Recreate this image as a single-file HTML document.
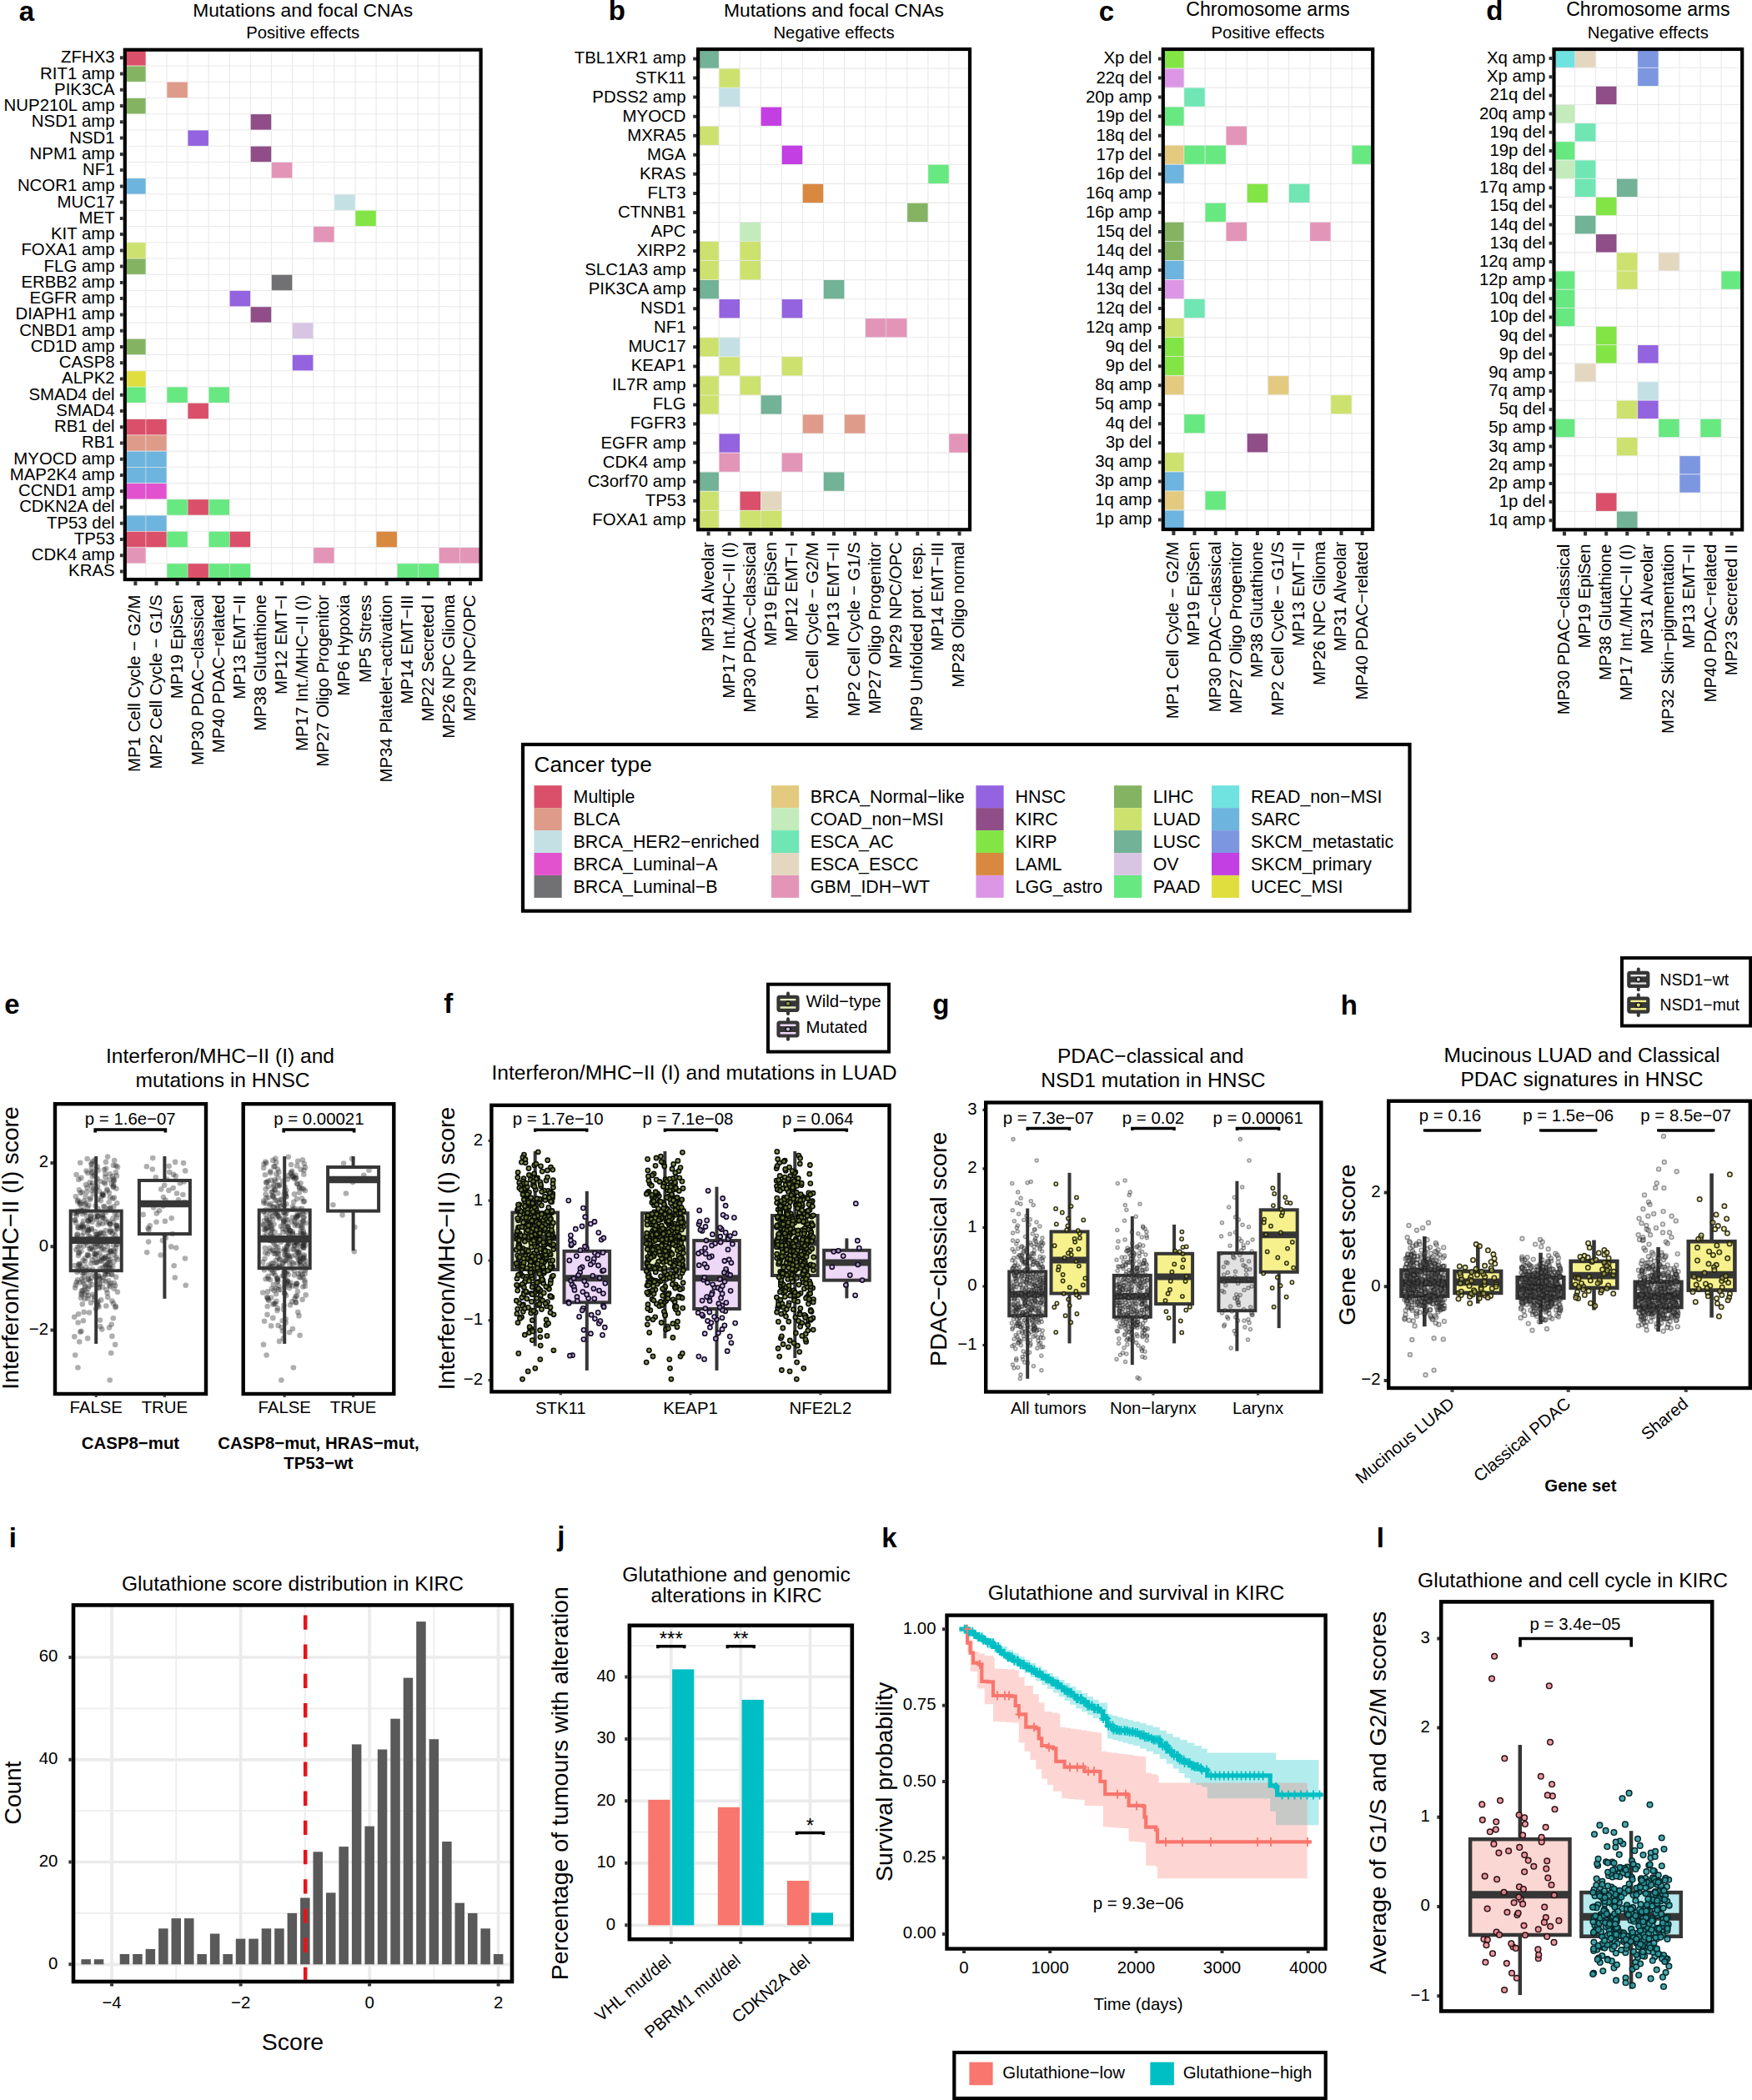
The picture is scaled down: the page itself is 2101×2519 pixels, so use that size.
<!DOCTYPE html>
<html lang="en"><head><meta charset="utf-8"><title>Figure</title>
<style>html,body{margin:0;padding:0;background:#fff}svg{display:block}text{font-family:"Liberation Sans",Arial,Helvetica,sans-serif}</style></head><body>
<svg width="2101" height="2519" viewBox="0 0 2101 2519">
<rect width="2101" height="2519" fill="#fff"/>
<g>
<path d="M174.9 59.7V695.1M200 59.7V695.1M225.1 59.7V695.1M250.2 59.7V695.1M275.3 59.7V695.1M300.4 59.7V695.1M325.5 59.7V695.1M350.6 59.7V695.1M375.8 59.7V695.1M400.9 59.7V695.1M426 59.7V695.1M451.1 59.7V695.1M476.2 59.7V695.1M501.3 59.7V695.1M526.4 59.7V695.1M551.5 59.7V695.1M149.8 79H576.6M149.8 98.2H576.6M149.8 117.5H576.6M149.8 136.7H576.6M149.8 156H576.6M149.8 175.2H576.6M149.8 194.5H576.6M149.8 213.7H576.6M149.8 233H576.6M149.8 252.2H576.6M149.8 271.5H576.6M149.8 290.8H576.6M149.8 310H576.6M149.8 329.3H576.6M149.8 348.5H576.6M149.8 367.8H576.6M149.8 387H576.6M149.8 406.3H576.6M149.8 425.5H576.6M149.8 444.8H576.6M149.8 464H576.6M149.8 483.3H576.6M149.8 502.6H576.6M149.8 521.8H576.6M149.8 541.1H576.6M149.8 560.3H576.6M149.8 579.6H576.6M149.8 598.8H576.6M149.8 618.1H576.6M149.8 637.3H576.6M149.8 656.6H576.6M149.8 675.8H576.6" stroke="#e9e9e9" stroke-width="1.1" fill="none"/>
<rect x="150.1" y="60.1" width="24.5" height="18.5" fill="#DA506A"/>
<rect x="150.1" y="79.4" width="24.5" height="18.5" fill="#84B462"/>
<rect x="200.3" y="98.6" width="24.5" height="18.5" fill="#DE9B89"/>
<rect x="150.1" y="117.9" width="24.5" height="18.5" fill="#84B462"/>
<rect x="300.7" y="137.1" width="24.5" height="18.5" fill="#8F4E88"/>
<rect x="225.4" y="156.4" width="24.5" height="18.5" fill="#9363E0"/>
<rect x="300.7" y="175.6" width="24.5" height="18.5" fill="#8F4E88"/>
<rect x="325.8" y="194.9" width="24.5" height="18.5" fill="#E395B8"/>
<rect x="150.1" y="214.1" width="24.5" height="18.5" fill="#6DB4DE"/>
<rect x="401.2" y="233.4" width="24.5" height="18.5" fill="#C4E0E4"/>
<rect x="426.3" y="252.6" width="24.5" height="18.5" fill="#83E545"/>
<rect x="376.1" y="271.9" width="24.5" height="18.5" fill="#E395B8"/>
<rect x="150.1" y="291.2" width="24.5" height="18.5" fill="#CDE16E"/>
<rect x="150.1" y="310.4" width="24.5" height="18.5" fill="#84B462"/>
<rect x="325.8" y="329.7" width="24.5" height="18.5" fill="#717073"/>
<rect x="275.6" y="348.9" width="24.5" height="18.5" fill="#9363E0"/>
<rect x="300.7" y="368.2" width="24.5" height="18.5" fill="#8F4E88"/>
<rect x="350.9" y="387.4" width="24.5" height="18.5" fill="#D8C5E3"/>
<rect x="150.1" y="406.7" width="24.5" height="18.5" fill="#84B462"/>
<rect x="350.9" y="425.9" width="24.5" height="18.5" fill="#9363E0"/>
<rect x="150.1" y="445.2" width="24.5" height="18.5" fill="#DFDE3E"/>
<rect x="150.1" y="464.4" width="24.5" height="18.5" fill="#67E881"/>
<rect x="200.3" y="464.4" width="24.5" height="18.5" fill="#67E881"/>
<rect x="250.5" y="464.4" width="24.5" height="18.5" fill="#67E881"/>
<rect x="225.4" y="483.7" width="24.5" height="18.5" fill="#DA506A"/>
<rect x="150.1" y="503" width="24.5" height="18.5" fill="#DA506A"/>
<rect x="175.2" y="503" width="24.5" height="18.5" fill="#DA506A"/>
<rect x="150.1" y="522.2" width="24.5" height="18.5" fill="#DE9B89"/>
<rect x="175.2" y="522.2" width="24.5" height="18.5" fill="#DE9B89"/>
<rect x="150.1" y="541.5" width="24.5" height="18.5" fill="#6DB4DE"/>
<rect x="175.2" y="541.5" width="24.5" height="18.5" fill="#6DB4DE"/>
<rect x="150.1" y="560.7" width="24.5" height="18.5" fill="#6DB4DE"/>
<rect x="175.2" y="560.7" width="24.5" height="18.5" fill="#6DB4DE"/>
<rect x="150.1" y="580" width="24.5" height="18.5" fill="#E252CE"/>
<rect x="175.2" y="580" width="24.5" height="18.5" fill="#E252CE"/>
<rect x="200.3" y="599.2" width="24.5" height="18.5" fill="#67E881"/>
<rect x="225.4" y="599.2" width="24.5" height="18.5" fill="#DA506A"/>
<rect x="250.5" y="599.2" width="24.5" height="18.5" fill="#67E881"/>
<rect x="150.1" y="618.5" width="24.5" height="18.5" fill="#6DB4DE"/>
<rect x="175.2" y="618.5" width="24.5" height="18.5" fill="#6DB4DE"/>
<rect x="150.1" y="637.7" width="24.5" height="18.5" fill="#DA506A"/>
<rect x="175.2" y="637.7" width="24.5" height="18.5" fill="#DA506A"/>
<rect x="200.3" y="637.7" width="24.5" height="18.5" fill="#67E881"/>
<rect x="250.5" y="637.7" width="24.5" height="18.5" fill="#67E881"/>
<rect x="275.6" y="637.7" width="24.5" height="18.5" fill="#DA506A"/>
<rect x="451.4" y="637.7" width="24.5" height="18.5" fill="#D98840"/>
<rect x="150.1" y="657" width="24.5" height="18.5" fill="#E395B8"/>
<rect x="376.1" y="657" width="24.5" height="18.5" fill="#E395B8"/>
<rect x="526.7" y="657" width="24.5" height="18.5" fill="#E395B8"/>
<rect x="551.8" y="657" width="24.5" height="18.5" fill="#E395B8"/>
<rect x="200.3" y="676.2" width="24.5" height="18.5" fill="#67E881"/>
<rect x="225.4" y="676.2" width="24.5" height="18.5" fill="#DA506A"/>
<rect x="250.5" y="676.2" width="24.5" height="18.5" fill="#67E881"/>
<rect x="275.6" y="676.2" width="24.5" height="18.5" fill="#67E881"/>
<rect x="476.5" y="676.2" width="24.5" height="18.5" fill="#67E881"/>
<rect x="501.6" y="676.2" width="24.5" height="18.5" fill="#67E881"/>
<rect x="149.8" y="59.7" width="426.8" height="635.4" fill="none" stroke="#000" stroke-width="4.2"/>
<path d="M147.7 69.3h-3.8M147.7 88.6h-3.8M147.7 107.8h-3.8M147.7 127.1h-3.8M147.7 146.3h-3.8M147.7 165.6h-3.8M147.7 184.9h-3.8M147.7 204.1h-3.8M147.7 223.4h-3.8M147.7 242.6h-3.8M147.7 261.9h-3.8M147.7 281.1h-3.8M147.7 300.4h-3.8M147.7 319.6h-3.8M147.7 338.9h-3.8M147.7 358.1h-3.8M147.7 377.4h-3.8M147.7 396.7h-3.8M147.7 415.9h-3.8M147.7 435.2h-3.8M147.7 454.4h-3.8M147.7 473.7h-3.8M147.7 492.9h-3.8M147.7 512.2h-3.8M147.7 531.4h-3.8M147.7 550.7h-3.8M147.7 569.9h-3.8M147.7 589.2h-3.8M147.7 608.5h-3.8M147.7 627.7h-3.8M147.7 647h-3.8M147.7 666.2h-3.8M147.7 685.5h-3.8M162.4 697.2v5M187.5 697.2v5M212.6 697.2v5M237.7 697.2v5M262.8 697.2v5M287.9 697.2v5M313 697.2v5M338.1 697.2v5M363.2 697.2v5M388.3 697.2v5M413.4 697.2v5M438.5 697.2v5M463.6 697.2v5M488.7 697.2v5M513.8 697.2v5M538.9 697.2v5M564 697.2v5" stroke="#333" stroke-width="4" fill="none"/>
<text x="137.6" y="75.2" font-size="20.4" text-anchor="end">ZFHX3</text>
<text x="137.6" y="94.5" font-size="20.4" text-anchor="end">RIT1 amp</text>
<text x="137.6" y="113.7" font-size="20.4" text-anchor="end">PIK3CA</text>
<text x="137.6" y="133" font-size="20.4" text-anchor="end">NUP210L amp</text>
<text x="137.6" y="152.2" font-size="20.4" text-anchor="end">NSD1 amp</text>
<text x="137.6" y="171.5" font-size="20.4" text-anchor="end">NSD1</text>
<text x="137.6" y="190.8" font-size="20.4" text-anchor="end">NPM1 amp</text>
<text x="137.6" y="210" font-size="20.4" text-anchor="end">NF1</text>
<text x="137.6" y="229.3" font-size="20.4" text-anchor="end">NCOR1 amp</text>
<text x="137.6" y="248.5" font-size="20.4" text-anchor="end">MUC17</text>
<text x="137.6" y="267.8" font-size="20.4" text-anchor="end">MET</text>
<text x="137.6" y="287" font-size="20.4" text-anchor="end">KIT amp</text>
<text x="137.6" y="306.3" font-size="20.4" text-anchor="end">FOXA1 amp</text>
<text x="137.6" y="325.5" font-size="20.4" text-anchor="end">FLG amp</text>
<text x="137.6" y="344.8" font-size="20.4" text-anchor="end">ERBB2 amp</text>
<text x="137.6" y="364" font-size="20.4" text-anchor="end">EGFR amp</text>
<text x="137.6" y="383.3" font-size="20.4" text-anchor="end">DIAPH1 amp</text>
<text x="137.6" y="402.6" font-size="20.4" text-anchor="end">CNBD1 amp</text>
<text x="137.6" y="421.8" font-size="20.4" text-anchor="end">CD1D amp</text>
<text x="137.6" y="441.1" font-size="20.4" text-anchor="end">CASP8</text>
<text x="137.6" y="460.3" font-size="20.4" text-anchor="end">ALPK2</text>
<text x="137.6" y="479.6" font-size="20.4" text-anchor="end">SMAD4 del</text>
<text x="137.6" y="498.8" font-size="20.4" text-anchor="end">SMAD4</text>
<text x="137.6" y="518.1" font-size="20.4" text-anchor="end">RB1 del</text>
<text x="137.6" y="537.3" font-size="20.4" text-anchor="end">RB1</text>
<text x="137.6" y="556.6" font-size="20.4" text-anchor="end">MYOCD amp</text>
<text x="137.6" y="575.8" font-size="20.4" text-anchor="end">MAP2K4 amp</text>
<text x="137.6" y="595.1" font-size="20.4" text-anchor="end">CCND1 amp</text>
<text x="137.6" y="614.4" font-size="20.4" text-anchor="end">CDKN2A del</text>
<text x="137.6" y="633.6" font-size="20.4" text-anchor="end">TP53 del</text>
<text x="137.6" y="652.9" font-size="20.4" text-anchor="end">TP53</text>
<text x="137.6" y="672.1" font-size="20.4" text-anchor="end">CDK4 amp</text>
<text x="137.6" y="691.4" font-size="20.4" text-anchor="end">KRAS</text>
<text x="168.4" y="713.5" font-size="20.4" text-anchor="end" transform="rotate(-90 168.4 713.5)">MP1 Cell Cycle − G2/M</text>
<text x="193.5" y="713.5" font-size="20.4" text-anchor="end" transform="rotate(-90 193.5 713.5)">MP2 Cell Cycle − G1/S</text>
<text x="218.6" y="713.5" font-size="20.4" text-anchor="end" transform="rotate(-90 218.6 713.5)">MP19 EpiSen</text>
<text x="243.7" y="713.5" font-size="20.4" text-anchor="end" transform="rotate(-90 243.7 713.5)">MP30 PDAC−classical</text>
<text x="268.8" y="713.5" font-size="20.4" text-anchor="end" transform="rotate(-90 268.8 713.5)">MP40 PDAC−related</text>
<text x="293.9" y="713.5" font-size="20.4" text-anchor="end" transform="rotate(-90 293.9 713.5)">MP13 EMT−II</text>
<text x="319" y="713.5" font-size="20.4" text-anchor="end" transform="rotate(-90 319 713.5)">MP38 Glutathione</text>
<text x="344.1" y="713.5" font-size="20.4" text-anchor="end" transform="rotate(-90 344.1 713.5)">MP12 EMT−I</text>
<text x="369.2" y="713.5" font-size="20.4" text-anchor="end" transform="rotate(-90 369.2 713.5)">MP17 Int./MHC−II (I)</text>
<text x="394.3" y="713.5" font-size="20.4" text-anchor="end" transform="rotate(-90 394.3 713.5)">MP27 Oligo Progenitor</text>
<text x="419.4" y="713.5" font-size="20.4" text-anchor="end" transform="rotate(-90 419.4 713.5)">MP6 Hypoxia</text>
<text x="444.5" y="713.5" font-size="20.4" text-anchor="end" transform="rotate(-90 444.5 713.5)">MP5 Stress</text>
<text x="469.6" y="713.5" font-size="20.4" text-anchor="end" transform="rotate(-90 469.6 713.5)">MP34 Platelet−activation</text>
<text x="494.7" y="713.5" font-size="20.4" text-anchor="end" transform="rotate(-90 494.7 713.5)">MP14 EMT−III</text>
<text x="519.8" y="713.5" font-size="20.4" text-anchor="end" transform="rotate(-90 519.8 713.5)">MP22 Secreted I</text>
<text x="544.9" y="713.5" font-size="20.4" text-anchor="end" transform="rotate(-90 544.9 713.5)">MP26 NPC Glioma</text>
<text x="570" y="713.5" font-size="20.4" text-anchor="end" transform="rotate(-90 570 713.5)">MP29 NPC/OPC</text>
<text x="363.2" y="20" font-size="22.85" text-anchor="middle">Mutations and focal CNAs</text>
<text x="363.2" y="46" font-size="20.3" text-anchor="middle">Positive effects</text>
</g>
<g>
<path d="M862.2 59V635.3M887.2 59V635.3M912.3 59V635.3M937.4 59V635.3M962.4 59V635.3M987.5 59V635.3M1012.6 59V635.3M1037.7 59V635.3M1062.7 59V635.3M1087.8 59V635.3M1112.9 59V635.3M1137.9 59V635.3M837.1 82.1H1163M837.1 105.1H1163M837.1 128.2H1163M837.1 151.2H1163M837.1 174.3H1163M837.1 197.3H1163M837.1 220.4H1163M837.1 243.4H1163M837.1 266.5H1163M837.1 289.5H1163M837.1 312.6H1163M837.1 335.6H1163M837.1 358.7H1163M837.1 381.7H1163M837.1 404.8H1163M837.1 427.8H1163M837.1 450.9H1163M837.1 473.9H1163M837.1 497H1163M837.1 520H1163M837.1 543.1H1163M837.1 566.1H1163M837.1 589.2H1163M837.1 612.2H1163" stroke="#e9e9e9" stroke-width="1.1" fill="none"/>
<rect x="837.4" y="59.4" width="24.5" height="22.3" fill="#72B297"/>
<rect x="862.5" y="82.5" width="24.5" height="22.3" fill="#CDE16E"/>
<rect x="862.5" y="105.5" width="24.5" height="22.3" fill="#C4E0E4"/>
<rect x="912.6" y="128.6" width="24.5" height="22.3" fill="#C33FE4"/>
<rect x="837.4" y="151.6" width="24.5" height="22.3" fill="#CDE16E"/>
<rect x="937.7" y="174.7" width="24.5" height="22.3" fill="#C33FE4"/>
<rect x="1113.2" y="197.7" width="24.5" height="22.3" fill="#67E881"/>
<rect x="962.7" y="220.8" width="24.5" height="22.3" fill="#D98840"/>
<rect x="1088.1" y="243.8" width="24.5" height="22.3" fill="#84B462"/>
<rect x="887.5" y="266.9" width="24.5" height="22.3" fill="#C3EBBC"/>
<rect x="837.4" y="289.9" width="24.5" height="22.3" fill="#CDE16E"/>
<rect x="887.5" y="289.9" width="24.5" height="22.3" fill="#CDE16E"/>
<rect x="837.4" y="313" width="24.5" height="22.3" fill="#CDE16E"/>
<rect x="887.5" y="313" width="24.5" height="22.3" fill="#CDE16E"/>
<rect x="837.4" y="336" width="24.5" height="22.3" fill="#72B297"/>
<rect x="987.8" y="336" width="24.5" height="22.3" fill="#72B297"/>
<rect x="862.5" y="359.1" width="24.5" height="22.3" fill="#9363E0"/>
<rect x="937.7" y="359.1" width="24.5" height="22.3" fill="#9363E0"/>
<rect x="1038" y="382.1" width="24.5" height="22.3" fill="#E395B8"/>
<rect x="1063" y="382.1" width="24.5" height="22.3" fill="#E395B8"/>
<rect x="837.4" y="405.2" width="24.5" height="22.3" fill="#CDE16E"/>
<rect x="862.5" y="405.2" width="24.5" height="22.3" fill="#C4E0E4"/>
<rect x="862.5" y="428.2" width="24.5" height="22.3" fill="#CDE16E"/>
<rect x="937.7" y="428.2" width="24.5" height="22.3" fill="#CDE16E"/>
<rect x="837.4" y="451.3" width="24.5" height="22.3" fill="#CDE16E"/>
<rect x="887.5" y="451.3" width="24.5" height="22.3" fill="#CDE16E"/>
<rect x="837.4" y="474.3" width="24.5" height="22.3" fill="#CDE16E"/>
<rect x="912.6" y="474.3" width="24.5" height="22.3" fill="#72B297"/>
<rect x="962.7" y="497.4" width="24.5" height="22.3" fill="#DE9B89"/>
<rect x="1012.9" y="497.4" width="24.5" height="22.3" fill="#DE9B89"/>
<rect x="862.5" y="520.4" width="24.5" height="22.3" fill="#9363E0"/>
<rect x="1138.2" y="520.4" width="24.5" height="22.3" fill="#E395B8"/>
<rect x="862.5" y="543.5" width="24.5" height="22.3" fill="#E395B8"/>
<rect x="937.7" y="543.5" width="24.5" height="22.3" fill="#E395B8"/>
<rect x="837.4" y="566.5" width="24.5" height="22.3" fill="#72B297"/>
<rect x="987.8" y="566.5" width="24.5" height="22.3" fill="#72B297"/>
<rect x="837.4" y="589.6" width="24.5" height="22.3" fill="#CDE16E"/>
<rect x="887.5" y="589.6" width="24.5" height="22.3" fill="#DA506A"/>
<rect x="912.6" y="589.6" width="24.5" height="22.3" fill="#E3D7C0"/>
<rect x="837.4" y="612.6" width="24.5" height="22.3" fill="#CDE16E"/>
<rect x="887.5" y="612.6" width="24.5" height="22.3" fill="#CDE16E"/>
<rect x="912.6" y="612.6" width="24.5" height="22.3" fill="#CDE16E"/>
<rect x="837.1" y="59" width="325.9" height="576.3" fill="none" stroke="#000" stroke-width="4.2"/>
<path d="M835 70.5h-3.8M835 93.6h-3.8M835 116.6h-3.8M835 139.7h-3.8M835 162.7h-3.8M835 185.8h-3.8M835 208.8h-3.8M835 231.9h-3.8M835 254.9h-3.8M835 278h-3.8M835 301h-3.8M835 324.1h-3.8M835 347.1h-3.8M835 370.2h-3.8M835 393.3h-3.8M835 416.3h-3.8M835 439.4h-3.8M835 462.4h-3.8M835 485.5h-3.8M835 508.5h-3.8M835 531.6h-3.8M835 554.6h-3.8M835 577.7h-3.8M835 600.7h-3.8M835 623.8h-3.8M849.6 637.4v5M874.7 637.4v5M899.8 637.4v5M924.8 637.4v5M949.9 637.4v5M975 637.4v5M1000 637.4v5M1025.1 637.4v5M1050.2 637.4v5M1075.3 637.4v5M1100.3 637.4v5M1125.4 637.4v5M1150.5 637.4v5" stroke="#333" stroke-width="4" fill="none"/>
<text x="822.5" y="76.4" font-size="20.4" text-anchor="end">TBL1XR1 amp</text>
<text x="822.5" y="99.5" font-size="20.4" text-anchor="end">STK11</text>
<text x="822.5" y="122.5" font-size="20.4" text-anchor="end">PDSS2 amp</text>
<text x="822.5" y="145.6" font-size="20.4" text-anchor="end">MYOCD</text>
<text x="822.5" y="168.6" font-size="20.4" text-anchor="end">MXRA5</text>
<text x="822.5" y="191.7" font-size="20.4" text-anchor="end">MGA</text>
<text x="822.5" y="214.7" font-size="20.4" text-anchor="end">KRAS</text>
<text x="822.5" y="237.8" font-size="20.4" text-anchor="end">FLT3</text>
<text x="822.5" y="260.8" font-size="20.4" text-anchor="end">CTNNB1</text>
<text x="822.5" y="283.9" font-size="20.4" text-anchor="end">APC</text>
<text x="822.5" y="306.9" font-size="20.4" text-anchor="end">XIRP2</text>
<text x="822.5" y="330" font-size="20.4" text-anchor="end">SLC1A3 amp</text>
<text x="822.5" y="353" font-size="20.4" text-anchor="end">PIK3CA amp</text>
<text x="822.5" y="376.1" font-size="20.4" text-anchor="end">NSD1</text>
<text x="822.5" y="399.2" font-size="20.4" text-anchor="end">NF1</text>
<text x="822.5" y="422.2" font-size="20.4" text-anchor="end">MUC17</text>
<text x="822.5" y="445.3" font-size="20.4" text-anchor="end">KEAP1</text>
<text x="822.5" y="468.3" font-size="20.4" text-anchor="end">IL7R amp</text>
<text x="822.5" y="491.4" font-size="20.4" text-anchor="end">FLG</text>
<text x="822.5" y="514.4" font-size="20.4" text-anchor="end">FGFR3</text>
<text x="822.5" y="537.5" font-size="20.4" text-anchor="end">EGFR amp</text>
<text x="822.5" y="560.5" font-size="20.4" text-anchor="end">CDK4 amp</text>
<text x="822.5" y="583.6" font-size="20.4" text-anchor="end">C3orf70 amp</text>
<text x="822.5" y="606.6" font-size="20.4" text-anchor="end">TP53</text>
<text x="822.5" y="629.7" font-size="20.4" text-anchor="end">FOXA1 amp</text>
<text x="855.6" y="650.2" font-size="20.4" text-anchor="end" transform="rotate(-90 855.6 650.2)">MP31 Alveolar</text>
<text x="880.7" y="650.2" font-size="20.4" text-anchor="end" transform="rotate(-90 880.7 650.2)">MP17 Int./MHC−II (I)</text>
<text x="905.8" y="650.2" font-size="20.4" text-anchor="end" transform="rotate(-90 905.8 650.2)">MP30 PDAC−classical</text>
<text x="930.8" y="650.2" font-size="20.4" text-anchor="end" transform="rotate(-90 930.8 650.2)">MP19 EpiSen</text>
<text x="955.9" y="650.2" font-size="20.4" text-anchor="end" transform="rotate(-90 955.9 650.2)">MP12 EMT−I</text>
<text x="981" y="650.2" font-size="20.4" text-anchor="end" transform="rotate(-90 981 650.2)">MP1 Cell Cycle − G2/M</text>
<text x="1006" y="650.2" font-size="20.4" text-anchor="end" transform="rotate(-90 1006 650.2)">MP13 EMT−II</text>
<text x="1031.1" y="650.2" font-size="20.4" text-anchor="end" transform="rotate(-90 1031.1 650.2)">MP2 Cell Cycle − G1/S</text>
<text x="1056.2" y="650.2" font-size="20.4" text-anchor="end" transform="rotate(-90 1056.2 650.2)">MP27 Oligo Progenitor</text>
<text x="1081.3" y="650.2" font-size="20.4" text-anchor="end" transform="rotate(-90 1081.3 650.2)">MP29 NPC/OPC</text>
<text x="1106.3" y="650.2" font-size="20.4" text-anchor="end" transform="rotate(-90 1106.3 650.2)">MP9 Unfolded prot. resp.</text>
<text x="1131.4" y="650.2" font-size="20.4" text-anchor="end" transform="rotate(-90 1131.4 650.2)">MP14 EMT−III</text>
<text x="1156.5" y="650.2" font-size="20.4" text-anchor="end" transform="rotate(-90 1156.5 650.2)">MP28 Oligo normal</text>
<text x="1000" y="20" font-size="22.85" text-anchor="middle">Mutations and focal CNAs</text>
<text x="1000" y="46" font-size="20.3" text-anchor="middle">Negative effects</text>
</g>
<g>
<path d="M1419.9 59V635M1445.1 59V635M1470.2 59V635M1495.4 59V635M1520.5 59V635M1545.6 59V635M1570.8 59V635M1595.9 59V635M1621.1 59V635M1394.8 82H1646.2M1394.8 105.1H1646.2M1394.8 128.1H1646.2M1394.8 151.2H1646.2M1394.8 174.2H1646.2M1394.8 197.2H1646.2M1394.8 220.3H1646.2M1394.8 243.3H1646.2M1394.8 266.4H1646.2M1394.8 289.4H1646.2M1394.8 312.4H1646.2M1394.8 335.5H1646.2M1394.8 358.5H1646.2M1394.8 381.6H1646.2M1394.8 404.6H1646.2M1394.8 427.6H1646.2M1394.8 450.7H1646.2M1394.8 473.7H1646.2M1394.8 496.8H1646.2M1394.8 519.8H1646.2M1394.8 542.8H1646.2M1394.8 565.9H1646.2M1394.8 588.9H1646.2M1394.8 612H1646.2" stroke="#e9e9e9" stroke-width="1.1" fill="none"/>
<rect x="1395.1" y="59.4" width="24.5" height="22.2" fill="#83E545"/>
<rect x="1395.1" y="82.4" width="24.5" height="22.2" fill="#DB97E6"/>
<rect x="1420.2" y="105.5" width="24.5" height="22.2" fill="#70E6B5"/>
<rect x="1395.1" y="128.5" width="24.5" height="22.2" fill="#67E881"/>
<rect x="1470.5" y="151.6" width="24.5" height="22.2" fill="#E395B8"/>
<rect x="1395.1" y="174.6" width="24.5" height="22.2" fill="#E3CA80"/>
<rect x="1420.2" y="174.6" width="24.5" height="22.2" fill="#67E881"/>
<rect x="1445.4" y="174.6" width="24.5" height="22.2" fill="#67E881"/>
<rect x="1621.4" y="174.6" width="24.5" height="22.2" fill="#67E881"/>
<rect x="1395.1" y="197.6" width="24.5" height="22.2" fill="#6DB4DE"/>
<rect x="1495.7" y="220.7" width="24.5" height="22.2" fill="#83E545"/>
<rect x="1545.9" y="220.7" width="24.5" height="22.2" fill="#70E6B5"/>
<rect x="1445.4" y="243.7" width="24.5" height="22.2" fill="#67E881"/>
<rect x="1395.1" y="266.8" width="24.5" height="22.2" fill="#84B462"/>
<rect x="1470.5" y="266.8" width="24.5" height="22.2" fill="#E395B8"/>
<rect x="1571.1" y="266.8" width="24.5" height="22.2" fill="#E395B8"/>
<rect x="1395.1" y="289.8" width="24.5" height="22.2" fill="#84B462"/>
<rect x="1395.1" y="312.8" width="24.5" height="22.2" fill="#6DB4DE"/>
<rect x="1395.1" y="335.9" width="24.5" height="22.2" fill="#DB97E6"/>
<rect x="1420.2" y="358.9" width="24.5" height="22.2" fill="#70E6B5"/>
<rect x="1395.1" y="382" width="24.5" height="22.2" fill="#CDE16E"/>
<rect x="1395.1" y="405" width="24.5" height="22.2" fill="#83E545"/>
<rect x="1395.1" y="428" width="24.5" height="22.2" fill="#83E545"/>
<rect x="1395.1" y="451.1" width="24.5" height="22.2" fill="#E3CA80"/>
<rect x="1520.8" y="451.1" width="24.5" height="22.2" fill="#E3CA80"/>
<rect x="1596.2" y="474.1" width="24.5" height="22.2" fill="#CDE16E"/>
<rect x="1420.2" y="497.2" width="24.5" height="22.2" fill="#67E881"/>
<rect x="1495.7" y="520.2" width="24.5" height="22.2" fill="#8F4E88"/>
<rect x="1395.1" y="543.2" width="24.5" height="22.2" fill="#CDE16E"/>
<rect x="1395.1" y="566.3" width="24.5" height="22.2" fill="#6DB4DE"/>
<rect x="1395.1" y="589.3" width="24.5" height="22.2" fill="#E3CA80"/>
<rect x="1445.4" y="589.3" width="24.5" height="22.2" fill="#67E881"/>
<rect x="1395.1" y="612.4" width="24.5" height="22.2" fill="#6DB4DE"/>
<rect x="1394.8" y="59" width="251.4" height="576" fill="none" stroke="#000" stroke-width="4.2"/>
<path d="M1392.7 70.5h-3.8M1392.7 93.6h-3.8M1392.7 116.6h-3.8M1392.7 139.6h-3.8M1392.7 162.7h-3.8M1392.7 185.7h-3.8M1392.7 208.8h-3.8M1392.7 231.8h-3.8M1392.7 254.8h-3.8M1392.7 277.9h-3.8M1392.7 300.9h-3.8M1392.7 324h-3.8M1392.7 347h-3.8M1392.7 370h-3.8M1392.7 393.1h-3.8M1392.7 416.1h-3.8M1392.7 439.2h-3.8M1392.7 462.2h-3.8M1392.7 485.2h-3.8M1392.7 508.3h-3.8M1392.7 531.3h-3.8M1392.7 554.4h-3.8M1392.7 577.4h-3.8M1392.7 600.4h-3.8M1392.7 623.5h-3.8M1407.4 637.1v5M1432.5 637.1v5M1457.7 637.1v5M1482.8 637.1v5M1507.9 637.1v5M1533.1 637.1v5M1558.2 637.1v5M1583.3 637.1v5M1608.5 637.1v5M1633.6 637.1v5" stroke="#333" stroke-width="4" fill="none"/>
<text x="1381.3" y="76.4" font-size="20.4" text-anchor="end">Xp del</text>
<text x="1381.3" y="99.5" font-size="20.4" text-anchor="end">22q del</text>
<text x="1381.3" y="122.5" font-size="20.4" text-anchor="end">20p amp</text>
<text x="1381.3" y="145.5" font-size="20.4" text-anchor="end">19p del</text>
<text x="1381.3" y="168.6" font-size="20.4" text-anchor="end">18q del</text>
<text x="1381.3" y="191.6" font-size="20.4" text-anchor="end">17p del</text>
<text x="1381.3" y="214.7" font-size="20.4" text-anchor="end">16p del</text>
<text x="1381.3" y="237.7" font-size="20.4" text-anchor="end">16q amp</text>
<text x="1381.3" y="260.7" font-size="20.4" text-anchor="end">16p amp</text>
<text x="1381.3" y="283.8" font-size="20.4" text-anchor="end">15q del</text>
<text x="1381.3" y="306.8" font-size="20.4" text-anchor="end">14q del</text>
<text x="1381.3" y="329.9" font-size="20.4" text-anchor="end">14q amp</text>
<text x="1381.3" y="352.9" font-size="20.4" text-anchor="end">13q del</text>
<text x="1381.3" y="375.9" font-size="20.4" text-anchor="end">12q del</text>
<text x="1381.3" y="399" font-size="20.4" text-anchor="end">12q amp</text>
<text x="1381.3" y="422" font-size="20.4" text-anchor="end">9q del</text>
<text x="1381.3" y="445.1" font-size="20.4" text-anchor="end">9p del</text>
<text x="1381.3" y="468.1" font-size="20.4" text-anchor="end">8q amp</text>
<text x="1381.3" y="491.1" font-size="20.4" text-anchor="end">5q amp</text>
<text x="1381.3" y="514.2" font-size="20.4" text-anchor="end">4q del</text>
<text x="1381.3" y="537.2" font-size="20.4" text-anchor="end">3p del</text>
<text x="1381.3" y="560.3" font-size="20.4" text-anchor="end">3q amp</text>
<text x="1381.3" y="583.3" font-size="20.4" text-anchor="end">3p amp</text>
<text x="1381.3" y="606.3" font-size="20.4" text-anchor="end">1q amp</text>
<text x="1381.3" y="629.4" font-size="20.4" text-anchor="end">1p amp</text>
<text x="1413.4" y="649.7" font-size="20.4" text-anchor="end" transform="rotate(-90 1413.4 649.7)">MP1 Cell Cycle − G2/M</text>
<text x="1438.5" y="649.7" font-size="20.4" text-anchor="end" transform="rotate(-90 1438.5 649.7)">MP19 EpiSen</text>
<text x="1463.7" y="649.7" font-size="20.4" text-anchor="end" transform="rotate(-90 1463.7 649.7)">MP30 PDAC−classical</text>
<text x="1488.8" y="649.7" font-size="20.4" text-anchor="end" transform="rotate(-90 1488.8 649.7)">MP27 Oligo Progenitor</text>
<text x="1513.9" y="649.7" font-size="20.4" text-anchor="end" transform="rotate(-90 1513.9 649.7)">MP38 Glutathione</text>
<text x="1539.1" y="649.7" font-size="20.4" text-anchor="end" transform="rotate(-90 1539.1 649.7)">MP2 Cell Cycle − G1/S</text>
<text x="1564.2" y="649.7" font-size="20.4" text-anchor="end" transform="rotate(-90 1564.2 649.7)">MP13 EMT−II</text>
<text x="1589.3" y="649.7" font-size="20.4" text-anchor="end" transform="rotate(-90 1589.3 649.7)">MP26 NPC Glioma</text>
<text x="1614.5" y="649.7" font-size="20.4" text-anchor="end" transform="rotate(-90 1614.5 649.7)">MP31 Alveolar</text>
<text x="1639.6" y="649.7" font-size="20.4" text-anchor="end" transform="rotate(-90 1639.6 649.7)">MP40 PDAC−related</text>
<text x="1520.5" y="19.3" font-size="23.1" text-anchor="middle">Chromosome arms</text>
<text x="1520.5" y="45.7" font-size="20.3" text-anchor="middle">Positive effects</text>
</g>
<g>
<path d="M1888.6 59V635.4M1913.7 59V635.4M1938.7 59V635.4M1963.8 59V635.4M1988.9 59V635.4M2014 59V635.4M2039 59V635.4M2064.1 59V635.4M1863.5 81.2H2089.2M1863.5 103.3H2089.2M1863.5 125.5H2089.2M1863.5 147.7H2089.2M1863.5 169.8H2089.2M1863.5 192H2089.2M1863.5 214.2H2089.2M1863.5 236.4H2089.2M1863.5 258.5H2089.2M1863.5 280.7H2089.2M1863.5 302.9H2089.2M1863.5 325H2089.2M1863.5 347.2H2089.2M1863.5 369.4H2089.2M1863.5 391.5H2089.2M1863.5 413.7H2089.2M1863.5 435.9H2089.2M1863.5 458H2089.2M1863.5 480.2H2089.2M1863.5 502.4H2089.2M1863.5 524.6H2089.2M1863.5 546.7H2089.2M1863.5 568.9H2089.2M1863.5 591.1H2089.2M1863.5 613.2H2089.2" stroke="#e9e9e9" stroke-width="1.1" fill="none"/>
<rect x="1863.8" y="59.4" width="24.5" height="21.4" fill="#70E2E0"/>
<rect x="1888.9" y="59.4" width="24.5" height="21.4" fill="#E3D7C0"/>
<rect x="1964.1" y="59.4" width="24.5" height="21.4" fill="#7C96E0"/>
<rect x="1964.1" y="81.6" width="24.5" height="21.4" fill="#7C96E0"/>
<rect x="1914" y="103.7" width="24.5" height="21.4" fill="#8F4E88"/>
<rect x="1863.8" y="125.9" width="24.5" height="21.4" fill="#C3EBBC"/>
<rect x="1888.9" y="148.1" width="24.5" height="21.4" fill="#70E6B5"/>
<rect x="1863.8" y="170.2" width="24.5" height="21.4" fill="#67E881"/>
<rect x="1863.8" y="192.4" width="24.5" height="21.4" fill="#C3EBBC"/>
<rect x="1888.9" y="192.4" width="24.5" height="21.4" fill="#70E6B5"/>
<rect x="1888.9" y="214.6" width="24.5" height="21.4" fill="#70E6B5"/>
<rect x="1939" y="214.6" width="24.5" height="21.4" fill="#72B297"/>
<rect x="1914" y="236.8" width="24.5" height="21.4" fill="#83E545"/>
<rect x="1888.9" y="258.9" width="24.5" height="21.4" fill="#72B297"/>
<rect x="1914" y="281.1" width="24.5" height="21.4" fill="#8F4E88"/>
<rect x="1939" y="303.3" width="24.5" height="21.4" fill="#CDE16E"/>
<rect x="1989.2" y="303.3" width="24.5" height="21.4" fill="#E3D7C0"/>
<rect x="1863.8" y="325.4" width="24.5" height="21.4" fill="#67E881"/>
<rect x="1939" y="325.4" width="24.5" height="21.4" fill="#CDE16E"/>
<rect x="2064.4" y="325.4" width="24.5" height="21.4" fill="#67E881"/>
<rect x="1863.8" y="347.6" width="24.5" height="21.4" fill="#67E881"/>
<rect x="1863.8" y="369.8" width="24.5" height="21.4" fill="#67E881"/>
<rect x="1914" y="391.9" width="24.5" height="21.4" fill="#83E545"/>
<rect x="1914" y="414.1" width="24.5" height="21.4" fill="#83E545"/>
<rect x="1964.1" y="414.1" width="24.5" height="21.4" fill="#9363E0"/>
<rect x="1888.9" y="436.3" width="24.5" height="21.4" fill="#E3D7C0"/>
<rect x="1964.1" y="458.4" width="24.5" height="21.4" fill="#C4E0E4"/>
<rect x="1939" y="480.6" width="24.5" height="21.4" fill="#CDE16E"/>
<rect x="1964.1" y="480.6" width="24.5" height="21.4" fill="#9363E0"/>
<rect x="1863.8" y="502.8" width="24.5" height="21.4" fill="#67E881"/>
<rect x="1989.2" y="502.8" width="24.5" height="21.4" fill="#67E881"/>
<rect x="2039.3" y="502.8" width="24.5" height="21.4" fill="#67E881"/>
<rect x="1939" y="525" width="24.5" height="21.4" fill="#CDE16E"/>
<rect x="2014.3" y="547.1" width="24.5" height="21.4" fill="#7C96E0"/>
<rect x="2014.3" y="569.3" width="24.5" height="21.4" fill="#7C96E0"/>
<rect x="1914" y="591.5" width="24.5" height="21.4" fill="#DA506A"/>
<rect x="1939" y="613.6" width="24.5" height="21.4" fill="#72B297"/>
<rect x="1863.5" y="59" width="225.7" height="576.4" fill="none" stroke="#000" stroke-width="4.2"/>
<path d="M1861.4 70.1h-3.8M1861.4 92.3h-3.8M1861.4 114.4h-3.8M1861.4 136.6h-3.8M1861.4 158.8h-3.8M1861.4 180.9h-3.8M1861.4 203.1h-3.8M1861.4 225.3h-3.8M1861.4 247.4h-3.8M1861.4 269.6h-3.8M1861.4 291.8h-3.8M1861.4 313.9h-3.8M1861.4 336.1h-3.8M1861.4 358.3h-3.8M1861.4 380.5h-3.8M1861.4 402.6h-3.8M1861.4 424.8h-3.8M1861.4 447h-3.8M1861.4 469.1h-3.8M1861.4 491.3h-3.8M1861.4 513.5h-3.8M1861.4 535.6h-3.8M1861.4 557.8h-3.8M1861.4 580h-3.8M1861.4 602.1h-3.8M1861.4 624.3h-3.8M1876 637.5v5M1901.1 637.5v5M1926.2 637.5v5M1951.3 637.5v5M1976.3 637.5v5M2001.4 637.5v5M2026.5 637.5v5M2051.6 637.5v5M2076.7 637.5v5" stroke="#333" stroke-width="4" fill="none"/>
<text x="1853.3" y="76" font-size="20.4" text-anchor="end">Xq amp</text>
<text x="1853.3" y="98.2" font-size="20.4" text-anchor="end">Xp amp</text>
<text x="1853.3" y="120.3" font-size="20.4" text-anchor="end">21q del</text>
<text x="1853.3" y="142.5" font-size="20.4" text-anchor="end">20q amp</text>
<text x="1853.3" y="164.7" font-size="20.4" text-anchor="end">19q del</text>
<text x="1853.3" y="186.8" font-size="20.4" text-anchor="end">19p del</text>
<text x="1853.3" y="209" font-size="20.4" text-anchor="end">18q del</text>
<text x="1853.3" y="231.2" font-size="20.4" text-anchor="end">17q amp</text>
<text x="1853.3" y="253.3" font-size="20.4" text-anchor="end">15q del</text>
<text x="1853.3" y="275.5" font-size="20.4" text-anchor="end">14q del</text>
<text x="1853.3" y="297.7" font-size="20.4" text-anchor="end">13q del</text>
<text x="1853.3" y="319.8" font-size="20.4" text-anchor="end">12q amp</text>
<text x="1853.3" y="342" font-size="20.4" text-anchor="end">12p amp</text>
<text x="1853.3" y="364.2" font-size="20.4" text-anchor="end">10q del</text>
<text x="1853.3" y="386.4" font-size="20.4" text-anchor="end">10p del</text>
<text x="1853.3" y="408.5" font-size="20.4" text-anchor="end">9q del</text>
<text x="1853.3" y="430.7" font-size="20.4" text-anchor="end">9p del</text>
<text x="1853.3" y="452.9" font-size="20.4" text-anchor="end">9q amp</text>
<text x="1853.3" y="475" font-size="20.4" text-anchor="end">7q amp</text>
<text x="1853.3" y="497.2" font-size="20.4" text-anchor="end">5q del</text>
<text x="1853.3" y="519.4" font-size="20.4" text-anchor="end">5p amp</text>
<text x="1853.3" y="541.5" font-size="20.4" text-anchor="end">3q amp</text>
<text x="1853.3" y="563.7" font-size="20.4" text-anchor="end">2q amp</text>
<text x="1853.3" y="585.9" font-size="20.4" text-anchor="end">2p amp</text>
<text x="1853.3" y="608" font-size="20.4" text-anchor="end">1p del</text>
<text x="1853.3" y="630.2" font-size="20.4" text-anchor="end">1q amp</text>
<text x="1882" y="652.7" font-size="20.4" text-anchor="end" transform="rotate(-90 1882 652.7)">MP30 PDAC−classical</text>
<text x="1907.1" y="652.7" font-size="20.4" text-anchor="end" transform="rotate(-90 1907.1 652.7)">MP19 EpiSen</text>
<text x="1932.2" y="652.7" font-size="20.4" text-anchor="end" transform="rotate(-90 1932.2 652.7)">MP38 Glutathione</text>
<text x="1957.3" y="652.7" font-size="20.4" text-anchor="end" transform="rotate(-90 1957.3 652.7)">MP17 Int./MHC−II (I)</text>
<text x="1982.3" y="652.7" font-size="20.4" text-anchor="end" transform="rotate(-90 1982.3 652.7)">MP31 Alveolar</text>
<text x="2007.4" y="652.7" font-size="20.4" text-anchor="end" transform="rotate(-90 2007.4 652.7)">MP32 Skin−pigmentation</text>
<text x="2032.5" y="652.7" font-size="20.4" text-anchor="end" transform="rotate(-90 2032.5 652.7)">MP13 EMT−II</text>
<text x="2057.6" y="652.7" font-size="20.4" text-anchor="end" transform="rotate(-90 2057.6 652.7)">MP40 PDAC−related</text>
<text x="2082.7" y="652.7" font-size="20.4" text-anchor="end" transform="rotate(-90 2082.7 652.7)">MP23 Secreted II</text>
<text x="1976.3" y="19.3" font-size="23.1" text-anchor="middle">Chromosome arms</text>
<text x="1976.3" y="45.7" font-size="20.3" text-anchor="middle">Negative effects</text>
</g>
<text x="22.8" y="24.6" font-size="33" font-weight="bold">a</text>
<text x="729.8" y="24.1" font-size="33" font-weight="bold">b</text>
<text x="1317.8" y="24.6" font-size="33" font-weight="bold">c</text>
<text x="1782.3" y="23.6" font-size="33" font-weight="bold">d</text>
<rect x="627" y="893" width="1063.5" height="199.7" fill="#fff" stroke="#000" stroke-width="4.2"/>
<text x="640.5" y="926" font-size="26.2">Cancer type</text>
<rect x="640.5" y="942.2" width="33.2" height="26.9" fill="#DA506A"/>
<text x="687.6" y="963.2" font-size="21.4">Multiple</text>
<rect x="640.5" y="969.1" width="33.2" height="26.9" fill="#DE9B89"/>
<text x="687.6" y="990.1" font-size="21.4">BLCA</text>
<rect x="640.5" y="996.1" width="33.2" height="26.9" fill="#C4E0E4"/>
<text x="687.6" y="1017.1" font-size="21.4">BRCA_HER2−enriched</text>
<rect x="640.5" y="1023" width="33.2" height="26.9" fill="#E252CE"/>
<text x="687.6" y="1044" font-size="21.4">BRCA_Luminal−A</text>
<rect x="640.5" y="1050" width="33.2" height="26.9" fill="#717073"/>
<text x="687.6" y="1071" font-size="21.4">BRCA_Luminal−B</text>
<rect x="925" y="942.2" width="33.2" height="26.9" fill="#E3CA80"/>
<text x="971.8" y="963.2" font-size="21.4">BRCA_Normal−like</text>
<rect x="925" y="969.1" width="33.2" height="26.9" fill="#C3EBBC"/>
<text x="971.8" y="990.1" font-size="21.4">COAD_non−MSI</text>
<rect x="925" y="996.1" width="33.2" height="26.9" fill="#70E6B5"/>
<text x="971.8" y="1017.1" font-size="21.4">ESCA_AC</text>
<rect x="925" y="1023" width="33.2" height="26.9" fill="#E3D7C0"/>
<text x="971.8" y="1044" font-size="21.4">ESCA_ESCC</text>
<rect x="925" y="1050" width="33.2" height="26.9" fill="#E395B8"/>
<text x="971.8" y="1071" font-size="21.4">GBM_IDH−WT</text>
<rect x="1170.4" y="942.2" width="33.2" height="26.9" fill="#9363E0"/>
<text x="1217.5" y="963.2" font-size="21.4">HNSC</text>
<rect x="1170.4" y="969.1" width="33.2" height="26.9" fill="#8F4E88"/>
<text x="1217.5" y="990.1" font-size="21.4">KIRC</text>
<rect x="1170.4" y="996.1" width="33.2" height="26.9" fill="#83E545"/>
<text x="1217.5" y="1017.1" font-size="21.4">KIRP</text>
<rect x="1170.4" y="1023" width="33.2" height="26.9" fill="#D98840"/>
<text x="1217.5" y="1044" font-size="21.4">LAML</text>
<rect x="1170.4" y="1050" width="33.2" height="26.9" fill="#DB97E6"/>
<text x="1217.5" y="1071" font-size="21.4">LGG_astro</text>
<rect x="1336" y="942.2" width="33.2" height="26.9" fill="#84B462"/>
<text x="1382.7" y="963.2" font-size="21.4">LIHC</text>
<rect x="1336" y="969.1" width="33.2" height="26.9" fill="#CDE16E"/>
<text x="1382.7" y="990.1" font-size="21.4">LUAD</text>
<rect x="1336" y="996.1" width="33.2" height="26.9" fill="#72B297"/>
<text x="1382.7" y="1017.1" font-size="21.4">LUSC</text>
<rect x="1336" y="1023" width="33.2" height="26.9" fill="#D8C5E3"/>
<text x="1382.7" y="1044" font-size="21.4">OV</text>
<rect x="1336" y="1050" width="33.2" height="26.9" fill="#67E881"/>
<text x="1382.7" y="1071" font-size="21.4">PAAD</text>
<rect x="1453" y="942.2" width="33.2" height="26.9" fill="#70E2E0"/>
<text x="1500" y="963.2" font-size="21.4">READ_non−MSI</text>
<rect x="1453" y="969.1" width="33.2" height="26.9" fill="#6DB4DE"/>
<text x="1500" y="990.1" font-size="21.4">SARC</text>
<rect x="1453" y="996.1" width="33.2" height="26.9" fill="#7C96E0"/>
<text x="1500" y="1017.1" font-size="21.4">SKCM_metastatic</text>
<rect x="1453" y="1023" width="33.2" height="26.9" fill="#C33FE4"/>
<text x="1500" y="1044" font-size="21.4">SKCM_primary</text>
<rect x="1453" y="1050" width="33.2" height="26.9" fill="#DFDE3E"/>
<text x="1500" y="1071" font-size="21.4">UCEC_MSI</text>
<text x="5.3" y="1216.4" font-size="33" font-weight="bold">e</text>
<text x="264" y="1275.2" font-size="24.6" text-anchor="middle">Interferon/MHC−II (I) and</text>
<text x="267" y="1303.8" font-size="24.6" text-anchor="middle">mutations in HNSC</text>
<text x="21.5" y="1497" font-size="28.5" text-anchor="middle" transform="rotate(-90 21.5 1497)">Interferon/MHC−II (I) score</text>
<text x="58" y="1400.4" font-size="20.4" text-anchor="end">2</text>
<text x="58" y="1500.6" font-size="20.4" text-anchor="end">0</text>
<text x="58" y="1600.8" font-size="20.4" text-anchor="end">−2</text>
<path d="M63.8 1395h-3.3M63.8 1495.2h-3.3M63.8 1595.4h-3.3" stroke="#333" stroke-width="4" fill="none"/>
<rect x="66" y="1324.2" width="181" height="347.8" fill="#fff" stroke="#000" stroke-width="4.4"/>
<g fill="#1f1f1f" fill-opacity="0.36">
<circle cx="117.5" cy="1495.2" r="3.3"/><circle cx="118.7" cy="1483.3" r="3.3"/><circle cx="139.5" cy="1469.8" r="3.3"/><circle cx="123.1" cy="1543.9" r="3.3"/><circle cx="131" cy="1415.1" r="3.3"/><circle cx="92.5" cy="1452.7" r="3.3"/><circle cx="117.6" cy="1565.9" r="3.3"/><circle cx="130.2" cy="1506.7" r="3.3"/><circle cx="93.6" cy="1439.8" r="3.3"/><circle cx="93.4" cy="1640.5" r="3.3"/><circle cx="127.5" cy="1466.4" r="3.3"/><circle cx="136" cy="1563.6" r="3.3"/><circle cx="93.6" cy="1586.5" r="3.3"/><circle cx="122.2" cy="1434.8" r="3.3"/><circle cx="96.7" cy="1518.4" r="3.3"/><circle cx="128" cy="1487.2" r="3.3"/><circle cx="122.9" cy="1489.9" r="3.3"/><circle cx="102" cy="1509.2" r="3.3"/><circle cx="100.7" cy="1526.3" r="3.3"/><circle cx="129" cy="1495.4" r="3.3"/><circle cx="116.3" cy="1492.1" r="3.3"/><circle cx="129" cy="1515.4" r="3.3"/><circle cx="109.7" cy="1395.6" r="3.3"/><circle cx="106.8" cy="1523" r="3.3"/><circle cx="139.6" cy="1470.7" r="3.3"/><circle cx="124.2" cy="1486.3" r="3.3"/><circle cx="114.9" cy="1570.1" r="3.3"/><circle cx="117.1" cy="1459.7" r="3.3"/><circle cx="126.7" cy="1507.3" r="3.3"/><circle cx="126" cy="1508.8" r="3.3"/><circle cx="136.8" cy="1538.9" r="3.3"/><circle cx="110.6" cy="1541.1" r="3.3"/><circle cx="132.2" cy="1510.7" r="3.3"/><circle cx="123.9" cy="1491.1" r="3.3"/><circle cx="133.6" cy="1528.5" r="3.3"/><circle cx="131.1" cy="1521" r="3.3"/><circle cx="132.6" cy="1477.1" r="3.3"/><circle cx="135.4" cy="1461.5" r="3.3"/><circle cx="139" cy="1406.2" r="3.3"/><circle cx="122.5" cy="1458.2" r="3.3"/><circle cx="116.4" cy="1564.8" r="3.3"/><circle cx="126.1" cy="1482.7" r="3.3"/><circle cx="130.9" cy="1430.7" r="3.3"/><circle cx="111.1" cy="1393" r="3.3"/><circle cx="111.1" cy="1419.1" r="3.3"/><circle cx="96.8" cy="1444.3" r="3.3"/><circle cx="127.7" cy="1547" r="3.3"/><circle cx="140.7" cy="1472.6" r="3.3"/><circle cx="108.7" cy="1437.3" r="3.3"/><circle cx="97.9" cy="1548.5" r="3.3"/><circle cx="99.8" cy="1451.6" r="3.3"/><circle cx="111.3" cy="1552.9" r="3.3"/><circle cx="104.4" cy="1550.3" r="3.3"/><circle cx="139.6" cy="1492.9" r="3.3"/><circle cx="92.3" cy="1455.1" r="3.3"/><circle cx="105.2" cy="1605.4" r="3.3"/><circle cx="95.2" cy="1609.5" r="3.3"/><circle cx="122.9" cy="1456.7" r="3.3"/><circle cx="129.5" cy="1528.4" r="3.3"/><circle cx="98.5" cy="1533.8" r="3.3"/><circle cx="92.4" cy="1481.6" r="3.3"/><circle cx="113.1" cy="1484.5" r="3.3"/><circle cx="119.6" cy="1503" r="3.3"/><circle cx="136.5" cy="1499.9" r="3.3"/><circle cx="91.1" cy="1466.8" r="3.3"/><circle cx="94.9" cy="1427.2" r="3.3"/><circle cx="98.8" cy="1456.3" r="3.3"/><circle cx="100.5" cy="1478.7" r="3.3"/><circle cx="101.4" cy="1454.3" r="3.3"/><circle cx="126.5" cy="1476" r="3.3"/><circle cx="120.1" cy="1533.4" r="3.3"/><circle cx="100.8" cy="1531.7" r="3.3"/><circle cx="98.8" cy="1564.4" r="3.3"/><circle cx="103.8" cy="1524.1" r="3.3"/><circle cx="98.2" cy="1553.5" r="3.3"/><circle cx="128.6" cy="1551.1" r="3.3"/><circle cx="105.4" cy="1534.3" r="3.3"/><circle cx="117.7" cy="1530.4" r="3.3"/><circle cx="131.7" cy="1655.5" r="3.3"/><circle cx="114.1" cy="1477.2" r="3.3"/><circle cx="102.7" cy="1435.5" r="3.3"/><circle cx="135.3" cy="1519.1" r="3.3"/><circle cx="136.7" cy="1505.4" r="3.3"/><circle cx="107" cy="1542.8" r="3.3"/><circle cx="117.7" cy="1561.2" r="3.3"/><circle cx="139" cy="1398.3" r="3.3"/><circle cx="114.3" cy="1496.3" r="3.3"/><circle cx="100.7" cy="1573.9" r="3.3"/><circle cx="91.8" cy="1457.7" r="3.3"/><circle cx="138.5" cy="1568.2" r="3.3"/><circle cx="130.9" cy="1514.3" r="3.3"/><circle cx="109.2" cy="1456.9" r="3.3"/><circle cx="116.6" cy="1480.7" r="3.3"/><circle cx="116" cy="1562.2" r="3.3"/><circle cx="103.5" cy="1404.5" r="3.3"/><circle cx="140.7" cy="1492.4" r="3.3"/><circle cx="123.4" cy="1431.8" r="3.3"/><circle cx="101.6" cy="1546.6" r="3.3"/><circle cx="89.8" cy="1455.8" r="3.3"/><circle cx="113.8" cy="1491.8" r="3.3"/><circle cx="108.5" cy="1498.4" r="3.3"/><circle cx="130.6" cy="1442.2" r="3.3"/><circle cx="126.3" cy="1529.8" r="3.3"/><circle cx="120.7" cy="1478.3" r="3.3"/><circle cx="97.4" cy="1470.2" r="3.3"/><circle cx="97.4" cy="1412.9" r="3.3"/><circle cx="105.9" cy="1464.1" r="3.3"/><circle cx="102.7" cy="1453.4" r="3.3"/><circle cx="134.4" cy="1560.5" r="3.3"/><circle cx="116" cy="1503.1" r="3.3"/><circle cx="122.3" cy="1594.6" r="3.3"/><circle cx="140.8" cy="1510.8" r="3.3"/><circle cx="103.1" cy="1490.4" r="3.3"/><circle cx="117" cy="1423.4" r="3.3"/><circle cx="97" cy="1556.7" r="3.3"/><circle cx="129.3" cy="1556.1" r="3.3"/><circle cx="89.3" cy="1603.4" r="3.3"/><circle cx="131.9" cy="1449.4" r="3.3"/><circle cx="133.2" cy="1623" r="3.3"/><circle cx="131.9" cy="1408.3" r="3.3"/><circle cx="93.5" cy="1472.9" r="3.3"/><circle cx="103.2" cy="1519.6" r="3.3"/><circle cx="126.5" cy="1488.6" r="3.3"/><circle cx="94.3" cy="1517.8" r="3.3"/><circle cx="114.2" cy="1531.1" r="3.3"/><circle cx="113.6" cy="1514.8" r="3.3"/><circle cx="138.9" cy="1497.3" r="3.3"/><circle cx="119.7" cy="1539.5" r="3.3"/><circle cx="133.8" cy="1420.2" r="3.3"/><circle cx="105" cy="1477.6" r="3.3"/><circle cx="130.2" cy="1536.3" r="3.3"/><circle cx="110.9" cy="1411.4" r="3.3"/><circle cx="136.9" cy="1436.6" r="3.3"/><circle cx="93.9" cy="1471.9" r="3.3"/><circle cx="132.2" cy="1475.3" r="3.3"/><circle cx="100" cy="1464.8" r="3.3"/><circle cx="117.5" cy="1403.9" r="3.3"/><circle cx="116.5" cy="1514" r="3.3"/><circle cx="97.4" cy="1500.8" r="3.3"/><circle cx="132.5" cy="1449.1" r="3.3"/><circle cx="105.4" cy="1464.4" r="3.3"/><circle cx="105.4" cy="1557.5" r="3.3"/><circle cx="93.2" cy="1535.2" r="3.3"/><circle cx="105.1" cy="1505.7" r="3.3"/><circle cx="113.5" cy="1503.8" r="3.3"/><circle cx="126.4" cy="1408.1" r="3.3"/><circle cx="107.9" cy="1483.6" r="3.3"/><circle cx="124.9" cy="1403" r="3.3"/><circle cx="94.7" cy="1502.1" r="3.3"/><circle cx="109.7" cy="1396.8" r="3.3"/><circle cx="113.2" cy="1555.5" r="3.3"/><circle cx="139.5" cy="1425.7" r="3.3"/><circle cx="132.3" cy="1468.3" r="3.3"/><circle cx="123.2" cy="1433.6" r="3.3"/><circle cx="89.8" cy="1463.8" r="3.3"/><circle cx="108.8" cy="1486.2" r="3.3"/><circle cx="126.1" cy="1527.9" r="3.3"/><circle cx="101.5" cy="1489.1" r="3.3"/><circle cx="118.5" cy="1544.1" r="3.3"/><circle cx="113" cy="1558.9" r="3.3"/><circle cx="89.7" cy="1518.1" r="3.3"/><circle cx="140.8" cy="1474.2" r="3.3"/><circle cx="130.8" cy="1502.4" r="3.3"/><circle cx="99.9" cy="1494.8" r="3.3"/><circle cx="121.2" cy="1559.4" r="3.3"/><circle cx="104.3" cy="1459.2" r="3.3"/><circle cx="108.8" cy="1462.3" r="3.3"/><circle cx="117.3" cy="1458.3" r="3.3"/><circle cx="104.7" cy="1390" r="3.3"/><circle cx="106.7" cy="1475.7" r="3.3"/><circle cx="109.6" cy="1474.5" r="3.3"/><circle cx="123.9" cy="1479.2" r="3.3"/><circle cx="102.5" cy="1489.2" r="3.3"/><circle cx="99.6" cy="1471.9" r="3.3"/><circle cx="127.2" cy="1401.8" r="3.3"/><circle cx="106.3" cy="1482.8" r="3.3"/><circle cx="138.3" cy="1542.1" r="3.3"/><circle cx="118.5" cy="1567.6" r="3.3"/><circle cx="126.8" cy="1454.5" r="3.3"/><circle cx="106.4" cy="1506.3" r="3.3"/><circle cx="132.2" cy="1469.1" r="3.3"/><circle cx="94" cy="1523.7" r="3.3"/><circle cx="96.5" cy="1431.1" r="3.3"/><circle cx="94.1" cy="1576.3" r="3.3"/><circle cx="124.4" cy="1447" r="3.3"/><circle cx="126" cy="1419.7" r="3.3"/><circle cx="98.6" cy="1430.3" r="3.3"/><circle cx="110.1" cy="1407.1" r="3.3"/><circle cx="132.7" cy="1501.5" r="3.3"/><circle cx="120" cy="1583.6" r="3.3"/><circle cx="93.9" cy="1506.1" r="3.3"/><circle cx="101" cy="1539.9" r="3.3"/><circle cx="97.4" cy="1596.7" r="3.3"/><circle cx="95.7" cy="1442" r="3.3"/><circle cx="110.4" cy="1428.1" r="3.3"/><circle cx="93" cy="1441.3" r="3.3"/><circle cx="137.1" cy="1415.7" r="3.3"/><circle cx="111.4" cy="1498.8" r="3.3"/><circle cx="115.8" cy="1483.9" r="3.3"/><circle cx="122.9" cy="1432.8" r="3.3"/><circle cx="129.1" cy="1387.6" r="3.3"/><circle cx="131.9" cy="1436.3" r="3.3"/><circle cx="109.3" cy="1515.6" r="3.3"/><circle cx="106.4" cy="1535.3" r="3.3"/><circle cx="110.6" cy="1511.4" r="3.3"/><circle cx="90" cy="1463.3" r="3.3"/><circle cx="110" cy="1533" r="3.3"/><circle cx="125.6" cy="1462" r="3.3"/><circle cx="140.3" cy="1443.2" r="3.3"/><circle cx="130.3" cy="1511.6" r="3.3"/><circle cx="123.5" cy="1536" r="3.3"/><circle cx="120.8" cy="1440.3" r="3.3"/><circle cx="90.2" cy="1625.5" r="3.3"/><circle cx="106.4" cy="1465" r="3.3"/><circle cx="107" cy="1574.6" r="3.3"/><circle cx="123" cy="1468" r="3.3"/><circle cx="94.7" cy="1503.5" r="3.3"/><circle cx="108.8" cy="1459.3" r="3.3"/><circle cx="115.7" cy="1514.5" r="3.3"/><circle cx="130.2" cy="1450.4" r="3.3"/><circle cx="132.1" cy="1516.9" r="3.3"/><circle cx="121" cy="1479.5" r="3.3"/><circle cx="97.4" cy="1551.8" r="3.3"/><circle cx="129.1" cy="1525" r="3.3"/><circle cx="136.2" cy="1466.1" r="3.3"/><circle cx="117.7" cy="1469.3" r="3.3"/><circle cx="107.5" cy="1498" r="3.3"/><circle cx="115.2" cy="1505.2" r="3.3"/><circle cx="96.6" cy="1473.1" r="3.3"/><circle cx="126.3" cy="1412.1" r="3.3"/><circle cx="140.5" cy="1470.1" r="3.3"/><circle cx="116" cy="1462.9" r="3.3"/><circle cx="126.4" cy="1519.2" r="3.3"/><circle cx="132.6" cy="1500.9" r="3.3"/><circle cx="99.5" cy="1471" r="3.3"/><circle cx="138.3" cy="1482" r="3.3"/><circle cx="121.8" cy="1507.8" r="3.3"/><circle cx="99.5" cy="1511.9" r="3.3"/><circle cx="93.5" cy="1522" r="3.3"/><circle cx="101.9" cy="1513.3" r="3.3"/><circle cx="119.2" cy="1510.4" r="3.3"/><circle cx="125.4" cy="1509.5" r="3.3"/><circle cx="106.3" cy="1529.5" r="3.3"/><circle cx="137.5" cy="1476.8" r="3.3"/><circle cx="108" cy="1536.7" r="3.3"/><circle cx="113.3" cy="1410" r="3.3"/><circle cx="95.6" cy="1538.5" r="3.3"/><circle cx="139.8" cy="1460.8" r="3.3"/><circle cx="96.3" cy="1597.8" r="3.3"/><circle cx="136.2" cy="1421.6" r="3.3"/><circle cx="117.5" cy="1450.1" r="3.3"/><circle cx="118.4" cy="1545.3" r="3.3"/><circle cx="118.3" cy="1489.8" r="3.3"/><circle cx="102.9" cy="1421.1" r="3.3"/><circle cx="136.5" cy="1513.4" r="3.3"/><circle cx="140.8" cy="1485.9" r="3.3"/><circle cx="131.7" cy="1477.9" r="3.3"/><circle cx="120.5" cy="1512.8" r="3.3"/><circle cx="95.6" cy="1516.2" r="3.3"/><circle cx="132.1" cy="1543.1" r="3.3"/><circle cx="104.2" cy="1429.7" r="3.3"/><circle cx="135.8" cy="1581.3" r="3.3"/><circle cx="101.7" cy="1486.8" r="3.3"/><circle cx="119" cy="1540.6" r="3.3"/><circle cx="132.4" cy="1520.7" r="3.3"/><circle cx="98.8" cy="1468.5" r="3.3"/><circle cx="117.7" cy="1438.4" r="3.3"/><circle cx="93.2" cy="1488" r="3.3"/><circle cx="90.9" cy="1435.4" r="3.3"/><circle cx="98.6" cy="1527.1" r="3.3"/><circle cx="140.5" cy="1457.3" r="3.3"/><circle cx="138.1" cy="1612.9" r="3.3"/><circle cx="123.4" cy="1497.8" r="3.3"/><circle cx="105.2" cy="1504.9" r="3.3"/><circle cx="124.1" cy="1509.9" r="3.3"/><circle cx="127.6" cy="1517.5" r="3.3"/><circle cx="109" cy="1562.8" r="3.3"/><circle cx="120" cy="1494.1" r="3.3"/><circle cx="131" cy="1592.5" r="3.3"/><circle cx="90.1" cy="1544.8" r="3.3"/><circle cx="99.6" cy="1473.3" r="3.3"/><circle cx="113.5" cy="1504.5" r="3.3"/><circle cx="96.6" cy="1453.1" r="3.3"/><circle cx="109.3" cy="1422" r="3.3"/><circle cx="118.8" cy="1428.9" r="3.3"/><circle cx="98.2" cy="1522.1" r="3.3"/><circle cx="116.2" cy="1454.9" r="3.3"/><circle cx="102.9" cy="1443.3" r="3.3"/><circle cx="118.7" cy="1480.2" r="3.3"/><circle cx="106.5" cy="1445.7" r="3.3"/><circle cx="122.6" cy="1461.2" r="3.3"/><circle cx="91.2" cy="1499.1" r="3.3"/><circle cx="124.1" cy="1434" r="3.3"/><circle cx="96.7" cy="1451" r="3.3"/><circle cx="139.1" cy="1531.9" r="3.3"/><circle cx="120.4" cy="1417.2" r="3.3"/><circle cx="113.6" cy="1508.4" r="3.3"/><circle cx="110.6" cy="1405.6" r="3.3"/><circle cx="121.6" cy="1496.9" r="3.3"/><circle cx="125" cy="1418.2" r="3.3"/><circle cx="128.6" cy="1428.3" r="3.3"/><circle cx="128.3" cy="1426.6" r="3.3"/><circle cx="114.5" cy="1446.3" r="3.3"/><circle cx="140.9" cy="1549.8" r="3.3"/><circle cx="132.8" cy="1500.3" r="3.3"/><circle cx="133.7" cy="1588.7" r="3.3"/><circle cx="110.5" cy="1465.7" r="3.3"/><circle cx="111.8" cy="1432.3" r="3.3"/><circle cx="118.6" cy="1530.9" r="3.3"/><circle cx="136.3" cy="1447.4" r="3.3"/><circle cx="116.6" cy="1399.6" r="3.3"/><circle cx="116.5" cy="1485" r="3.3"/><circle cx="111.7" cy="1491.6" r="3.3"/><circle cx="136.2" cy="1416.7" r="3.3"/><circle cx="105.9" cy="1476.3" r="3.3"/><circle cx="92" cy="1484.8" r="3.3"/><circle cx="126.9" cy="1393.9" r="3.3"/><circle cx="136" cy="1414.2" r="3.3"/><circle cx="127.3" cy="1566.5" r="3.3"/><circle cx="120.3" cy="1591.3" r="3.3"/><circle cx="128.3" cy="1490.8" r="3.3"/><circle cx="105" cy="1448.2" r="3.3"/><circle cx="120.1" cy="1521.6" r="3.3"/><circle cx="92.8" cy="1480.4" r="3.3"/><circle cx="95.7" cy="1494.5" r="3.3"/><circle cx="112.4" cy="1426.3" r="3.3"/><circle cx="115.3" cy="1481.1" r="3.3"/><circle cx="109.8" cy="1473.7" r="3.3"/><circle cx="91.9" cy="1487.4" r="3.3"/><circle cx="125.3" cy="1499.4" r="3.3"/><circle cx="116.6" cy="1413.7" r="3.3"/><circle cx="101.6" cy="1552.2" r="3.3"/><circle cx="105.1" cy="1474.8" r="3.3"/><circle cx="109.8" cy="1401.4" r="3.3"/><circle cx="101.5" cy="1558.1" r="3.3"/><circle cx="92.8" cy="1453.8" r="3.3"/><circle cx="136.6" cy="1545.8" r="3.3"/><circle cx="139.5" cy="1508" r="3.3"/><circle cx="123.8" cy="1532.3" r="3.3"/><circle cx="134.3" cy="1529.3" r="3.3"/><circle cx="111.1" cy="1522.6" r="3.3"/><circle cx="131.1" cy="1541.6" r="3.3"/><circle cx="100.7" cy="1526.7" r="3.3"/><circle cx="128" cy="1525.3" r="3.3"/><circle cx="118.7" cy="1534.5" r="3.3"/><circle cx="136.2" cy="1423.2" r="3.3"/><circle cx="94.3" cy="1414.9" r="3.3"/><circle cx="130.4" cy="1465.3" r="3.3"/><circle cx="95.6" cy="1444.6" r="3.3"/><circle cx="117.2" cy="1458.6" r="3.3"/><circle cx="138.7" cy="1566.9" r="3.3"/><circle cx="89.2" cy="1579.7" r="3.3"/><circle cx="101.9" cy="1543.2" r="3.3"/><circle cx="104.8" cy="1471.3" r="3.3"/><circle cx="106.1" cy="1554.2" r="3.3"/><circle cx="92.5" cy="1525.9" r="3.3"/><circle cx="135.7" cy="1424.1" r="3.3"/><circle cx="131.6" cy="1467.7" r="3.3"/><circle cx="109.9" cy="1496.5" r="3.3"/><circle cx="107.7" cy="1439" r="3.3"/><circle cx="119.6" cy="1467.1" r="3.3"/><circle cx="91.6" cy="1409.1" r="3.3"/><circle cx="90.8" cy="1541.4" r="3.3"/><circle cx="135.9" cy="1493.5" r="3.3"/><circle cx="105.2" cy="1493.7" r="3.3"/><circle cx="115.1" cy="1425.4" r="3.3"/><circle cx="137.8" cy="1455.5" r="3.3"/><circle cx="140" cy="1410.5" r="3.3"/><circle cx="113.8" cy="1391.4" r="3.3"/><circle cx="99.9" cy="1584.2" r="3.3"/><circle cx="104.6" cy="1424.6" r="3.3"/><circle cx="137.2" cy="1392" r="3.3"/><circle cx="135.8" cy="1485.5" r="3.3"/><circle cx="99.4" cy="1523.2" r="3.3"/><circle cx="132.8" cy="1539.4" r="3.3"/><circle cx="107.6" cy="1418.4" r="3.3"/><circle cx="113.8" cy="1460.2" r="3.3"/><circle cx="98.1" cy="1482.2" r="3.3"/><circle cx="134.9" cy="1479.8" r="3.3"/><circle cx="141" cy="1399.9" r="3.3"/><circle cx="99.7" cy="1488.2" r="3.3"/><circle cx="122.1" cy="1512.4" r="3.3"/><circle cx="99.2" cy="1548.1" r="3.3"/><circle cx="135" cy="1411" r="3.3"/><circle cx="91.8" cy="1538.1" r="3.3"/><circle cx="94.7" cy="1516.1" r="3.3"/><circle cx="126.9" cy="1537.4" r="3.3"/><circle cx="105.5" cy="1545.4" r="3.3"/><circle cx="136" cy="1397.7" r="3.3"/><circle cx="134.4" cy="1602.9" r="3.3"/><circle cx="126.3" cy="1524.4" r="3.3"/><circle cx="96.2" cy="1394.8" r="3.3"/><circle cx="125.4" cy="1447.7" r="3.3"/><circle cx="138" cy="1501.7" r="3.3"/><circle cx="112.3" cy="1527.3" r="3.3"/><circle cx="93.3" cy="1495.8" r="3.3"/><circle cx="100.8" cy="1440.5" r="3.3"/><circle cx="105.2" cy="1407" r="3.3"/><circle cx="126.1" cy="1517.3" r="3.3"/><circle cx="99.4" cy="1537.3" r="3.3"/><circle cx="98.6" cy="1452.5" r="3.3"/><circle cx="101.4" cy="1445" r="3.3"/><circle cx="123.8" cy="1460.4" r="3.3"/><circle cx="130.3" cy="1520.5" r="3.3"/><circle cx="108.6" cy="1462.7" r="3.3"/><circle cx="123.6" cy="1520.2" r="3.3"/><circle cx="135.2" cy="1437.7" r="3.3"/>
</g>
<g fill="#1f1f1f" fill-opacity="0.36">
<circle cx="214" cy="1439.3" r="3.3"/><circle cx="209.8" cy="1532.5" r="3.3"/><circle cx="212" cy="1431.5" r="3.3"/><circle cx="211.2" cy="1496.8" r="3.3"/><circle cx="197.3" cy="1481.6" r="3.3"/><circle cx="205.2" cy="1495.4" r="3.3"/><circle cx="197.9" cy="1464.9" r="3.3"/><circle cx="191.1" cy="1452.3" r="3.3"/><circle cx="184.3" cy="1448.5" r="3.3"/><circle cx="197.2" cy="1421.8" r="3.3"/><circle cx="205.7" cy="1461.3" r="3.3"/><circle cx="202.4" cy="1427.9" r="3.3"/><circle cx="195" cy="1488.1" r="3.3"/><circle cx="187.8" cy="1455.4" r="3.3"/><circle cx="195.7" cy="1446.5" r="3.3"/><circle cx="207.7" cy="1425" r="3.3"/><circle cx="208" cy="1408.9" r="3.3"/><circle cx="221.2" cy="1442" r="3.3"/><circle cx="178.1" cy="1489.6" r="3.3"/><circle cx="210.7" cy="1410.9" r="3.3"/><circle cx="202.6" cy="1398.8" r="3.3"/><circle cx="178.4" cy="1475.4" r="3.3"/><circle cx="210.1" cy="1393.9" r="3.3"/><circle cx="198.5" cy="1439.5" r="3.3"/><circle cx="222.7" cy="1541.8" r="3.3"/><circle cx="171.6" cy="1456.9" r="3.3"/><circle cx="192.7" cy="1505.5" r="3.3"/><circle cx="198.7" cy="1484.7" r="3.3"/><circle cx="176.2" cy="1502.2" r="3.3"/><circle cx="200.3" cy="1414.7" r="3.3"/><circle cx="195.9" cy="1436" r="3.3"/><circle cx="220" cy="1395.1" r="3.3"/><circle cx="221.9" cy="1509.5" r="3.3"/><circle cx="206.8" cy="1480" r="3.3"/><circle cx="208.7" cy="1518.2" r="3.3"/><circle cx="222.2" cy="1404.4" r="3.3"/><circle cx="203.2" cy="1406.1" r="3.3"/><circle cx="186.8" cy="1412.4" r="3.3"/><circle cx="177.6" cy="1473.3" r="3.3"/><circle cx="215.9" cy="1419.2" r="3.3"/><circle cx="193.2" cy="1426.6" r="3.3"/><circle cx="175.9" cy="1399.3" r="3.3"/><circle cx="183.2" cy="1389.1" r="3.3"/><circle cx="187.5" cy="1465.7" r="3.3"/><circle cx="220.6" cy="1417.5" r="3.3"/><circle cx="219.4" cy="1433" r="3.3"/><circle cx="182.8" cy="1402.6" r="3.3"/><circle cx="179.7" cy="1470.4" r="3.3"/>
</g>
<line x1="115.2" y1="1387" x2="115.2" y2="1452.6" stroke="#363636" stroke-width="4"/>
<line x1="115.2" y1="1524.3" x2="115.2" y2="1611.9" stroke="#363636" stroke-width="4"/>
<rect x="84.7" y="1452.6" width="61" height="71.6" fill="none" stroke="#363636" stroke-width="4"/>
<line x1="84.7" y1="1487.7" x2="145.7" y2="1487.7" stroke="#363636" stroke-width="8.5"/>
<line x1="197.4" y1="1387" x2="197.4" y2="1416" stroke="#363636" stroke-width="4"/>
<line x1="197.4" y1="1480.2" x2="197.4" y2="1557.8" stroke="#363636" stroke-width="4"/>
<rect x="166.9" y="1416" width="61" height="64.1" fill="none" stroke="#363636" stroke-width="4"/>
<line x1="166.9" y1="1444.1" x2="227.9" y2="1444.1" stroke="#363636" stroke-width="8.5"/>
<path d="M115.2 1674.2v1.7M197.4 1674.2v1.7" stroke="#333" stroke-width="3.2" fill="none"/>
<text x="115.2" y="1695.3" font-size="20.4" text-anchor="middle">FALSE</text>
<text x="197.4" y="1695.3" font-size="20.4" text-anchor="middle">TRUE</text>
<path d="M114.2 1358.5V1355H198.4V1358.5" stroke="#000" stroke-width="3.6" fill="none"/>
<text x="156.3" y="1349" font-size="20.4" text-anchor="middle">p = 1.6e−07</text>
<text x="156.5" y="1738" font-size="20.4" text-anchor="middle" font-weight="bold">CASP8−mut</text>
<rect x="291.7" y="1324.2" width="180.6" height="347.8" fill="#fff" stroke="#000" stroke-width="4.4"/>
<g fill="#1f1f1f" fill-opacity="0.36">
<circle cx="336.8" cy="1489.9" r="3.3"/><circle cx="343.1" cy="1434.7" r="3.3"/><circle cx="358.8" cy="1531.9" r="3.3"/><circle cx="321.6" cy="1416.7" r="3.3"/><circle cx="360.6" cy="1532.4" r="3.3"/><circle cx="339.8" cy="1468.1" r="3.3"/><circle cx="316.8" cy="1475.2" r="3.3"/><circle cx="337.7" cy="1519.9" r="3.3"/><circle cx="334.8" cy="1442.7" r="3.3"/><circle cx="350.3" cy="1404.8" r="3.3"/><circle cx="363.5" cy="1532.2" r="3.3"/><circle cx="340.9" cy="1537.2" r="3.3"/><circle cx="351.1" cy="1460.3" r="3.3"/><circle cx="335.4" cy="1421.2" r="3.3"/><circle cx="355.7" cy="1486.3" r="3.3"/><circle cx="320.7" cy="1567" r="3.3"/><circle cx="353.8" cy="1469.9" r="3.3"/><circle cx="323.9" cy="1487.4" r="3.3"/><circle cx="345.7" cy="1472.9" r="3.3"/><circle cx="325.7" cy="1430" r="3.3"/><circle cx="333.2" cy="1496.3" r="3.3"/><circle cx="323.7" cy="1467.2" r="3.3"/><circle cx="333.4" cy="1536.1" r="3.3"/><circle cx="346" cy="1479.2" r="3.3"/><circle cx="342.2" cy="1512" r="3.3"/><circle cx="335.4" cy="1511.3" r="3.3"/><circle cx="345.1" cy="1536.5" r="3.3"/><circle cx="359" cy="1424.9" r="3.3"/><circle cx="333.8" cy="1542.2" r="3.3"/><circle cx="345.6" cy="1492.5" r="3.3"/><circle cx="340.2" cy="1454.3" r="3.3"/><circle cx="366.2" cy="1521.8" r="3.3"/><circle cx="332.3" cy="1532.8" r="3.3"/><circle cx="351.5" cy="1411.6" r="3.3"/><circle cx="327.3" cy="1462.6" r="3.3"/><circle cx="328.8" cy="1500.5" r="3.3"/><circle cx="353.2" cy="1464.9" r="3.3"/><circle cx="345.1" cy="1463.3" r="3.3"/><circle cx="328.6" cy="1503.7" r="3.3"/><circle cx="318.5" cy="1475.5" r="3.3"/><circle cx="358.1" cy="1501.5" r="3.3"/><circle cx="334.8" cy="1422.4" r="3.3"/><circle cx="352.5" cy="1498.9" r="3.3"/><circle cx="337.7" cy="1592.3" r="3.3"/><circle cx="347.3" cy="1516.5" r="3.3"/><circle cx="344.3" cy="1511.5" r="3.3"/><circle cx="365.9" cy="1518.4" r="3.3"/><circle cx="362.5" cy="1485.2" r="3.3"/><circle cx="338.9" cy="1596.6" r="3.3"/><circle cx="340.5" cy="1454.8" r="3.3"/><circle cx="327.2" cy="1519.2" r="3.3"/><circle cx="354.4" cy="1409.7" r="3.3"/><circle cx="320.5" cy="1463.8" r="3.3"/><circle cx="331.1" cy="1495" r="3.3"/><circle cx="359.3" cy="1502.5" r="3.3"/><circle cx="317" cy="1584.8" r="3.3"/><circle cx="351.5" cy="1450.7" r="3.3"/><circle cx="344.7" cy="1501.3" r="3.3"/><circle cx="343.9" cy="1499.1" r="3.3"/><circle cx="332.5" cy="1572.1" r="3.3"/><circle cx="323.1" cy="1462.9" r="3.3"/><circle cx="364.6" cy="1505.2" r="3.3"/><circle cx="355" cy="1562.7" r="3.3"/><circle cx="357.1" cy="1470.3" r="3.3"/><circle cx="320.3" cy="1473.2" r="3.3"/><circle cx="356" cy="1498.6" r="3.3"/><circle cx="326.6" cy="1474.3" r="3.3"/><circle cx="325.6" cy="1515.5" r="3.3"/><circle cx="343" cy="1455.8" r="3.3"/><circle cx="346.9" cy="1507.6" r="3.3"/><circle cx="321.5" cy="1472.1" r="3.3"/><circle cx="355" cy="1413.4" r="3.3"/><circle cx="345.5" cy="1484.7" r="3.3"/><circle cx="362" cy="1425.6" r="3.3"/><circle cx="363.2" cy="1452.9" r="3.3"/><circle cx="351" cy="1477.6" r="3.3"/><circle cx="334.1" cy="1504.5" r="3.3"/><circle cx="364.7" cy="1396" r="3.3"/><circle cx="352.6" cy="1493.2" r="3.3"/><circle cx="330.3" cy="1564" r="3.3"/><circle cx="359.8" cy="1509" r="3.3"/><circle cx="353" cy="1432.4" r="3.3"/><circle cx="329" cy="1483.9" r="3.3"/><circle cx="328.2" cy="1436.1" r="3.3"/><circle cx="316.3" cy="1440.6" r="3.3"/><circle cx="343.1" cy="1554" r="3.3"/><circle cx="328.4" cy="1526.4" r="3.3"/><circle cx="330.4" cy="1503.7" r="3.3"/><circle cx="328.3" cy="1399.4" r="3.3"/><circle cx="322" cy="1436.5" r="3.3"/><circle cx="340.4" cy="1464.6" r="3.3"/><circle cx="329.4" cy="1415.1" r="3.3"/><circle cx="330" cy="1529.6" r="3.3"/><circle cx="329.6" cy="1399.2" r="3.3"/><circle cx="341.7" cy="1423.9" r="3.3"/><circle cx="360.6" cy="1477.2" r="3.3"/><circle cx="323.5" cy="1445.8" r="3.3"/><circle cx="359.9" cy="1513.7" r="3.3"/><circle cx="359.6" cy="1601.7" r="3.3"/><circle cx="346.9" cy="1483.5" r="3.3"/><circle cx="343.5" cy="1444.2" r="3.3"/><circle cx="353.4" cy="1494.2" r="3.3"/><circle cx="343" cy="1527.1" r="3.3"/><circle cx="349.5" cy="1465.7" r="3.3"/><circle cx="363" cy="1472" r="3.3"/><circle cx="355.5" cy="1540.5" r="3.3"/><circle cx="328.7" cy="1547.9" r="3.3"/><circle cx="318" cy="1502.8" r="3.3"/><circle cx="363.9" cy="1478.9" r="3.3"/><circle cx="334.1" cy="1547.3" r="3.3"/><circle cx="356.1" cy="1491.3" r="3.3"/><circle cx="327.3" cy="1580.9" r="3.3"/><circle cx="338.7" cy="1530.5" r="3.3"/><circle cx="334.5" cy="1458.9" r="3.3"/><circle cx="353.1" cy="1449.2" r="3.3"/><circle cx="364.3" cy="1408.8" r="3.3"/><circle cx="341.5" cy="1551.5" r="3.3"/><circle cx="344.6" cy="1536.8" r="3.3"/><circle cx="333.3" cy="1448.9" r="3.3"/><circle cx="327.3" cy="1435" r="3.3"/><circle cx="364.6" cy="1507.3" r="3.3"/><circle cx="320.9" cy="1504.1" r="3.3"/><circle cx="364.1" cy="1460.8" r="3.3"/><circle cx="349.4" cy="1506.7" r="3.3"/><circle cx="318.9" cy="1457.3" r="3.3"/><circle cx="362.1" cy="1449.9" r="3.3"/><circle cx="320.5" cy="1576.9" r="3.3"/><circle cx="344.6" cy="1495.6" r="3.3"/><circle cx="321.4" cy="1530.9" r="3.3"/><circle cx="366.6" cy="1481.5" r="3.3"/><circle cx="331.3" cy="1408.3" r="3.3"/><circle cx="360.6" cy="1525.8" r="3.3"/><circle cx="318.4" cy="1393.5" r="3.3"/><circle cx="349.9" cy="1521.4" r="3.3"/><circle cx="318.7" cy="1451.2" r="3.3"/><circle cx="316.7" cy="1482.8" r="3.3"/><circle cx="344.9" cy="1471.6" r="3.3"/><circle cx="366.3" cy="1493.6" r="3.3"/><circle cx="350.8" cy="1447.6" r="3.3"/><circle cx="359.7" cy="1507.1" r="3.3"/><circle cx="356" cy="1438.1" r="3.3"/><circle cx="342.3" cy="1432.3" r="3.3"/><circle cx="319.2" cy="1437.2" r="3.3"/><circle cx="342.6" cy="1467.9" r="3.3"/><circle cx="324.8" cy="1415.7" r="3.3"/><circle cx="342.6" cy="1462.8" r="3.3"/><circle cx="333.6" cy="1459.7" r="3.3"/><circle cx="341.1" cy="1531.3" r="3.3"/><circle cx="325.5" cy="1473.4" r="3.3"/><circle cx="351.9" cy="1640.5" r="3.3"/><circle cx="336.9" cy="1471" r="3.3"/><circle cx="340.5" cy="1433.3" r="3.3"/><circle cx="319.3" cy="1395.2" r="3.3"/><circle cx="340.5" cy="1565.9" r="3.3"/><circle cx="344.2" cy="1478" r="3.3"/><circle cx="365.8" cy="1428.3" r="3.3"/><circle cx="344.4" cy="1525.4" r="3.3"/><circle cx="322.2" cy="1466.6" r="3.3"/><circle cx="330.8" cy="1512" r="3.3"/><circle cx="332.7" cy="1534.7" r="3.3"/><circle cx="351.7" cy="1515.9" r="3.3"/><circle cx="364" cy="1490.5" r="3.3"/><circle cx="366" cy="1523.9" r="3.3"/><circle cx="364.6" cy="1460" r="3.3"/><circle cx="363.3" cy="1466.2" r="3.3"/><circle cx="359.8" cy="1513.1" r="3.3"/><circle cx="363.8" cy="1476.8" r="3.3"/><circle cx="316.2" cy="1453.4" r="3.3"/><circle cx="340.7" cy="1526.5" r="3.3"/><circle cx="345.9" cy="1387.7" r="3.3"/><circle cx="350.9" cy="1498.2" r="3.3"/><circle cx="347.1" cy="1541.7" r="3.3"/><circle cx="347.1" cy="1598.2" r="3.3"/><circle cx="363.7" cy="1493.9" r="3.3"/><circle cx="319.7" cy="1481.2" r="3.3"/><circle cx="342.2" cy="1506.4" r="3.3"/><circle cx="365.1" cy="1441.1" r="3.3"/><circle cx="316.9" cy="1523.3" r="3.3"/><circle cx="321" cy="1549.4" r="3.3"/><circle cx="360.4" cy="1513.3" r="3.3"/><circle cx="365" cy="1488.7" r="3.3"/><circle cx="316.5" cy="1443" r="3.3"/><circle cx="316.9" cy="1464.1" r="3.3"/><circle cx="358.3" cy="1458.2" r="3.3"/><circle cx="351" cy="1480" r="3.3"/><circle cx="342.2" cy="1431.7" r="3.3"/><circle cx="345.4" cy="1471.1" r="3.3"/><circle cx="354.6" cy="1562" r="3.3"/><circle cx="357.2" cy="1392.7" r="3.3"/><circle cx="315.2" cy="1550.5" r="3.3"/><circle cx="318.7" cy="1426.4" r="3.3"/><circle cx="356.5" cy="1508.2" r="3.3"/><circle cx="365.9" cy="1542.8" r="3.3"/><circle cx="358.5" cy="1578.4" r="3.3"/><circle cx="336.4" cy="1447.1" r="3.3"/><circle cx="332.6" cy="1485.4" r="3.3"/><circle cx="333.2" cy="1508.1" r="3.3"/><circle cx="316" cy="1452.7" r="3.3"/><circle cx="355.3" cy="1540.1" r="3.3"/><circle cx="328.8" cy="1492.6" r="3.3"/><circle cx="345.7" cy="1529" r="3.3"/><circle cx="342.6" cy="1535" r="3.3"/><circle cx="332.6" cy="1533.7" r="3.3"/><circle cx="350.3" cy="1514.4" r="3.3"/><circle cx="338.9" cy="1514.8" r="3.3"/><circle cx="327.4" cy="1564.7" r="3.3"/><circle cx="361.1" cy="1479.4" r="3.3"/><circle cx="324.3" cy="1405.1" r="3.3"/><circle cx="323" cy="1452.1" r="3.3"/><circle cx="328.4" cy="1452.5" r="3.3"/><circle cx="340.1" cy="1570.9" r="3.3"/><circle cx="356" cy="1419.8" r="3.3"/><circle cx="332.5" cy="1457.6" r="3.3"/><circle cx="327.6" cy="1515.2" r="3.3"/><circle cx="349.2" cy="1406.4" r="3.3"/><circle cx="328.7" cy="1563.6" r="3.3"/><circle cx="342.4" cy="1474.7" r="3.3"/><circle cx="328.5" cy="1468.5" r="3.3"/><circle cx="360.8" cy="1402.9" r="3.3"/><circle cx="324.8" cy="1443.9" r="3.3"/><circle cx="327.3" cy="1391.9" r="3.3"/><circle cx="330.9" cy="1455.7" r="3.3"/><circle cx="332.3" cy="1440.1" r="3.3"/><circle cx="353" cy="1529.4" r="3.3"/><circle cx="350.3" cy="1561.4" r="3.3"/><circle cx="356.3" cy="1459.4" r="3.3"/><circle cx="343.3" cy="1428.1" r="3.3"/><circle cx="319.3" cy="1418.5" r="3.3"/><circle cx="354.9" cy="1413" r="3.3"/><circle cx="327.9" cy="1423.6" r="3.3"/><circle cx="326.5" cy="1527.3" r="3.3"/><circle cx="336.7" cy="1438.6" r="3.3"/><circle cx="366.7" cy="1553.4" r="3.3"/><circle cx="334.5" cy="1518.3" r="3.3"/><circle cx="333.7" cy="1521" r="3.3"/><circle cx="362.6" cy="1558.9" r="3.3"/><circle cx="366.7" cy="1484.2" r="3.3"/><circle cx="335.3" cy="1461.5" r="3.3"/><circle cx="322.2" cy="1517.5" r="3.3"/><circle cx="356.3" cy="1398.4" r="3.3"/><circle cx="355.9" cy="1490.2" r="3.3"/><circle cx="332.8" cy="1502.4" r="3.3"/><circle cx="356.3" cy="1539.3" r="3.3"/><circle cx="334.9" cy="1482.4" r="3.3"/><circle cx="330.1" cy="1427.4" r="3.3"/><circle cx="346.1" cy="1492" r="3.3"/><circle cx="353.8" cy="1505.5" r="3.3"/><circle cx="339.9" cy="1605.4" r="3.3"/><circle cx="357.8" cy="1503.2" r="3.3"/><circle cx="315.9" cy="1469.4" r="3.3"/><circle cx="341.1" cy="1551.2" r="3.3"/><circle cx="335" cy="1608.9" r="3.3"/><circle cx="318.6" cy="1432.8" r="3.3"/><circle cx="362.8" cy="1491.4" r="3.3"/><circle cx="322.7" cy="1468.6" r="3.3"/><circle cx="325.9" cy="1545.9" r="3.3"/><circle cx="360.9" cy="1470.5" r="3.3"/><circle cx="365.1" cy="1535.9" r="3.3"/><circle cx="363.6" cy="1495.9" r="3.3"/><circle cx="333" cy="1402.5" r="3.3"/><circle cx="363.6" cy="1464.5" r="3.3"/><circle cx="322.6" cy="1520.6" r="3.3"/><circle cx="352.4" cy="1490.8" r="3.3"/><circle cx="364.4" cy="1481.1" r="3.3"/><circle cx="325.2" cy="1556.5" r="3.3"/><circle cx="322.3" cy="1560.1" r="3.3"/><circle cx="350.5" cy="1542.5" r="3.3"/><circle cx="361.1" cy="1518.7" r="3.3"/><circle cx="353" cy="1485.6" r="3.3"/><circle cx="364.6" cy="1491.8" r="3.3"/><circle cx="338.8" cy="1584.3" r="3.3"/><circle cx="334.6" cy="1520.1" r="3.3"/><circle cx="321.4" cy="1558.5" r="3.3"/><circle cx="329.4" cy="1478.1" r="3.3"/><circle cx="364" cy="1426.3" r="3.3"/><circle cx="318.9" cy="1474" r="3.3"/><circle cx="324.8" cy="1480.8" r="3.3"/><circle cx="333.3" cy="1431.2" r="3.3"/><circle cx="317.8" cy="1497.1" r="3.3"/><circle cx="331.2" cy="1394.4" r="3.3"/><circle cx="324.7" cy="1479.8" r="3.3"/><circle cx="321.6" cy="1533.5" r="3.3"/><circle cx="342.6" cy="1582.2" r="3.3"/><circle cx="343.3" cy="1435.7" r="3.3"/><circle cx="344.7" cy="1414.7" r="3.3"/><circle cx="354.8" cy="1460.5" r="3.3"/><circle cx="342.6" cy="1586.8" r="3.3"/><circle cx="364.5" cy="1496.9" r="3.3"/><circle cx="319.4" cy="1418.1" r="3.3"/><circle cx="326.8" cy="1429.6" r="3.3"/><circle cx="319.2" cy="1443.5" r="3.3"/><circle cx="331.3" cy="1545.6" r="3.3"/><circle cx="354.8" cy="1467.5" r="3.3"/><circle cx="363.3" cy="1543.6" r="3.3"/><circle cx="341.4" cy="1543.9" r="3.3"/><circle cx="323.5" cy="1500.8" r="3.3"/><circle cx="332.4" cy="1446.5" r="3.3"/><circle cx="344.8" cy="1487.6" r="3.3"/><circle cx="330.5" cy="1454.7" r="3.3"/><circle cx="356.4" cy="1515.5" r="3.3"/><circle cx="365.8" cy="1538.1" r="3.3"/><circle cx="339.1" cy="1445" r="3.3"/><circle cx="346.6" cy="1489.1" r="3.3"/><circle cx="359.2" cy="1424.4" r="3.3"/><circle cx="339.4" cy="1516.4" r="3.3"/><circle cx="325.1" cy="1590.4" r="3.3"/><circle cx="364.3" cy="1508.7" r="3.3"/><circle cx="366.1" cy="1512.5" r="3.3"/><circle cx="316.5" cy="1396.3" r="3.3"/><circle cx="354.9" cy="1461.3" r="3.3"/><circle cx="336" cy="1510.2" r="3.3"/><circle cx="317.9" cy="1409.2" r="3.3"/><circle cx="323.7" cy="1488" r="3.3"/><circle cx="324.2" cy="1406.9" r="3.3"/><circle cx="353.5" cy="1557.9" r="3.3"/><circle cx="326.2" cy="1483.3" r="3.3"/><circle cx="316.2" cy="1401" r="3.3"/><circle cx="326.6" cy="1458.7" r="3.3"/><circle cx="356.8" cy="1488.8" r="3.3"/><circle cx="341.2" cy="1524.7" r="3.3"/><circle cx="349.1" cy="1397" r="3.3"/><circle cx="339.4" cy="1478.3" r="3.3"/><circle cx="324.7" cy="1519.4" r="3.3"/><circle cx="316" cy="1612.9" r="3.3"/><circle cx="331" cy="1552.2" r="3.3"/><circle cx="317.4" cy="1509.8" r="3.3"/><circle cx="328.8" cy="1448.2" r="3.3"/><circle cx="347.4" cy="1509.9" r="3.3"/><circle cx="334.4" cy="1405.9" r="3.3"/><circle cx="339.8" cy="1462.2" r="3.3"/><circle cx="347.6" cy="1475.9" r="3.3"/><circle cx="331.7" cy="1517.8" r="3.3"/><circle cx="333.7" cy="1412.5" r="3.3"/><circle cx="361.2" cy="1472.5" r="3.3"/><circle cx="345.4" cy="1410.2" r="3.3"/><circle cx="336.9" cy="1546.9" r="3.3"/><circle cx="343.3" cy="1539.6" r="3.3"/><circle cx="339.1" cy="1473.9" r="3.3"/><circle cx="332.5" cy="1537.7" r="3.3"/><circle cx="362.7" cy="1481.9" r="3.3"/><circle cx="327.3" cy="1434.2" r="3.3"/><circle cx="363.9" cy="1441.4" r="3.3"/><circle cx="359.6" cy="1456.7" r="3.3"/><circle cx="361.1" cy="1495.2" r="3.3"/><circle cx="323.7" cy="1486.9" r="3.3"/><circle cx="341.7" cy="1512.8" r="3.3"/><circle cx="366.4" cy="1453.7" r="3.3"/><circle cx="330.2" cy="1417.2" r="3.3"/><circle cx="324.1" cy="1535.3" r="3.3"/><circle cx="352.8" cy="1524.1" r="3.3"/><circle cx="327.4" cy="1489.6" r="3.3"/><circle cx="345.5" cy="1505.8" r="3.3"/><circle cx="323.4" cy="1497.4" r="3.3"/><circle cx="364.5" cy="1403.8" r="3.3"/><circle cx="330" cy="1439.7" r="3.3"/><circle cx="320.2" cy="1555.8" r="3.3"/><circle cx="350.9" cy="1594.1" r="3.3"/><circle cx="333.2" cy="1421.9" r="3.3"/><circle cx="344.3" cy="1506.3" r="3.3"/><circle cx="341.1" cy="1497.9" r="3.3"/><circle cx="363.2" cy="1455.2" r="3.3"/><circle cx="341.9" cy="1457.1" r="3.3"/><circle cx="334.9" cy="1500.2" r="3.3"/><circle cx="315.3" cy="1514.1" r="3.3"/><circle cx="341" cy="1541.4" r="3.3"/><circle cx="329.2" cy="1426.9" r="3.3"/><circle cx="345.1" cy="1538.6" r="3.3"/><circle cx="348.1" cy="1565.4" r="3.3"/><circle cx="339.2" cy="1416.6" r="3.3"/><circle cx="319.9" cy="1461.8" r="3.3"/><circle cx="341.1" cy="1429.1" r="3.3"/><circle cx="340.3" cy="1530.3" r="3.3"/><circle cx="348.5" cy="1538.9" r="3.3"/><circle cx="365.6" cy="1528.1" r="3.3"/><circle cx="329.8" cy="1522.3" r="3.3"/><circle cx="338.2" cy="1439.1" r="3.3"/><circle cx="319.6" cy="1625.5" r="3.3"/><circle cx="356.8" cy="1458.2" r="3.3"/><circle cx="327.4" cy="1447.8" r="3.3"/><circle cx="358.3" cy="1511" r="3.3"/><circle cx="356.7" cy="1420.2" r="3.3"/><circle cx="328.4" cy="1421.1" r="3.3"/><circle cx="362.1" cy="1437.6" r="3.3"/><circle cx="341.4" cy="1500.9" r="3.3"/><circle cx="337.4" cy="1655.5" r="3.3"/><circle cx="344.1" cy="1494.6" r="3.3"/><circle cx="364.4" cy="1486.1" r="3.3"/><circle cx="340.7" cy="1445.4" r="3.3"/><circle cx="340.3" cy="1465.4" r="3.3"/><circle cx="330.3" cy="1389.5" r="3.3"/><circle cx="358.9" cy="1430.5" r="3.3"/><circle cx="341.4" cy="1504.9" r="3.3"/><circle cx="333" cy="1453.9" r="3.3"/><circle cx="325.4" cy="1469.6" r="3.3"/><circle cx="326.4" cy="1523.2" r="3.3"/><circle cx="358.6" cy="1450.2" r="3.3"/><circle cx="357" cy="1549.2" r="3.3"/><circle cx="366.1" cy="1400.3" r="3.3"/><circle cx="362.9" cy="1391.2" r="3.3"/><circle cx="350.8" cy="1480.4" r="3.3"/><circle cx="356.7" cy="1456.3" r="3.3"/><circle cx="352.2" cy="1441.9" r="3.3"/><circle cx="357.3" cy="1574" r="3.3"/><circle cx="356.9" cy="1492.9" r="3.3"/><circle cx="324.4" cy="1456.6" r="3.3"/><circle cx="357.6" cy="1527.8" r="3.3"/><circle cx="331" cy="1488.2" r="3.3"/><circle cx="327.9" cy="1541" r="3.3"/><circle cx="363" cy="1509.4" r="3.3"/><circle cx="316.4" cy="1520.4" r="3.3"/><circle cx="341.8" cy="1499.6" r="3.3"/><circle cx="333" cy="1569.2" r="3.3"/><circle cx="356.4" cy="1501.9" r="3.3"/><circle cx="346.9" cy="1545" r="3.3"/><circle cx="362.6" cy="1528.7" r="3.3"/><circle cx="363.7" cy="1496.6" r="3.3"/><circle cx="348.7" cy="1407.5" r="3.3"/><circle cx="318.6" cy="1534.2" r="3.3"/><circle cx="349.9" cy="1411.9" r="3.3"/><circle cx="320.9" cy="1557" r="3.3"/><circle cx="366.3" cy="1467" r="3.3"/><circle cx="360.5" cy="1419.2" r="3.3"/><circle cx="331.4" cy="1560.9" r="3.3"/><circle cx="324.9" cy="1475.4" r="3.3"/><circle cx="351.3" cy="1410.6" r="3.3"/><circle cx="354.6" cy="1555" r="3.3"/><circle cx="366.4" cy="1517" r="3.3"/><circle cx="347.6" cy="1476.2" r="3.3"/><circle cx="321.7" cy="1423.3" r="3.3"/><circle cx="353" cy="1414.2" r="3.3"/><circle cx="318.2" cy="1484.5" r="3.3"/><circle cx="360.3" cy="1465.9" r="3.3"/><circle cx="355.2" cy="1543.3" r="3.3"/><circle cx="356" cy="1554.6" r="3.3"/><circle cx="360.6" cy="1517.3" r="3.3"/><circle cx="344.8" cy="1451.7" r="3.3"/><circle cx="364.3" cy="1510.7" r="3.3"/><circle cx="348.4" cy="1476.6" r="3.3"/><circle cx="340.8" cy="1524.8" r="3.3"/><circle cx="335.2" cy="1486.8" r="3.3"/><circle cx="333.6" cy="1589.9" r="3.3"/><circle cx="316.4" cy="1469.2" r="3.3"/><circle cx="323.6" cy="1522.5" r="3.3"/><circle cx="356.6" cy="1482.3" r="3.3"/><circle cx="327.1" cy="1499.5" r="3.3"/>
</g>
<g fill="#1f1f1f" fill-opacity="0.36">
<circle cx="414.9" cy="1431.5" r="3.3"/><circle cx="412.1" cy="1395.6" r="3.3"/><circle cx="424.8" cy="1501.2" r="3.3"/><circle cx="423" cy="1418.1" r="3.3"/><circle cx="399.4" cy="1445.2" r="3.3"/><circle cx="442.5" cy="1403.8" r="3.3"/><circle cx="425.4" cy="1472" r="3.3"/><circle cx="422.2" cy="1389.9" r="3.3"/><circle cx="436.3" cy="1409.9" r="3.3"/><circle cx="410.6" cy="1457.4" r="3.3"/>
</g>
<line x1="341.2" y1="1387" x2="341.2" y2="1451.6" stroke="#363636" stroke-width="4"/>
<line x1="341.2" y1="1521.3" x2="341.2" y2="1611.9" stroke="#363636" stroke-width="4"/>
<rect x="310.7" y="1451.6" width="61" height="69.6" fill="none" stroke="#363636" stroke-width="4"/>
<line x1="310.7" y1="1486.2" x2="371.7" y2="1486.2" stroke="#363636" stroke-width="8.5"/>
<line x1="423.6" y1="1387" x2="423.6" y2="1400" stroke="#363636" stroke-width="4"/>
<line x1="423.6" y1="1452.6" x2="423.6" y2="1500.2" stroke="#363636" stroke-width="4"/>
<rect x="393.1" y="1400" width="61" height="52.6" fill="none" stroke="#363636" stroke-width="4"/>
<line x1="393.1" y1="1415" x2="454.1" y2="1415" stroke="#363636" stroke-width="8.5"/>
<path d="M341.2 1674.2v1.7M423.6 1674.2v1.7" stroke="#333" stroke-width="3.2" fill="none"/>
<text x="341.2" y="1695.3" font-size="20.4" text-anchor="middle">FALSE</text>
<text x="423.6" y="1695.3" font-size="20.4" text-anchor="middle">TRUE</text>
<path d="M340.2 1358.5V1355H424.6V1358.5" stroke="#000" stroke-width="3.6" fill="none"/>
<text x="382.4" y="1349" font-size="20.4" text-anchor="middle">p = 0.00021</text>
<text x="382" y="1738" font-size="20.4" text-anchor="middle" font-weight="bold">CASP8−mut, HRAS−mut,</text>
<text x="382" y="1761.8" font-size="20.4" text-anchor="middle" font-weight="bold">TP53−wt</text>
<text x="532.3" y="1215.4" font-size="33" font-weight="bold">f</text>
<text x="832.5" y="1294.6" font-size="24.6" text-anchor="middle">Interferon/MHC−II (I) and mutations in LUAD</text>
<text x="544.5" y="1497.5" font-size="28.5" text-anchor="middle" transform="rotate(-90 544.5 1497.5)">Interferon/MHC−II (I) score</text>
<rect x="589.4" y="1325.8" width="477.1" height="343.6" fill="#fff" stroke="#000" stroke-width="4.4"/>
<text x="579" y="1373.7" font-size="20.4" text-anchor="end">2</text>
<text x="579" y="1445.6" font-size="20.4" text-anchor="end">1</text>
<text x="579" y="1517.4" font-size="20.4" text-anchor="end">0</text>
<text x="579" y="1589.2" font-size="20.4" text-anchor="end">−1</text>
<text x="579" y="1661.1" font-size="20.4" text-anchor="end">−2</text>
<path d="M587.2 1368.3h-1.6M587.2 1440.2h-1.6M587.2 1512h-1.6M587.2 1583.8h-1.6M587.2 1655.7h-1.6" stroke="#333" stroke-width="3.2" fill="none"/>
<line x1="641.7" y1="1380.9" x2="641.7" y2="1454.5" stroke="#363636" stroke-width="4"/>
<line x1="641.7" y1="1523" x2="641.7" y2="1614.7" stroke="#363636" stroke-width="4"/>
<rect x="614.4" y="1454.5" width="54.6" height="68.5" fill="#E7EEBE" stroke="#363636" stroke-width="4"/>
<line x1="614.4" y1="1484.7" x2="669" y2="1484.7" stroke="#363636" stroke-width="8"/>
<line x1="703.8" y1="1428.8" x2="703.8" y2="1500.8" stroke="#363636" stroke-width="4"/>
<line x1="703.8" y1="1562.3" x2="703.8" y2="1643.9" stroke="#363636" stroke-width="4"/>
<rect x="676.5" y="1500.8" width="54.6" height="61.5" fill="#EDD9F7" stroke="#363636" stroke-width="4"/>
<line x1="676.5" y1="1533.3" x2="731.1" y2="1533.3" stroke="#363636" stroke-width="8"/>
<g fill="#6f7f34" fill-opacity="0.85" stroke="#0a0d05" stroke-width="1.6">
<circle cx="660.5" cy="1535.9" r="2.6"/><circle cx="648.6" cy="1438.8" r="2.6"/><circle cx="644.3" cy="1454.1" r="2.6"/><circle cx="653.8" cy="1472.8" r="2.6"/><circle cx="636.9" cy="1490.7" r="2.6"/><circle cx="652.7" cy="1512.2" r="2.6"/><circle cx="635.8" cy="1525.4" r="2.6"/><circle cx="642.2" cy="1549.6" r="2.6"/><circle cx="660.2" cy="1504.9" r="2.6"/><circle cx="648.1" cy="1507.6" r="2.6"/><circle cx="659.2" cy="1478.1" r="2.6"/><circle cx="639.9" cy="1503.9" r="2.6"/><circle cx="640.5" cy="1443" r="2.6"/><circle cx="642.4" cy="1427.1" r="2.6"/><circle cx="630.1" cy="1394.8" r="2.6"/><circle cx="644" cy="1547.2" r="2.6"/><circle cx="631.8" cy="1467.5" r="2.6"/><circle cx="628" cy="1413.7" r="2.6"/><circle cx="644.9" cy="1490" r="2.6"/><circle cx="633.5" cy="1532.9" r="2.6"/><circle cx="645.7" cy="1488.8" r="2.6"/><circle cx="641" cy="1462.5" r="2.6"/><circle cx="638.1" cy="1464.8" r="2.6"/><circle cx="629.5" cy="1442.1" r="2.6"/><circle cx="659.6" cy="1512.6" r="2.6"/><circle cx="658.4" cy="1491.8" r="2.6"/><circle cx="628.4" cy="1385.1" r="2.6"/><circle cx="627.3" cy="1518.2" r="2.6"/><circle cx="643.5" cy="1481.8" r="2.6"/><circle cx="662.4" cy="1519.3" r="2.6"/><circle cx="626.6" cy="1530.6" r="2.6"/><circle cx="661.7" cy="1454.5" r="2.6"/><circle cx="627.5" cy="1565" r="2.6"/><circle cx="656.7" cy="1391.7" r="2.6"/><circle cx="640.8" cy="1464.3" r="2.6"/><circle cx="646.1" cy="1548.3" r="2.6"/><circle cx="631.4" cy="1457.8" r="2.6"/><circle cx="641.8" cy="1641.3" r="2.6"/><circle cx="623.1" cy="1494.8" r="2.6"/><circle cx="646.4" cy="1523.2" r="2.6"/><circle cx="655.6" cy="1465.9" r="2.6"/><circle cx="660.2" cy="1440" r="2.6"/><circle cx="657.3" cy="1428.4" r="2.6"/><circle cx="644.5" cy="1412.9" r="2.6"/><circle cx="622" cy="1510" r="2.6"/><circle cx="663.9" cy="1619.8" r="2.6"/><circle cx="626.9" cy="1388.3" r="2.6"/><circle cx="619.7" cy="1480.3" r="2.6"/><circle cx="653.8" cy="1458.1" r="2.6"/><circle cx="642" cy="1514.7" r="2.6"/><circle cx="655.1" cy="1583" r="2.6"/><circle cx="647.9" cy="1603.8" r="2.6"/><circle cx="648" cy="1547.7" r="2.6"/><circle cx="650.6" cy="1474.1" r="2.6"/><circle cx="664" cy="1576.8" r="2.6"/><circle cx="657.3" cy="1504.4" r="2.6"/><circle cx="637.1" cy="1496.1" r="2.6"/><circle cx="647" cy="1443.5" r="2.6"/><circle cx="627.3" cy="1417" r="2.6"/><circle cx="627.8" cy="1419.8" r="2.6"/><circle cx="651.2" cy="1497" r="2.6"/><circle cx="662.8" cy="1432" r="2.6"/><circle cx="638" cy="1533.2" r="2.6"/><circle cx="659.3" cy="1434.1" r="2.6"/><circle cx="648.8" cy="1476.8" r="2.6"/><circle cx="630.9" cy="1426" r="2.6"/><circle cx="651.6" cy="1539.2" r="2.6"/><circle cx="649.1" cy="1472.2" r="2.6"/><circle cx="637.1" cy="1571.9" r="2.6"/><circle cx="631.9" cy="1432.6" r="2.6"/><circle cx="652.2" cy="1502.2" r="2.6"/><circle cx="629.6" cy="1435.3" r="2.6"/><circle cx="649.4" cy="1445.9" r="2.6"/><circle cx="630.5" cy="1451.5" r="2.6"/><circle cx="662.4" cy="1437.2" r="2.6"/><circle cx="643" cy="1414" r="2.6"/><circle cx="642.3" cy="1574.2" r="2.6"/><circle cx="631.1" cy="1478.3" r="2.6"/><circle cx="626.4" cy="1498.9" r="2.6"/><circle cx="659.5" cy="1492.2" r="2.6"/><circle cx="658.1" cy="1545.4" r="2.6"/><circle cx="623.8" cy="1483.2" r="2.6"/><circle cx="648.7" cy="1422.9" r="2.6"/><circle cx="660" cy="1574.5" r="2.6"/><circle cx="626.9" cy="1460.3" r="2.6"/><circle cx="645.4" cy="1464.8" r="2.6"/><circle cx="633.4" cy="1440.2" r="2.6"/><circle cx="642.9" cy="1449.4" r="2.6"/><circle cx="660.6" cy="1400.2" r="2.6"/><circle cx="646.4" cy="1485.7" r="2.6"/><circle cx="620.7" cy="1477.4" r="2.6"/><circle cx="621.5" cy="1472.5" r="2.6"/><circle cx="649.5" cy="1570.5" r="2.6"/><circle cx="656.4" cy="1403.9" r="2.6"/><circle cx="644.8" cy="1460" r="2.6"/><circle cx="627.4" cy="1517.3" r="2.6"/><circle cx="662.4" cy="1478.9" r="2.6"/><circle cx="636.2" cy="1411" r="2.6"/><circle cx="632.8" cy="1468.9" r="2.6"/><circle cx="654.6" cy="1510.7" r="2.6"/><circle cx="663.4" cy="1484.2" r="2.6"/><circle cx="625.8" cy="1522.3" r="2.6"/><circle cx="661.3" cy="1470.9" r="2.6"/><circle cx="636.3" cy="1455.5" r="2.6"/><circle cx="647.4" cy="1487" r="2.6"/><circle cx="626.6" cy="1566.4" r="2.6"/><circle cx="655.3" cy="1468" r="2.6"/><circle cx="636.4" cy="1415.1" r="2.6"/><circle cx="624.5" cy="1519.2" r="2.6"/><circle cx="649.3" cy="1532.1" r="2.6"/><circle cx="648.2" cy="1614.1" r="2.6"/><circle cx="656.5" cy="1455.9" r="2.6"/><circle cx="623.7" cy="1457.5" r="2.6"/><circle cx="663.3" cy="1415.7" r="2.6"/><circle cx="621" cy="1542.2" r="2.6"/><circle cx="662.7" cy="1484.5" r="2.6"/><circle cx="655.2" cy="1468.4" r="2.6"/><circle cx="634.4" cy="1511.3" r="2.6"/><circle cx="637.3" cy="1551.4" r="2.6"/><circle cx="652.1" cy="1476.2" r="2.6"/><circle cx="631.5" cy="1531.3" r="2.6"/><circle cx="655.7" cy="1469.8" r="2.6"/><circle cx="660.4" cy="1461.8" r="2.6"/><circle cx="621.6" cy="1515.2" r="2.6"/><circle cx="653.7" cy="1499.9" r="2.6"/><circle cx="660.3" cy="1429.8" r="2.6"/><circle cx="645.1" cy="1544.9" r="2.6"/><circle cx="625.8" cy="1556.5" r="2.6"/><circle cx="642.4" cy="1513.6" r="2.6"/><circle cx="623.2" cy="1480" r="2.6"/><circle cx="657.1" cy="1470.4" r="2.6"/><circle cx="639.7" cy="1511.7" r="2.6"/><circle cx="637.7" cy="1483.7" r="2.6"/><circle cx="639.5" cy="1417.2" r="2.6"/><circle cx="640.8" cy="1397.7" r="2.6"/><circle cx="631.9" cy="1509.3" r="2.6"/><circle cx="647" cy="1438.1" r="2.6"/><circle cx="621.8" cy="1623.4" r="2.6"/><circle cx="630.1" cy="1471.2" r="2.6"/><circle cx="660.1" cy="1480.8" r="2.6"/><circle cx="653.9" cy="1439.4" r="2.6"/><circle cx="652.5" cy="1514" r="2.6"/><circle cx="645" cy="1565.6" r="2.6"/><circle cx="630.1" cy="1446.3" r="2.6"/><circle cx="631.1" cy="1502.6" r="2.6"/><circle cx="645" cy="1458.8" r="2.6"/><circle cx="644.4" cy="1502.9" r="2.6"/><circle cx="629.7" cy="1505.7" r="2.6"/><circle cx="661.5" cy="1482.6" r="2.6"/><circle cx="652.4" cy="1428.1" r="2.6"/><circle cx="638.8" cy="1477.8" r="2.6"/><circle cx="659.4" cy="1485" r="2.6"/><circle cx="659.3" cy="1431" r="2.6"/><circle cx="658.7" cy="1457.5" r="2.6"/><circle cx="655.5" cy="1566.8" r="2.6"/><circle cx="633.3" cy="1447.4" r="2.6"/><circle cx="657" cy="1491.4" r="2.6"/><circle cx="632" cy="1434.2" r="2.6"/><circle cx="656.3" cy="1459.3" r="2.6"/><circle cx="650" cy="1508.8" r="2.6"/><circle cx="620.4" cy="1476.8" r="2.6"/><circle cx="647.6" cy="1595.7" r="2.6"/><circle cx="663.4" cy="1424.3" r="2.6"/><circle cx="622.3" cy="1491.7" r="2.6"/><circle cx="624.5" cy="1528.4" r="2.6"/><circle cx="641.6" cy="1510.3" r="2.6"/><circle cx="648.6" cy="1476.5" r="2.6"/><circle cx="633.6" cy="1486.7" r="2.6"/><circle cx="657.2" cy="1463.3" r="2.6"/><circle cx="638.3" cy="1583.7" r="2.6"/><circle cx="636.7" cy="1575.1" r="2.6"/><circle cx="642.9" cy="1396.1" r="2.6"/><circle cx="622.6" cy="1563" r="2.6"/><circle cx="657.4" cy="1481.5" r="2.6"/><circle cx="627.2" cy="1497.6" r="2.6"/><circle cx="652.9" cy="1463.1" r="2.6"/><circle cx="622.7" cy="1418.8" r="2.6"/><circle cx="635.9" cy="1517.5" r="2.6"/><circle cx="637.4" cy="1529.8" r="2.6"/><circle cx="643.9" cy="1437.7" r="2.6"/><circle cx="661.8" cy="1555.9" r="2.6"/><circle cx="637.2" cy="1506.9" r="2.6"/><circle cx="624" cy="1497.4" r="2.6"/><circle cx="642.4" cy="1541.7" r="2.6"/><circle cx="659.7" cy="1554.7" r="2.6"/><circle cx="623.1" cy="1528.5" r="2.6"/><circle cx="647" cy="1469.2" r="2.6"/><circle cx="661.8" cy="1531.6" r="2.6"/><circle cx="651.4" cy="1463.4" r="2.6"/><circle cx="661.4" cy="1520" r="2.6"/><circle cx="627.8" cy="1502.2" r="2.6"/><circle cx="655" cy="1416" r="2.6"/><circle cx="629.5" cy="1425.6" r="2.6"/><circle cx="656" cy="1602.4" r="2.6"/><circle cx="620" cy="1533.7" r="2.6"/><circle cx="648.4" cy="1558.6" r="2.6"/><circle cx="628.3" cy="1550.7" r="2.6"/><circle cx="634.2" cy="1483.9" r="2.6"/><circle cx="637.1" cy="1594.1" r="2.6"/><circle cx="650.5" cy="1559.9" r="2.6"/><circle cx="628.1" cy="1552.4" r="2.6"/><circle cx="624.2" cy="1422.1" r="2.6"/><circle cx="637.3" cy="1482.2" r="2.6"/><circle cx="657" cy="1467.2" r="2.6"/><circle cx="656.4" cy="1490.8" r="2.6"/><circle cx="660.4" cy="1555" r="2.6"/><circle cx="658.7" cy="1436" r="2.6"/><circle cx="653.5" cy="1457" r="2.6"/><circle cx="620.8" cy="1506" r="2.6"/><circle cx="653.2" cy="1460.1" r="2.6"/><circle cx="657.5" cy="1483.5" r="2.6"/><circle cx="660.5" cy="1516.1" r="2.6"/><circle cx="655.1" cy="1589.4" r="2.6"/><circle cx="638.2" cy="1552.7" r="2.6"/><circle cx="622" cy="1495.2" r="2.6"/><circle cx="663.4" cy="1466.9" r="2.6"/><circle cx="652.6" cy="1510.4" r="2.6"/><circle cx="631.5" cy="1550.2" r="2.6"/><circle cx="620.1" cy="1517.9" r="2.6"/><circle cx="659.5" cy="1504.1" r="2.6"/><circle cx="620.7" cy="1570.2" r="2.6"/><circle cx="641" cy="1456.1" r="2.6"/><circle cx="662" cy="1452.5" r="2.6"/><circle cx="636.6" cy="1522.8" r="2.6"/><circle cx="661.7" cy="1441.7" r="2.6"/><circle cx="640.1" cy="1466.7" r="2.6"/><circle cx="653.2" cy="1493.4" r="2.6"/><circle cx="622.8" cy="1444.9" r="2.6"/><circle cx="657.5" cy="1587.4" r="2.6"/><circle cx="655.9" cy="1462.6" r="2.6"/><circle cx="650.1" cy="1455.7" r="2.6"/><circle cx="631" cy="1499.4" r="2.6"/><circle cx="633.5" cy="1500.8" r="2.6"/><circle cx="627.5" cy="1542.7" r="2.6"/><circle cx="621.1" cy="1406.3" r="2.6"/><circle cx="662.4" cy="1434.7" r="2.6"/><circle cx="659.5" cy="1461.1" r="2.6"/><circle cx="644.8" cy="1456.9" r="2.6"/><circle cx="656.5" cy="1561.6" r="2.6"/><circle cx="642.2" cy="1495.5" r="2.6"/><circle cx="626.5" cy="1654.3" r="2.6"/><circle cx="646.9" cy="1564.2" r="2.6"/><circle cx="629.3" cy="1489.1" r="2.6"/><circle cx="620.3" cy="1486.3" r="2.6"/><circle cx="622.9" cy="1471.9" r="2.6"/><circle cx="638.7" cy="1465.1" r="2.6"/><circle cx="647.9" cy="1469.4" r="2.6"/><circle cx="623.1" cy="1507.9" r="2.6"/><circle cx="642.8" cy="1449.9" r="2.6"/><circle cx="636.3" cy="1440.7" r="2.6"/><circle cx="640.6" cy="1407.8" r="2.6"/><circle cx="660.2" cy="1539.4" r="2.6"/><circle cx="622.4" cy="1450.9" r="2.6"/><circle cx="662.8" cy="1403.1" r="2.6"/><circle cx="652.4" cy="1527" r="2.6"/><circle cx="634.5" cy="1430.3" r="2.6"/><circle cx="643.2" cy="1474.3" r="2.6"/><circle cx="634.4" cy="1409.5" r="2.6"/><circle cx="619.2" cy="1499.2" r="2.6"/><circle cx="655.1" cy="1508.5" r="2.6"/><circle cx="651" cy="1535.6" r="2.6"/><circle cx="647.8" cy="1417.9" r="2.6"/><circle cx="637" cy="1477.1" r="2.6"/><circle cx="645.3" cy="1381.8" r="2.6"/><circle cx="619.3" cy="1560.2" r="2.6"/><circle cx="619.9" cy="1575.9" r="2.6"/><circle cx="663.3" cy="1530.3" r="2.6"/><circle cx="661.5" cy="1475.9" r="2.6"/><circle cx="622.4" cy="1487.7" r="2.6"/><circle cx="627.3" cy="1573.2" r="2.6"/><circle cx="656.5" cy="1412.1" r="2.6"/><circle cx="625.5" cy="1580" r="2.6"/><circle cx="660.2" cy="1485.3" r="2.6"/><circle cx="645.1" cy="1496.1" r="2.6"/><circle cx="640.7" cy="1503.3" r="2.6"/><circle cx="647.9" cy="1506.3" r="2.6"/><circle cx="656.6" cy="1488.4" r="2.6"/><circle cx="628.3" cy="1439" r="2.6"/><circle cx="635.7" cy="1470.3" r="2.6"/><circle cx="640.9" cy="1448" r="2.6"/><circle cx="621.5" cy="1463.8" r="2.6"/><circle cx="625.7" cy="1516.6" r="2.6"/><circle cx="648.4" cy="1553.7" r="2.6"/><circle cx="631.9" cy="1521.1" r="2.6"/><circle cx="649.4" cy="1517" r="2.6"/><circle cx="631.8" cy="1557.9" r="2.6"/><circle cx="635.4" cy="1592.9" r="2.6"/><circle cx="635.9" cy="1446.5" r="2.6"/><circle cx="658.3" cy="1523.6" r="2.6"/><circle cx="646.2" cy="1524.7" r="2.6"/><circle cx="658.5" cy="1436.9" r="2.6"/><circle cx="658.4" cy="1546.3" r="2.6"/><circle cx="658.5" cy="1487.4" r="2.6"/><circle cx="620.7" cy="1548.1" r="2.6"/><circle cx="654.5" cy="1468.3" r="2.6"/><circle cx="630.3" cy="1534.4" r="2.6"/><circle cx="630.8" cy="1549.1" r="2.6"/><circle cx="643.6" cy="1465.9" r="2.6"/><circle cx="656.9" cy="1455" r="2.6"/><circle cx="629.1" cy="1538.2" r="2.6"/><circle cx="646.1" cy="1537.3" r="2.6"/><circle cx="634.5" cy="1598.6" r="2.6"/><circle cx="644" cy="1538.6" r="2.6"/><circle cx="652.6" cy="1525.3" r="2.6"/><circle cx="621.4" cy="1529.4" r="2.6"/><circle cx="620.9" cy="1452.1" r="2.6"/><circle cx="639.9" cy="1572.4" r="2.6"/><circle cx="641.4" cy="1521.8" r="2.6"/><circle cx="638.3" cy="1506.7" r="2.6"/><circle cx="657.3" cy="1501.4" r="2.6"/><circle cx="626.2" cy="1501.6" r="2.6"/><circle cx="662.6" cy="1511.9" r="2.6"/><circle cx="638.8" cy="1596.9" r="2.6"/><circle cx="650" cy="1534.9" r="2.6"/><circle cx="629.5" cy="1537.8" r="2.6"/><circle cx="643.1" cy="1474.8" r="2.6"/><circle cx="663.8" cy="1498.5" r="2.6"/><circle cx="643.7" cy="1557.2" r="2.6"/><circle cx="634.6" cy="1461.3" r="2.6"/><circle cx="624.6" cy="1452.9" r="2.6"/><circle cx="644.3" cy="1520.9" r="2.6"/><circle cx="641.9" cy="1479.7" r="2.6"/><circle cx="633.6" cy="1448.8" r="2.6"/><circle cx="638.4" cy="1444.5" r="2.6"/><circle cx="624.8" cy="1482.1" r="2.6"/><circle cx="659.6" cy="1520.6" r="2.6"/><circle cx="631" cy="1460.6" r="2.6"/><circle cx="632.9" cy="1433.4" r="2.6"/><circle cx="656.2" cy="1479.4" r="2.6"/><circle cx="627.6" cy="1431.5" r="2.6"/><circle cx="634" cy="1401.5" r="2.6"/><circle cx="640" cy="1488.3" r="2.6"/><circle cx="647.7" cy="1498.1" r="2.6"/><circle cx="639.1" cy="1540.9" r="2.6"/><circle cx="663.4" cy="1494.3" r="2.6"/><circle cx="657.9" cy="1448.4" r="2.6"/><circle cx="635.3" cy="1444" r="2.6"/><circle cx="656.1" cy="1453.3" r="2.6"/><circle cx="629.2" cy="1482.9" r="2.6"/><circle cx="648.5" cy="1420.9" r="2.6"/><circle cx="627.6" cy="1466.4" r="2.6"/><circle cx="646.3" cy="1467.7" r="2.6"/><circle cx="630.2" cy="1473" r="2.6"/><circle cx="646.8" cy="1475.1" r="2.6"/><circle cx="657.9" cy="1481.1" r="2.6"/><circle cx="622.8" cy="1424.9" r="2.6"/><circle cx="626.9" cy="1518.8" r="2.6"/><circle cx="635.1" cy="1591.6" r="2.6"/><circle cx="626" cy="1471.7" r="2.6"/><circle cx="639.3" cy="1421.7" r="2.6"/><circle cx="644.7" cy="1458.4" r="2.6"/><circle cx="632.3" cy="1423.7" r="2.6"/><circle cx="660" cy="1568.2" r="2.6"/><circle cx="658.3" cy="1486" r="2.6"/><circle cx="636.5" cy="1513.5" r="2.6"/><circle cx="633.4" cy="1568.4" r="2.6"/><circle cx="628.1" cy="1509.6" r="2.6"/><circle cx="633.2" cy="1644.9" r="2.6"/><circle cx="646.8" cy="1527.9" r="2.6"/><circle cx="629.3" cy="1601.2" r="2.6"/><circle cx="621.8" cy="1494.2" r="2.6"/><circle cx="633.8" cy="1469.9" r="2.6"/><circle cx="632.7" cy="1450.5" r="2.6"/><circle cx="643.4" cy="1500.1" r="2.6"/><circle cx="633.7" cy="1442.3" r="2.6"/><circle cx="647.8" cy="1630.6" r="2.6"/><circle cx="627" cy="1433" r="2.6"/><circle cx="653.3" cy="1473.9" r="2.6"/><circle cx="636.7" cy="1436.7" r="2.6"/><circle cx="639.3" cy="1473.7" r="2.6"/><circle cx="654.9" cy="1543.5" r="2.6"/><circle cx="656.7" cy="1524.1" r="2.6"/><circle cx="650" cy="1471.1" r="2.6"/><circle cx="651.8" cy="1521.4" r="2.6"/><circle cx="620.6" cy="1451" r="2.6"/><circle cx="629.9" cy="1390.7" r="2.6"/><circle cx="649.5" cy="1456.4" r="2.6"/><circle cx="638.6" cy="1443.2" r="2.6"/><circle cx="663" cy="1420.1" r="2.6"/><circle cx="649.9" cy="1513" r="2.6"/><circle cx="626.3" cy="1540.3" r="2.6"/><circle cx="628.4" cy="1544.3" r="2.6"/><circle cx="639.1" cy="1453.6" r="2.6"/><circle cx="644.8" cy="1515.9" r="2.6"/><circle cx="654.4" cy="1505.3" r="2.6"/><circle cx="649.7" cy="1429.5" r="2.6"/><circle cx="637.5" cy="1561.4" r="2.6"/><circle cx="620.8" cy="1412.5" r="2.6"/><circle cx="640.9" cy="1459.7" r="2.6"/><circle cx="638.6" cy="1526.1" r="2.6"/><circle cx="645.8" cy="1545.7" r="2.6"/><circle cx="625.4" cy="1394.1" r="2.6"/><circle cx="648.5" cy="1398.8" r="2.6"/><circle cx="619.3" cy="1515.5" r="2.6"/><circle cx="621.8" cy="1449.2" r="2.6"/><circle cx="652.2" cy="1493" r="2.6"/><circle cx="652.2" cy="1550.9" r="2.6"/><circle cx="625" cy="1427.3" r="2.6"/><circle cx="628.1" cy="1514.6" r="2.6"/><circle cx="654.2" cy="1563.6" r="2.6"/><circle cx="660.5" cy="1441.2" r="2.6"/><circle cx="653.4" cy="1435.5" r="2.6"/><circle cx="658.1" cy="1459" r="2.6"/><circle cx="642.3" cy="1480.5" r="2.6"/><circle cx="632.6" cy="1454.8" r="2.6"/><circle cx="637.7" cy="1464.2" r="2.6"/><circle cx="651.6" cy="1490.4" r="2.6"/><circle cx="622.2" cy="1496.6" r="2.6"/><circle cx="645.8" cy="1478.7" r="2.6"/><circle cx="653.7" cy="1500.7" r="2.6"/><circle cx="643.5" cy="1473.2" r="2.6"/><circle cx="638.2" cy="1543.7" r="2.6"/><circle cx="661.5" cy="1493.7" r="2.6"/><circle cx="621" cy="1586.6" r="2.6"/><circle cx="629.2" cy="1569.6" r="2.6"/><circle cx="621.5" cy="1445.1" r="2.6"/><circle cx="632.9" cy="1475.7" r="2.6"/><circle cx="640.9" cy="1423.4" r="2.6"/><circle cx="650.2" cy="1405.1" r="2.6"/><circle cx="657.3" cy="1465.4" r="2.6"/><circle cx="632.3" cy="1432.6" r="2.6"/><circle cx="651.5" cy="1519.8" r="2.6"/><circle cx="643.3" cy="1475.3" r="2.6"/><circle cx="636.5" cy="1526.5" r="2.6"/><circle cx="647.6" cy="1479.2" r="2.6"/><circle cx="660.1" cy="1462.2" r="2.6"/><circle cx="646.2" cy="1507.5" r="2.6"/><circle cx="620.8" cy="1461.4" r="2.6"/><circle cx="629.4" cy="1446.9" r="2.6"/><circle cx="631.1" cy="1419.3" r="2.6"/><circle cx="638.3" cy="1607.6" r="2.6"/><circle cx="623.5" cy="1581.4" r="2.6"/><circle cx="659.2" cy="1489.4" r="2.6"/><circle cx="619.6" cy="1541.4" r="2.6"/><circle cx="663.7" cy="1492.9" r="2.6"/><circle cx="634.5" cy="1536.4" r="2.6"/>
</g>
<g fill="#c6b0e6" fill-opacity="0.75" stroke="#160c26" stroke-width="1.6">
<circle cx="712.8" cy="1557.8" r="2.6"/><circle cx="717.5" cy="1518" r="2.6"/><circle cx="705.6" cy="1557.3" r="2.6"/><circle cx="695.6" cy="1526.3" r="2.6"/><circle cx="698.9" cy="1549.6" r="2.6"/><circle cx="704.8" cy="1509.7" r="2.6"/><circle cx="698.1" cy="1519.9" r="2.6"/><circle cx="708.4" cy="1599.7" r="2.6"/><circle cx="712.3" cy="1510.1" r="2.6"/><circle cx="721.1" cy="1487.1" r="2.6"/><circle cx="699.9" cy="1606.6" r="2.6"/><circle cx="698" cy="1471" r="2.6"/><circle cx="708.3" cy="1468.1" r="2.6"/><circle cx="694.6" cy="1579.4" r="2.6"/><circle cx="725.3" cy="1592.2" r="2.6"/><circle cx="695.9" cy="1521.7" r="2.6"/><circle cx="722.4" cy="1524.6" r="2.6"/><circle cx="701.7" cy="1459.7" r="2.6"/><circle cx="713" cy="1465.5" r="2.6"/><circle cx="699.4" cy="1449.1" r="2.6"/><circle cx="684.9" cy="1493.8" r="2.6"/><circle cx="692" cy="1555.7" r="2.6"/><circle cx="681.8" cy="1562" r="2.6"/><circle cx="717.8" cy="1478.6" r="2.6"/><circle cx="684.6" cy="1536.2" r="2.6"/><circle cx="703.1" cy="1541.4" r="2.6"/><circle cx="713.4" cy="1503.1" r="2.6"/><circle cx="710.8" cy="1530.4" r="2.6"/><circle cx="723.9" cy="1523.8" r="2.6"/><circle cx="722.5" cy="1601.4" r="2.6"/><circle cx="699.3" cy="1569.3" r="2.6"/><circle cx="700" cy="1595.3" r="2.6"/><circle cx="718.5" cy="1548.1" r="2.6"/><circle cx="711.4" cy="1514.1" r="2.6"/><circle cx="718.3" cy="1587.4" r="2.6"/><circle cx="688" cy="1533.5" r="2.6"/><circle cx="723.9" cy="1485" r="2.6"/><circle cx="686.1" cy="1541" r="2.6"/><circle cx="690.3" cy="1474.2" r="2.6"/><circle cx="723.4" cy="1551.6" r="2.6"/><circle cx="719.2" cy="1533" r="2.6"/><circle cx="709.1" cy="1577.2" r="2.6"/><circle cx="703.7" cy="1553" r="2.6"/><circle cx="692.3" cy="1560.6" r="2.6"/><circle cx="713.4" cy="1581.8" r="2.6"/><circle cx="682.8" cy="1511.9" r="2.6"/><circle cx="684.5" cy="1488" r="2.6"/><circle cx="691.3" cy="1506.6" r="2.6"/><circle cx="698.2" cy="1571.8" r="2.6"/><circle cx="682.2" cy="1563.2" r="2.6"/><circle cx="719.9" cy="1584.6" r="2.6"/><circle cx="695.9" cy="1499.7" r="2.6"/><circle cx="711.9" cy="1545.8" r="2.6"/><circle cx="717.2" cy="1574.4" r="2.6"/><circle cx="716.9" cy="1505.4" r="2.6"/><circle cx="688.3" cy="1543.7" r="2.6"/><circle cx="684.4" cy="1481.9" r="2.6"/><circle cx="700.8" cy="1536.7" r="2.6"/><circle cx="725.8" cy="1539.3" r="2.6"/><circle cx="681.8" cy="1440.1" r="2.6"/><circle cx="688.1" cy="1490.8" r="2.6"/><circle cx="723" cy="1502.4" r="2.6"/><circle cx="686.5" cy="1625.7" r="2.6"/><circle cx="703.4" cy="1497.2" r="2.6"/><circle cx="723.4" cy="1566.1" r="2.6"/><circle cx="685.3" cy="1492.6" r="2.6"/><circle cx="708.3" cy="1516.7" r="2.6"/><circle cx="683.4" cy="1626.2" r="2.6"/><circle cx="701.4" cy="1495.2" r="2.6"/><circle cx="693.6" cy="1529.6" r="2.6"/><circle cx="689" cy="1547.4" r="2.6"/><circle cx="724.2" cy="1567.7" r="2.6"/>
</g>
<path d="M641.7 1357.7V1355.2H703.8V1357.7" stroke="#000" stroke-width="3.4" fill="none"/>
<text x="669.1" y="1349" font-size="20.4" text-anchor="middle">p = 1.7e−10</text>
<text x="672.3" y="1696" font-size="20.4" text-anchor="middle">STK11</text>
<line x1="797.4" y1="1380.9" x2="797.4" y2="1455.2" stroke="#363636" stroke-width="4"/>
<line x1="797.4" y1="1522.3" x2="797.4" y2="1605.4" stroke="#363636" stroke-width="4"/>
<rect x="770.1" y="1455.2" width="54.6" height="67" fill="#E7EEBE" stroke="#363636" stroke-width="4"/>
<line x1="770.1" y1="1485.4" x2="824.7" y2="1485.4" stroke="#363636" stroke-width="8"/>
<line x1="859.5" y1="1423.6" x2="859.5" y2="1488.1" stroke="#363636" stroke-width="4"/>
<line x1="859.5" y1="1570" x2="859.5" y2="1643.9" stroke="#363636" stroke-width="4"/>
<rect x="832.2" y="1488.1" width="54.6" height="81.9" fill="#EDD9F7" stroke="#363636" stroke-width="4"/>
<line x1="832.2" y1="1533.3" x2="886.8" y2="1533.3" stroke="#363636" stroke-width="8"/>
<g fill="#6f7f34" fill-opacity="0.85" stroke="#0a0d05" stroke-width="1.6">
<circle cx="784.1" cy="1408" r="2.6"/><circle cx="779.4" cy="1502.9" r="2.6"/><circle cx="809.6" cy="1566.4" r="2.6"/><circle cx="816.8" cy="1439.4" r="2.6"/><circle cx="783.5" cy="1496.5" r="2.6"/><circle cx="810.9" cy="1438" r="2.6"/><circle cx="798.6" cy="1493.6" r="2.6"/><circle cx="804.6" cy="1421.5" r="2.6"/><circle cx="806.9" cy="1604.5" r="2.6"/><circle cx="814.9" cy="1446.9" r="2.6"/><circle cx="806.9" cy="1534.5" r="2.6"/><circle cx="781.8" cy="1480.4" r="2.6"/><circle cx="806.9" cy="1587.7" r="2.6"/><circle cx="799.6" cy="1475.2" r="2.6"/><circle cx="780" cy="1533.5" r="2.6"/><circle cx="818" cy="1462.5" r="2.6"/><circle cx="805.8" cy="1529.8" r="2.6"/><circle cx="809.2" cy="1420.9" r="2.6"/><circle cx="813.1" cy="1575" r="2.6"/><circle cx="787.1" cy="1415.1" r="2.6"/><circle cx="814.7" cy="1463.4" r="2.6"/><circle cx="776.3" cy="1588.8" r="2.6"/><circle cx="780.5" cy="1535.3" r="2.6"/><circle cx="784.4" cy="1445.7" r="2.6"/><circle cx="786" cy="1547.1" r="2.6"/><circle cx="785.1" cy="1469.5" r="2.6"/><circle cx="783.4" cy="1535.7" r="2.6"/><circle cx="813.9" cy="1481.7" r="2.6"/><circle cx="781.5" cy="1520.4" r="2.6"/><circle cx="814" cy="1404.7" r="2.6"/><circle cx="778.2" cy="1529.1" r="2.6"/><circle cx="810.5" cy="1412.2" r="2.6"/><circle cx="800.4" cy="1427.6" r="2.6"/><circle cx="796" cy="1513.3" r="2.6"/><circle cx="780.8" cy="1463.3" r="2.6"/><circle cx="786" cy="1454.9" r="2.6"/><circle cx="781.3" cy="1500.5" r="2.6"/><circle cx="817.8" cy="1460.6" r="2.6"/><circle cx="778.5" cy="1539.4" r="2.6"/><circle cx="815.3" cy="1497.3" r="2.6"/><circle cx="811.5" cy="1447.8" r="2.6"/><circle cx="806.1" cy="1434.1" r="2.6"/><circle cx="787.4" cy="1564" r="2.6"/><circle cx="819.3" cy="1503.1" r="2.6"/><circle cx="803.1" cy="1437.4" r="2.6"/><circle cx="776.9" cy="1403.9" r="2.6"/><circle cx="790.3" cy="1521.1" r="2.6"/><circle cx="792.2" cy="1536.8" r="2.6"/><circle cx="777.5" cy="1537.4" r="2.6"/><circle cx="797.5" cy="1576.7" r="2.6"/><circle cx="803.6" cy="1502.5" r="2.6"/><circle cx="779.2" cy="1419.9" r="2.6"/><circle cx="781.3" cy="1462.2" r="2.6"/><circle cx="808.8" cy="1467.9" r="2.6"/><circle cx="796" cy="1522.9" r="2.6"/><circle cx="818.2" cy="1484.8" r="2.6"/><circle cx="777.3" cy="1531.5" r="2.6"/><circle cx="784.8" cy="1479.8" r="2.6"/><circle cx="817" cy="1470.8" r="2.6"/><circle cx="812.2" cy="1454.2" r="2.6"/><circle cx="780.3" cy="1494.8" r="2.6"/><circle cx="795.2" cy="1442.8" r="2.6"/><circle cx="794.1" cy="1505.9" r="2.6"/><circle cx="810.9" cy="1457.2" r="2.6"/><circle cx="781.4" cy="1422.2" r="2.6"/><circle cx="779.8" cy="1571.7" r="2.6"/><circle cx="777.9" cy="1429.4" r="2.6"/><circle cx="797.2" cy="1447.1" r="2.6"/><circle cx="814.4" cy="1472.5" r="2.6"/><circle cx="814.8" cy="1464.7" r="2.6"/><circle cx="791.7" cy="1522.2" r="2.6"/><circle cx="794.7" cy="1554.2" r="2.6"/><circle cx="816.2" cy="1470.6" r="2.6"/><circle cx="816" cy="1627" r="2.6"/><circle cx="807.9" cy="1420.2" r="2.6"/><circle cx="807.2" cy="1558.9" r="2.6"/><circle cx="776.2" cy="1469.1" r="2.6"/><circle cx="794.1" cy="1563.4" r="2.6"/><circle cx="816.6" cy="1451.3" r="2.6"/><circle cx="782.6" cy="1476.5" r="2.6"/><circle cx="782.1" cy="1409.9" r="2.6"/><circle cx="812.9" cy="1392.4" r="2.6"/><circle cx="804.4" cy="1482.7" r="2.6"/><circle cx="799" cy="1489.2" r="2.6"/><circle cx="790.3" cy="1434.6" r="2.6"/><circle cx="793.8" cy="1493" r="2.6"/><circle cx="789.4" cy="1538" r="2.6"/><circle cx="818.5" cy="1518.2" r="2.6"/><circle cx="790.7" cy="1482" r="2.6"/><circle cx="780.1" cy="1492.9" r="2.6"/><circle cx="812.5" cy="1499.9" r="2.6"/><circle cx="790.7" cy="1440.8" r="2.6"/><circle cx="798.7" cy="1560.5" r="2.6"/><circle cx="781.3" cy="1548.7" r="2.6"/><circle cx="783.8" cy="1502" r="2.6"/><circle cx="813.6" cy="1444.2" r="2.6"/><circle cx="812.5" cy="1585.2" r="2.6"/><circle cx="778.7" cy="1598.4" r="2.6"/><circle cx="797.3" cy="1478.1" r="2.6"/><circle cx="789.8" cy="1486.6" r="2.6"/><circle cx="815.5" cy="1531.9" r="2.6"/><circle cx="788.6" cy="1431.9" r="2.6"/><circle cx="784.4" cy="1442.1" r="2.6"/><circle cx="810.8" cy="1452.1" r="2.6"/><circle cx="796.3" cy="1573.3" r="2.6"/><circle cx="812.1" cy="1436.5" r="2.6"/><circle cx="792.1" cy="1458.2" r="2.6"/><circle cx="819" cy="1425.5" r="2.6"/><circle cx="797.9" cy="1449" r="2.6"/><circle cx="788.1" cy="1540.2" r="2.6"/><circle cx="777.7" cy="1494.5" r="2.6"/><circle cx="786.9" cy="1501.3" r="2.6"/><circle cx="818" cy="1417.1" r="2.6"/><circle cx="801.8" cy="1474.3" r="2.6"/><circle cx="811.2" cy="1530.4" r="2.6"/><circle cx="781" cy="1479.3" r="2.6"/><circle cx="809.8" cy="1406.7" r="2.6"/><circle cx="815.2" cy="1443.5" r="2.6"/><circle cx="806.9" cy="1528.4" r="2.6"/><circle cx="813.8" cy="1554.8" r="2.6"/><circle cx="799.8" cy="1507.5" r="2.6"/><circle cx="817.7" cy="1438.9" r="2.6"/><circle cx="802.1" cy="1434.8" r="2.6"/><circle cx="777.9" cy="1416.2" r="2.6"/><circle cx="806.3" cy="1460.2" r="2.6"/><circle cx="806.5" cy="1531.2" r="2.6"/><circle cx="809.2" cy="1561.7" r="2.6"/><circle cx="818" cy="1545.6" r="2.6"/><circle cx="798.6" cy="1594.8" r="2.6"/><circle cx="804.1" cy="1527.6" r="2.6"/><circle cx="800.6" cy="1591.1" r="2.6"/><circle cx="777.5" cy="1518.8" r="2.6"/><circle cx="781.2" cy="1521.9" r="2.6"/><circle cx="775.9" cy="1542.1" r="2.6"/><circle cx="805.5" cy="1467.6" r="2.6"/><circle cx="784.5" cy="1435.3" r="2.6"/><circle cx="775.8" cy="1464.1" r="2.6"/><circle cx="809.6" cy="1478.6" r="2.6"/><circle cx="803.5" cy="1641.3" r="2.6"/><circle cx="775.2" cy="1634.1" r="2.6"/><circle cx="802.2" cy="1551.4" r="2.6"/><circle cx="776.3" cy="1498.5" r="2.6"/><circle cx="778.4" cy="1619.8" r="2.6"/><circle cx="799.5" cy="1534.1" r="2.6"/><circle cx="812.9" cy="1543.9" r="2.6"/><circle cx="795.7" cy="1513.9" r="2.6"/><circle cx="813.2" cy="1468.2" r="2.6"/><circle cx="776.6" cy="1390.4" r="2.6"/><circle cx="817.7" cy="1467.2" r="2.6"/><circle cx="782.8" cy="1440.3" r="2.6"/><circle cx="800" cy="1424.3" r="2.6"/><circle cx="788" cy="1495.2" r="2.6"/><circle cx="785.5" cy="1499.2" r="2.6"/><circle cx="778.9" cy="1539" r="2.6"/><circle cx="806" cy="1402.2" r="2.6"/><circle cx="800.1" cy="1450.2" r="2.6"/><circle cx="818.7" cy="1498" r="2.6"/><circle cx="818.7" cy="1517.6" r="2.6"/><circle cx="782" cy="1558.5" r="2.6"/><circle cx="803.8" cy="1466.6" r="2.6"/><circle cx="803.4" cy="1438.6" r="2.6"/><circle cx="788.5" cy="1471.1" r="2.6"/><circle cx="798.6" cy="1477.6" r="2.6"/><circle cx="810.4" cy="1489.9" r="2.6"/><circle cx="812.2" cy="1473.1" r="2.6"/><circle cx="799.9" cy="1528.7" r="2.6"/><circle cx="791" cy="1458.4" r="2.6"/><circle cx="806.6" cy="1446.6" r="2.6"/><circle cx="792.4" cy="1462.8" r="2.6"/><circle cx="795.9" cy="1563" r="2.6"/><circle cx="782.4" cy="1484" r="2.6"/><circle cx="777.2" cy="1527" r="2.6"/><circle cx="809.6" cy="1494" r="2.6"/><circle cx="806.2" cy="1488.5" r="2.6"/><circle cx="799.4" cy="1509.5" r="2.6"/><circle cx="805.7" cy="1433.1" r="2.6"/><circle cx="818" cy="1526.9" r="2.6"/><circle cx="787.4" cy="1445" r="2.6"/><circle cx="783.9" cy="1559.8" r="2.6"/><circle cx="796.5" cy="1525.1" r="2.6"/><circle cx="787" cy="1389" r="2.6"/><circle cx="782.3" cy="1481.4" r="2.6"/><circle cx="785.7" cy="1579.8" r="2.6"/><circle cx="804.8" cy="1458.9" r="2.6"/><circle cx="775.9" cy="1516.7" r="2.6"/><circle cx="809.6" cy="1512" r="2.6"/><circle cx="796.7" cy="1520.9" r="2.6"/><circle cx="793.3" cy="1470.2" r="2.6"/><circle cx="784.7" cy="1454" r="2.6"/><circle cx="802.3" cy="1495.6" r="2.6"/><circle cx="795.9" cy="1459.5" r="2.6"/><circle cx="807.8" cy="1426.9" r="2.6"/><circle cx="777.2" cy="1541.8" r="2.6"/><circle cx="818.1" cy="1496" r="2.6"/><circle cx="796.6" cy="1419.3" r="2.6"/><circle cx="775.8" cy="1514.3" r="2.6"/><circle cx="803.5" cy="1501.7" r="2.6"/><circle cx="784" cy="1506.7" r="2.6"/><circle cx="815.4" cy="1497.8" r="2.6"/><circle cx="801.6" cy="1486.1" r="2.6"/><circle cx="819.4" cy="1485.1" r="2.6"/><circle cx="819.4" cy="1471.6" r="2.6"/><circle cx="791.9" cy="1456.7" r="2.6"/><circle cx="795.4" cy="1395" r="2.6"/><circle cx="800.5" cy="1451" r="2.6"/><circle cx="810.6" cy="1426.2" r="2.6"/><circle cx="778.3" cy="1485.2" r="2.6"/><circle cx="809.9" cy="1451.5" r="2.6"/><circle cx="818.4" cy="1382.3" r="2.6"/><circle cx="802.1" cy="1468.5" r="2.6"/><circle cx="792.4" cy="1387.1" r="2.6"/><circle cx="817.8" cy="1516.6" r="2.6"/><circle cx="793.5" cy="1509.8" r="2.6"/><circle cx="818.7" cy="1569.1" r="2.6"/><circle cx="811.1" cy="1524.4" r="2.6"/><circle cx="792.4" cy="1477.2" r="2.6"/><circle cx="798" cy="1414.7" r="2.6"/><circle cx="813.9" cy="1506.1" r="2.6"/><circle cx="814.1" cy="1471.6" r="2.6"/><circle cx="819.5" cy="1466.4" r="2.6"/><circle cx="805.2" cy="1475.9" r="2.6"/><circle cx="812.1" cy="1476.8" r="2.6"/><circle cx="781.8" cy="1469.2" r="2.6"/><circle cx="793.7" cy="1482.3" r="2.6"/><circle cx="776.4" cy="1515.2" r="2.6"/><circle cx="792.3" cy="1441.4" r="2.6"/><circle cx="796.3" cy="1474.7" r="2.6"/><circle cx="778.2" cy="1549.4" r="2.6"/><circle cx="816.3" cy="1472.3" r="2.6"/><circle cx="787" cy="1431.3" r="2.6"/><circle cx="795.4" cy="1423.2" r="2.6"/><circle cx="777.5" cy="1411" r="2.6"/><circle cx="816" cy="1461.4" r="2.6"/><circle cx="776.7" cy="1507.8" r="2.6"/><circle cx="818.4" cy="1510.7" r="2.6"/><circle cx="790.9" cy="1477" r="2.6"/><circle cx="782.7" cy="1505.1" r="2.6"/><circle cx="813.9" cy="1448.4" r="2.6"/><circle cx="801.4" cy="1593.6" r="2.6"/><circle cx="799" cy="1489.7" r="2.6"/><circle cx="806.7" cy="1519.5" r="2.6"/><circle cx="789.5" cy="1449.9" r="2.6"/><circle cx="777.5" cy="1511.4" r="2.6"/><circle cx="810.5" cy="1523" r="2.6"/><circle cx="800.2" cy="1465.5" r="2.6"/><circle cx="783.8" cy="1468.7" r="2.6"/><circle cx="801.6" cy="1467" r="2.6"/><circle cx="805" cy="1503.4" r="2.6"/><circle cx="782.4" cy="1519.6" r="2.6"/><circle cx="819.1" cy="1538.7" r="2.6"/><circle cx="800.4" cy="1504.5" r="2.6"/><circle cx="804.3" cy="1423.8" r="2.6"/><circle cx="785.2" cy="1503.8" r="2.6"/><circle cx="799.7" cy="1486.4" r="2.6"/><circle cx="803.7" cy="1487.2" r="2.6"/><circle cx="805" cy="1461.6" r="2.6"/><circle cx="814.5" cy="1490.2" r="2.6"/><circle cx="806.6" cy="1491.4" r="2.6"/><circle cx="812.1" cy="1515.6" r="2.6"/><circle cx="778.5" cy="1488" r="2.6"/><circle cx="791" cy="1417.5" r="2.6"/><circle cx="811.6" cy="1482.8" r="2.6"/><circle cx="793.1" cy="1586.5" r="2.6"/><circle cx="777" cy="1581.5" r="2.6"/><circle cx="810.4" cy="1472.1" r="2.6"/><circle cx="806.9" cy="1413.6" r="2.6"/><circle cx="813.2" cy="1455.6" r="2.6"/><circle cx="816.6" cy="1555.8" r="2.6"/><circle cx="786.2" cy="1429.7" r="2.6"/><circle cx="781.8" cy="1442.5" r="2.6"/><circle cx="818.3" cy="1512.2" r="2.6"/><circle cx="799.8" cy="1416.7" r="2.6"/><circle cx="776.4" cy="1459.9" r="2.6"/><circle cx="809.6" cy="1445.6" r="2.6"/><circle cx="797.3" cy="1544.5" r="2.6"/><circle cx="784.4" cy="1437" r="2.6"/><circle cx="803.1" cy="1453.1" r="2.6"/><circle cx="796.3" cy="1547.4" r="2.6"/><circle cx="786.2" cy="1526" r="2.6"/><circle cx="811.9" cy="1512.4" r="2.6"/><circle cx="810.2" cy="1540.9" r="2.6"/><circle cx="775.7" cy="1479.2" r="2.6"/><circle cx="804.5" cy="1443.3" r="2.6"/><circle cx="814.7" cy="1484.3" r="2.6"/><circle cx="799.3" cy="1512.9" r="2.6"/><circle cx="801.2" cy="1553.1" r="2.6"/><circle cx="783" cy="1627" r="2.6"/><circle cx="787.3" cy="1457" r="2.6"/><circle cx="795.2" cy="1533.4" r="2.6"/><circle cx="816" cy="1400.6" r="2.6"/><circle cx="795.7" cy="1449.4" r="2.6"/><circle cx="819.6" cy="1452.5" r="2.6"/><circle cx="784.9" cy="1476.1" r="2.6"/><circle cx="783" cy="1582.8" r="2.6"/><circle cx="814.2" cy="1483.1" r="2.6"/><circle cx="809.3" cy="1568.1" r="2.6"/><circle cx="819.5" cy="1523.7" r="2.6"/><circle cx="786.2" cy="1480.7" r="2.6"/><circle cx="797.6" cy="1577.9" r="2.6"/><circle cx="781.3" cy="1549.8" r="2.6"/><circle cx="785.4" cy="1474.2" r="2.6"/><circle cx="799.7" cy="1436.4" r="2.6"/><circle cx="786.2" cy="1536.1" r="2.6"/><circle cx="803.2" cy="1414.1" r="2.6"/><circle cx="782.6" cy="1548.1" r="2.6"/><circle cx="782.2" cy="1457.5" r="2.6"/><circle cx="797.8" cy="1543.3" r="2.6"/><circle cx="804.8" cy="1485.5" r="2.6"/><circle cx="818.3" cy="1623.4" r="2.6"/><circle cx="791.2" cy="1458.7" r="2.6"/><circle cx="817.2" cy="1448.3" r="2.6"/><circle cx="793" cy="1453.3" r="2.6"/><circle cx="792.7" cy="1475.4" r="2.6"/><circle cx="793.5" cy="1461.1" r="2.6"/><circle cx="803" cy="1510.3" r="2.6"/><circle cx="792.5" cy="1561.5" r="2.6"/><circle cx="815.9" cy="1455.3" r="2.6"/><circle cx="803.3" cy="1428.3" r="2.6"/><circle cx="802.8" cy="1630.6" r="2.6"/><circle cx="789.7" cy="1513.5" r="2.6"/><circle cx="783.8" cy="1489" r="2.6"/><circle cx="789.8" cy="1497" r="2.6"/><circle cx="777.4" cy="1552.6" r="2.6"/><circle cx="802.8" cy="1532.7" r="2.6"/><circle cx="809.6" cy="1418.4" r="2.6"/><circle cx="810" cy="1515.8" r="2.6"/><circle cx="814.8" cy="1516.1" r="2.6"/><circle cx="809.4" cy="1543.7" r="2.6"/><circle cx="793.1" cy="1393.5" r="2.6"/><circle cx="808.1" cy="1473" r="2.6"/><circle cx="791" cy="1483.6" r="2.6"/><circle cx="809.7" cy="1545.1" r="2.6"/><circle cx="778.6" cy="1518.9" r="2.6"/><circle cx="802.8" cy="1459.6" r="2.6"/><circle cx="776.4" cy="1430.6" r="2.6"/><circle cx="799.2" cy="1465.2" r="2.6"/><circle cx="810.4" cy="1570.4" r="2.6"/><circle cx="784.7" cy="1537.5" r="2.6"/><circle cx="776.5" cy="1490.7" r="2.6"/><circle cx="788.3" cy="1481.3" r="2.6"/><circle cx="790.3" cy="1461.9" r="2.6"/><circle cx="797.6" cy="1478.8" r="2.6"/><circle cx="813.9" cy="1511.1" r="2.6"/><circle cx="796.4" cy="1499.8" r="2.6"/><circle cx="785.9" cy="1460.9" r="2.6"/><circle cx="805.6" cy="1432.8" r="2.6"/><circle cx="786.1" cy="1487.6" r="2.6"/><circle cx="775.9" cy="1550.4" r="2.6"/><circle cx="776.9" cy="1457.8" r="2.6"/><circle cx="787.4" cy="1480.3" r="2.6"/><circle cx="807.4" cy="1439.7" r="2.6"/><circle cx="817.3" cy="1475.1" r="2.6"/><circle cx="778.2" cy="1510.2" r="2.6"/><circle cx="801.1" cy="1496.8" r="2.6"/><circle cx="796.8" cy="1399" r="2.6"/><circle cx="797.2" cy="1525.8" r="2.6"/><circle cx="802.2" cy="1478" r="2.6"/><circle cx="777" cy="1564.7" r="2.6"/><circle cx="775.4" cy="1483.8" r="2.6"/><circle cx="795.6" cy="1480.1" r="2.6"/><circle cx="782" cy="1435.6" r="2.6"/><circle cx="810.4" cy="1425" r="2.6"/><circle cx="794.6" cy="1546" r="2.6"/><circle cx="784.2" cy="1465.8" r="2.6"/><circle cx="792.5" cy="1530.8" r="2.6"/><circle cx="781.8" cy="1433.3" r="2.6"/><circle cx="786" cy="1398.3" r="2.6"/><circle cx="807.1" cy="1492.3" r="2.6"/><circle cx="778.9" cy="1492.1" r="2.6"/><circle cx="817.1" cy="1466.2" r="2.6"/><circle cx="783.5" cy="1542.8" r="2.6"/><circle cx="783.4" cy="1507" r="2.6"/><circle cx="775.2" cy="1491.8" r="2.6"/><circle cx="817.2" cy="1508.3" r="2.6"/><circle cx="806.3" cy="1540.6" r="2.6"/><circle cx="784" cy="1440.9" r="2.6"/><circle cx="808.5" cy="1518.1" r="2.6"/><circle cx="798.1" cy="1500.7" r="2.6"/><circle cx="794.8" cy="1473.7" r="2.6"/><circle cx="775.3" cy="1524.8" r="2.6"/><circle cx="776.8" cy="1569.7" r="2.6"/><circle cx="807.7" cy="1396.4" r="2.6"/><circle cx="799" cy="1506.4" r="2.6"/><circle cx="794" cy="1487" r="2.6"/><circle cx="788.1" cy="1517.3" r="2.6"/><circle cx="803.6" cy="1514.7" r="2.6"/><circle cx="787.4" cy="1456.2" r="2.6"/><circle cx="782" cy="1456" r="2.6"/><circle cx="801.1" cy="1465" r="2.6"/><circle cx="790.8" cy="1566.7" r="2.6"/><circle cx="804.9" cy="1654.3" r="2.6"/><circle cx="801.9" cy="1464.5" r="2.6"/><circle cx="794" cy="1565.5" r="2.6"/><circle cx="789.8" cy="1463.8" r="2.6"/><circle cx="786.5" cy="1470" r="2.6"/><circle cx="787.1" cy="1520.2" r="2.6"/><circle cx="785.2" cy="1521.5" r="2.6"/><circle cx="791.6" cy="1505.3" r="2.6"/><circle cx="812.8" cy="1473.4" r="2.6"/><circle cx="801" cy="1557.7" r="2.6"/><circle cx="818.1" cy="1557" r="2.6"/><circle cx="780.5" cy="1508.5" r="2.6"/><circle cx="815.4" cy="1509.1" r="2.6"/><circle cx="815.5" cy="1546.7" r="2.6"/><circle cx="811.2" cy="1567.4" r="2.6"/><circle cx="812" cy="1591.8" r="2.6"/><circle cx="775.3" cy="1432.2" r="2.6"/><circle cx="790.5" cy="1501.2" r="2.6"/><circle cx="782.9" cy="1499" r="2.6"/><circle cx="797.4" cy="1456.5" r="2.6"/><circle cx="814.8" cy="1412.8" r="2.6"/><circle cx="814.3" cy="1428.5" r="2.6"/><circle cx="793.4" cy="1494.4" r="2.6"/><circle cx="816.7" cy="1491.1" r="2.6"/><circle cx="784.1" cy="1552" r="2.6"/><circle cx="806" cy="1504.4" r="2.6"/><circle cx="796.4" cy="1444.8" r="2.6"/><circle cx="813.6" cy="1556.2" r="2.6"/>
</g>
<g fill="#c6b0e6" fill-opacity="0.75" stroke="#160c26" stroke-width="1.6">
<circle cx="869.8" cy="1572.8" r="2.6"/><circle cx="856.8" cy="1544.3" r="2.6"/><circle cx="859.4" cy="1582.8" r="2.6"/><circle cx="837.2" cy="1574.7" r="2.6"/><circle cx="867.1" cy="1457.3" r="2.6"/><circle cx="857.6" cy="1491.6" r="2.6"/><circle cx="843.8" cy="1535.2" r="2.6"/><circle cx="845.9" cy="1569.6" r="2.6"/><circle cx="850.5" cy="1557.3" r="2.6"/><circle cx="865.2" cy="1474.5" r="2.6"/><circle cx="838.1" cy="1468.5" r="2.6"/><circle cx="864.6" cy="1556.9" r="2.6"/><circle cx="870.9" cy="1562.6" r="2.6"/><circle cx="847" cy="1488" r="2.6"/><circle cx="866" cy="1580.8" r="2.6"/><circle cx="838.7" cy="1451.9" r="2.6"/><circle cx="865.9" cy="1566" r="2.6"/><circle cx="870.2" cy="1478.4" r="2.6"/><circle cx="849.2" cy="1428.3" r="2.6"/><circle cx="864.2" cy="1490" r="2.6"/><circle cx="853.6" cy="1494" r="2.6"/><circle cx="863.4" cy="1534.4" r="2.6"/><circle cx="870.1" cy="1446.2" r="2.6"/><circle cx="853.4" cy="1506.9" r="2.6"/><circle cx="874.3" cy="1511" r="2.6"/><circle cx="873" cy="1498.9" r="2.6"/><circle cx="881.1" cy="1479.4" r="2.6"/><circle cx="854.1" cy="1550.7" r="2.6"/><circle cx="870.9" cy="1525" r="2.6"/><circle cx="866.4" cy="1571.4" r="2.6"/><circle cx="861.9" cy="1563.7" r="2.6"/><circle cx="861.3" cy="1599" r="2.6"/><circle cx="868.9" cy="1512.5" r="2.6"/><circle cx="868.9" cy="1589.9" r="2.6"/><circle cx="863.5" cy="1472.6" r="2.6"/><circle cx="845" cy="1516.3" r="2.6"/><circle cx="847.6" cy="1520.2" r="2.6"/><circle cx="842.9" cy="1578.4" r="2.6"/><circle cx="842" cy="1476.4" r="2.6"/><circle cx="863.8" cy="1483.2" r="2.6"/><circle cx="839.1" cy="1465.4" r="2.6"/><circle cx="860.9" cy="1544.7" r="2.6"/><circle cx="850.9" cy="1574" r="2.6"/><circle cx="876.9" cy="1514.8" r="2.6"/><circle cx="854.7" cy="1540.8" r="2.6"/><circle cx="870.6" cy="1522.4" r="2.6"/><circle cx="864.1" cy="1546.9" r="2.6"/><circle cx="848.6" cy="1584.5" r="2.6"/><circle cx="869" cy="1537.3" r="2.6"/><circle cx="841.7" cy="1576.8" r="2.6"/><circle cx="853.5" cy="1552.8" r="2.6"/><circle cx="846" cy="1471.5" r="2.6"/><circle cx="875.3" cy="1603.1" r="2.6"/><circle cx="842.1" cy="1560.1" r="2.6"/><circle cx="851.4" cy="1592.2" r="2.6"/><circle cx="847.7" cy="1463.9" r="2.6"/><circle cx="845.6" cy="1497.1" r="2.6"/><circle cx="866.7" cy="1437.5" r="2.6"/><circle cx="866.3" cy="1542.6" r="2.6"/><circle cx="863.2" cy="1568.1" r="2.6"/><circle cx="854.4" cy="1480.7" r="2.6"/><circle cx="844.7" cy="1532.3" r="2.6"/><circle cx="866" cy="1594.5" r="2.6"/><circle cx="845.2" cy="1599.7" r="2.6"/><circle cx="844.6" cy="1630.4" r="2.6"/><circle cx="838.3" cy="1517.7" r="2.6"/><circle cx="856.6" cy="1579.6" r="2.6"/><circle cx="880.4" cy="1460.6" r="2.6"/><circle cx="872.9" cy="1528.5" r="2.6"/><circle cx="878.4" cy="1492.2" r="2.6"/><circle cx="876.1" cy="1548.3" r="2.6"/><circle cx="872.9" cy="1484.2" r="2.6"/><circle cx="839.9" cy="1475.2" r="2.6"/><circle cx="873.2" cy="1486.2" r="2.6"/><circle cx="876.9" cy="1610.8" r="2.6"/><circle cx="881.7" cy="1587.1" r="2.6"/><circle cx="846.2" cy="1503.9" r="2.6"/><circle cx="875.7" cy="1529.5" r="2.6"/><circle cx="858.3" cy="1605.7" r="2.6"/><circle cx="852.9" cy="1586.6" r="2.6"/><circle cx="872.2" cy="1620.7" r="2.6"/><circle cx="847.6" cy="1555.6" r="2.6"/><circle cx="875.4" cy="1482.6" r="2.6"/><circle cx="841" cy="1501.6" r="2.6"/><circle cx="868.5" cy="1526.5" r="2.6"/><circle cx="848.3" cy="1538.5" r="2.6"/><circle cx="850.7" cy="1508.2" r="2.6"/><circle cx="837.6" cy="1503.5" r="2.6"/><circle cx="851.1" cy="1560.5" r="2.6"/><circle cx="866.1" cy="1551.9" r="2.6"/><circle cx="871" cy="1459.8" r="2.6"/><circle cx="837.9" cy="1627.1" r="2.6"/>
</g>
<path d="M797.4 1357.7V1355.2H859.5V1357.7" stroke="#000" stroke-width="3.4" fill="none"/>
<text x="824.9" y="1349" font-size="20.4" text-anchor="middle">p = 7.1e−08</text>
<text x="828" y="1696" font-size="20.4" text-anchor="middle">KEAP1</text>
<line x1="953.3" y1="1380.9" x2="953.3" y2="1458.1" stroke="#363636" stroke-width="4"/>
<line x1="953.3" y1="1530" x2="953.3" y2="1629.1" stroke="#363636" stroke-width="4"/>
<rect x="926" y="1458.1" width="54.6" height="71.9" fill="#E7EEBE" stroke="#363636" stroke-width="4"/>
<line x1="926" y1="1490.4" x2="980.6" y2="1490.4" stroke="#363636" stroke-width="8"/>
<line x1="1015.4" y1="1485.4" x2="1015.4" y2="1499.8" stroke="#363636" stroke-width="4"/>
<line x1="1015.4" y1="1535.7" x2="1015.4" y2="1557.3" stroke="#363636" stroke-width="4"/>
<rect x="988.1" y="1499.8" width="54.6" height="35.9" fill="#EDD9F7" stroke="#363636" stroke-width="4"/>
<line x1="988.1" y1="1514.5" x2="1042.7" y2="1514.5" stroke="#363636" stroke-width="8"/>
<g fill="#6f7f34" fill-opacity="0.85" stroke="#0a0d05" stroke-width="1.6">
<circle cx="973.4" cy="1498.2" r="2.6"/><circle cx="953" cy="1554.7" r="2.6"/><circle cx="965.1" cy="1504.4" r="2.6"/><circle cx="949.3" cy="1434.2" r="2.6"/><circle cx="940.2" cy="1471.5" r="2.6"/><circle cx="962.2" cy="1446.5" r="2.6"/><circle cx="952.4" cy="1531.1" r="2.6"/><circle cx="961" cy="1421.6" r="2.6"/><circle cx="952.6" cy="1558" r="2.6"/><circle cx="972.4" cy="1477.4" r="2.6"/><circle cx="948.5" cy="1472.2" r="2.6"/><circle cx="941.6" cy="1486.1" r="2.6"/><circle cx="966.7" cy="1609.4" r="2.6"/><circle cx="962.6" cy="1435.3" r="2.6"/><circle cx="954.4" cy="1444.8" r="2.6"/><circle cx="932.5" cy="1427.1" r="2.6"/><circle cx="941.2" cy="1392.1" r="2.6"/><circle cx="940.5" cy="1415.8" r="2.6"/><circle cx="974.2" cy="1440.7" r="2.6"/><circle cx="973.2" cy="1467.2" r="2.6"/><circle cx="940.1" cy="1393.2" r="2.6"/><circle cx="948.2" cy="1456" r="2.6"/><circle cx="943.1" cy="1514.6" r="2.6"/><circle cx="936.7" cy="1472.6" r="2.6"/><circle cx="970.3" cy="1518.2" r="2.6"/><circle cx="940.8" cy="1492.6" r="2.6"/><circle cx="965.1" cy="1532.3" r="2.6"/><circle cx="951.8" cy="1530.3" r="2.6"/><circle cx="953.1" cy="1524.6" r="2.6"/><circle cx="968.7" cy="1490.5" r="2.6"/><circle cx="949.6" cy="1489.3" r="2.6"/><circle cx="938.9" cy="1543" r="2.6"/><circle cx="945.9" cy="1481.1" r="2.6"/><circle cx="971" cy="1451.2" r="2.6"/><circle cx="938.9" cy="1550.5" r="2.6"/><circle cx="939.7" cy="1545.6" r="2.6"/><circle cx="940.7" cy="1461.1" r="2.6"/><circle cx="935.9" cy="1457.1" r="2.6"/><circle cx="962.8" cy="1526.9" r="2.6"/><circle cx="937.8" cy="1531.3" r="2.6"/><circle cx="947.2" cy="1505.5" r="2.6"/><circle cx="942.3" cy="1421" r="2.6"/><circle cx="947.5" cy="1527.8" r="2.6"/><circle cx="942.2" cy="1482" r="2.6"/><circle cx="974.6" cy="1544.9" r="2.6"/><circle cx="944.9" cy="1417.5" r="2.6"/><circle cx="973.7" cy="1441.4" r="2.6"/><circle cx="949.9" cy="1463.5" r="2.6"/><circle cx="966.2" cy="1600.1" r="2.6"/><circle cx="962.4" cy="1535.1" r="2.6"/><circle cx="931.2" cy="1401.5" r="2.6"/><circle cx="941" cy="1448.2" r="2.6"/><circle cx="934.5" cy="1482.9" r="2.6"/><circle cx="971.5" cy="1475.2" r="2.6"/><circle cx="953.8" cy="1405.9" r="2.6"/><circle cx="968.4" cy="1588.4" r="2.6"/><circle cx="942.6" cy="1475.8" r="2.6"/><circle cx="969" cy="1474.8" r="2.6"/><circle cx="934.8" cy="1495.9" r="2.6"/><circle cx="953.4" cy="1429.8" r="2.6"/><circle cx="961.9" cy="1491.1" r="2.6"/><circle cx="965.1" cy="1455.4" r="2.6"/><circle cx="947.7" cy="1410.7" r="2.6"/><circle cx="944.8" cy="1534.4" r="2.6"/><circle cx="964.4" cy="1545.9" r="2.6"/><circle cx="973.6" cy="1488.8" r="2.6"/><circle cx="945.4" cy="1511.1" r="2.6"/><circle cx="931.7" cy="1509.1" r="2.6"/><circle cx="939.7" cy="1518.9" r="2.6"/><circle cx="955.7" cy="1446" r="2.6"/><circle cx="946.4" cy="1420.2" r="2.6"/><circle cx="948.9" cy="1533.4" r="2.6"/><circle cx="938.5" cy="1567.4" r="2.6"/><circle cx="942.4" cy="1472.4" r="2.6"/><circle cx="958.1" cy="1506.2" r="2.6"/><circle cx="950.9" cy="1422.5" r="2.6"/><circle cx="941.4" cy="1528.5" r="2.6"/><circle cx="931.4" cy="1556.2" r="2.6"/><circle cx="949.6" cy="1501.9" r="2.6"/><circle cx="957.2" cy="1460" r="2.6"/><circle cx="942.9" cy="1498.7" r="2.6"/><circle cx="963" cy="1484.3" r="2.6"/><circle cx="960.3" cy="1443.2" r="2.6"/><circle cx="936.8" cy="1537.2" r="2.6"/><circle cx="949.4" cy="1516.6" r="2.6"/><circle cx="946.2" cy="1562.8" r="2.6"/><circle cx="957.1" cy="1497.9" r="2.6"/><circle cx="974.6" cy="1470.2" r="2.6"/><circle cx="945.7" cy="1520.8" r="2.6"/><circle cx="932.6" cy="1461.6" r="2.6"/><circle cx="955.5" cy="1533.1" r="2.6"/><circle cx="971.8" cy="1546.7" r="2.6"/><circle cx="934.6" cy="1507.6" r="2.6"/><circle cx="931.7" cy="1504.2" r="2.6"/><circle cx="949.1" cy="1528.8" r="2.6"/><circle cx="970" cy="1552.3" r="2.6"/><circle cx="961.8" cy="1602.4" r="2.6"/><circle cx="945.8" cy="1527.3" r="2.6"/><circle cx="971.9" cy="1540.2" r="2.6"/><circle cx="948.8" cy="1500.3" r="2.6"/><circle cx="932.4" cy="1469.6" r="2.6"/><circle cx="946.5" cy="1546.7" r="2.6"/><circle cx="933.6" cy="1516.2" r="2.6"/><circle cx="933" cy="1495.4" r="2.6"/><circle cx="945.5" cy="1615.8" r="2.6"/><circle cx="950.4" cy="1473.6" r="2.6"/><circle cx="950.1" cy="1499.3" r="2.6"/><circle cx="973.7" cy="1497.8" r="2.6"/><circle cx="953.9" cy="1580.2" r="2.6"/><circle cx="963.8" cy="1641.3" r="2.6"/><circle cx="931.6" cy="1574" r="2.6"/><circle cx="971.3" cy="1560.5" r="2.6"/><circle cx="944.6" cy="1462.9" r="2.6"/><circle cx="962.9" cy="1519.9" r="2.6"/><circle cx="936.3" cy="1541.9" r="2.6"/><circle cx="955.6" cy="1634.1" r="2.6"/><circle cx="937.9" cy="1563.9" r="2.6"/><circle cx="968.2" cy="1543.8" r="2.6"/><circle cx="949.3" cy="1478.9" r="2.6"/><circle cx="974.1" cy="1469.4" r="2.6"/><circle cx="967.9" cy="1489.7" r="2.6"/><circle cx="941.9" cy="1491.3" r="2.6"/><circle cx="942.7" cy="1544.2" r="2.6"/><circle cx="965.3" cy="1485.3" r="2.6"/><circle cx="944.9" cy="1471.3" r="2.6"/><circle cx="941.7" cy="1549" r="2.6"/><circle cx="932" cy="1486.6" r="2.6"/><circle cx="968.9" cy="1435.6" r="2.6"/><circle cx="961.5" cy="1496.8" r="2.6"/><circle cx="942.2" cy="1404.2" r="2.6"/><circle cx="975.4" cy="1523.5" r="2.6"/><circle cx="940.4" cy="1574.8" r="2.6"/><circle cx="942.5" cy="1579.1" r="2.6"/><circle cx="947.4" cy="1515.7" r="2.6"/><circle cx="938.6" cy="1501.6" r="2.6"/><circle cx="931.5" cy="1423" r="2.6"/><circle cx="941.2" cy="1412.1" r="2.6"/><circle cx="970.5" cy="1501.1" r="2.6"/><circle cx="939.2" cy="1473.7" r="2.6"/><circle cx="951.4" cy="1515.9" r="2.6"/><circle cx="967.2" cy="1469.2" r="2.6"/><circle cx="933.5" cy="1481.5" r="2.6"/><circle cx="955.7" cy="1438.6" r="2.6"/><circle cx="966.5" cy="1467.6" r="2.6"/><circle cx="935.2" cy="1458.8" r="2.6"/><circle cx="968.6" cy="1458" r="2.6"/><circle cx="960.3" cy="1586.9" r="2.6"/><circle cx="947.3" cy="1608" r="2.6"/><circle cx="972.3" cy="1516.9" r="2.6"/><circle cx="959" cy="1575.1" r="2.6"/><circle cx="971.4" cy="1397.5" r="2.6"/><circle cx="968.3" cy="1536.3" r="2.6"/><circle cx="943.4" cy="1570.5" r="2.6"/><circle cx="937.7" cy="1497.1" r="2.6"/><circle cx="932.7" cy="1568.9" r="2.6"/><circle cx="936.5" cy="1449.9" r="2.6"/><circle cx="934.7" cy="1627.1" r="2.6"/><circle cx="965.4" cy="1513.5" r="2.6"/><circle cx="940.1" cy="1526.5" r="2.6"/><circle cx="960.1" cy="1551.3" r="2.6"/><circle cx="931.6" cy="1442.8" r="2.6"/><circle cx="937.4" cy="1643.5" r="2.6"/><circle cx="935.2" cy="1423.9" r="2.6"/><circle cx="938.4" cy="1443.7" r="2.6"/><circle cx="952.5" cy="1559.9" r="2.6"/><circle cx="952.7" cy="1466.8" r="2.6"/><circle cx="940.3" cy="1436.7" r="2.6"/><circle cx="973.3" cy="1459.2" r="2.6"/><circle cx="968.2" cy="1467.9" r="2.6"/><circle cx="936.9" cy="1576.1" r="2.6"/><circle cx="959" cy="1512.2" r="2.6"/><circle cx="947.6" cy="1511.4" r="2.6"/><circle cx="962.7" cy="1504.6" r="2.6"/><circle cx="940.1" cy="1474.7" r="2.6"/><circle cx="943.9" cy="1457" r="2.6"/><circle cx="938.4" cy="1425.8" r="2.6"/><circle cx="956.7" cy="1561.2" r="2.6"/><circle cx="949.6" cy="1548.5" r="2.6"/><circle cx="948.6" cy="1494.2" r="2.6"/><circle cx="968.9" cy="1556.8" r="2.6"/><circle cx="971.2" cy="1441.8" r="2.6"/><circle cx="935.2" cy="1410.5" r="2.6"/><circle cx="934.9" cy="1445.5" r="2.6"/><circle cx="957.3" cy="1552.6" r="2.6"/><circle cx="945.4" cy="1414.1" r="2.6"/><circle cx="937.5" cy="1462.4" r="2.6"/><circle cx="958.7" cy="1454.8" r="2.6"/><circle cx="964.7" cy="1522.4" r="2.6"/><circle cx="945.8" cy="1585.2" r="2.6"/><circle cx="966.2" cy="1464.5" r="2.6"/><circle cx="937" cy="1547.7" r="2.6"/><circle cx="969.4" cy="1564.1" r="2.6"/><circle cx="958" cy="1541.1" r="2.6"/><circle cx="956.4" cy="1500.1" r="2.6"/><circle cx="963" cy="1485" r="2.6"/><circle cx="956.4" cy="1614.2" r="2.6"/><circle cx="947.3" cy="1481.1" r="2.6"/><circle cx="940.6" cy="1448.3" r="2.6"/><circle cx="957.5" cy="1584.4" r="2.6"/><circle cx="958.1" cy="1460.7" r="2.6"/><circle cx="967.7" cy="1529.3" r="2.6"/><circle cx="944.2" cy="1510" r="2.6"/><circle cx="952.7" cy="1553.4" r="2.6"/><circle cx="939.2" cy="1540.7" r="2.6"/><circle cx="954.4" cy="1599" r="2.6"/><circle cx="963.2" cy="1465.7" r="2.6"/><circle cx="943" cy="1449.7" r="2.6"/><circle cx="938.8" cy="1593" r="2.6"/><circle cx="967.7" cy="1503.5" r="2.6"/><circle cx="945.5" cy="1486.4" r="2.6"/><circle cx="946.3" cy="1447.6" r="2.6"/><circle cx="957.5" cy="1464.3" r="2.6"/><circle cx="967.9" cy="1555.7" r="2.6"/><circle cx="968.8" cy="1596.1" r="2.6"/><circle cx="959.8" cy="1569.5" r="2.6"/><circle cx="969.8" cy="1430.8" r="2.6"/><circle cx="934.7" cy="1394.8" r="2.6"/><circle cx="944.6" cy="1440.1" r="2.6"/><circle cx="966.5" cy="1557.2" r="2.6"/><circle cx="947.1" cy="1644.9" r="2.6"/><circle cx="944.5" cy="1465.6" r="2.6"/><circle cx="975.3" cy="1517.9" r="2.6"/><circle cx="946.8" cy="1477" r="2.6"/><circle cx="944" cy="1509.7" r="2.6"/><circle cx="933.1" cy="1451" r="2.6"/><circle cx="952" cy="1514.7" r="2.6"/><circle cx="939.1" cy="1612.5" r="2.6"/><circle cx="974.9" cy="1581" r="2.6"/><circle cx="970.7" cy="1536.9" r="2.6"/><circle cx="952.8" cy="1407" r="2.6"/><circle cx="952" cy="1501.4" r="2.6"/><circle cx="941.4" cy="1555.4" r="2.6"/><circle cx="972.7" cy="1478.5" r="2.6"/><circle cx="931" cy="1490.2" r="2.6"/><circle cx="931.4" cy="1495.7" r="2.6"/><circle cx="935.6" cy="1450.4" r="2.6"/><circle cx="941.9" cy="1463.4" r="2.6"/><circle cx="940.8" cy="1464.9" r="2.6"/><circle cx="968.7" cy="1437.8" r="2.6"/><circle cx="940.4" cy="1442.6" r="2.6"/><circle cx="961.2" cy="1435" r="2.6"/><circle cx="959.3" cy="1396" r="2.6"/><circle cx="963.4" cy="1538.3" r="2.6"/><circle cx="931.4" cy="1472" r="2.6"/><circle cx="972.1" cy="1543.2" r="2.6"/><circle cx="952.1" cy="1436.4" r="2.6"/><circle cx="934.9" cy="1470.8" r="2.6"/><circle cx="965.1" cy="1525.2" r="2.6"/><circle cx="960.8" cy="1460.4" r="2.6"/><circle cx="946.5" cy="1400.1" r="2.6"/><circle cx="963.7" cy="1496.2" r="2.6"/><circle cx="950.8" cy="1414.8" r="2.6"/><circle cx="954.5" cy="1485.9" r="2.6"/><circle cx="951.3" cy="1570.7" r="2.6"/><circle cx="966.3" cy="1525.9" r="2.6"/><circle cx="967.8" cy="1453" r="2.6"/><circle cx="946.8" cy="1473.9" r="2.6"/><circle cx="971.7" cy="1551.7" r="2.6"/><circle cx="967.9" cy="1487.9" r="2.6"/><circle cx="962.2" cy="1508.3" r="2.6"/><circle cx="962.3" cy="1487.1" r="2.6"/><circle cx="950.3" cy="1428.1" r="2.6"/><circle cx="957.1" cy="1477.6" r="2.6"/><circle cx="966.2" cy="1578.6" r="2.6"/><circle cx="964" cy="1523.3" r="2.6"/><circle cx="950.6" cy="1517.3" r="2.6"/><circle cx="931.8" cy="1437.1" r="2.6"/><circle cx="955.2" cy="1430.3" r="2.6"/><circle cx="945.2" cy="1452.2" r="2.6"/><circle cx="945.7" cy="1565.8" r="2.6"/><circle cx="946.8" cy="1500.7" r="2.6"/><circle cx="951.6" cy="1547.9" r="2.6"/><circle cx="954" cy="1476.9" r="2.6"/><circle cx="967" cy="1497.2" r="2.6"/><circle cx="964.1" cy="1503" r="2.6"/><circle cx="948.6" cy="1459.4" r="2.6"/><circle cx="970.8" cy="1408.2" r="2.6"/><circle cx="943.3" cy="1502.9" r="2.6"/><circle cx="959.5" cy="1512.6" r="2.6"/><circle cx="962.4" cy="1475.5" r="2.6"/><circle cx="949.6" cy="1424.8" r="2.6"/><circle cx="963.1" cy="1520.3" r="2.6"/><circle cx="972.2" cy="1571.4" r="2.6"/><circle cx="963" cy="1439.1" r="2.6"/><circle cx="950.1" cy="1433.8" r="2.6"/><circle cx="935.9" cy="1473" r="2.6"/><circle cx="962.7" cy="1519.3" r="2.6"/><circle cx="957.9" cy="1386.1" r="2.6"/><circle cx="954.8" cy="1487.5" r="2.6"/><circle cx="932.7" cy="1390.5" r="2.6"/><circle cx="932.3" cy="1471.1" r="2.6"/><circle cx="936" cy="1446.8" r="2.6"/><circle cx="933.6" cy="1566.4" r="2.6"/><circle cx="975.5" cy="1558.6" r="2.6"/><circle cx="950.1" cy="1404.6" r="2.6"/><circle cx="970.9" cy="1483.1" r="2.6"/><circle cx="949.3" cy="1492.4" r="2.6"/><circle cx="968.7" cy="1529.9" r="2.6"/><circle cx="932.4" cy="1426.7" r="2.6"/><circle cx="939.3" cy="1568.1" r="2.6"/><circle cx="964" cy="1515.3" r="2.6"/><circle cx="956" cy="1513.1" r="2.6"/><circle cx="944.1" cy="1485.6" r="2.6"/><circle cx="934.7" cy="1468.4" r="2.6"/><circle cx="969.9" cy="1444.6" r="2.6"/><circle cx="955.8" cy="1522" r="2.6"/><circle cx="955.3" cy="1654.3" r="2.6"/><circle cx="954.4" cy="1488.6" r="2.6"/><circle cx="968.1" cy="1454" r="2.6"/><circle cx="937.5" cy="1469.9" r="2.6"/><circle cx="943.6" cy="1466.1" r="2.6"/><circle cx="946" cy="1542.2" r="2.6"/><circle cx="954.1" cy="1488.5" r="2.6"/><circle cx="939.5" cy="1520.4" r="2.6"/><circle cx="944.8" cy="1509.5" r="2.6"/><circle cx="934.7" cy="1418" r="2.6"/><circle cx="964.7" cy="1577.4" r="2.6"/><circle cx="931.2" cy="1416.2" r="2.6"/><circle cx="935.7" cy="1525.5" r="2.6"/><circle cx="936.4" cy="1605.3" r="2.6"/><circle cx="969.1" cy="1452.4" r="2.6"/><circle cx="937.4" cy="1526.3" r="2.6"/><circle cx="947.8" cy="1474.3" r="2.6"/><circle cx="957" cy="1480.6" r="2.6"/><circle cx="961.8" cy="1451.8" r="2.6"/><circle cx="950.9" cy="1431.7" r="2.6"/><circle cx="952.1" cy="1511.9" r="2.6"/><circle cx="935.4" cy="1479.2" r="2.6"/><circle cx="933.4" cy="1585.4" r="2.6"/><circle cx="975.2" cy="1457.8" r="2.6"/><circle cx="954.1" cy="1503.8" r="2.6"/><circle cx="964.5" cy="1478.8" r="2.6"/><circle cx="937" cy="1440.6" r="2.6"/><circle cx="959.3" cy="1576.7" r="2.6"/><circle cx="965.2" cy="1473.3" r="2.6"/><circle cx="955.3" cy="1510.7" r="2.6"/><circle cx="973.1" cy="1573.3" r="2.6"/><circle cx="975" cy="1431.2" r="2.6"/><circle cx="937.6" cy="1484.8" r="2.6"/><circle cx="942" cy="1499.7" r="2.6"/><circle cx="950.7" cy="1424.6" r="2.6"/><circle cx="937.1" cy="1467.6" r="2.6"/><circle cx="953.7" cy="1522.8" r="2.6"/><circle cx="942.7" cy="1463.1" r="2.6"/><circle cx="935.7" cy="1453.8" r="2.6"/><circle cx="938.7" cy="1527.5" r="2.6"/><circle cx="932.4" cy="1459.7" r="2.6"/><circle cx="943.2" cy="1453.2" r="2.6"/><circle cx="949.3" cy="1490.1" r="2.6"/><circle cx="958.8" cy="1621.6" r="2.6"/><circle cx="933.6" cy="1560.9" r="2.6"/><circle cx="968.9" cy="1589.6" r="2.6"/><circle cx="966.4" cy="1539.5" r="2.6"/><circle cx="963.5" cy="1505.9" r="2.6"/><circle cx="951" cy="1492.1" r="2.6"/><circle cx="935.4" cy="1549.7" r="2.6"/><circle cx="938.7" cy="1502.2" r="2.6"/><circle cx="945.3" cy="1429.2" r="2.6"/><circle cx="959.6" cy="1389.2" r="2.6"/><circle cx="975.7" cy="1508" r="2.6"/><circle cx="940.7" cy="1438.7" r="2.6"/><circle cx="969.5" cy="1583.1" r="2.6"/><circle cx="971.7" cy="1432.9" r="2.6"/><circle cx="966.7" cy="1534.1" r="2.6"/><circle cx="943.7" cy="1455.6" r="2.6"/><circle cx="961.2" cy="1419.2" r="2.6"/><circle cx="965.7" cy="1580.4" r="2.6"/><circle cx="967.4" cy="1523.9" r="2.6"/><circle cx="967.1" cy="1507.6" r="2.6"/><circle cx="975.2" cy="1595.1" r="2.6"/><circle cx="966" cy="1606.9" r="2.6"/><circle cx="950.3" cy="1537.5" r="2.6"/><circle cx="942.5" cy="1483.8" r="2.6"/><circle cx="935.9" cy="1559.2" r="2.6"/><circle cx="947.7" cy="1554.2" r="2.6"/><circle cx="967.1" cy="1493.1" r="2.6"/><circle cx="936.4" cy="1538.5" r="2.6"/><circle cx="972.4" cy="1583.3" r="2.6"/><circle cx="966.7" cy="1519.6" r="2.6"/><circle cx="936.6" cy="1535.4" r="2.6"/><circle cx="967.2" cy="1521.6" r="2.6"/><circle cx="959.8" cy="1439.7" r="2.6"/><circle cx="942" cy="1466.7" r="2.6"/><circle cx="952.4" cy="1416.8" r="2.6"/><circle cx="956.8" cy="1480.4" r="2.6"/><circle cx="946.9" cy="1462" r="2.6"/><circle cx="952.8" cy="1506.6" r="2.6"/><circle cx="934.1" cy="1532.1" r="2.6"/><circle cx="946" cy="1487.3" r="2.6"/><circle cx="965" cy="1494.5" r="2.6"/><circle cx="961.9" cy="1444.2" r="2.6"/><circle cx="972.6" cy="1482.7" r="2.6"/><circle cx="950.5" cy="1462.1" r="2.6"/><circle cx="955.9" cy="1518.5" r="2.6"/><circle cx="945.9" cy="1483.5" r="2.6"/><circle cx="972" cy="1582.3" r="2.6"/><circle cx="964.8" cy="1476.5" r="2.6"/><circle cx="959.3" cy="1506.6" r="2.6"/><circle cx="943.4" cy="1426.1" r="2.6"/><circle cx="961.3" cy="1505" r="2.6"/><circle cx="970.2" cy="1558.4" r="2.6"/><circle cx="952.2" cy="1495.1" r="2.6"/><circle cx="933.7" cy="1484.6" r="2.6"/><circle cx="946.5" cy="1488.1" r="2.6"/><circle cx="945.8" cy="1458.6" r="2.6"/><circle cx="931.7" cy="1470.4" r="2.6"/><circle cx="937" cy="1461.3" r="2.6"/><circle cx="944.7" cy="1491.7" r="2.6"/><circle cx="961.9" cy="1586.8" r="2.6"/><circle cx="975.2" cy="1561.9" r="2.6"/><circle cx="974.4" cy="1447.1" r="2.6"/><circle cx="955" cy="1514" r="2.6"/><circle cx="971.8" cy="1419.6" r="2.6"/><circle cx="957.3" cy="1413.5" r="2.6"/><circle cx="941.7" cy="1402.4" r="2.6"/><circle cx="958.4" cy="1445.2" r="2.6"/><circle cx="949" cy="1433.9" r="2.6"/><circle cx="972.1" cy="1572.5" r="2.6"/><circle cx="945.3" cy="1466.4" r="2.6"/><circle cx="931.8" cy="1381.4" r="2.6"/><circle cx="935.5" cy="1512.9" r="2.6"/><circle cx="959.7" cy="1591.2" r="2.6"/><circle cx="956.8" cy="1418.8" r="2.6"/><circle cx="952" cy="1611.1" r="2.6"/><circle cx="968.1" cy="1458.4" r="2.6"/><circle cx="964" cy="1525" r="2.6"/><circle cx="963" cy="1528.2" r="2.6"/><circle cx="943.7" cy="1529.5" r="2.6"/><circle cx="960.3" cy="1432.7" r="2.6"/><circle cx="963.5" cy="1465.2" r="2.6"/><circle cx="934.3" cy="1514" r="2.6"/><circle cx="932.5" cy="1489.6" r="2.6"/><circle cx="951.1" cy="1478" r="2.6"/><circle cx="960.2" cy="1521.1" r="2.6"/><circle cx="941.8" cy="1482.3" r="2.6"/><circle cx="943.4" cy="1476.3" r="2.6"/><circle cx="942.1" cy="1448.8" r="2.6"/><circle cx="957.1" cy="1553.5" r="2.6"/><circle cx="971.7" cy="1539.9" r="2.6"/><circle cx="933.1" cy="1617.5" r="2.6"/><circle cx="951" cy="1464.6" r="2.6"/><circle cx="944.6" cy="1456.6" r="2.6"/><circle cx="952" cy="1478.2" r="2.6"/><circle cx="933.7" cy="1415.4" r="2.6"/><circle cx="964.7" cy="1524.2" r="2.6"/><circle cx="962.2" cy="1517.5" r="2.6"/><circle cx="956.5" cy="1449.2" r="2.6"/><circle cx="933" cy="1493.3" r="2.6"/><circle cx="935.3" cy="1454.7" r="2.6"/><circle cx="943.6" cy="1436" r="2.6"/><circle cx="933.5" cy="1564.8" r="2.6"/><circle cx="942.2" cy="1493.7" r="2.6"/><circle cx="958.2" cy="1464" r="2.6"/><circle cx="972.9" cy="1481.7" r="2.6"/><circle cx="933.9" cy="1480.2" r="2.6"/><circle cx="937.5" cy="1494.1" r="2.6"/><circle cx="950.3" cy="1522.2" r="2.6"/><circle cx="964.2" cy="1479.9" r="2.6"/><circle cx="937.3" cy="1508.7" r="2.6"/><circle cx="950.2" cy="1468.9" r="2.6"/><circle cx="935.5" cy="1428.3" r="2.6"/><circle cx="975.1" cy="1483.9" r="2.6"/><circle cx="951.4" cy="1438" r="2.6"/><circle cx="953.3" cy="1550.2" r="2.6"/><circle cx="937.8" cy="1507.1" r="2.6"/><circle cx="941.1" cy="1479.5" r="2.6"/><circle cx="955.6" cy="1422.4" r="2.6"/><circle cx="939.3" cy="1468.5" r="2.6"/><circle cx="938.6" cy="1460.9" r="2.6"/><circle cx="932.1" cy="1398.7" r="2.6"/><circle cx="937.4" cy="1602.9" r="2.6"/><circle cx="956.9" cy="1476" r="2.6"/><circle cx="947.8" cy="1510.4" r="2.6"/><circle cx="943.4" cy="1499" r="2.6"/><circle cx="947.5" cy="1442" r="2.6"/>
</g>
<g fill="#c6b0e6" fill-opacity="0.75" stroke="#160c26" stroke-width="1.6">
<circle cx="1030.3" cy="1497.1" r="2.6"/><circle cx="1014.4" cy="1541.4" r="2.6"/><circle cx="997.8" cy="1519.8" r="2.6"/><circle cx="1028.8" cy="1516.9" r="2.6"/><circle cx="1034" cy="1535.6" r="2.6"/><circle cx="1026.3" cy="1443.7" r="2.6"/><circle cx="1028.3" cy="1488.2" r="2.6"/><circle cx="1025.6" cy="1553.8" r="2.6"/><circle cx="1011.2" cy="1506.6" r="2.6"/><circle cx="1005.4" cy="1500.3" r="2.6"/><circle cx="999.8" cy="1501.3" r="2.6"/><circle cx="1019.3" cy="1529.6" r="2.6"/>
</g>
<path d="M953.3 1357.7V1355.2H1015.4V1357.7" stroke="#000" stroke-width="3.4" fill="none"/>
<text x="980.7" y="1349" font-size="20.4" text-anchor="middle">p = 0.064</text>
<text x="983.9" y="1696" font-size="20.4" text-anchor="middle">NFE2L2</text>
<path d="M672.3 1671.6v1.7M828 1671.6v1.7M983.9 1671.6v1.7" stroke="#333" stroke-width="3.2" fill="none"/>
<rect x="921" y="1180.7" width="145" height="80.9" fill="#fff" stroke="#000" stroke-width="4"/>
<line x1="945" y1="1191.5" x2="945" y2="1216.1" stroke="#363636" stroke-width="4" stroke-linecap="round"/>
<rect x="933.5" y="1195.8" width="23" height="16" fill="#E7EEBE" stroke="#363636" stroke-width="4.2" rx="1.5"/>
<line x1="933.5" y1="1203.8" x2="956.5" y2="1203.8" stroke="#363636" stroke-width="7"/>
<circle cx="945" cy="1203.8" r="2.8" fill="#8a9a4a" stroke="#1a1a1a" stroke-width="1.5"/>
<text x="966.4" y="1208.4" font-size="20.4">Wild−type</text>
<line x1="945" y1="1222.2" x2="945" y2="1246.8" stroke="#363636" stroke-width="4" stroke-linecap="round"/>
<rect x="933.5" y="1226.5" width="23" height="16" fill="#EDD9F7" stroke="#363636" stroke-width="4.2" rx="1.5"/>
<line x1="933.5" y1="1234.5" x2="956.5" y2="1234.5" stroke="#363636" stroke-width="7"/>
<circle cx="945" cy="1234.5" r="2.8" fill="#c9b5e6" stroke="#1a1a1a" stroke-width="1.5"/>
<text x="966.4" y="1239.1" font-size="20.4">Mutated</text>
<text x="1118.3" y="1215.6" font-size="33" font-weight="bold">g</text>
<text x="1379.7" y="1274.6" font-size="24.6" text-anchor="middle">PDAC−classical and</text>
<text x="1383" y="1304.4" font-size="24.6" text-anchor="middle">NSD1 mutation in HNSC</text>
<text x="1135" y="1498.3" font-size="28.5" text-anchor="middle" transform="rotate(-90 1135 1498.3)">PDAC−classical score</text>
<rect x="1182.2" y="1322.5" width="402.2" height="347" fill="#fff" stroke="#000" stroke-width="4.4"/>
<text x="1171.5" y="1336.8" font-size="20.4" text-anchor="end">3</text>
<text x="1171.5" y="1407.3" font-size="20.4" text-anchor="end">2</text>
<text x="1171.5" y="1477.9" font-size="20.4" text-anchor="end">1</text>
<text x="1171.5" y="1548.4" font-size="20.4" text-anchor="end">0</text>
<text x="1171.5" y="1619" font-size="20.4" text-anchor="end">−1</text>
<path d="M1180 1331.3h-1.6M1180 1401.9h-1.6M1180 1472.5h-1.6M1180 1543h-1.6M1180 1613.5h-1.6" stroke="#333" stroke-width="3.2" fill="none"/>
<line x1="1232.2" y1="1449.5" x2="1232.2" y2="1525.4" stroke="#363636" stroke-width="4"/>
<line x1="1232.2" y1="1578.3" x2="1232.2" y2="1653.8" stroke="#363636" stroke-width="4"/>
<rect x="1210.2" y="1525.4" width="44" height="52.9" fill="#E2E2E2" stroke="#363636" stroke-width="4"/>
<line x1="1210.2" y1="1552.5" x2="1254.2" y2="1552.5" stroke="#363636" stroke-width="8"/>
<line x1="1282.5" y1="1406.8" x2="1282.5" y2="1477.4" stroke="#363636" stroke-width="4"/>
<line x1="1282.5" y1="1551.5" x2="1282.5" y2="1611.4" stroke="#363636" stroke-width="4"/>
<rect x="1260.5" y="1477.4" width="44" height="74.1" fill="#F6F18C" stroke="#363636" stroke-width="4"/>
<line x1="1260.5" y1="1511.6" x2="1304.5" y2="1511.6" stroke="#363636" stroke-width="8"/>
<g fill="#777" fill-opacity="0.3" stroke="#1a1a1a" stroke-width="1.3" stroke-opacity="0.42">
<circle cx="1216" cy="1641" r="2.1"/><circle cx="1250.2" cy="1538.7" r="2.1"/><circle cx="1221" cy="1563.7" r="2.1"/><circle cx="1244.6" cy="1493.7" r="2.1"/><circle cx="1235.7" cy="1565.1" r="2.1"/><circle cx="1241" cy="1555.5" r="2.1"/><circle cx="1240.1" cy="1548" r="2.1"/><circle cx="1222.2" cy="1505.6" r="2.1"/><circle cx="1227.9" cy="1500.6" r="2.1"/><circle cx="1227.8" cy="1556.1" r="2.1"/><circle cx="1239.9" cy="1534" r="2.1"/><circle cx="1239" cy="1557.3" r="2.1"/><circle cx="1250.8" cy="1615.4" r="2.1"/><circle cx="1233.6" cy="1508.4" r="2.1"/><circle cx="1226.5" cy="1630.5" r="2.1"/><circle cx="1217.8" cy="1618" r="2.1"/><circle cx="1230" cy="1551.1" r="2.1"/><circle cx="1235.8" cy="1611.9" r="2.1"/><circle cx="1239.3" cy="1594" r="2.1"/><circle cx="1214.3" cy="1592.7" r="2.1"/><circle cx="1220.7" cy="1430.1" r="2.1"/><circle cx="1237.4" cy="1503.8" r="2.1"/><circle cx="1243" cy="1466" r="2.1"/><circle cx="1249" cy="1616.1" r="2.1"/><circle cx="1218.4" cy="1543.9" r="2.1"/><circle cx="1240.9" cy="1487.7" r="2.1"/><circle cx="1230.2" cy="1573" r="2.1"/><circle cx="1235.6" cy="1509.1" r="2.1"/><circle cx="1239.2" cy="1549.2" r="2.1"/><circle cx="1228.7" cy="1513.8" r="2.1"/><circle cx="1236.3" cy="1440.7" r="2.1"/><circle cx="1249.9" cy="1485.1" r="2.1"/><circle cx="1214" cy="1594.6" r="2.1"/><circle cx="1234.1" cy="1528.9" r="2.1"/><circle cx="1251.2" cy="1508" r="2.1"/><circle cx="1246.5" cy="1535.2" r="2.1"/><circle cx="1222.7" cy="1581.2" r="2.1"/><circle cx="1242.9" cy="1492.5" r="2.1"/><circle cx="1247.9" cy="1604.6" r="2.1"/><circle cx="1228.8" cy="1634.2" r="2.1"/><circle cx="1234.1" cy="1584" r="2.1"/><circle cx="1224.4" cy="1613.8" r="2.1"/><circle cx="1251.1" cy="1605.1" r="2.1"/><circle cx="1220.2" cy="1569.9" r="2.1"/><circle cx="1239.8" cy="1596.3" r="2.1"/><circle cx="1250.8" cy="1542" r="2.1"/><circle cx="1250.2" cy="1547.8" r="2.1"/><circle cx="1245.6" cy="1517.4" r="2.1"/><circle cx="1229.7" cy="1515.8" r="2.1"/><circle cx="1248.9" cy="1643.7" r="2.1"/><circle cx="1245.8" cy="1572.4" r="2.1"/><circle cx="1229.2" cy="1576.7" r="2.1"/><circle cx="1227.4" cy="1516.1" r="2.1"/><circle cx="1225.7" cy="1495.1" r="2.1"/><circle cx="1225.5" cy="1546.3" r="2.1"/><circle cx="1234.9" cy="1506.9" r="2.1"/><circle cx="1229" cy="1563.2" r="2.1"/><circle cx="1249.6" cy="1509.8" r="2.1"/><circle cx="1213.2" cy="1548.6" r="2.1"/><circle cx="1236.2" cy="1417.4" r="2.1"/><circle cx="1229.6" cy="1556.4" r="2.1"/><circle cx="1251.1" cy="1533.1" r="2.1"/><circle cx="1251" cy="1564.8" r="2.1"/><circle cx="1240.3" cy="1580.3" r="2.1"/><circle cx="1240.9" cy="1593" r="2.1"/><circle cx="1227.6" cy="1552.9" r="2.1"/><circle cx="1239.7" cy="1588.7" r="2.1"/><circle cx="1222.4" cy="1567.8" r="2.1"/><circle cx="1244.2" cy="1573.4" r="2.1"/><circle cx="1235" cy="1573.3" r="2.1"/><circle cx="1222" cy="1581" r="2.1"/><circle cx="1221.2" cy="1609.9" r="2.1"/><circle cx="1228" cy="1497.2" r="2.1"/><circle cx="1226.3" cy="1556.9" r="2.1"/><circle cx="1238.5" cy="1516.6" r="2.1"/><circle cx="1230.8" cy="1499.3" r="2.1"/><circle cx="1214.5" cy="1487.9" r="2.1"/><circle cx="1225.6" cy="1554.9" r="2.1"/><circle cx="1230.4" cy="1565.3" r="2.1"/><circle cx="1250.8" cy="1545.8" r="2.1"/><circle cx="1248.4" cy="1576.4" r="2.1"/><circle cx="1236.6" cy="1570.9" r="2.1"/><circle cx="1249.8" cy="1500.9" r="2.1"/><circle cx="1218.9" cy="1629.7" r="2.1"/><circle cx="1221" cy="1570.6" r="2.1"/><circle cx="1218.9" cy="1588.2" r="2.1"/><circle cx="1222.9" cy="1540.9" r="2.1"/><circle cx="1223.9" cy="1444.2" r="2.1"/><circle cx="1233.7" cy="1550.1" r="2.1"/><circle cx="1246.9" cy="1471" r="2.1"/><circle cx="1226.6" cy="1575.5" r="2.1"/><circle cx="1225.5" cy="1552.2" r="2.1"/><circle cx="1231.1" cy="1577.1" r="2.1"/><circle cx="1249.2" cy="1559.6" r="2.1"/><circle cx="1232.4" cy="1610.4" r="2.1"/><circle cx="1250.5" cy="1555.5" r="2.1"/><circle cx="1224.9" cy="1567" r="2.1"/><circle cx="1234.2" cy="1539.3" r="2.1"/><circle cx="1237.1" cy="1561" r="2.1"/><circle cx="1240.5" cy="1590" r="2.1"/><circle cx="1245" cy="1579.2" r="2.1"/><circle cx="1217.7" cy="1554.1" r="2.1"/><circle cx="1221" cy="1585.7" r="2.1"/><circle cx="1217.2" cy="1518.4" r="2.1"/><circle cx="1242.6" cy="1582.3" r="2.1"/><circle cx="1232" cy="1418.8" r="2.1"/><circle cx="1232" cy="1528.3" r="2.1"/><circle cx="1214.6" cy="1521.3" r="2.1"/><circle cx="1243.6" cy="1514.8" r="2.1"/><circle cx="1250.1" cy="1537.4" r="2.1"/><circle cx="1213.7" cy="1543" r="2.1"/><circle cx="1250.7" cy="1532.8" r="2.1"/><circle cx="1231.6" cy="1589" r="2.1"/><circle cx="1217.7" cy="1572.6" r="2.1"/><circle cx="1214.3" cy="1451.8" r="2.1"/><circle cx="1239.8" cy="1495.5" r="2.1"/><circle cx="1243.6" cy="1562.1" r="2.1"/><circle cx="1228.8" cy="1514.5" r="2.1"/><circle cx="1246.2" cy="1569.6" r="2.1"/><circle cx="1213.3" cy="1586.9" r="2.1"/><circle cx="1246.2" cy="1551.4" r="2.1"/><circle cx="1219.2" cy="1532.7" r="2.1"/><circle cx="1220.3" cy="1518" r="2.1"/><circle cx="1226" cy="1596.8" r="2.1"/><circle cx="1225.8" cy="1527.3" r="2.1"/><circle cx="1247.3" cy="1543.4" r="2.1"/><circle cx="1232.4" cy="1523" r="2.1"/><circle cx="1229.5" cy="1597.3" r="2.1"/><circle cx="1244" cy="1515.4" r="2.1"/><circle cx="1229.6" cy="1624.8" r="2.1"/><circle cx="1225" cy="1577.6" r="2.1"/><circle cx="1226.4" cy="1512.9" r="2.1"/><circle cx="1235.3" cy="1575.4" r="2.1"/><circle cx="1247.8" cy="1545.6" r="2.1"/><circle cx="1248.4" cy="1490.8" r="2.1"/><circle cx="1214.1" cy="1547.5" r="2.1"/><circle cx="1227.1" cy="1620.9" r="2.1"/><circle cx="1239.7" cy="1595.6" r="2.1"/><circle cx="1232" cy="1567.3" r="2.1"/><circle cx="1241.1" cy="1591.8" r="2.1"/><circle cx="1248.8" cy="1626.3" r="2.1"/><circle cx="1214.9" cy="1569.2" r="2.1"/><circle cx="1239.7" cy="1547" r="2.1"/><circle cx="1222.3" cy="1519.9" r="2.1"/><circle cx="1238" cy="1538.3" r="2.1"/><circle cx="1220.4" cy="1508.1" r="2.1"/><circle cx="1218.5" cy="1570.6" r="2.1"/><circle cx="1245.4" cy="1546.1" r="2.1"/><circle cx="1238.1" cy="1586" r="2.1"/><circle cx="1237.5" cy="1566.7" r="2.1"/><circle cx="1229.5" cy="1483.4" r="2.1"/><circle cx="1222.9" cy="1525.8" r="2.1"/><circle cx="1215.6" cy="1572.9" r="2.1"/><circle cx="1249.3" cy="1585.5" r="2.1"/><circle cx="1243.3" cy="1482.3" r="2.1"/><circle cx="1241.8" cy="1561.5" r="2.1"/><circle cx="1216.2" cy="1558.9" r="2.1"/><circle cx="1213.7" cy="1419.5" r="2.1"/><circle cx="1230.9" cy="1458.4" r="2.1"/><circle cx="1217" cy="1527.4" r="2.1"/><circle cx="1236.5" cy="1592.2" r="2.1"/><circle cx="1224.9" cy="1531" r="2.1"/><circle cx="1242.8" cy="1526.5" r="2.1"/><circle cx="1219.5" cy="1442.8" r="2.1"/><circle cx="1232.1" cy="1576.2" r="2.1"/><circle cx="1228.8" cy="1583.2" r="2.1"/><circle cx="1222" cy="1526.4" r="2.1"/><circle cx="1225.8" cy="1506.3" r="2.1"/><circle cx="1220.4" cy="1565.5" r="2.1"/><circle cx="1224.7" cy="1509.3" r="2.1"/><circle cx="1230" cy="1549.7" r="2.1"/><circle cx="1228.1" cy="1584.3" r="2.1"/><circle cx="1238.3" cy="1480.1" r="2.1"/><circle cx="1246.6" cy="1575.7" r="2.1"/><circle cx="1232.4" cy="1528.8" r="2.1"/><circle cx="1220.8" cy="1525.7" r="2.1"/><circle cx="1232.6" cy="1634.8" r="2.1"/><circle cx="1218.9" cy="1575.2" r="2.1"/><circle cx="1245.2" cy="1583.6" r="2.1"/><circle cx="1213.8" cy="1511.8" r="2.1"/><circle cx="1223.9" cy="1649.1" r="2.1"/><circle cx="1248.4" cy="1544.9" r="2.1"/><circle cx="1235.3" cy="1462.7" r="2.1"/><circle cx="1226.2" cy="1544.6" r="2.1"/><circle cx="1214.5" cy="1637.1" r="2.1"/><circle cx="1220" cy="1587.8" r="2.1"/><circle cx="1245" cy="1608.3" r="2.1"/><circle cx="1216.1" cy="1518.6" r="2.1"/><circle cx="1239.6" cy="1580.7" r="2.1"/><circle cx="1219.4" cy="1534.7" r="2.1"/><circle cx="1242" cy="1593.5" r="2.1"/><circle cx="1217.5" cy="1555.7" r="2.1"/><circle cx="1218.1" cy="1601.4" r="2.1"/><circle cx="1220.6" cy="1497.7" r="2.1"/><circle cx="1249.3" cy="1550.3" r="2.1"/><circle cx="1213.9" cy="1550.9" r="2.1"/><circle cx="1231.3" cy="1558.3" r="2.1"/><circle cx="1247.7" cy="1563.3" r="2.1"/><circle cx="1238.9" cy="1528" r="2.1"/><circle cx="1213.8" cy="1521.8" r="2.1"/><circle cx="1238.4" cy="1533.3" r="2.1"/><circle cx="1225" cy="1576.8" r="2.1"/><circle cx="1221.6" cy="1598.3" r="2.1"/><circle cx="1218.3" cy="1590.8" r="2.1"/><circle cx="1217.5" cy="1533.7" r="2.1"/><circle cx="1234.6" cy="1518.9" r="2.1"/><circle cx="1241.9" cy="1571.8" r="2.1"/><circle cx="1247.4" cy="1535" r="2.1"/><circle cx="1237.4" cy="1571.1" r="2.1"/><circle cx="1229.8" cy="1555.2" r="2.1"/><circle cx="1247.9" cy="1541" r="2.1"/><circle cx="1219.6" cy="1569.3" r="2.1"/><circle cx="1248.3" cy="1578.2" r="2.1"/><circle cx="1250.5" cy="1519.6" r="2.1"/><circle cx="1233.7" cy="1558.6" r="2.1"/><circle cx="1241.5" cy="1553.6" r="2.1"/><circle cx="1236.7" cy="1493.1" r="2.1"/><circle cx="1239.7" cy="1512.7" r="2.1"/><circle cx="1239" cy="1503.2" r="2.1"/><circle cx="1239.4" cy="1638.8" r="2.1"/><circle cx="1238.9" cy="1551.9" r="2.1"/><circle cx="1231.6" cy="1522" r="2.1"/><circle cx="1220.4" cy="1560.2" r="2.1"/><circle cx="1225.9" cy="1598.8" r="2.1"/><circle cx="1225.6" cy="1567.5" r="2.1"/><circle cx="1239.3" cy="1584.8" r="2.1"/><circle cx="1218.3" cy="1568.3" r="2.1"/><circle cx="1239.5" cy="1510.3" r="2.1"/><circle cx="1231.1" cy="1501.9" r="2.1"/><circle cx="1248.3" cy="1521.5" r="2.1"/><circle cx="1229.2" cy="1531" r="2.1"/><circle cx="1241.6" cy="1485.6" r="2.1"/><circle cx="1218.7" cy="1528.5" r="2.1"/><circle cx="1218.6" cy="1526.7" r="2.1"/><circle cx="1245.6" cy="1586.7" r="2.1"/><circle cx="1244.4" cy="1517.5" r="2.1"/><circle cx="1222.5" cy="1524.3" r="2.1"/><circle cx="1229.2" cy="1561.3" r="2.1"/><circle cx="1242.2" cy="1529.1" r="2.1"/><circle cx="1216.4" cy="1464.8" r="2.1"/><circle cx="1239.1" cy="1543.6" r="2.1"/><circle cx="1239.6" cy="1540.6" r="2.1"/><circle cx="1249.3" cy="1561.1" r="2.1"/><circle cx="1251.1" cy="1538.8" r="2.1"/><circle cx="1242.7" cy="1552.7" r="2.1"/><circle cx="1217.7" cy="1530.8" r="2.1"/><circle cx="1244.3" cy="1554.6" r="2.1"/><circle cx="1219.3" cy="1472.5" r="2.1"/><circle cx="1223.8" cy="1591.4" r="2.1"/><circle cx="1244.2" cy="1531.6" r="2.1"/><circle cx="1232" cy="1622.4" r="2.1"/><circle cx="1229.3" cy="1564.2" r="2.1"/><circle cx="1246.9" cy="1529.8" r="2.1"/><circle cx="1245.4" cy="1541.8" r="2.1"/><circle cx="1224.5" cy="1550.5" r="2.1"/><circle cx="1245" cy="1553.9" r="2.1"/><circle cx="1250.9" cy="1491.5" r="2.1"/><circle cx="1239.2" cy="1445.6" r="2.1"/><circle cx="1221.6" cy="1456.3" r="2.1"/><circle cx="1233.5" cy="1571.6" r="2.1"/><circle cx="1234.5" cy="1546.9" r="2.1"/><circle cx="1224" cy="1541.3" r="2.1"/><circle cx="1241.5" cy="1602" r="2.1"/><circle cx="1217.7" cy="1523.7" r="2.1"/><circle cx="1219.7" cy="1582.7" r="2.1"/><circle cx="1249.3" cy="1539.8" r="2.1"/><circle cx="1226.1" cy="1510.5" r="2.1"/><circle cx="1218.8" cy="1492.1" r="2.1"/><circle cx="1242.9" cy="1597" r="2.1"/><circle cx="1243.7" cy="1585.2" r="2.1"/><circle cx="1229.9" cy="1566.3" r="2.1"/><circle cx="1231.7" cy="1535.7" r="2.1"/><circle cx="1213.6" cy="1548.3" r="2.1"/><circle cx="1213.8" cy="1554.3" r="2.1"/><circle cx="1247.5" cy="1556.3" r="2.1"/><circle cx="1249.3" cy="1490" r="2.1"/><circle cx="1240.5" cy="1500" r="2.1"/><circle cx="1239.3" cy="1603.2" r="2.1"/><circle cx="1228.6" cy="1525.5" r="2.1"/><circle cx="1224.7" cy="1495.8" r="2.1"/><circle cx="1240.9" cy="1558" r="2.1"/><circle cx="1243.2" cy="1536.1" r="2.1"/><circle cx="1216.3" cy="1556.9" r="2.1"/><circle cx="1217.6" cy="1514.3" r="2.1"/><circle cx="1215.8" cy="1565.6" r="2.1"/><circle cx="1240" cy="1568" r="2.1"/><circle cx="1231.5" cy="1533.5" r="2.1"/><circle cx="1216.1" cy="1606.3" r="2.1"/><circle cx="1232.3" cy="1531.3" r="2.1"/><circle cx="1248.8" cy="1516.4" r="2.1"/><circle cx="1242.4" cy="1489.2" r="2.1"/><circle cx="1241" cy="1579.7" r="2.1"/><circle cx="1237.5" cy="1510.9" r="2.1"/><circle cx="1220.7" cy="1640.3" r="2.1"/><circle cx="1233.9" cy="1553.1" r="2.1"/><circle cx="1230.1" cy="1522.7" r="2.1"/><circle cx="1248.9" cy="1562.5" r="2.1"/><circle cx="1214.1" cy="1498.5" r="2.1"/><circle cx="1214.1" cy="1574.6" r="2.1"/><circle cx="1214.4" cy="1564.6" r="2.1"/><circle cx="1216" cy="1543.3" r="2.1"/><circle cx="1225.2" cy="1511.4" r="2.1"/><circle cx="1237.5" cy="1568.9" r="2.1"/><circle cx="1241.8" cy="1542.5" r="2.1"/><circle cx="1243.9" cy="1617.3" r="2.1"/><circle cx="1216.3" cy="1501.6" r="2.1"/><circle cx="1229" cy="1549.6" r="2.1"/><circle cx="1235.5" cy="1524" r="2.1"/><circle cx="1226" cy="1576" r="2.1"/><circle cx="1223.5" cy="1591.2" r="2.1"/><circle cx="1219.8" cy="1539.7" r="2.1"/><circle cx="1226.3" cy="1574.1" r="2.1"/><circle cx="1216.9" cy="1530.3" r="2.1"/><circle cx="1251.1" cy="1535.5" r="2.1"/><circle cx="1240.7" cy="1554.6" r="2.1"/><circle cx="1249.3" cy="1600.8" r="2.1"/><circle cx="1215.5" cy="1582.2" r="2.1"/><circle cx="1217.5" cy="1566.9" r="2.1"/><circle cx="1238" cy="1579.8" r="2.1"/><circle cx="1250.3" cy="1512.3" r="2.1"/><circle cx="1228.5" cy="1511" r="2.1"/><circle cx="1225.1" cy="1505.1" r="2.1"/><circle cx="1228.3" cy="1559.5" r="2.1"/><circle cx="1213.3" cy="1557.4" r="2.1"/><circle cx="1220.9" cy="1571.5" r="2.1"/><circle cx="1218.8" cy="1573.8" r="2.1"/><circle cx="1218.7" cy="1631.8" r="2.1"/><circle cx="1250.2" cy="1520.4" r="2.1"/><circle cx="1238" cy="1583.4" r="2.1"/><circle cx="1244.8" cy="1534.2" r="2.1"/><circle cx="1229.3" cy="1562.2" r="2.1"/><circle cx="1233.5" cy="1581.5" r="2.1"/><circle cx="1227.1" cy="1502.5" r="2.1"/><circle cx="1230.8" cy="1545.2" r="2.1"/><circle cx="1243.2" cy="1392" r="2.1"/><circle cx="1239" cy="1513.9" r="2.1"/><circle cx="1219.1" cy="1524.8" r="2.1"/><circle cx="1223.3" cy="1653.7" r="2.1"/><circle cx="1238.1" cy="1561.8" r="2.1"/><circle cx="1232.5" cy="1589.4" r="2.1"/><circle cx="1233.6" cy="1507.4" r="2.1"/><circle cx="1214.9" cy="1537.8" r="2.1"/><circle cx="1224.1" cy="1437.2" r="2.1"/><circle cx="1229.9" cy="1599.5" r="2.1"/><circle cx="1247.4" cy="1562.7" r="2.1"/><circle cx="1250.2" cy="1544.4" r="2.1"/><circle cx="1216.5" cy="1557.7" r="2.1"/><circle cx="1229.4" cy="1513.5" r="2.1"/><circle cx="1220.3" cy="1488.4" r="2.1"/><circle cx="1228.9" cy="1524.9" r="2.1"/><circle cx="1236" cy="1569.9" r="2.1"/><circle cx="1241.2" cy="1541.6" r="2.1"/><circle cx="1235.5" cy="1564" r="2.1"/><circle cx="1236.8" cy="1547.4" r="2.1"/><circle cx="1235.7" cy="1490.7" r="2.1"/><circle cx="1220.1" cy="1603.5" r="2.1"/><circle cx="1220.4" cy="1470" r="2.1"/><circle cx="1232" cy="1534.6" r="2.1"/><circle cx="1216" cy="1529.5" r="2.1"/><circle cx="1227.6" cy="1558.1" r="2.1"/><circle cx="1236.9" cy="1540.4" r="2.1"/><circle cx="1246.4" cy="1520.1" r="2.1"/><circle cx="1250.2" cy="1596" r="2.1"/><circle cx="1235.1" cy="1532.4" r="2.1"/><circle cx="1218.6" cy="1536.7" r="2.1"/><circle cx="1234.9" cy="1536.2" r="2.1"/><circle cx="1239" cy="1590.5" r="2.1"/><circle cx="1221.5" cy="1550.7" r="2.1"/><circle cx="1244.7" cy="1512.1" r="2.1"/><circle cx="1220.5" cy="1590.3" r="2.1"/><circle cx="1237.8" cy="1578.1" r="2.1"/><circle cx="1249.2" cy="1529.7" r="2.1"/><circle cx="1245.5" cy="1574.8" r="2.1"/><circle cx="1241.9" cy="1542.8" r="2.1"/><circle cx="1224.3" cy="1532.1" r="2.1"/><circle cx="1229" cy="1562.8" r="2.1"/><circle cx="1247.1" cy="1496.4" r="2.1"/><circle cx="1231.8" cy="1519.3" r="2.1"/><circle cx="1220.9" cy="1611.2" r="2.1"/><circle cx="1226.1" cy="1627.6" r="2.1"/><circle cx="1215.9" cy="1527.1" r="2.1"/><circle cx="1249.6" cy="1494.3" r="2.1"/><circle cx="1227.6" cy="1537.2" r="2.1"/><circle cx="1231.5" cy="1577.3" r="2.1"/><circle cx="1215.5" cy="1521" r="2.1"/><circle cx="1236.9" cy="1548.8" r="2.1"/><circle cx="1219.1" cy="1526.1" r="2.1"/><circle cx="1220.9" cy="1577.9" r="2.1"/><circle cx="1242.5" cy="1545.3" r="2.1"/><circle cx="1231.6" cy="1540.1" r="2.1"/><circle cx="1234.4" cy="1553.3" r="2.1"/><circle cx="1223.5" cy="1587.3" r="2.1"/><circle cx="1216" cy="1613.2" r="2.1"/><circle cx="1225.9" cy="1530.4" r="2.1"/><circle cx="1227.8" cy="1463.4" r="2.1"/><circle cx="1247.1" cy="1507.2" r="2.1"/><circle cx="1240.4" cy="1594.4" r="2.1"/><circle cx="1230.6" cy="1565.9" r="2.1"/><circle cx="1234.1" cy="1468.9" r="2.1"/><circle cx="1240" cy="1504.6" r="2.1"/><circle cx="1241.5" cy="1560" r="2.1"/><circle cx="1242" cy="1566.1" r="2.1"/><circle cx="1224" cy="1592.3" r="2.1"/><circle cx="1228.2" cy="1606" r="2.1"/><circle cx="1224.1" cy="1609" r="2.1"/><circle cx="1227.5" cy="1602.7" r="2.1"/><circle cx="1244.5" cy="1604.3" r="2.1"/><circle cx="1230.3" cy="1538" r="2.1"/><circle cx="1215" cy="1366.6" r="2.1"/><circle cx="1241.2" cy="1474.8" r="2.1"/><circle cx="1226.1" cy="1573.9" r="2.1"/><circle cx="1240.3" cy="1475" r="2.1"/><circle cx="1248" cy="1582" r="2.1"/><circle cx="1247.5" cy="1537" r="2.1"/><circle cx="1234.6" cy="1622.3" r="2.1"/><circle cx="1213.8" cy="1614.8" r="2.1"/><circle cx="1247.7" cy="1610.7" r="2.1"/><circle cx="1215.1" cy="1542.2" r="2.1"/><circle cx="1233" cy="1559.3" r="2.1"/><circle cx="1214.6" cy="1478.9" r="2.1"/><circle cx="1215.8" cy="1508.9" r="2.1"/><circle cx="1245.8" cy="1612.5" r="2.1"/><circle cx="1239.1" cy="1517" r="2.1"/><circle cx="1236.6" cy="1597.7" r="2.1"/><circle cx="1220.2" cy="1477" r="2.1"/><circle cx="1222.6" cy="1578.7" r="2.1"/><circle cx="1224.7" cy="1552.3" r="2.1"/><circle cx="1243.8" cy="1539.2" r="2.1"/><circle cx="1222.1" cy="1568.5" r="2.1"/><circle cx="1235.4" cy="1613.9" r="2.1"/><circle cx="1245.6" cy="1546.6" r="2.1"/><circle cx="1216.8" cy="1579" r="2.1"/><circle cx="1228.6" cy="1523.5" r="2.1"/><circle cx="1222.6" cy="1608.3" r="2.1"/><circle cx="1235.5" cy="1607.4" r="2.1"/><circle cx="1225.7" cy="1536.4" r="2.1"/><circle cx="1249.7" cy="1574.3" r="2.1"/><circle cx="1225.7" cy="1589.4" r="2.1"/><circle cx="1245.9" cy="1595.1" r="2.1"/><circle cx="1228.5" cy="1593.9" r="2.1"/><circle cx="1232.1" cy="1572.1" r="2.1"/><circle cx="1241.6" cy="1560.5" r="2.1"/><circle cx="1240.9" cy="1570.2" r="2.1"/><circle cx="1238.2" cy="1531.9" r="2.1"/><circle cx="1222" cy="1587.6" r="2.1"/><circle cx="1230.4" cy="1560.6" r="2.1"/><circle cx="1216.1" cy="1564.3" r="2.1"/><circle cx="1221.6" cy="1606.7" r="2.1"/><circle cx="1230.8" cy="1586.4" r="2.1"/><circle cx="1247" cy="1498.5" r="2.1"/><circle cx="1246.1" cy="1568.6" r="2.1"/><circle cx="1223.3" cy="1506.6" r="2.1"/><circle cx="1240.5" cy="1559" r="2.1"/><circle cx="1250.6" cy="1522.6" r="2.1"/><circle cx="1239.3" cy="1527.9" r="2.1"/><circle cx="1246.1" cy="1548.9" r="2.1"/><circle cx="1230.3" cy="1544.3" r="2.1"/><circle cx="1243.7" cy="1595.5" r="2.1"/><circle cx="1236.5" cy="1551.7" r="2.1"/><circle cx="1233.9" cy="1600.1" r="2.1"/><circle cx="1230.7" cy="1538.2" r="2.1"/>
</g>
<g fill="#ddd76c" fill-opacity="0.55" stroke="#1c1c06" stroke-width="1.5" stroke-opacity="0.9">
<circle cx="1282.8" cy="1544.3" r="2.2"/><circle cx="1284.1" cy="1499.4" r="2.2"/><circle cx="1299.3" cy="1463.4" r="2.2"/><circle cx="1293.5" cy="1498.2" r="2.2"/><circle cx="1274.6" cy="1536.5" r="2.2"/><circle cx="1266.8" cy="1468.4" r="2.2"/><circle cx="1290.3" cy="1549" r="2.2"/><circle cx="1288.6" cy="1485.9" r="2.2"/><circle cx="1284.5" cy="1446.9" r="2.2"/><circle cx="1294.7" cy="1479.5" r="2.2"/><circle cx="1291.1" cy="1553.4" r="2.2"/><circle cx="1290.4" cy="1513.1" r="2.2"/><circle cx="1282.7" cy="1566.1" r="2.2"/><circle cx="1281.1" cy="1558.6" r="2.2"/><circle cx="1277.6" cy="1578.3" r="2.2"/><circle cx="1280.4" cy="1470.5" r="2.2"/><circle cx="1267.4" cy="1563.5" r="2.2"/><circle cx="1292.8" cy="1476.3" r="2.2"/><circle cx="1266.3" cy="1420.2" r="2.2"/><circle cx="1266.2" cy="1598.1" r="2.2"/><circle cx="1273.8" cy="1454.5" r="2.2"/><circle cx="1269" cy="1523.4" r="2.2"/><circle cx="1269.7" cy="1519.4" r="2.2"/><circle cx="1281" cy="1461.6" r="2.2"/><circle cx="1279.2" cy="1475.5" r="2.2"/><circle cx="1294.9" cy="1485.1" r="2.2"/><circle cx="1264.3" cy="1568" r="2.2"/><circle cx="1266.1" cy="1449.9" r="2.2"/><circle cx="1276.6" cy="1508.8" r="2.2"/><circle cx="1289.2" cy="1489.7" r="2.2"/><circle cx="1298.8" cy="1541.5" r="2.2"/><circle cx="1275.7" cy="1551.7" r="2.2"/><circle cx="1284.2" cy="1586.3" r="2.2"/><circle cx="1284.7" cy="1505.2" r="2.2"/><circle cx="1291" cy="1436.4" r="2.2"/><circle cx="1293.9" cy="1518.6" r="2.2"/><circle cx="1301.4" cy="1533.4" r="2.2"/><circle cx="1291.4" cy="1576" r="2.2"/><circle cx="1281" cy="1503.3" r="2.2"/><circle cx="1294.2" cy="1556.1" r="2.2"/><circle cx="1274.6" cy="1529" r="2.2"/><circle cx="1264.6" cy="1494.3" r="2.2"/>
</g>
<path d="M1232.2 1356V1353.5H1282.5V1356" stroke="#000" stroke-width="3.4" fill="none"/>
<text x="1257.3" y="1348.4" font-size="20.4" text-anchor="middle">p = 7.3e−07</text>
<text x="1257.3" y="1696" font-size="20.4" text-anchor="middle">All tumors</text>
<line x1="1357.8" y1="1459" x2="1357.8" y2="1529.9" stroke="#363636" stroke-width="4"/>
<line x1="1357.8" y1="1579.7" x2="1357.8" y2="1637.2" stroke="#363636" stroke-width="4"/>
<rect x="1335.8" y="1529.9" width="44" height="49.8" fill="#E2E2E2" stroke="#363636" stroke-width="4"/>
<line x1="1335.8" y1="1555" x2="1379.8" y2="1555" stroke="#363636" stroke-width="8"/>
<line x1="1408.1" y1="1468.9" x2="1408.1" y2="1503.8" stroke="#363636" stroke-width="4"/>
<line x1="1408.1" y1="1564.2" x2="1408.1" y2="1611.4" stroke="#363636" stroke-width="4"/>
<rect x="1386.1" y="1503.8" width="44" height="60.3" fill="#F6F18C" stroke="#363636" stroke-width="4"/>
<line x1="1386.1" y1="1531.4" x2="1430.1" y2="1531.4" stroke="#363636" stroke-width="8"/>
<g fill="#777" fill-opacity="0.3" stroke="#1a1a1a" stroke-width="1.3" stroke-opacity="0.42">
<circle cx="1372.5" cy="1533.1" r="2.1"/><circle cx="1373.9" cy="1505.1" r="2.1"/><circle cx="1369.6" cy="1501.6" r="2.1"/><circle cx="1362.2" cy="1531.9" r="2.1"/><circle cx="1357.8" cy="1561.5" r="2.1"/><circle cx="1367.1" cy="1558.3" r="2.1"/><circle cx="1340.1" cy="1555.7" r="2.1"/><circle cx="1339.8" cy="1475.5" r="2.1"/><circle cx="1353.4" cy="1556.3" r="2.1"/><circle cx="1343.5" cy="1548" r="2.1"/><circle cx="1352.1" cy="1497" r="2.1"/><circle cx="1374.6" cy="1553" r="2.1"/><circle cx="1349.6" cy="1588.9" r="2.1"/><circle cx="1342.5" cy="1570" r="2.1"/><circle cx="1357.7" cy="1491.2" r="2.1"/><circle cx="1354.5" cy="1498.8" r="2.1"/><circle cx="1356.6" cy="1594.6" r="2.1"/><circle cx="1375.5" cy="1529.9" r="2.1"/><circle cx="1349.1" cy="1416" r="2.1"/><circle cx="1348.6" cy="1554.1" r="2.1"/><circle cx="1349.1" cy="1487" r="2.1"/><circle cx="1347.7" cy="1576.4" r="2.1"/><circle cx="1341.5" cy="1611.4" r="2.1"/><circle cx="1357.7" cy="1592.9" r="2.1"/><circle cx="1372.9" cy="1621.3" r="2.1"/><circle cx="1374.4" cy="1566.8" r="2.1"/><circle cx="1353.6" cy="1557.6" r="2.1"/><circle cx="1352.5" cy="1583.7" r="2.1"/><circle cx="1341.5" cy="1563.1" r="2.1"/><circle cx="1374.9" cy="1477.5" r="2.1"/><circle cx="1361.7" cy="1575.3" r="2.1"/><circle cx="1352.2" cy="1577.7" r="2.1"/><circle cx="1354.7" cy="1567.5" r="2.1"/><circle cx="1376.6" cy="1549.6" r="2.1"/><circle cx="1357.3" cy="1478.1" r="2.1"/><circle cx="1373.2" cy="1579.2" r="2.1"/><circle cx="1357.9" cy="1573.4" r="2.1"/><circle cx="1340.8" cy="1518.9" r="2.1"/><circle cx="1353.3" cy="1536.4" r="2.1"/><circle cx="1363.4" cy="1575" r="2.1"/><circle cx="1356.1" cy="1548.5" r="2.1"/><circle cx="1348.9" cy="1559.2" r="2.1"/><circle cx="1352.9" cy="1574.7" r="2.1"/><circle cx="1369.2" cy="1564.6" r="2.1"/><circle cx="1374.3" cy="1580.5" r="2.1"/><circle cx="1362.8" cy="1521.7" r="2.1"/><circle cx="1361.3" cy="1582.5" r="2.1"/><circle cx="1372.3" cy="1581" r="2.1"/><circle cx="1353.1" cy="1560.7" r="2.1"/><circle cx="1348.1" cy="1541.9" r="2.1"/><circle cx="1356.5" cy="1573.9" r="2.1"/><circle cx="1366.1" cy="1497.3" r="2.1"/><circle cx="1366.3" cy="1503" r="2.1"/><circle cx="1370.3" cy="1527.3" r="2.1"/><circle cx="1372.9" cy="1529" r="2.1"/><circle cx="1365.1" cy="1531.6" r="2.1"/><circle cx="1364.8" cy="1526.9" r="2.1"/><circle cx="1354.2" cy="1514.5" r="2.1"/><circle cx="1373.4" cy="1541.2" r="2.1"/><circle cx="1355.4" cy="1552.8" r="2.1"/><circle cx="1374.4" cy="1553.4" r="2.1"/><circle cx="1350" cy="1547.8" r="2.1"/><circle cx="1348" cy="1616.7" r="2.1"/><circle cx="1341" cy="1560" r="2.1"/><circle cx="1354.4" cy="1583.3" r="2.1"/><circle cx="1340.5" cy="1596.9" r="2.1"/><circle cx="1366.5" cy="1534.8" r="2.1"/><circle cx="1350.7" cy="1500.8" r="2.1"/><circle cx="1367.6" cy="1578.5" r="2.1"/><circle cx="1359.8" cy="1528.9" r="2.1"/><circle cx="1363.7" cy="1529.4" r="2.1"/><circle cx="1364.1" cy="1524.9" r="2.1"/><circle cx="1366.8" cy="1553.3" r="2.1"/><circle cx="1356.9" cy="1547" r="2.1"/><circle cx="1372.3" cy="1511.4" r="2.1"/><circle cx="1342.9" cy="1577.2" r="2.1"/><circle cx="1356.7" cy="1498.4" r="2.1"/><circle cx="1366.8" cy="1492.7" r="2.1"/><circle cx="1342.1" cy="1538.1" r="2.1"/><circle cx="1366.3" cy="1543" r="2.1"/><circle cx="1350" cy="1518.1" r="2.1"/><circle cx="1364.7" cy="1581.8" r="2.1"/><circle cx="1369.6" cy="1524.1" r="2.1"/><circle cx="1364.9" cy="1479.8" r="2.1"/><circle cx="1339.2" cy="1596.6" r="2.1"/><circle cx="1343.2" cy="1587.1" r="2.1"/><circle cx="1351.4" cy="1595.8" r="2.1"/><circle cx="1365.1" cy="1614" r="2.1"/><circle cx="1359" cy="1570.6" r="2.1"/><circle cx="1352" cy="1555.9" r="2.1"/><circle cx="1364.1" cy="1652.4" r="2.1"/><circle cx="1367.7" cy="1530.8" r="2.1"/><circle cx="1360.6" cy="1572.1" r="2.1"/><circle cx="1368.5" cy="1539.4" r="2.1"/><circle cx="1349.5" cy="1633.4" r="2.1"/><circle cx="1364.5" cy="1545.5" r="2.1"/><circle cx="1342.3" cy="1548.2" r="2.1"/><circle cx="1358.8" cy="1509.3" r="2.1"/><circle cx="1343.4" cy="1625.2" r="2.1"/><circle cx="1370.7" cy="1531.1" r="2.1"/><circle cx="1350.1" cy="1516.6" r="2.1"/><circle cx="1358.7" cy="1608.5" r="2.1"/><circle cx="1347.2" cy="1513.4" r="2.1"/><circle cx="1356.9" cy="1550.8" r="2.1"/><circle cx="1340.1" cy="1496.5" r="2.1"/><circle cx="1338.9" cy="1582.1" r="2.1"/><circle cx="1373.2" cy="1536.9" r="2.1"/><circle cx="1356.7" cy="1538.8" r="2.1"/><circle cx="1368.9" cy="1618" r="2.1"/><circle cx="1368" cy="1538.3" r="2.1"/><circle cx="1374" cy="1568.5" r="2.1"/><circle cx="1356.6" cy="1591" r="2.1"/><circle cx="1342.3" cy="1591.3" r="2.1"/><circle cx="1375.5" cy="1567.2" r="2.1"/><circle cx="1362.7" cy="1539.8" r="2.1"/><circle cx="1357.1" cy="1566.7" r="2.1"/><circle cx="1344.1" cy="1555.5" r="2.1"/><circle cx="1353" cy="1549.8" r="2.1"/><circle cx="1373.9" cy="1515.4" r="2.1"/><circle cx="1368.6" cy="1574.8" r="2.1"/><circle cx="1375.2" cy="1608" r="2.1"/><circle cx="1341" cy="1488.9" r="2.1"/><circle cx="1369.2" cy="1533.9" r="2.1"/><circle cx="1348.5" cy="1464.2" r="2.1"/><circle cx="1338.9" cy="1551.7" r="2.1"/><circle cx="1375.4" cy="1545.3" r="2.1"/><circle cx="1362.7" cy="1495.9" r="2.1"/><circle cx="1370.6" cy="1616.3" r="2.1"/><circle cx="1343.2" cy="1542.7" r="2.1"/><circle cx="1345.7" cy="1546.3" r="2.1"/><circle cx="1348.9" cy="1533.7" r="2.1"/><circle cx="1370.2" cy="1603.7" r="2.1"/><circle cx="1339.4" cy="1560.2" r="2.1"/><circle cx="1371.2" cy="1516.3" r="2.1"/><circle cx="1372.2" cy="1596.1" r="2.1"/><circle cx="1346.8" cy="1587.6" r="2.1"/><circle cx="1360.2" cy="1584.9" r="2.1"/><circle cx="1375.5" cy="1549.2" r="2.1"/><circle cx="1375.3" cy="1522.4" r="2.1"/><circle cx="1363.6" cy="1521.2" r="2.1"/><circle cx="1348.6" cy="1567.8" r="2.1"/><circle cx="1358.2" cy="1516.9" r="2.1"/><circle cx="1372.8" cy="1580.3" r="2.1"/><circle cx="1369" cy="1571.7" r="2.1"/><circle cx="1373.4" cy="1584.1" r="2.1"/><circle cx="1340.2" cy="1524.2" r="2.1"/><circle cx="1352.3" cy="1605.6" r="2.1"/><circle cx="1346.9" cy="1542" r="2.1"/><circle cx="1366.8" cy="1550.1" r="2.1"/><circle cx="1369.4" cy="1544.9" r="2.1"/><circle cx="1357.9" cy="1528" r="2.1"/><circle cx="1339" cy="1630.4" r="2.1"/><circle cx="1348.5" cy="1590.2" r="2.1"/><circle cx="1351.9" cy="1535.1" r="2.1"/><circle cx="1363.3" cy="1564" r="2.1"/><circle cx="1353.1" cy="1590.8" r="2.1"/><circle cx="1346.4" cy="1622.8" r="2.1"/><circle cx="1352.9" cy="1541.1" r="2.1"/><circle cx="1370" cy="1602.3" r="2.1"/><circle cx="1360.2" cy="1584" r="2.1"/><circle cx="1349.3" cy="1600.3" r="2.1"/><circle cx="1373.3" cy="1562.6" r="2.1"/><circle cx="1342.7" cy="1572.6" r="2.1"/><circle cx="1354.7" cy="1584.8" r="2.1"/><circle cx="1372.5" cy="1570.8" r="2.1"/><circle cx="1369.7" cy="1564.6" r="2.1"/><circle cx="1351.9" cy="1577.7" r="2.1"/><circle cx="1358.3" cy="1563.7" r="2.1"/><circle cx="1354.2" cy="1433.6" r="2.1"/><circle cx="1353" cy="1556.5" r="2.1"/><circle cx="1341.6" cy="1543.8" r="2.1"/><circle cx="1339.9" cy="1565.6" r="2.1"/><circle cx="1354" cy="1556.7" r="2.1"/><circle cx="1353.2" cy="1532.3" r="2.1"/><circle cx="1370.3" cy="1559.5" r="2.1"/><circle cx="1340.6" cy="1550.6" r="2.1"/><circle cx="1350.9" cy="1451.3" r="2.1"/><circle cx="1356.7" cy="1599.4" r="2.1"/><circle cx="1360.4" cy="1560.9" r="2.1"/><circle cx="1339.6" cy="1566.2" r="2.1"/><circle cx="1360.6" cy="1504.6" r="2.1"/><circle cx="1350.2" cy="1576.9" r="2.1"/><circle cx="1342.3" cy="1550.1" r="2.1"/><circle cx="1354.1" cy="1539.7" r="2.1"/><circle cx="1360.1" cy="1536.6" r="2.1"/><circle cx="1341.4" cy="1530.3" r="2.1"/><circle cx="1356.1" cy="1569" r="2.1"/><circle cx="1356.2" cy="1509.8" r="2.1"/><circle cx="1340.6" cy="1532.7" r="2.1"/><circle cx="1346.1" cy="1545.8" r="2.1"/><circle cx="1363.6" cy="1551" r="2.1"/><circle cx="1353.4" cy="1578.8" r="2.1"/><circle cx="1375.1" cy="1574.5" r="2.1"/><circle cx="1344.2" cy="1592.1" r="2.1"/><circle cx="1348" cy="1583" r="2.1"/><circle cx="1375.9" cy="1568.6" r="2.1"/><circle cx="1342.9" cy="1540.3" r="2.1"/><circle cx="1345.2" cy="1508.2" r="2.1"/><circle cx="1371" cy="1561.3" r="2.1"/><circle cx="1368" cy="1553.7" r="2.1"/><circle cx="1347" cy="1582.2" r="2.1"/><circle cx="1358.1" cy="1535.8" r="2.1"/><circle cx="1374.5" cy="1593.3" r="2.1"/><circle cx="1356.3" cy="1576.7" r="2.1"/><circle cx="1374.1" cy="1554.6" r="2.1"/><circle cx="1351.1" cy="1607.4" r="2.1"/><circle cx="1358.1" cy="1585.6" r="2.1"/><circle cx="1363.8" cy="1525.1" r="2.1"/><circle cx="1342.3" cy="1578" r="2.1"/><circle cx="1362" cy="1567.7" r="2.1"/><circle cx="1352" cy="1500.3" r="2.1"/><circle cx="1360.5" cy="1591.8" r="2.1"/><circle cx="1355.4" cy="1604.4" r="2.1"/><circle cx="1345.7" cy="1551.4" r="2.1"/><circle cx="1355.2" cy="1430.1" r="2.1"/><circle cx="1342.4" cy="1519.4" r="2.1"/><circle cx="1370.3" cy="1591.7" r="2.1"/><circle cx="1346.6" cy="1569.8" r="2.1"/><circle cx="1366.9" cy="1588.3" r="2.1"/><circle cx="1374.9" cy="1482.2" r="2.1"/><circle cx="1346.2" cy="1565.4" r="2.1"/><circle cx="1364.9" cy="1552.5" r="2.1"/><circle cx="1373" cy="1474" r="2.1"/><circle cx="1364" cy="1592.4" r="2.1"/><circle cx="1366.3" cy="1653.8" r="2.1"/><circle cx="1354.5" cy="1607" r="2.1"/><circle cx="1342.2" cy="1575.6" r="2.1"/><circle cx="1340.4" cy="1540.7" r="2.1"/><circle cx="1350.5" cy="1586.2" r="2.1"/><circle cx="1372.4" cy="1512.2" r="2.1"/><circle cx="1373.5" cy="1558" r="2.1"/><circle cx="1363.5" cy="1573.7" r="2.1"/><circle cx="1366.2" cy="1530.4" r="2.1"/><circle cx="1362.5" cy="1525.8" r="2.1"/><circle cx="1351.7" cy="1513.8" r="2.1"/><circle cx="1351.4" cy="1546.7" r="2.1"/><circle cx="1339.6" cy="1543.3" r="2.1"/><circle cx="1375.9" cy="1569.5" r="2.1"/><circle cx="1364.9" cy="1540.4" r="2.1"/><circle cx="1361.7" cy="1587" r="2.1"/><circle cx="1364" cy="1495" r="2.1"/><circle cx="1356.2" cy="1544.5" r="2.1"/><circle cx="1358.7" cy="1537.4" r="2.1"/><circle cx="1370.4" cy="1523.6" r="2.1"/><circle cx="1369.9" cy="1593.1" r="2.1"/><circle cx="1372.1" cy="1599.6" r="2.1"/><circle cx="1354.2" cy="1504" r="2.1"/><circle cx="1338.9" cy="1541.5" r="2.1"/><circle cx="1353.8" cy="1523.4" r="2.1"/><circle cx="1352.4" cy="1588.5" r="2.1"/><circle cx="1366.5" cy="1533" r="2.1"/><circle cx="1356.8" cy="1526.1" r="2.1"/><circle cx="1362.6" cy="1610.6" r="2.1"/><circle cx="1375.6" cy="1602" r="2.1"/><circle cx="1345.9" cy="1574.1" r="2.1"/><circle cx="1346.4" cy="1547.4" r="2.1"/><circle cx="1359.1" cy="1590.3" r="2.1"/><circle cx="1339" cy="1511.2" r="2.1"/><circle cx="1342.5" cy="1573.1" r="2.1"/><circle cx="1358.8" cy="1532.1" r="2.1"/><circle cx="1344.7" cy="1578.4" r="2.1"/><circle cx="1341.9" cy="1605.8" r="2.1"/><circle cx="1348.5" cy="1601.5" r="2.1"/><circle cx="1364.3" cy="1585.9" r="2.1"/><circle cx="1373.2" cy="1595.2" r="2.1"/><circle cx="1343.6" cy="1569.2" r="2.1"/><circle cx="1374.3" cy="1552.3" r="2.1"/><circle cx="1356.6" cy="1510.2" r="2.1"/><circle cx="1346.5" cy="1519.2" r="2.1"/><circle cx="1360.6" cy="1520.3" r="2.1"/><circle cx="1356.8" cy="1530.9" r="2.1"/><circle cx="1373.1" cy="1522.8" r="2.1"/><circle cx="1360.9" cy="1537.1" r="2.1"/><circle cx="1375.5" cy="1570.3" r="2.1"/><circle cx="1357.1" cy="1526.6" r="2.1"/><circle cx="1367" cy="1444.2" r="2.1"/><circle cx="1340.3" cy="1419.5" r="2.1"/><circle cx="1376.1" cy="1557" r="2.1"/><circle cx="1351.2" cy="1576.2" r="2.1"/><circle cx="1340.9" cy="1548.9" r="2.1"/><circle cx="1363.3" cy="1572.7" r="2.1"/><circle cx="1346.4" cy="1584.5" r="2.1"/><circle cx="1355.7" cy="1606.4" r="2.1"/><circle cx="1363.2" cy="1579.5" r="2.1"/><circle cx="1369.9" cy="1627.4" r="2.1"/><circle cx="1369.5" cy="1564.1" r="2.1"/><circle cx="1343.4" cy="1544.3" r="2.1"/><circle cx="1375.3" cy="1484.8" r="2.1"/><circle cx="1373.7" cy="1580.1" r="2.1"/><circle cx="1371.1" cy="1558.7" r="2.1"/><circle cx="1358.6" cy="1605.1" r="2.1"/><circle cx="1365.8" cy="1558.7" r="2.1"/><circle cx="1363.6" cy="1520.7" r="2.1"/><circle cx="1350.8" cy="1624" r="2.1"/><circle cx="1341.8" cy="1572" r="2.1"/><circle cx="1340.5" cy="1581.6" r="2.1"/><circle cx="1353.1" cy="1499.7" r="2.1"/><circle cx="1348.1" cy="1537.8" r="2.1"/><circle cx="1345" cy="1581.2" r="2.1"/><circle cx="1360" cy="1502.9" r="2.1"/><circle cx="1357.6" cy="1543.5" r="2.1"/><circle cx="1352.6" cy="1571.4" r="2.1"/><circle cx="1375.9" cy="1535.4" r="2.1"/><circle cx="1370.6" cy="1471" r="2.1"/><circle cx="1366.3" cy="1517.8" r="2.1"/><circle cx="1353.1" cy="1568.2" r="2.1"/><circle cx="1349.3" cy="1445.6" r="2.1"/><circle cx="1349.3" cy="1508" r="2.1"/><circle cx="1358.1" cy="1501.9" r="2.1"/><circle cx="1370.8" cy="1587.3" r="2.1"/><circle cx="1364.1" cy="1589.4" r="2.1"/><circle cx="1361.1" cy="1588" r="2.1"/><circle cx="1345.7" cy="1518.6" r="2.1"/><circle cx="1362.7" cy="1554.4" r="2.1"/><circle cx="1359.8" cy="1512.7" r="2.1"/><circle cx="1376.8" cy="1547.5" r="2.1"/><circle cx="1375.4" cy="1536.1" r="2.1"/><circle cx="1360" cy="1534.4" r="2.1"/><circle cx="1362" cy="1522" r="2.1"/><circle cx="1367.5" cy="1520.1" r="2.1"/><circle cx="1347.5" cy="1534.3" r="2.1"/><circle cx="1369.3" cy="1484" r="2.1"/><circle cx="1376.4" cy="1593.9" r="2.1"/><circle cx="1355.8" cy="1506" r="2.1"/><circle cx="1360" cy="1533.4" r="2.1"/><circle cx="1345.3" cy="1562.1" r="2.1"/><circle cx="1354.8" cy="1527.7" r="2.1"/><circle cx="1375.2" cy="1517.2" r="2.1"/><circle cx="1354" cy="1597.6" r="2.1"/><circle cx="1369.8" cy="1598.6" r="2.1"/><circle cx="1375.4" cy="1579.7" r="2.1"/><circle cx="1347.9" cy="1542.3" r="2.1"/><circle cx="1350.3" cy="1562.4" r="2.1"/><circle cx="1362" cy="1557.7" r="2.1"/><circle cx="1370.6" cy="1554.9" r="2.1"/><circle cx="1358.7" cy="1515.1" r="2.1"/><circle cx="1370.8" cy="1472.4" r="2.1"/><circle cx="1361.8" cy="1563.4" r="2.1"/><circle cx="1370.4" cy="1515.7" r="2.1"/><circle cx="1363.7" cy="1586.7" r="2.1"/><circle cx="1366.2" cy="1507.1" r="2.1"/><circle cx="1351.9" cy="1612.7" r="2.1"/><circle cx="1371.3" cy="1514.8" r="2.1"/><circle cx="1342.5" cy="1566.3" r="2.1"/><circle cx="1346.9" cy="1521.6" r="2.1"/><circle cx="1350.7" cy="1525.4" r="2.1"/><circle cx="1370.9" cy="1494.2" r="2.1"/><circle cx="1368.7" cy="1565" r="2.1"/><circle cx="1365.6" cy="1513" r="2.1"/><circle cx="1358" cy="1555.1" r="2.1"/><circle cx="1370.9" cy="1538.6" r="2.1"/><circle cx="1352" cy="1565.7" r="2.1"/><circle cx="1364.6" cy="1585.4" r="2.1"/><circle cx="1362.9" cy="1600.6" r="2.1"/><circle cx="1373.1" cy="1628.6" r="2.1"/><circle cx="1353.6" cy="1598.3" r="2.1"/><circle cx="1362.5" cy="1590" r="2.1"/><circle cx="1368.5" cy="1557.1" r="2.1"/><circle cx="1350.1" cy="1528.5" r="2.1"/><circle cx="1369.5" cy="1571.2" r="2.1"/><circle cx="1367" cy="1539.2" r="2.1"/><circle cx="1367.8" cy="1545.1" r="2.1"/><circle cx="1343.3" cy="1562.7" r="2.1"/><circle cx="1362.2" cy="1459.3" r="2.1"/><circle cx="1353.1" cy="1514.2" r="2.1"/><circle cx="1375.4" cy="1603.2" r="2.1"/><circle cx="1349.6" cy="1593.7" r="2.1"/><circle cx="1368.9" cy="1543.9" r="2.1"/><circle cx="1362.9" cy="1589.4" r="2.1"/><circle cx="1371.7" cy="1575.8" r="2.1"/><circle cx="1340.6" cy="1561.9" r="2.1"/><circle cx="1369.1" cy="1559.7" r="2.1"/><circle cx="1372.9" cy="1560.5" r="2.1"/><circle cx="1359.4" cy="1506.6" r="2.1"/><circle cx="1364" cy="1602.8" r="2.1"/><circle cx="1346.3" cy="1535.5" r="2.1"/><circle cx="1354" cy="1546.3" r="2.1"/><circle cx="1369.4" cy="1620.4" r="2.1"/><circle cx="1368.6" cy="1551.7" r="2.1"/>
</g>
<g fill="#ddd76c" fill-opacity="0.55" stroke="#1c1c06" stroke-width="1.5" stroke-opacity="0.9">
<circle cx="1415.8" cy="1584.5" r="2.2"/><circle cx="1414.8" cy="1501.5" r="2.2"/><circle cx="1408.3" cy="1516.4" r="2.2"/><circle cx="1418.5" cy="1496.1" r="2.2"/><circle cx="1400.6" cy="1551.7" r="2.2"/><circle cx="1401.6" cy="1580.9" r="2.2"/><circle cx="1417.9" cy="1555.1" r="2.2"/><circle cx="1421.6" cy="1537" r="2.2"/><circle cx="1405.4" cy="1525.7" r="2.2"/><circle cx="1398.5" cy="1573.3" r="2.2"/><circle cx="1403.8" cy="1536.8" r="2.2"/><circle cx="1418.5" cy="1504.1" r="2.2"/><circle cx="1397.5" cy="1560.3" r="2.2"/><circle cx="1419.2" cy="1511.3" r="2.2"/><circle cx="1422.3" cy="1571.5" r="2.2"/><circle cx="1426.9" cy="1567.7" r="2.2"/><circle cx="1403" cy="1547" r="2.2"/><circle cx="1417.1" cy="1486.3" r="2.2"/><circle cx="1417.4" cy="1477.6" r="2.2"/><circle cx="1418.1" cy="1520.1" r="2.2"/><circle cx="1409.1" cy="1500.5" r="2.2"/><circle cx="1422.8" cy="1531" r="2.2"/><circle cx="1417.2" cy="1598.4" r="2.2"/><circle cx="1422.7" cy="1495.4" r="2.2"/>
</g>
<path d="M1357.8 1356V1353.5H1408.1V1356" stroke="#000" stroke-width="3.4" fill="none"/>
<text x="1383" y="1348.4" font-size="20.4" text-anchor="middle">p = 0.02</text>
<text x="1382.9" y="1696" font-size="20.4" text-anchor="middle">Non−larynx</text>
<line x1="1483.4" y1="1416.7" x2="1483.4" y2="1503.1" stroke="#363636" stroke-width="4"/>
<line x1="1483.4" y1="1572.2" x2="1483.4" y2="1620.6" stroke="#363636" stroke-width="4"/>
<rect x="1461.4" y="1503.1" width="44" height="69.1" fill="#E2E2E2" stroke="#363636" stroke-width="4"/>
<line x1="1461.4" y1="1535.2" x2="1505.4" y2="1535.2" stroke="#363636" stroke-width="8"/>
<line x1="1533.7" y1="1406.8" x2="1533.7" y2="1451.3" stroke="#363636" stroke-width="4"/>
<line x1="1533.7" y1="1525.8" x2="1533.7" y2="1593.1" stroke="#363636" stroke-width="4"/>
<rect x="1511.7" y="1451.3" width="44" height="74.5" fill="#F6F18C" stroke="#363636" stroke-width="4"/>
<line x1="1511.7" y1="1481.2" x2="1555.7" y2="1481.2" stroke="#363636" stroke-width="8"/>
<g fill="#777" fill-opacity="0.3" stroke="#1a1a1a" stroke-width="1.3" stroke-opacity="0.42">
<circle cx="1465.4" cy="1574.9" r="2.1"/><circle cx="1497.5" cy="1471.8" r="2.1"/><circle cx="1467.7" cy="1529" r="2.1"/><circle cx="1484.1" cy="1556.5" r="2.1"/><circle cx="1498.7" cy="1522.6" r="2.1"/><circle cx="1502.1" cy="1577" r="2.1"/><circle cx="1492" cy="1547.5" r="2.1"/><circle cx="1472.1" cy="1515" r="2.1"/><circle cx="1480.3" cy="1436.3" r="2.1"/><circle cx="1470.3" cy="1514.2" r="2.1"/><circle cx="1490" cy="1469.2" r="2.1"/><circle cx="1491.4" cy="1496.9" r="2.1"/><circle cx="1498" cy="1392" r="2.1"/><circle cx="1481.1" cy="1531.5" r="2.1"/><circle cx="1497.7" cy="1513" r="2.1"/><circle cx="1475.6" cy="1567" r="2.1"/><circle cx="1481.7" cy="1579.9" r="2.1"/><circle cx="1489.7" cy="1423.9" r="2.1"/><circle cx="1476.2" cy="1616.9" r="2.1"/><circle cx="1502.1" cy="1487.1" r="2.1"/><circle cx="1482" cy="1600.3" r="2.1"/><circle cx="1491.1" cy="1493.8" r="2.1"/><circle cx="1492.9" cy="1592.1" r="2.1"/><circle cx="1484.3" cy="1562.8" r="2.1"/><circle cx="1480.8" cy="1557.3" r="2.1"/><circle cx="1497.5" cy="1534.7" r="2.1"/><circle cx="1469.8" cy="1541.7" r="2.1"/><circle cx="1501.2" cy="1577.6" r="2.1"/><circle cx="1494.6" cy="1528.9" r="2.1"/><circle cx="1482.7" cy="1552.8" r="2.1"/><circle cx="1468.5" cy="1589" r="2.1"/><circle cx="1500.7" cy="1575.1" r="2.1"/><circle cx="1491.6" cy="1570.5" r="2.1"/><circle cx="1469" cy="1571.7" r="2.1"/><circle cx="1474.9" cy="1533" r="2.1"/><circle cx="1488.6" cy="1500.1" r="2.1"/><circle cx="1465.8" cy="1548.6" r="2.1"/><circle cx="1472.4" cy="1526.6" r="2.1"/><circle cx="1494.5" cy="1523.5" r="2.1"/><circle cx="1483.6" cy="1559.3" r="2.1"/><circle cx="1472.7" cy="1581.6" r="2.1"/><circle cx="1492" cy="1584.3" r="2.1"/><circle cx="1487.3" cy="1553.5" r="2.1"/><circle cx="1486.3" cy="1485.8" r="2.1"/><circle cx="1478.6" cy="1504.5" r="2.1"/><circle cx="1487.3" cy="1366.6" r="2.1"/><circle cx="1480" cy="1509" r="2.1"/><circle cx="1499.7" cy="1568.1" r="2.1"/><circle cx="1486.8" cy="1505.5" r="2.1"/><circle cx="1484.5" cy="1536.2" r="2.1"/><circle cx="1488.7" cy="1488.8" r="2.1"/><circle cx="1501.1" cy="1500.9" r="2.1"/><circle cx="1496.4" cy="1490.7" r="2.1"/><circle cx="1471.6" cy="1579.6" r="2.1"/><circle cx="1485.4" cy="1462.9" r="2.1"/><circle cx="1477.3" cy="1573" r="2.1"/><circle cx="1484.6" cy="1539.6" r="2.1"/><circle cx="1473.6" cy="1448" r="2.1"/><circle cx="1501.1" cy="1543" r="2.1"/><circle cx="1499.4" cy="1594.5" r="2.1"/><circle cx="1467.4" cy="1519.8" r="2.1"/><circle cx="1493.4" cy="1519.1" r="2.1"/><circle cx="1475" cy="1494.3" r="2.1"/><circle cx="1464.4" cy="1503.6" r="2.1"/><circle cx="1484.6" cy="1583.9" r="2.1"/><circle cx="1480.3" cy="1596.4" r="2.1"/><circle cx="1481.5" cy="1460.1" r="2.1"/><circle cx="1481.4" cy="1478.2" r="2.1"/><circle cx="1489.5" cy="1511.4" r="2.1"/><circle cx="1467.8" cy="1550" r="2.1"/><circle cx="1485.4" cy="1565.5" r="2.1"/><circle cx="1474.9" cy="1480.3" r="2.1"/><circle cx="1496.9" cy="1545.1" r="2.1"/><circle cx="1481.5" cy="1525.2" r="2.1"/><circle cx="1498.1" cy="1586.8" r="2.1"/><circle cx="1464.6" cy="1483.1" r="2.1"/><circle cx="1467.7" cy="1590.7" r="2.1"/><circle cx="1491.1" cy="1517.7" r="2.1"/><circle cx="1496.9" cy="1582.8" r="2.1"/><circle cx="1467.8" cy="1537.7" r="2.1"/><circle cx="1465.4" cy="1466.7" r="2.1"/><circle cx="1485.3" cy="1562" r="2.1"/><circle cx="1478.7" cy="1507.8" r="2.1"/><circle cx="1496.5" cy="1606.9" r="2.1"/>
</g>
<g fill="#ddd76c" fill-opacity="0.55" stroke="#1c1c06" stroke-width="1.5" stroke-opacity="0.9">
<circle cx="1525.7" cy="1544.9" r="2.2"/><circle cx="1547.4" cy="1443.1" r="2.2"/><circle cx="1542.9" cy="1515.3" r="2.2"/><circle cx="1542.6" cy="1555.8" r="2.2"/><circle cx="1541.3" cy="1436.3" r="2.2"/><circle cx="1538.1" cy="1454.8" r="2.2"/><circle cx="1526.4" cy="1425.2" r="2.2"/><circle cx="1536.9" cy="1458.3" r="2.2"/><circle cx="1551.2" cy="1520.7" r="2.2"/><circle cx="1515.1" cy="1527.6" r="2.2"/><circle cx="1516.1" cy="1462.6" r="2.2"/><circle cx="1535.5" cy="1542.3" r="2.2"/><circle cx="1531.9" cy="1532.2" r="2.2"/><circle cx="1515.7" cy="1466.5" r="2.2"/><circle cx="1549.8" cy="1490" r="2.2"/><circle cx="1528.2" cy="1431.9" r="2.2"/><circle cx="1527.6" cy="1567.7" r="2.2"/><circle cx="1536.3" cy="1450.6" r="2.2"/><circle cx="1518.1" cy="1480.7" r="2.2"/><circle cx="1524" cy="1470.7" r="2.2"/><circle cx="1526.9" cy="1446.1" r="2.2"/><circle cx="1519.7" cy="1501.4" r="2.2"/><circle cx="1543.2" cy="1442.4" r="2.2"/><circle cx="1535.9" cy="1478.5" r="2.2"/><circle cx="1549.4" cy="1538.2" r="2.2"/><circle cx="1532.3" cy="1508.5" r="2.2"/><circle cx="1544" cy="1497.6" r="2.2"/>
</g>
<path d="M1483.4 1356V1353.5H1533.7V1356" stroke="#000" stroke-width="3.4" fill="none"/>
<text x="1508.6" y="1348.4" font-size="20.4" text-anchor="middle">p = 0.00061</text>
<text x="1508.5" y="1696" font-size="20.4" text-anchor="middle">Larynx</text>
<path d="M1257.3 1671.7v1.7M1382.9 1671.7v1.7M1508.5 1671.7v1.7" stroke="#333" stroke-width="3.2" fill="none"/>
<text x="1607.8" y="1216.5" font-size="33" font-weight="bold">h</text>
<text x="1897" y="1274.3" font-size="24.6" text-anchor="middle">Mucinous LUAD and Classical</text>
<text x="1897" y="1303.2" font-size="24.6" text-anchor="middle">PDAC signatures in HNSC</text>
<text x="1625" y="1493" font-size="28.5" text-anchor="middle" transform="rotate(-90 1625 1493)">Gene set score</text>
<rect x="1665.2" y="1320.7" width="433.6" height="344.3" fill="#fff" stroke="#000" stroke-width="4.4"/>
<text x="1655.6" y="1436" font-size="20.4" text-anchor="end">2</text>
<text x="1655.6" y="1548.7" font-size="20.4" text-anchor="end">0</text>
<text x="1655.6" y="1661.4" font-size="20.4" text-anchor="end">−2</text>
<path d="M1663 1430.6h-3.3M1663 1543.3h-3.3M1663 1656h-3.3" stroke="#333" stroke-width="4" fill="none"/>
<line x1="1708.3" y1="1483" x2="1708.3" y2="1523.6" stroke="#363636" stroke-width="4.6"/>
<line x1="1708.3" y1="1554.6" x2="1708.3" y2="1591.2" stroke="#363636" stroke-width="4.6"/>
<rect x="1680.5" y="1523.6" width="55.6" height="31" fill="#E2E2E2" stroke="#363636" stroke-width="4.6"/>
<line x1="1680.5" y1="1538.8" x2="1736.1" y2="1538.8" stroke="#363636" stroke-width="8.8"/>
<line x1="1772.3" y1="1493.7" x2="1772.3" y2="1525" stroke="#363636" stroke-width="4.6"/>
<line x1="1772.3" y1="1550.9" x2="1772.3" y2="1563.6" stroke="#363636" stroke-width="4.6"/>
<rect x="1744.5" y="1525" width="55.6" height="25.9" fill="#F6F18C" stroke="#363636" stroke-width="4.6"/>
<line x1="1744.5" y1="1537.8" x2="1800.1" y2="1537.8" stroke="#363636" stroke-width="8.8"/>
<g fill="#777" fill-opacity="0.25" stroke="#1a1a1a" stroke-width="1.4" stroke-opacity="0.42">
<circle cx="1715.1" cy="1515.6" r="2.5"/><circle cx="1693.2" cy="1547.5" r="2.5"/><circle cx="1698.9" cy="1578.7" r="2.5"/><circle cx="1701" cy="1562.8" r="2.5"/><circle cx="1704.3" cy="1508" r="2.5"/><circle cx="1715.1" cy="1571.2" r="2.5"/><circle cx="1726.8" cy="1568.6" r="2.5"/><circle cx="1688.2" cy="1528.8" r="2.5"/><circle cx="1725.3" cy="1513.6" r="2.5"/><circle cx="1696.5" cy="1538" r="2.5"/><circle cx="1689.5" cy="1520.4" r="2.5"/><circle cx="1727.7" cy="1521" r="2.5"/><circle cx="1731.5" cy="1544.6" r="2.5"/><circle cx="1709.7" cy="1527.4" r="2.5"/><circle cx="1711" cy="1572.7" r="2.5"/><circle cx="1686.3" cy="1537.5" r="2.5"/><circle cx="1686.9" cy="1516" r="2.5"/><circle cx="1692.8" cy="1551" r="2.5"/><circle cx="1724.6" cy="1499.2" r="2.5"/><circle cx="1688.1" cy="1546.9" r="2.5"/><circle cx="1722" cy="1562.3" r="2.5"/><circle cx="1717.2" cy="1555.9" r="2.5"/><circle cx="1688" cy="1568.5" r="2.5"/><circle cx="1687" cy="1562.6" r="2.5"/><circle cx="1723.9" cy="1525.4" r="2.5"/><circle cx="1700.6" cy="1545.8" r="2.5"/><circle cx="1720.6" cy="1550.8" r="2.5"/><circle cx="1689.6" cy="1547" r="2.5"/><circle cx="1692.5" cy="1540.6" r="2.5"/><circle cx="1713.7" cy="1553.8" r="2.5"/><circle cx="1709.5" cy="1574.6" r="2.5"/><circle cx="1722.7" cy="1523.7" r="2.5"/><circle cx="1700.2" cy="1558.1" r="2.5"/><circle cx="1692.3" cy="1569.2" r="2.5"/><circle cx="1704.4" cy="1566.1" r="2.5"/><circle cx="1686.3" cy="1529.4" r="2.5"/><circle cx="1732.1" cy="1558.4" r="2.5"/><circle cx="1717.4" cy="1514.6" r="2.5"/><circle cx="1713.4" cy="1532.2" r="2.5"/><circle cx="1710.2" cy="1518.8" r="2.5"/><circle cx="1732.3" cy="1544.6" r="2.5"/><circle cx="1720.1" cy="1539.9" r="2.5"/><circle cx="1705.2" cy="1524.6" r="2.5"/><circle cx="1716.4" cy="1556.2" r="2.5"/><circle cx="1702.5" cy="1492.5" r="2.5"/><circle cx="1715.9" cy="1503.6" r="2.5"/><circle cx="1710.4" cy="1514.3" r="2.5"/><circle cx="1708.2" cy="1539" r="2.5"/><circle cx="1686.3" cy="1546.1" r="2.5"/><circle cx="1722.6" cy="1493.1" r="2.5"/><circle cx="1726.6" cy="1531.8" r="2.5"/><circle cx="1710.4" cy="1538.8" r="2.5"/><circle cx="1693.6" cy="1504.8" r="2.5"/><circle cx="1693" cy="1561.9" r="2.5"/><circle cx="1705.9" cy="1553.3" r="2.5"/><circle cx="1702.3" cy="1534.9" r="2.5"/><circle cx="1721" cy="1516.9" r="2.5"/><circle cx="1696.5" cy="1535.3" r="2.5"/><circle cx="1688.4" cy="1528.2" r="2.5"/><circle cx="1692" cy="1545.4" r="2.5"/><circle cx="1720.4" cy="1516.1" r="2.5"/><circle cx="1721.7" cy="1558.4" r="2.5"/><circle cx="1697.2" cy="1565.3" r="2.5"/><circle cx="1717" cy="1581.6" r="2.5"/><circle cx="1727.2" cy="1545.6" r="2.5"/><circle cx="1703.8" cy="1529" r="2.5"/><circle cx="1725.8" cy="1565.6" r="2.5"/><circle cx="1718.2" cy="1553.6" r="2.5"/><circle cx="1729" cy="1544.1" r="2.5"/><circle cx="1690.2" cy="1489.2" r="2.5"/><circle cx="1720.5" cy="1540.9" r="2.5"/><circle cx="1704.9" cy="1548" r="2.5"/><circle cx="1715.9" cy="1548.6" r="2.5"/><circle cx="1696.5" cy="1522.4" r="2.5"/><circle cx="1709.6" cy="1521.6" r="2.5"/><circle cx="1723" cy="1543.9" r="2.5"/><circle cx="1699.9" cy="1536" r="2.5"/><circle cx="1712" cy="1498" r="2.5"/><circle cx="1693.4" cy="1511.8" r="2.5"/><circle cx="1714.3" cy="1560" r="2.5"/><circle cx="1698.8" cy="1543.3" r="2.5"/><circle cx="1719.7" cy="1556.6" r="2.5"/><circle cx="1718.8" cy="1547.8" r="2.5"/><circle cx="1706.8" cy="1565.9" r="2.5"/><circle cx="1689.7" cy="1557" r="2.5"/><circle cx="1700.2" cy="1531.5" r="2.5"/><circle cx="1703.1" cy="1519.7" r="2.5"/><circle cx="1713" cy="1466.7" r="2.5"/><circle cx="1694.8" cy="1543.6" r="2.5"/><circle cx="1698.4" cy="1575.7" r="2.5"/><circle cx="1699.2" cy="1572.7" r="2.5"/><circle cx="1695.8" cy="1525.3" r="2.5"/><circle cx="1697.3" cy="1522.2" r="2.5"/><circle cx="1715.9" cy="1553" r="2.5"/><circle cx="1698.3" cy="1547.9" r="2.5"/><circle cx="1688.3" cy="1505.3" r="2.5"/><circle cx="1698" cy="1550.2" r="2.5"/><circle cx="1700.1" cy="1561.5" r="2.5"/><circle cx="1711.6" cy="1487.3" r="2.5"/><circle cx="1713" cy="1560" r="2.5"/><circle cx="1710" cy="1551.5" r="2.5"/><circle cx="1692.3" cy="1542" r="2.5"/><circle cx="1691.1" cy="1549.2" r="2.5"/><circle cx="1697.7" cy="1549.8" r="2.5"/><circle cx="1716" cy="1579.5" r="2.5"/><circle cx="1729.8" cy="1533" r="2.5"/><circle cx="1692.9" cy="1542.3" r="2.5"/><circle cx="1698.8" cy="1514.9" r="2.5"/><circle cx="1704.5" cy="1538.8" r="2.5"/><circle cx="1691.6" cy="1516.4" r="2.5"/><circle cx="1685.6" cy="1577.1" r="2.5"/><circle cx="1725.4" cy="1588.8" r="2.5"/><circle cx="1691.1" cy="1554.4" r="2.5"/><circle cx="1721.2" cy="1549.4" r="2.5"/><circle cx="1724" cy="1528.4" r="2.5"/><circle cx="1685.6" cy="1545.9" r="2.5"/><circle cx="1720.9" cy="1578.3" r="2.5"/><circle cx="1693.7" cy="1514" r="2.5"/><circle cx="1693.3" cy="1607" r="2.5"/><circle cx="1706.1" cy="1472.9" r="2.5"/><circle cx="1694.6" cy="1526.4" r="2.5"/><circle cx="1693.2" cy="1530.8" r="2.5"/><circle cx="1722.9" cy="1502.1" r="2.5"/><circle cx="1685.5" cy="1526.7" r="2.5"/><circle cx="1692.3" cy="1504.7" r="2.5"/><circle cx="1716.9" cy="1536.4" r="2.5"/><circle cx="1732" cy="1506.5" r="2.5"/><circle cx="1684.5" cy="1549.7" r="2.5"/><circle cx="1703.9" cy="1519.9" r="2.5"/><circle cx="1692.3" cy="1526" r="2.5"/><circle cx="1728" cy="1570.6" r="2.5"/><circle cx="1699.2" cy="1515.4" r="2.5"/><circle cx="1717.3" cy="1553.2" r="2.5"/><circle cx="1715.6" cy="1561.6" r="2.5"/><circle cx="1688.2" cy="1539.2" r="2.5"/><circle cx="1688.6" cy="1556.9" r="2.5"/><circle cx="1714.4" cy="1554.3" r="2.5"/><circle cx="1695.6" cy="1543.8" r="2.5"/><circle cx="1686.9" cy="1525.7" r="2.5"/><circle cx="1720" cy="1546.8" r="2.5"/><circle cx="1710.4" cy="1570.1" r="2.5"/><circle cx="1729" cy="1537.6" r="2.5"/><circle cx="1687.6" cy="1531.3" r="2.5"/><circle cx="1709" cy="1521.7" r="2.5"/><circle cx="1695.4" cy="1548.3" r="2.5"/><circle cx="1687.2" cy="1559.9" r="2.5"/><circle cx="1692.5" cy="1511.5" r="2.5"/><circle cx="1714" cy="1561.1" r="2.5"/><circle cx="1688.8" cy="1530.1" r="2.5"/><circle cx="1684.5" cy="1582.5" r="2.5"/><circle cx="1721.7" cy="1536.9" r="2.5"/><circle cx="1721.1" cy="1520.6" r="2.5"/><circle cx="1692.5" cy="1568.9" r="2.5"/><circle cx="1714.7" cy="1536.1" r="2.5"/><circle cx="1701.8" cy="1489.2" r="2.5"/><circle cx="1688.7" cy="1554" r="2.5"/><circle cx="1689.1" cy="1564.2" r="2.5"/><circle cx="1689.8" cy="1530.6" r="2.5"/><circle cx="1689.5" cy="1534.4" r="2.5"/><circle cx="1716.8" cy="1509.6" r="2.5"/><circle cx="1712.1" cy="1520" r="2.5"/><circle cx="1689.3" cy="1567" r="2.5"/><circle cx="1718.2" cy="1532.5" r="2.5"/><circle cx="1690.7" cy="1530" r="2.5"/><circle cx="1699" cy="1528.5" r="2.5"/><circle cx="1696.9" cy="1524.9" r="2.5"/><circle cx="1726.2" cy="1533.9" r="2.5"/><circle cx="1708.1" cy="1540.9" r="2.5"/><circle cx="1685.4" cy="1536.3" r="2.5"/><circle cx="1728.9" cy="1548.6" r="2.5"/><circle cx="1722.4" cy="1512.6" r="2.5"/><circle cx="1710.9" cy="1537.1" r="2.5"/><circle cx="1730.1" cy="1541.4" r="2.5"/><circle cx="1709.9" cy="1564.9" r="2.5"/><circle cx="1724.4" cy="1573.6" r="2.5"/><circle cx="1718" cy="1538.2" r="2.5"/><circle cx="1731.9" cy="1584.9" r="2.5"/><circle cx="1703.9" cy="1523.1" r="2.5"/><circle cx="1705.6" cy="1561.3" r="2.5"/><circle cx="1701.9" cy="1556.6" r="2.5"/><circle cx="1718.6" cy="1512.3" r="2.5"/><circle cx="1728.8" cy="1563.3" r="2.5"/><circle cx="1696.9" cy="1543.1" r="2.5"/><circle cx="1714.4" cy="1560.3" r="2.5"/><circle cx="1700" cy="1507" r="2.5"/><circle cx="1730.8" cy="1542.2" r="2.5"/><circle cx="1729.2" cy="1535.4" r="2.5"/><circle cx="1730.5" cy="1508.6" r="2.5"/><circle cx="1717.4" cy="1543.7" r="2.5"/><circle cx="1692" cy="1530.4" r="2.5"/><circle cx="1692.7" cy="1522.8" r="2.5"/><circle cx="1697" cy="1525.5" r="2.5"/><circle cx="1725.3" cy="1551.7" r="2.5"/><circle cx="1715.1" cy="1515.7" r="2.5"/><circle cx="1689.8" cy="1583.7" r="2.5"/><circle cx="1686.6" cy="1554.8" r="2.5"/><circle cx="1713.9" cy="1513.5" r="2.5"/><circle cx="1731" cy="1549.1" r="2.5"/><circle cx="1704" cy="1517" r="2.5"/><circle cx="1714.6" cy="1534.2" r="2.5"/><circle cx="1725.2" cy="1558.6" r="2.5"/><circle cx="1723.3" cy="1562.9" r="2.5"/><circle cx="1687" cy="1556.3" r="2.5"/><circle cx="1708.2" cy="1513.8" r="2.5"/><circle cx="1703.6" cy="1505.7" r="2.5"/><circle cx="1690.9" cy="1490.6" r="2.5"/><circle cx="1727.5" cy="1559.3" r="2.5"/><circle cx="1723.7" cy="1559.6" r="2.5"/><circle cx="1723.6" cy="1563.2" r="2.5"/><circle cx="1709.7" cy="1535.6" r="2.5"/><circle cx="1721.1" cy="1527.6" r="2.5"/><circle cx="1708.8" cy="1517.5" r="2.5"/><circle cx="1720" cy="1531.7" r="2.5"/><circle cx="1704" cy="1525.1" r="2.5"/><circle cx="1724.2" cy="1526.2" r="2.5"/><circle cx="1699.1" cy="1510.7" r="2.5"/><circle cx="1732.2" cy="1542.5" r="2.5"/><circle cx="1730.8" cy="1550" r="2.5"/><circle cx="1729.3" cy="1542" r="2.5"/><circle cx="1695.8" cy="1506.4" r="2.5"/><circle cx="1707.9" cy="1566.8" r="2.5"/><circle cx="1694.2" cy="1542.6" r="2.5"/><circle cx="1698" cy="1533.1" r="2.5"/><circle cx="1690.3" cy="1535.8" r="2.5"/><circle cx="1709.5" cy="1649.2" r="2.5"/><circle cx="1699.4" cy="1527.1" r="2.5"/><circle cx="1711.8" cy="1511.1" r="2.5"/><circle cx="1689.9" cy="1548.9" r="2.5"/><circle cx="1704.5" cy="1499.6" r="2.5"/><circle cx="1703.2" cy="1552.6" r="2.5"/><circle cx="1729.5" cy="1554.6" r="2.5"/><circle cx="1726.2" cy="1505.1" r="2.5"/><circle cx="1724.5" cy="1521.1" r="2.5"/><circle cx="1709.7" cy="1536.8" r="2.5"/><circle cx="1716.8" cy="1540.5" r="2.5"/><circle cx="1698" cy="1550.5" r="2.5"/><circle cx="1709.2" cy="1563.5" r="2.5"/><circle cx="1728.2" cy="1540.1" r="2.5"/><circle cx="1685.5" cy="1510" r="2.5"/><circle cx="1686.6" cy="1537.1" r="2.5"/><circle cx="1708.8" cy="1519.4" r="2.5"/><circle cx="1697.9" cy="1552.9" r="2.5"/><circle cx="1685.7" cy="1571.9" r="2.5"/><circle cx="1727.7" cy="1546.4" r="2.5"/><circle cx="1693.9" cy="1500.8" r="2.5"/><circle cx="1702.6" cy="1558.7" r="2.5"/><circle cx="1719.9" cy="1525" r="2.5"/><circle cx="1719.6" cy="1643.6" r="2.5"/><circle cx="1727.7" cy="1563.6" r="2.5"/><circle cx="1721.7" cy="1587" r="2.5"/><circle cx="1697.6" cy="1526.1" r="2.5"/><circle cx="1693.7" cy="1544.8" r="2.5"/><circle cx="1707.7" cy="1561.7" r="2.5"/><circle cx="1712.8" cy="1533.7" r="2.5"/><circle cx="1704.1" cy="1548.8" r="2.5"/><circle cx="1723.9" cy="1549.7" r="2.5"/><circle cx="1731.9" cy="1566.3" r="2.5"/><circle cx="1705.5" cy="1541.2" r="2.5"/><circle cx="1706" cy="1557.3" r="2.5"/><circle cx="1698.6" cy="1532.1" r="2.5"/><circle cx="1698.5" cy="1533.6" r="2.5"/><circle cx="1725.9" cy="1538.1" r="2.5"/><circle cx="1697.4" cy="1558.2" r="2.5"/><circle cx="1687.6" cy="1484.3" r="2.5"/><circle cx="1721.5" cy="1519.1" r="2.5"/><circle cx="1707.9" cy="1546.6" r="2.5"/><circle cx="1732" cy="1538.6" r="2.5"/><circle cx="1721" cy="1501.2" r="2.5"/><circle cx="1695.6" cy="1503.2" r="2.5"/><circle cx="1691.2" cy="1497.3" r="2.5"/><circle cx="1692.6" cy="1528.2" r="2.5"/><circle cx="1718" cy="1527.9" r="2.5"/><circle cx="1701.9" cy="1566.5" r="2.5"/><circle cx="1705.4" cy="1545" r="2.5"/><circle cx="1709.9" cy="1514.4" r="2.5"/><circle cx="1708.1" cy="1524.5" r="2.5"/><circle cx="1715.4" cy="1577.8" r="2.5"/><circle cx="1708.2" cy="1545.1" r="2.5"/><circle cx="1701.5" cy="1542.9" r="2.5"/><circle cx="1694.5" cy="1512.8" r="2.5"/><circle cx="1710.4" cy="1516.8" r="2.5"/><circle cx="1688.1" cy="1508.3" r="2.5"/><circle cx="1701.1" cy="1528.9" r="2.5"/><circle cx="1704.4" cy="1560.5" r="2.5"/><circle cx="1687.5" cy="1533.8" r="2.5"/><circle cx="1712.8" cy="1531.3" r="2.5"/><circle cx="1712.2" cy="1544.2" r="2.5"/><circle cx="1694.1" cy="1532.7" r="2.5"/><circle cx="1703.7" cy="1514.2" r="2.5"/><circle cx="1705.5" cy="1536.6" r="2.5"/><circle cx="1712.9" cy="1521.3" r="2.5"/><circle cx="1686.1" cy="1541.5" r="2.5"/><circle cx="1686.9" cy="1553.5" r="2.5"/><circle cx="1725.5" cy="1561.1" r="2.5"/><circle cx="1693.2" cy="1554.7" r="2.5"/><circle cx="1691.3" cy="1551.1" r="2.5"/><circle cx="1717.1" cy="1527.4" r="2.5"/><circle cx="1712.5" cy="1530.9" r="2.5"/><circle cx="1702.7" cy="1552.2" r="2.5"/><circle cx="1731.9" cy="1518.7" r="2.5"/><circle cx="1698.3" cy="1492.2" r="2.5"/><circle cx="1719.8" cy="1537.9" r="2.5"/><circle cx="1731.6" cy="1540.7" r="2.5"/><circle cx="1727.5" cy="1556" r="2.5"/><circle cx="1686" cy="1555.4" r="2.5"/><circle cx="1701.9" cy="1523.9" r="2.5"/><circle cx="1724.8" cy="1553" r="2.5"/><circle cx="1727.4" cy="1567.8" r="2.5"/><circle cx="1708.8" cy="1562" r="2.5"/><circle cx="1731.9" cy="1569.6" r="2.5"/><circle cx="1697.9" cy="1493.9" r="2.5"/><circle cx="1699.6" cy="1564.4" r="2.5"/><circle cx="1693.6" cy="1571.8" r="2.5"/><circle cx="1726.8" cy="1519.6" r="2.5"/><circle cx="1686" cy="1542.8" r="2.5"/><circle cx="1729.4" cy="1532.4" r="2.5"/><circle cx="1716.5" cy="1523.2" r="2.5"/><circle cx="1721.5" cy="1532" r="2.5"/><circle cx="1719.4" cy="1529.8" r="2.5"/><circle cx="1715" cy="1496.1" r="2.5"/><circle cx="1693.4" cy="1534" r="2.5"/><circle cx="1694.8" cy="1518.3" r="2.5"/><circle cx="1713.9" cy="1540.1" r="2.5"/><circle cx="1717.7" cy="1563.7" r="2.5"/><circle cx="1685.7" cy="1534.3" r="2.5"/><circle cx="1694.4" cy="1544.9" r="2.5"/><circle cx="1709.5" cy="1572.2" r="2.5"/><circle cx="1727.5" cy="1544.3" r="2.5"/><circle cx="1695.1" cy="1521.4" r="2.5"/><circle cx="1692.7" cy="1551.2" r="2.5"/><circle cx="1709.5" cy="1502.8" r="2.5"/><circle cx="1725.1" cy="1536.6" r="2.5"/><circle cx="1712.6" cy="1509.1" r="2.5"/><circle cx="1712.1" cy="1550.3" r="2.5"/><circle cx="1728.6" cy="1567.4" r="2.5"/><circle cx="1709.5" cy="1517.3" r="2.5"/><circle cx="1730.3" cy="1518.9" r="2.5"/><circle cx="1703.9" cy="1543.1" r="2.5"/><circle cx="1694.8" cy="1559.2" r="2.5"/><circle cx="1708.7" cy="1531" r="2.5"/><circle cx="1684.7" cy="1545.3" r="2.5"/><circle cx="1719.3" cy="1555.5" r="2.5"/><circle cx="1709.5" cy="1548.3" r="2.5"/><circle cx="1714.8" cy="1552" r="2.5"/><circle cx="1724.5" cy="1521.9" r="2.5"/><circle cx="1719.1" cy="1543.4" r="2.5"/><circle cx="1714.1" cy="1523" r="2.5"/><circle cx="1725.7" cy="1531.9" r="2.5"/><circle cx="1714.9" cy="1562.3" r="2.5"/><circle cx="1724" cy="1570.7" r="2.5"/><circle cx="1719" cy="1557.5" r="2.5"/><circle cx="1717.2" cy="1554" r="2.5"/><circle cx="1712.4" cy="1524.7" r="2.5"/><circle cx="1721.1" cy="1545.9" r="2.5"/><circle cx="1725.1" cy="1567.6" r="2.5"/><circle cx="1715.5" cy="1522" r="2.5"/><circle cx="1707.2" cy="1557.7" r="2.5"/><circle cx="1731.1" cy="1529.3" r="2.5"/><circle cx="1685.8" cy="1557.6" r="2.5"/><circle cx="1684.6" cy="1548.2" r="2.5"/><circle cx="1704" cy="1535.1" r="2.5"/><circle cx="1695.1" cy="1547.4" r="2.5"/><circle cx="1696.3" cy="1523.6" r="2.5"/><circle cx="1686.8" cy="1516.3" r="2.5"/><circle cx="1719.8" cy="1515.3" r="2.5"/><circle cx="1684.7" cy="1581" r="2.5"/><circle cx="1699" cy="1475.7" r="2.5"/><circle cx="1731.2" cy="1533.4" r="2.5"/><circle cx="1718.1" cy="1583.1" r="2.5"/><circle cx="1690.5" cy="1530.7" r="2.5"/><circle cx="1687.3" cy="1530.3" r="2.5"/><circle cx="1692.2" cy="1506" r="2.5"/><circle cx="1690" cy="1551.6" r="2.5"/><circle cx="1694.1" cy="1524" r="2.5"/><circle cx="1689.6" cy="1509.4" r="2.5"/><circle cx="1686.1" cy="1520.8" r="2.5"/><circle cx="1691.2" cy="1532.9" r="2.5"/><circle cx="1730.6" cy="1519.2" r="2.5"/><circle cx="1701.3" cy="1524.3" r="2.5"/><circle cx="1721.1" cy="1555" r="2.5"/><circle cx="1724.1" cy="1535" r="2.5"/><circle cx="1728.6" cy="1541.1" r="2.5"/><circle cx="1718.7" cy="1563.9" r="2.5"/><circle cx="1727.2" cy="1571.4" r="2.5"/><circle cx="1722.1" cy="1541.8" r="2.5"/><circle cx="1695.8" cy="1529.5" r="2.5"/><circle cx="1692.7" cy="1518.4" r="2.5"/><circle cx="1718.4" cy="1549.4" r="2.5"/><circle cx="1694.3" cy="1494.9" r="2.5"/><circle cx="1706.9" cy="1513" r="2.5"/><circle cx="1695.1" cy="1529.1" r="2.5"/><circle cx="1720.4" cy="1547.5" r="2.5"/><circle cx="1691.9" cy="1515.1" r="2.5"/><circle cx="1716.2" cy="1518.2" r="2.5"/><circle cx="1720.6" cy="1558.9" r="2.5"/><circle cx="1722.6" cy="1527.7" r="2.5"/><circle cx="1705" cy="1538.4" r="2.5"/><circle cx="1708.3" cy="1576" r="2.5"/><circle cx="1685.7" cy="1555.2" r="2.5"/><circle cx="1705.7" cy="1534.6" r="2.5"/><circle cx="1691.2" cy="1524.1" r="2.5"/><circle cx="1709.3" cy="1550.7" r="2.5"/><circle cx="1687" cy="1509" r="2.5"/><circle cx="1695.7" cy="1511" r="2.5"/><circle cx="1702.4" cy="1564.8" r="2.5"/><circle cx="1704.1" cy="1517.9" r="2.5"/><circle cx="1712.9" cy="1510.4" r="2.5"/><circle cx="1719.4" cy="1555.8" r="2.5"/><circle cx="1723.9" cy="1507.5" r="2.5"/><circle cx="1699.8" cy="1524.4" r="2.5"/><circle cx="1687.1" cy="1560.4" r="2.5"/><circle cx="1729.3" cy="1551.9" r="2.5"/><circle cx="1712.6" cy="1560.7" r="2.5"/><circle cx="1730.5" cy="1569.9" r="2.5"/><circle cx="1728.5" cy="1527" r="2.5"/><circle cx="1731.2" cy="1496.4" r="2.5"/><circle cx="1708.1" cy="1503.9" r="2.5"/><circle cx="1700.5" cy="1537.3" r="2.5"/><circle cx="1684.3" cy="1559" r="2.5"/><circle cx="1705.1" cy="1535.8" r="2.5"/><circle cx="1729.7" cy="1559.5" r="2.5"/><circle cx="1707.5" cy="1516.6" r="2.5"/><circle cx="1709.3" cy="1526.6" r="2.5"/><circle cx="1724.1" cy="1525.7" r="2.5"/><circle cx="1689.2" cy="1539.6" r="2.5"/><circle cx="1711.4" cy="1555.3" r="2.5"/><circle cx="1689.5" cy="1470" r="2.5"/><circle cx="1721.9" cy="1528.7" r="2.5"/><circle cx="1718.2" cy="1507.8" r="2.5"/><circle cx="1719.6" cy="1605.3" r="2.5"/><circle cx="1692.2" cy="1560.9" r="2.5"/><circle cx="1712.7" cy="1527.9" r="2.5"/><circle cx="1731.6" cy="1539.3" r="2.5"/><circle cx="1690.7" cy="1517.6" r="2.5"/><circle cx="1719.3" cy="1526.9" r="2.5"/><circle cx="1716.5" cy="1529.9" r="2.5"/><circle cx="1720" cy="1523.4" r="2.5"/><circle cx="1685.1" cy="1520.3" r="2.5"/><circle cx="1724.9" cy="1517.8" r="2.5"/><circle cx="1694.8" cy="1584.5" r="2.5"/><circle cx="1690.9" cy="1625" r="2.5"/><circle cx="1695.5" cy="1533.2" r="2.5"/><circle cx="1721.3" cy="1522.6" r="2.5"/><circle cx="1688.3" cy="1527.1" r="2.5"/><circle cx="1722.3" cy="1580.1" r="2.5"/><circle cx="1701.5" cy="1552.4" r="2.5"/><circle cx="1710" cy="1557.2" r="2.5"/><circle cx="1728.4" cy="1547.1" r="2.5"/><circle cx="1704.3" cy="1541.6" r="2.5"/><circle cx="1694.4" cy="1534.8" r="2.5"/><circle cx="1717.1" cy="1535.5" r="2.5"/><circle cx="1695.7" cy="1507.2" r="2.5"/><circle cx="1695.6" cy="1529.7" r="2.5"/><circle cx="1703.1" cy="1526" r="2.5"/><circle cx="1730.1" cy="1537.6" r="2.5"/><circle cx="1729" cy="1540.4" r="2.5"/><circle cx="1702.7" cy="1574" r="2.5"/><circle cx="1729.7" cy="1569.5" r="2.5"/><circle cx="1696.6" cy="1590.5" r="2.5"/><circle cx="1699.8" cy="1539.7" r="2.5"/><circle cx="1709.3" cy="1550.2" r="2.5"/><circle cx="1713.1" cy="1554.1" r="2.5"/><circle cx="1692.2" cy="1546.5" r="2.5"/><circle cx="1724.8" cy="1539.7" r="2.5"/><circle cx="1721.8" cy="1491" r="2.5"/><circle cx="1711.1" cy="1538.3" r="2.5"/><circle cx="1730.3" cy="1562.6" r="2.5"/><circle cx="1709.6" cy="1539.4" r="2.5"/><circle cx="1689.5" cy="1511.9" r="2.5"/><circle cx="1730.9" cy="1551.3" r="2.5"/><circle cx="1695.4" cy="1546.2" r="2.5"/><circle cx="1727.1" cy="1557.9" r="2.5"/><circle cx="1688.5" cy="1504.2" r="2.5"/><circle cx="1714.8" cy="1571.1" r="2.5"/><circle cx="1686" cy="1552.5" r="2.5"/><circle cx="1706.7" cy="1514.9" r="2.5"/><circle cx="1730.8" cy="1606.4" r="2.5"/><circle cx="1704.4" cy="1552.2" r="2.5"/><circle cx="1691.6" cy="1532.6" r="2.5"/><circle cx="1722.9" cy="1568" r="2.5"/>
</g>
<g fill="#e2dc72" fill-opacity="0.5" stroke="#22220a" stroke-width="1.6" stroke-opacity="0.9">
<circle cx="1794.2" cy="1540.8" r="2.7"/><circle cx="1771.4" cy="1529.2" r="2.7"/><circle cx="1792" cy="1509.7" r="2.7"/><circle cx="1752.2" cy="1553.5" r="2.7"/><circle cx="1766" cy="1553" r="2.7"/><circle cx="1792.8" cy="1515.8" r="2.7"/><circle cx="1763.8" cy="1531.7" r="2.7"/><circle cx="1749.1" cy="1550.9" r="2.7"/><circle cx="1752.3" cy="1549.2" r="2.7"/><circle cx="1780.7" cy="1531.6" r="2.7"/><circle cx="1780.3" cy="1541" r="2.7"/><circle cx="1778.9" cy="1528.2" r="2.7"/><circle cx="1788.2" cy="1521.2" r="2.7"/><circle cx="1789.3" cy="1545.6" r="2.7"/><circle cx="1788.8" cy="1524" r="2.7"/><circle cx="1784.4" cy="1499.8" r="2.7"/><circle cx="1762.5" cy="1555.2" r="2.7"/><circle cx="1770.2" cy="1492.6" r="2.7"/><circle cx="1780.2" cy="1537.5" r="2.7"/><circle cx="1770.1" cy="1522.1" r="2.7"/><circle cx="1752.7" cy="1534.2" r="2.7"/><circle cx="1764.8" cy="1525.7" r="2.7"/><circle cx="1767.5" cy="1547.7" r="2.7"/><circle cx="1762.6" cy="1535.1" r="2.7"/><circle cx="1751.7" cy="1529.9" r="2.7"/><circle cx="1776.1" cy="1544.6" r="2.7"/><circle cx="1759.8" cy="1538.4" r="2.7"/><circle cx="1778.2" cy="1552.3" r="2.7"/><circle cx="1764.6" cy="1536.4" r="2.7"/><circle cx="1780.6" cy="1518.3" r="2.7"/><circle cx="1787.6" cy="1554.4" r="2.7"/><circle cx="1774.2" cy="1557.3" r="2.7"/><circle cx="1764.2" cy="1551.7" r="2.7"/><circle cx="1780.7" cy="1554" r="2.7"/><circle cx="1762" cy="1542.5" r="2.7"/><circle cx="1784.2" cy="1556.4" r="2.7"/><circle cx="1794" cy="1543.3" r="2.7"/><circle cx="1788.1" cy="1513.7" r="2.7"/><circle cx="1776.1" cy="1546.3" r="2.7"/><circle cx="1791.9" cy="1533" r="2.7"/><circle cx="1774.4" cy="1494.8" r="2.7"/><circle cx="1779.2" cy="1551.5" r="2.7"/><circle cx="1749" cy="1557.9" r="2.7"/><circle cx="1766.5" cy="1511.4" r="2.7"/><circle cx="1762.7" cy="1563.3" r="2.7"/><circle cx="1750.3" cy="1518.9" r="2.7"/><circle cx="1750.8" cy="1527" r="2.7"/><circle cx="1776.8" cy="1525.3" r="2.7"/><circle cx="1757" cy="1520.3" r="2.7"/><circle cx="1768.5" cy="1549.7" r="2.7"/><circle cx="1790.9" cy="1504.6" r="2.7"/><circle cx="1751.3" cy="1539.4" r="2.7"/>
</g>
<path d="M1708.5 1357.5V1356H1774.5V1357.5" stroke="#000" stroke-width="3.4" fill="none"/>
<text x="1738.9" y="1345.3" font-size="20.4" text-anchor="middle">p = 0.16</text>
<text x="1745.5" y="1686" font-size="20.4" text-anchor="end" transform="rotate(-40 1745.5 1686)">Mucinous LUAD</text>
<line x1="1847.5" y1="1502.7" x2="1847.5" y2="1532.3" stroke="#363636" stroke-width="4.6"/>
<line x1="1847.5" y1="1556.8" x2="1847.5" y2="1588.1" stroke="#363636" stroke-width="4.6"/>
<rect x="1819.7" y="1532.3" width="55.6" height="24.5" fill="#E2E2E2" stroke="#363636" stroke-width="4.6"/>
<line x1="1819.7" y1="1544.8" x2="1875.3" y2="1544.8" stroke="#363636" stroke-width="8.8"/>
<line x1="1911.5" y1="1487.5" x2="1911.5" y2="1512.9" stroke="#363636" stroke-width="4.6"/>
<line x1="1911.5" y1="1544.8" x2="1911.5" y2="1571.5" stroke="#363636" stroke-width="4.6"/>
<rect x="1883.7" y="1512.9" width="55.6" height="32" fill="#F6F18C" stroke="#363636" stroke-width="4.6"/>
<line x1="1883.7" y1="1530.2" x2="1939.3" y2="1530.2" stroke="#363636" stroke-width="8.8"/>
<g fill="#777" fill-opacity="0.25" stroke="#1a1a1a" stroke-width="1.4" stroke-opacity="0.42">
<circle cx="1823.9" cy="1555" r="2.5"/><circle cx="1860.1" cy="1512.6" r="2.5"/><circle cx="1861.9" cy="1552.5" r="2.5"/><circle cx="1830.7" cy="1528.7" r="2.5"/><circle cx="1848.9" cy="1538.6" r="2.5"/><circle cx="1838.5" cy="1551.3" r="2.5"/><circle cx="1857.8" cy="1534.3" r="2.5"/><circle cx="1853.7" cy="1539.8" r="2.5"/><circle cx="1849.1" cy="1569.6" r="2.5"/><circle cx="1832.4" cy="1542.2" r="2.5"/><circle cx="1839.5" cy="1562.9" r="2.5"/><circle cx="1860.9" cy="1560.2" r="2.5"/><circle cx="1847.7" cy="1527.5" r="2.5"/><circle cx="1862.9" cy="1543.5" r="2.5"/><circle cx="1867.1" cy="1577.9" r="2.5"/><circle cx="1825.2" cy="1535.9" r="2.5"/><circle cx="1868.9" cy="1517.6" r="2.5"/><circle cx="1869.8" cy="1574.9" r="2.5"/><circle cx="1860.8" cy="1564.4" r="2.5"/><circle cx="1865.1" cy="1535" r="2.5"/><circle cx="1847.9" cy="1553.3" r="2.5"/><circle cx="1849.1" cy="1542.4" r="2.5"/><circle cx="1826.1" cy="1533.5" r="2.5"/><circle cx="1859.8" cy="1545.8" r="2.5"/><circle cx="1824.1" cy="1557.8" r="2.5"/><circle cx="1857.3" cy="1547.4" r="2.5"/><circle cx="1867.5" cy="1545.4" r="2.5"/><circle cx="1848.8" cy="1552.1" r="2.5"/><circle cx="1828.8" cy="1552.1" r="2.5"/><circle cx="1846" cy="1536.8" r="2.5"/><circle cx="1826" cy="1541.5" r="2.5"/><circle cx="1866" cy="1536.1" r="2.5"/><circle cx="1835" cy="1518.1" r="2.5"/><circle cx="1824.4" cy="1568.1" r="2.5"/><circle cx="1858.2" cy="1559.3" r="2.5"/><circle cx="1850.5" cy="1564.2" r="2.5"/><circle cx="1854.2" cy="1520.7" r="2.5"/><circle cx="1825.7" cy="1558.6" r="2.5"/><circle cx="1826.1" cy="1554.3" r="2.5"/><circle cx="1852.6" cy="1536.7" r="2.5"/><circle cx="1827.8" cy="1562.1" r="2.5"/><circle cx="1849.4" cy="1538.5" r="2.5"/><circle cx="1824.4" cy="1526.7" r="2.5"/><circle cx="1854.9" cy="1572.2" r="2.5"/><circle cx="1824.5" cy="1561.9" r="2.5"/><circle cx="1866" cy="1571.5" r="2.5"/><circle cx="1868.9" cy="1508.9" r="2.5"/><circle cx="1826.3" cy="1534.7" r="2.5"/><circle cx="1838.7" cy="1529.3" r="2.5"/><circle cx="1833.9" cy="1544.7" r="2.5"/><circle cx="1859.9" cy="1559.9" r="2.5"/><circle cx="1858.8" cy="1552.4" r="2.5"/><circle cx="1850.1" cy="1522.4" r="2.5"/><circle cx="1842.7" cy="1556.1" r="2.5"/><circle cx="1848.9" cy="1538.1" r="2.5"/><circle cx="1838.1" cy="1534.2" r="2.5"/><circle cx="1840.5" cy="1554.4" r="2.5"/><circle cx="1857.5" cy="1575.5" r="2.5"/><circle cx="1871.5" cy="1531.2" r="2.5"/><circle cx="1843.9" cy="1527.8" r="2.5"/><circle cx="1825.4" cy="1485.8" r="2.5"/><circle cx="1824.1" cy="1533.8" r="2.5"/><circle cx="1847.3" cy="1562.7" r="2.5"/><circle cx="1826.1" cy="1530.5" r="2.5"/><circle cx="1852.8" cy="1551.9" r="2.5"/><circle cx="1855.5" cy="1527.8" r="2.5"/><circle cx="1831.1" cy="1535.4" r="2.5"/><circle cx="1833.2" cy="1546.3" r="2.5"/><circle cx="1843.1" cy="1569.2" r="2.5"/><circle cx="1867.3" cy="1529" r="2.5"/><circle cx="1839.6" cy="1540.5" r="2.5"/><circle cx="1853.6" cy="1530.6" r="2.5"/><circle cx="1824.6" cy="1553.9" r="2.5"/><circle cx="1836.6" cy="1540.4" r="2.5"/><circle cx="1835.9" cy="1540.7" r="2.5"/><circle cx="1845.6" cy="1533.2" r="2.5"/><circle cx="1837.3" cy="1553.6" r="2.5"/><circle cx="1839.1" cy="1529.7" r="2.5"/><circle cx="1858.4" cy="1560.9" r="2.5"/><circle cx="1837.7" cy="1541.3" r="2.5"/><circle cx="1828.5" cy="1549.3" r="2.5"/><circle cx="1847.9" cy="1568.7" r="2.5"/><circle cx="1827.4" cy="1556.5" r="2.5"/><circle cx="1866.6" cy="1558.2" r="2.5"/><circle cx="1855.5" cy="1562.4" r="2.5"/><circle cx="1846" cy="1533.1" r="2.5"/><circle cx="1851.5" cy="1519.6" r="2.5"/><circle cx="1829.3" cy="1561.5" r="2.5"/><circle cx="1852.8" cy="1556.7" r="2.5"/><circle cx="1854.5" cy="1559.5" r="2.5"/><circle cx="1869.9" cy="1518.6" r="2.5"/><circle cx="1823.8" cy="1551.7" r="2.5"/><circle cx="1852.4" cy="1583.6" r="2.5"/><circle cx="1859.8" cy="1539.9" r="2.5"/><circle cx="1833.9" cy="1537.1" r="2.5"/><circle cx="1849.9" cy="1537" r="2.5"/><circle cx="1870.7" cy="1565.5" r="2.5"/><circle cx="1826.6" cy="1563.2" r="2.5"/><circle cx="1849.1" cy="1546.1" r="2.5"/><circle cx="1864.1" cy="1534.8" r="2.5"/><circle cx="1850.6" cy="1582.7" r="2.5"/><circle cx="1863.4" cy="1532.5" r="2.5"/><circle cx="1855.8" cy="1545.1" r="2.5"/><circle cx="1832.3" cy="1535.5" r="2.5"/><circle cx="1849.9" cy="1555.9" r="2.5"/><circle cx="1854" cy="1524.9" r="2.5"/><circle cx="1844.2" cy="1541" r="2.5"/><circle cx="1838.1" cy="1576.9" r="2.5"/><circle cx="1847.6" cy="1558" r="2.5"/><circle cx="1867.3" cy="1541.7" r="2.5"/><circle cx="1842.1" cy="1534.3" r="2.5"/><circle cx="1843.2" cy="1579.1" r="2.5"/><circle cx="1844.3" cy="1520.3" r="2.5"/><circle cx="1830" cy="1525.5" r="2.5"/><circle cx="1869.4" cy="1553.4" r="2.5"/><circle cx="1841.3" cy="1537.8" r="2.5"/><circle cx="1833.9" cy="1528.1" r="2.5"/><circle cx="1858.1" cy="1555.7" r="2.5"/><circle cx="1868.7" cy="1526.5" r="2.5"/><circle cx="1828.2" cy="1539.1" r="2.5"/><circle cx="1868.8" cy="1548.2" r="2.5"/><circle cx="1851.1" cy="1554.4" r="2.5"/><circle cx="1854.5" cy="1550.8" r="2.5"/><circle cx="1859.4" cy="1555.6" r="2.5"/><circle cx="1849.5" cy="1518.9" r="2.5"/><circle cx="1841.1" cy="1564" r="2.5"/><circle cx="1848.9" cy="1542.9" r="2.5"/><circle cx="1858" cy="1531.5" r="2.5"/><circle cx="1836.4" cy="1532.9" r="2.5"/><circle cx="1857.2" cy="1546.7" r="2.5"/><circle cx="1826.9" cy="1548.5" r="2.5"/><circle cx="1848.2" cy="1527.3" r="2.5"/><circle cx="1832.8" cy="1525" r="2.5"/><circle cx="1837.5" cy="1595.7" r="2.5"/><circle cx="1864.9" cy="1551.6" r="2.5"/><circle cx="1843.1" cy="1540" r="2.5"/><circle cx="1842.2" cy="1576.3" r="2.5"/><circle cx="1848.7" cy="1525.8" r="2.5"/><circle cx="1844.3" cy="1560.8" r="2.5"/><circle cx="1833.1" cy="1544.5" r="2.5"/><circle cx="1870.9" cy="1521.8" r="2.5"/><circle cx="1842.5" cy="1553.7" r="2.5"/><circle cx="1829.2" cy="1550.4" r="2.5"/><circle cx="1868.1" cy="1534" r="2.5"/><circle cx="1866.7" cy="1566.7" r="2.5"/><circle cx="1841.8" cy="1540.8" r="2.5"/><circle cx="1860" cy="1541.6" r="2.5"/><circle cx="1859.9" cy="1509.4" r="2.5"/><circle cx="1851.8" cy="1568.3" r="2.5"/><circle cx="1833" cy="1532.6" r="2.5"/><circle cx="1869.5" cy="1564.7" r="2.5"/><circle cx="1845.1" cy="1540.3" r="2.5"/><circle cx="1857.1" cy="1571" r="2.5"/><circle cx="1840.1" cy="1531.1" r="2.5"/><circle cx="1844.4" cy="1531.6" r="2.5"/><circle cx="1867.8" cy="1549.7" r="2.5"/><circle cx="1854.2" cy="1554.7" r="2.5"/><circle cx="1843.5" cy="1546.5" r="2.5"/><circle cx="1860.6" cy="1556.4" r="2.5"/><circle cx="1834.1" cy="1537.7" r="2.5"/><circle cx="1844.7" cy="1525.9" r="2.5"/><circle cx="1862.3" cy="1548.2" r="2.5"/><circle cx="1856.8" cy="1539.5" r="2.5"/><circle cx="1851" cy="1524.3" r="2.5"/><circle cx="1858.8" cy="1555.3" r="2.5"/><circle cx="1830.7" cy="1564.8" r="2.5"/><circle cx="1858.7" cy="1580" r="2.5"/><circle cx="1855.8" cy="1528" r="2.5"/><circle cx="1828.5" cy="1528.4" r="2.5"/><circle cx="1858" cy="1566.5" r="2.5"/><circle cx="1842.5" cy="1559.6" r="2.5"/><circle cx="1855" cy="1521.5" r="2.5"/><circle cx="1847" cy="1544.3" r="2.5"/><circle cx="1859" cy="1557.2" r="2.5"/><circle cx="1828.4" cy="1511.2" r="2.5"/><circle cx="1856" cy="1559" r="2.5"/><circle cx="1838" cy="1528.3" r="2.5"/><circle cx="1839.1" cy="1548.8" r="2.5"/><circle cx="1834.5" cy="1544.1" r="2.5"/><circle cx="1863.6" cy="1556" r="2.5"/><circle cx="1853.8" cy="1552.4" r="2.5"/><circle cx="1846.9" cy="1570.3" r="2.5"/><circle cx="1839" cy="1553.2" r="2.5"/><circle cx="1843" cy="1542.7" r="2.5"/><circle cx="1830.7" cy="1558.8" r="2.5"/><circle cx="1838.1" cy="1573.5" r="2.5"/><circle cx="1847.9" cy="1535.9" r="2.5"/><circle cx="1835.3" cy="1547.2" r="2.5"/><circle cx="1860.7" cy="1543" r="2.5"/><circle cx="1827.2" cy="1517.9" r="2.5"/><circle cx="1833" cy="1553.2" r="2.5"/><circle cx="1836" cy="1547.8" r="2.5"/><circle cx="1829.6" cy="1532.8" r="2.5"/><circle cx="1850.7" cy="1528.5" r="2.5"/><circle cx="1847" cy="1561.1" r="2.5"/><circle cx="1855" cy="1594" r="2.5"/><circle cx="1865.2" cy="1538.3" r="2.5"/><circle cx="1828.8" cy="1525.3" r="2.5"/><circle cx="1843" cy="1523.4" r="2.5"/><circle cx="1838" cy="1566.3" r="2.5"/><circle cx="1844.1" cy="1557.3" r="2.5"/><circle cx="1852.1" cy="1532.2" r="2.5"/><circle cx="1835.5" cy="1537.2" r="2.5"/><circle cx="1857.3" cy="1530.4" r="2.5"/><circle cx="1850.3" cy="1563.1" r="2.5"/><circle cx="1838.6" cy="1524" r="2.5"/><circle cx="1845.3" cy="1529.6" r="2.5"/><circle cx="1869.4" cy="1544.5" r="2.5"/><circle cx="1851.1" cy="1550.5" r="2.5"/><circle cx="1858.2" cy="1567.9" r="2.5"/><circle cx="1839" cy="1567.3" r="2.5"/><circle cx="1856.5" cy="1567.6" r="2.5"/><circle cx="1835.6" cy="1549.5" r="2.5"/><circle cx="1865.3" cy="1503.8" r="2.5"/><circle cx="1833" cy="1554.1" r="2.5"/><circle cx="1871.1" cy="1530.7" r="2.5"/><circle cx="1854.7" cy="1556.2" r="2.5"/><circle cx="1856" cy="1512.9" r="2.5"/><circle cx="1868.4" cy="1539.6" r="2.5"/><circle cx="1862.2" cy="1560.3" r="2.5"/><circle cx="1860.4" cy="1546.2" r="2.5"/><circle cx="1861.6" cy="1546.8" r="2.5"/><circle cx="1848.2" cy="1495.4" r="2.5"/><circle cx="1858.7" cy="1563.9" r="2.5"/><circle cx="1841.4" cy="1575.6" r="2.5"/><circle cx="1861.2" cy="1522.2" r="2.5"/><circle cx="1846.6" cy="1563.6" r="2.5"/><circle cx="1825.3" cy="1522" r="2.5"/><circle cx="1871.4" cy="1572" r="2.5"/><circle cx="1841.4" cy="1543.9" r="2.5"/><circle cx="1825.7" cy="1520.9" r="2.5"/><circle cx="1847.7" cy="1536.3" r="2.5"/><circle cx="1853.7" cy="1526" r="2.5"/><circle cx="1843.8" cy="1529" r="2.5"/><circle cx="1834" cy="1551.1" r="2.5"/><circle cx="1846" cy="1563" r="2.5"/><circle cx="1828" cy="1541.7" r="2.5"/><circle cx="1839.5" cy="1535.8" r="2.5"/><circle cx="1848.9" cy="1532.1" r="2.5"/><circle cx="1848.3" cy="1543.4" r="2.5"/><circle cx="1828.8" cy="1545" r="2.5"/><circle cx="1860.9" cy="1562.6" r="2.5"/><circle cx="1857.3" cy="1555.5" r="2.5"/><circle cx="1836.8" cy="1519.2" r="2.5"/><circle cx="1853.3" cy="1525.1" r="2.5"/><circle cx="1868.5" cy="1514.4" r="2.5"/><circle cx="1863.8" cy="1558.5" r="2.5"/><circle cx="1853.6" cy="1524.5" r="2.5"/><circle cx="1851" cy="1530" r="2.5"/><circle cx="1869.5" cy="1559.8" r="2.5"/><circle cx="1845.9" cy="1585.5" r="2.5"/><circle cx="1844.6" cy="1523.3" r="2.5"/><circle cx="1826.8" cy="1545.7" r="2.5"/><circle cx="1827.3" cy="1572.5" r="2.5"/><circle cx="1849.9" cy="1545.3" r="2.5"/><circle cx="1855.5" cy="1550.6" r="2.5"/><circle cx="1866.4" cy="1533.5" r="2.5"/><circle cx="1868.2" cy="1548.6" r="2.5"/><circle cx="1864.8" cy="1563.8" r="2.5"/><circle cx="1838.7" cy="1510.6" r="2.5"/><circle cx="1824.6" cy="1520.2" r="2.5"/><circle cx="1833.4" cy="1530.2" r="2.5"/><circle cx="1859.7" cy="1551.2" r="2.5"/><circle cx="1837" cy="1554.9" r="2.5"/><circle cx="1864.8" cy="1547.1" r="2.5"/><circle cx="1856.7" cy="1498.2" r="2.5"/><circle cx="1825.3" cy="1534.4" r="2.5"/><circle cx="1855.4" cy="1554.6" r="2.5"/><circle cx="1835.1" cy="1554.7" r="2.5"/><circle cx="1836.1" cy="1536.4" r="2.5"/><circle cx="1833.6" cy="1516.7" r="2.5"/><circle cx="1855.8" cy="1515.3" r="2.5"/><circle cx="1845.3" cy="1550.9" r="2.5"/><circle cx="1830.7" cy="1539" r="2.5"/><circle cx="1835.5" cy="1542.7" r="2.5"/><circle cx="1829.6" cy="1518.3" r="2.5"/><circle cx="1861.6" cy="1542.1" r="2.5"/><circle cx="1848.6" cy="1549.3" r="2.5"/><circle cx="1857.2" cy="1506.2" r="2.5"/><circle cx="1861.1" cy="1557.1" r="2.5"/><circle cx="1823.9" cy="1570" r="2.5"/><circle cx="1839.9" cy="1572.8" r="2.5"/><circle cx="1846.2" cy="1517" r="2.5"/><circle cx="1869.4" cy="1557.8" r="2.5"/><circle cx="1863.4" cy="1525.7" r="2.5"/><circle cx="1859.1" cy="1552.7" r="2.5"/><circle cx="1839.3" cy="1532.3" r="2.5"/><circle cx="1870.1" cy="1552.9" r="2.5"/><circle cx="1860.5" cy="1562.2" r="2.5"/><circle cx="1846.5" cy="1561.7" r="2.5"/><circle cx="1833.8" cy="1529.9" r="2.5"/><circle cx="1824.8" cy="1562.3" r="2.5"/><circle cx="1835.5" cy="1555.4" r="2.5"/><circle cx="1830" cy="1541.1" r="2.5"/><circle cx="1871.1" cy="1570.5" r="2.5"/><circle cx="1836.7" cy="1535.3" r="2.5"/><circle cx="1834.7" cy="1536" r="2.5"/><circle cx="1860.2" cy="1528" r="2.5"/><circle cx="1858.6" cy="1553.1" r="2.5"/><circle cx="1834.4" cy="1560.6" r="2.5"/><circle cx="1871.4" cy="1524.7" r="2.5"/><circle cx="1863" cy="1551.6" r="2.5"/><circle cx="1855.8" cy="1524.1" r="2.5"/><circle cx="1851.1" cy="1540.2" r="2.5"/><circle cx="1825.7" cy="1564.2" r="2.5"/><circle cx="1865.6" cy="1536.8" r="2.5"/><circle cx="1857.9" cy="1551.4" r="2.5"/><circle cx="1835.4" cy="1571.7" r="2.5"/><circle cx="1851.9" cy="1547.4" r="2.5"/><circle cx="1861.5" cy="1529.6" r="2.5"/><circle cx="1867.8" cy="1548.6" r="2.5"/><circle cx="1850.5" cy="1533.1" r="2.5"/><circle cx="1851.7" cy="1570.9" r="2.5"/><circle cx="1850.2" cy="1515.9" r="2.5"/><circle cx="1830.4" cy="1543.8" r="2.5"/><circle cx="1832.2" cy="1549" r="2.5"/><circle cx="1840.1" cy="1566" r="2.5"/><circle cx="1833.6" cy="1559.1" r="2.5"/><circle cx="1833.7" cy="1525.5" r="2.5"/><circle cx="1827" cy="1540.7" r="2.5"/><circle cx="1838.9" cy="1543.5" r="2.5"/><circle cx="1854.2" cy="1569.5" r="2.5"/><circle cx="1830.4" cy="1552.8" r="2.5"/><circle cx="1856.3" cy="1537.4" r="2.5"/><circle cx="1859" cy="1546.4" r="2.5"/><circle cx="1870" cy="1548.8" r="2.5"/><circle cx="1833.8" cy="1549.2" r="2.5"/><circle cx="1844.3" cy="1543.3" r="2.5"/><circle cx="1831.5" cy="1529.1" r="2.5"/><circle cx="1867.6" cy="1530.9" r="2.5"/><circle cx="1833.6" cy="1560.4" r="2.5"/><circle cx="1835.8" cy="1538.8" r="2.5"/><circle cx="1844.9" cy="1561.3" r="2.5"/><circle cx="1850" cy="1549.8" r="2.5"/><circle cx="1867.8" cy="1541" r="2.5"/><circle cx="1857.3" cy="1519.9" r="2.5"/><circle cx="1851.9" cy="1546" r="2.5"/><circle cx="1833" cy="1556.7" r="2.5"/><circle cx="1858.2" cy="1557" r="2.5"/><circle cx="1850.8" cy="1553.9" r="2.5"/><circle cx="1829.6" cy="1532.7" r="2.5"/><circle cx="1825.6" cy="1520.5" r="2.5"/><circle cx="1868" cy="1526.1" r="2.5"/><circle cx="1835.6" cy="1561.5" r="2.5"/><circle cx="1827.6" cy="1548.3" r="2.5"/><circle cx="1831.5" cy="1514.9" r="2.5"/><circle cx="1848.3" cy="1537.6" r="2.5"/><circle cx="1853.4" cy="1556.9" r="2.5"/><circle cx="1870.5" cy="1531.8" r="2.5"/><circle cx="1869.4" cy="1527" r="2.5"/><circle cx="1868.6" cy="1545" r="2.5"/><circle cx="1867.7" cy="1547.9" r="2.5"/><circle cx="1870.8" cy="1521.5" r="2.5"/><circle cx="1847.9" cy="1549.6" r="2.5"/><circle cx="1835.7" cy="1557.6" r="2.5"/><circle cx="1832.2" cy="1531.7" r="2.5"/><circle cx="1854.8" cy="1543.7" r="2.5"/><circle cx="1867" cy="1555.1" r="2.5"/><circle cx="1840.8" cy="1569.1" r="2.5"/><circle cx="1848.1" cy="1553.6" r="2.5"/><circle cx="1856.6" cy="1566.9" r="2.5"/><circle cx="1840.4" cy="1527.5" r="2.5"/><circle cx="1830.5" cy="1547" r="2.5"/><circle cx="1857.2" cy="1538.9" r="2.5"/><circle cx="1854.5" cy="1539.3" r="2.5"/><circle cx="1838.5" cy="1535.2" r="2.5"/><circle cx="1861.2" cy="1581.8" r="2.5"/><circle cx="1854.2" cy="1545.5" r="2.5"/><circle cx="1853.3" cy="1526.8" r="2.5"/><circle cx="1826.4" cy="1546.9" r="2.5"/><circle cx="1846" cy="1550.1" r="2.5"/><circle cx="1843.3" cy="1544" r="2.5"/><circle cx="1857.1" cy="1513.8" r="2.5"/><circle cx="1854.2" cy="1536.6" r="2.5"/><circle cx="1850.1" cy="1519.6" r="2.5"/><circle cx="1827.9" cy="1522.9" r="2.5"/><circle cx="1854.2" cy="1538" r="2.5"/><circle cx="1868.9" cy="1579.6" r="2.5"/><circle cx="1831.5" cy="1508.3" r="2.5"/><circle cx="1861.6" cy="1563.4" r="2.5"/><circle cx="1824.7" cy="1547.7" r="2.5"/><circle cx="1852.3" cy="1543.1" r="2.5"/><circle cx="1854.6" cy="1550" r="2.5"/><circle cx="1855.8" cy="1555.2" r="2.5"/><circle cx="1870.1" cy="1552.2" r="2.5"/><circle cx="1849.3" cy="1511.2" r="2.5"/><circle cx="1825.9" cy="1561.9" r="2.5"/><circle cx="1869.5" cy="1571.2" r="2.5"/><circle cx="1866.4" cy="1535.1" r="2.5"/><circle cx="1853.2" cy="1560.5" r="2.5"/><circle cx="1860.3" cy="1567" r="2.5"/><circle cx="1825.7" cy="1550.3" r="2.5"/><circle cx="1830.7" cy="1534.9" r="2.5"/><circle cx="1871.5" cy="1568.8" r="2.5"/><circle cx="1840.7" cy="1544.2" r="2.5"/><circle cx="1854.6" cy="1531.3" r="2.5"/><circle cx="1860.6" cy="1550.2" r="2.5"/><circle cx="1828.9" cy="1541.9" r="2.5"/><circle cx="1835.7" cy="1521.2" r="2.5"/><circle cx="1851.7" cy="1567.5" r="2.5"/><circle cx="1869.8" cy="1545.5" r="2.5"/><circle cx="1825.8" cy="1512.1" r="2.5"/><circle cx="1868" cy="1551" r="2.5"/><circle cx="1834.1" cy="1544.8" r="2.5"/><circle cx="1841.1" cy="1492.6" r="2.5"/><circle cx="1844.6" cy="1538.4" r="2.5"/><circle cx="1867.9" cy="1554.1" r="2.5"/><circle cx="1844.9" cy="1547.8" r="2.5"/><circle cx="1848" cy="1527.2" r="2.5"/><circle cx="1866.5" cy="1539.7" r="2.5"/><circle cx="1843.5" cy="1565.7" r="2.5"/><circle cx="1860" cy="1540.1" r="2.5"/><circle cx="1849" cy="1552.8" r="2.5"/><circle cx="1862.8" cy="1522.9" r="2.5"/><circle cx="1851.9" cy="1548" r="2.5"/><circle cx="1866.5" cy="1539.3" r="2.5"/><circle cx="1832.7" cy="1587.6" r="2.5"/><circle cx="1846.3" cy="1557.5" r="2.5"/><circle cx="1823.7" cy="1580.8" r="2.5"/><circle cx="1825.3" cy="1507.8" r="2.5"/><circle cx="1849.7" cy="1489.8" r="2.5"/><circle cx="1860" cy="1565.4" r="2.5"/><circle cx="1858.1" cy="1518.4" r="2.5"/><circle cx="1824.2" cy="1542" r="2.5"/><circle cx="1837.4" cy="1543.2" r="2.5"/><circle cx="1834.8" cy="1558.4" r="2.5"/><circle cx="1833.8" cy="1538.2" r="2.5"/><circle cx="1866.6" cy="1533.4" r="2.5"/><circle cx="1842.1" cy="1529.5" r="2.5"/><circle cx="1840.9" cy="1549" r="2.5"/><circle cx="1858.9" cy="1542.5" r="2.5"/><circle cx="1854.8" cy="1546.6" r="2.5"/><circle cx="1867.4" cy="1505.8" r="2.5"/><circle cx="1848.6" cy="1526.3" r="2.5"/><circle cx="1838.8" cy="1561.1" r="2.5"/><circle cx="1858.2" cy="1526.7" r="2.5"/><circle cx="1835.9" cy="1560" r="2.5"/><circle cx="1828.7" cy="1533.7" r="2.5"/><circle cx="1841" cy="1544.9" r="2.5"/><circle cx="1832.1" cy="1542.5" r="2.5"/><circle cx="1855.3" cy="1559.4" r="2.5"/><circle cx="1854.9" cy="1563.5" r="2.5"/><circle cx="1845.9" cy="1570.4" r="2.5"/><circle cx="1849.5" cy="1538.7" r="2.5"/><circle cx="1857.1" cy="1545.9" r="2.5"/><circle cx="1870.2" cy="1531.9" r="2.5"/><circle cx="1826.6" cy="1528.8" r="2.5"/><circle cx="1865.1" cy="1536.5" r="2.5"/><circle cx="1836.1" cy="1564.4" r="2.5"/><circle cx="1855.3" cy="1558.1" r="2.5"/><circle cx="1845.1" cy="1547.5" r="2.5"/><circle cx="1841.7" cy="1551.9" r="2.5"/><circle cx="1838.3" cy="1537.6" r="2.5"/><circle cx="1870.6" cy="1523.6" r="2.5"/><circle cx="1858.2" cy="1522.6" r="2.5"/><circle cx="1825.2" cy="1510" r="2.5"/><circle cx="1847" cy="1487" r="2.5"/><circle cx="1849.2" cy="1581.5" r="2.5"/><circle cx="1857.5" cy="1541.3" r="2.5"/><circle cx="1839.8" cy="1527.4" r="2.5"/><circle cx="1848.6" cy="1530.9" r="2.5"/><circle cx="1831.3" cy="1549.9" r="2.5"/><circle cx="1864.8" cy="1526.4" r="2.5"/><circle cx="1853.6" cy="1583.1" r="2.5"/><circle cx="1828.3" cy="1578" r="2.5"/><circle cx="1836.3" cy="1534.6" r="2.5"/><circle cx="1849.1" cy="1535.7" r="2.5"/><circle cx="1843.1" cy="1519" r="2.5"/><circle cx="1859.2" cy="1533.9" r="2.5"/><circle cx="1846.2" cy="1550.7" r="2.5"/><circle cx="1852.5" cy="1565" r="2.5"/><circle cx="1838" cy="1530.3" r="2.5"/><circle cx="1865" cy="1556.3" r="2.5"/><circle cx="1845.2" cy="1537.4" r="2.5"/><circle cx="1849.2" cy="1532.5" r="2.5"/><circle cx="1853.7" cy="1573.8" r="2.5"/><circle cx="1871" cy="1558.7" r="2.5"/><circle cx="1840.7" cy="1555.8" r="2.5"/>
</g>
<g fill="#e2dc72" fill-opacity="0.5" stroke="#22220a" stroke-width="1.6" stroke-opacity="0.9">
<circle cx="1919.7" cy="1550.3" r="2.7"/><circle cx="1889.8" cy="1532.7" r="2.7"/><circle cx="1928.7" cy="1542" r="2.7"/><circle cx="1891.6" cy="1549.7" r="2.7"/><circle cx="1898.6" cy="1543" r="2.7"/><circle cx="1925" cy="1517.6" r="2.7"/><circle cx="1904.3" cy="1520.6" r="2.7"/><circle cx="1926.9" cy="1545.6" r="2.7"/><circle cx="1918.7" cy="1537.8" r="2.7"/><circle cx="1918.1" cy="1535.5" r="2.7"/><circle cx="1920.7" cy="1547.6" r="2.7"/><circle cx="1892.2" cy="1532.3" r="2.7"/><circle cx="1934.8" cy="1529.3" r="2.7"/><circle cx="1896.5" cy="1539.5" r="2.7"/><circle cx="1926.2" cy="1526.7" r="2.7"/><circle cx="1929.6" cy="1521.1" r="2.7"/><circle cx="1889.2" cy="1540.9" r="2.7"/><circle cx="1912.8" cy="1566.5" r="2.7"/><circle cx="1892.5" cy="1557.4" r="2.7"/><circle cx="1900" cy="1506.3" r="2.7"/><circle cx="1909.1" cy="1513.8" r="2.7"/><circle cx="1905.5" cy="1531.3" r="2.7"/><circle cx="1893.4" cy="1543.7" r="2.7"/><circle cx="1934.7" cy="1551.8" r="2.7"/><circle cx="1890.3" cy="1554.1" r="2.7"/><circle cx="1921.6" cy="1522.9" r="2.7"/><circle cx="1935.2" cy="1525.3" r="2.7"/><circle cx="1904.6" cy="1491.2" r="2.7"/><circle cx="1909.7" cy="1512.5" r="2.7"/><circle cx="1905.2" cy="1548.5" r="2.7"/><circle cx="1923.5" cy="1527.9" r="2.7"/><circle cx="1924" cy="1504.9" r="2.7"/><circle cx="1889.8" cy="1556.6" r="2.7"/><circle cx="1929.1" cy="1509.2" r="2.7"/><circle cx="1895" cy="1507.4" r="2.7"/><circle cx="1929" cy="1515.6" r="2.7"/><circle cx="1907.4" cy="1563.2" r="2.7"/><circle cx="1923.9" cy="1514.4" r="2.7"/><circle cx="1907.3" cy="1536.1" r="2.7"/><circle cx="1906.2" cy="1496.6" r="2.7"/><circle cx="1916.1" cy="1539.2" r="2.7"/><circle cx="1897.9" cy="1510.9" r="2.7"/><circle cx="1898.7" cy="1546.7" r="2.7"/><circle cx="1913.8" cy="1511.2" r="2.7"/><circle cx="1904.2" cy="1508.3" r="2.7"/><circle cx="1927.5" cy="1524" r="2.7"/><circle cx="1927" cy="1518.3" r="2.7"/><circle cx="1923.9" cy="1499.5" r="2.7"/><circle cx="1917.2" cy="1502.9" r="2.7"/><circle cx="1893.1" cy="1533.6" r="2.7"/><circle cx="1926.9" cy="1502.6" r="2.7"/><circle cx="1900.3" cy="1553.5" r="2.7"/>
</g>
<path d="M1847.7 1357.5V1356H1913.7V1357.5" stroke="#000" stroke-width="3.4" fill="none"/>
<text x="1880.7" y="1345.3" font-size="20.4" text-anchor="middle">p = 1.5e−06</text>
<text x="1884.7" y="1686" font-size="20.4" text-anchor="end" transform="rotate(-40 1884.7 1686)">Classical PDAC</text>
<line x1="1988.6" y1="1496" x2="1988.6" y2="1537.8" stroke="#363636" stroke-width="4.6"/>
<line x1="1988.6" y1="1568.1" x2="1988.6" y2="1597.4" stroke="#363636" stroke-width="4.6"/>
<rect x="1960.8" y="1537.8" width="55.6" height="30.3" fill="#E2E2E2" stroke="#363636" stroke-width="4.6"/>
<line x1="1960.8" y1="1554.6" x2="2016.4" y2="1554.6" stroke="#363636" stroke-width="8.8"/>
<line x1="2052.6" y1="1407.5" x2="2052.6" y2="1489.2" stroke="#363636" stroke-width="4.6"/>
<line x1="2052.6" y1="1547.6" x2="2052.6" y2="1580.5" stroke="#363636" stroke-width="4.6"/>
<rect x="2024.8" y="1489.2" width="55.6" height="58.4" fill="#F6F18C" stroke="#363636" stroke-width="4.6"/>
<line x1="2024.8" y1="1529.2" x2="2080.4" y2="1529.2" stroke="#363636" stroke-width="8.8"/>
<g fill="#777" fill-opacity="0.25" stroke="#1a1a1a" stroke-width="1.4" stroke-opacity="0.42">
<circle cx="1996.3" cy="1569" r="2.5"/><circle cx="1991.4" cy="1536.8" r="2.5"/><circle cx="1969.3" cy="1550.9" r="2.5"/><circle cx="1984.6" cy="1522.5" r="2.5"/><circle cx="2007.7" cy="1521.4" r="2.5"/><circle cx="1970.2" cy="1546.1" r="2.5"/><circle cx="1980" cy="1575.1" r="2.5"/><circle cx="1964.9" cy="1590.2" r="2.5"/><circle cx="2000.4" cy="1526.6" r="2.5"/><circle cx="1995.5" cy="1569.1" r="2.5"/><circle cx="1971.1" cy="1582" r="2.5"/><circle cx="1979.3" cy="1554.6" r="2.5"/><circle cx="1983.1" cy="1534.9" r="2.5"/><circle cx="1972.6" cy="1570.2" r="2.5"/><circle cx="1975.9" cy="1568.3" r="2.5"/><circle cx="1992.9" cy="1580.8" r="2.5"/><circle cx="2008.6" cy="1561" r="2.5"/><circle cx="1997.2" cy="1556.9" r="2.5"/><circle cx="2012.5" cy="1525.3" r="2.5"/><circle cx="2000.9" cy="1571.8" r="2.5"/><circle cx="1975.5" cy="1560.1" r="2.5"/><circle cx="1984.5" cy="1524" r="2.5"/><circle cx="1968.4" cy="1542" r="2.5"/><circle cx="1971.5" cy="1586.5" r="2.5"/><circle cx="1982.7" cy="1579.4" r="2.5"/><circle cx="1971.8" cy="1535.1" r="2.5"/><circle cx="1986.6" cy="1545.6" r="2.5"/><circle cx="2001.9" cy="1571.5" r="2.5"/><circle cx="1999.6" cy="1548.3" r="2.5"/><circle cx="1968.2" cy="1557.7" r="2.5"/><circle cx="1993.4" cy="1546.5" r="2.5"/><circle cx="1981.3" cy="1573.4" r="2.5"/><circle cx="2003.6" cy="1532.7" r="2.5"/><circle cx="1995.4" cy="1425" r="2.5"/><circle cx="1982" cy="1572.2" r="2.5"/><circle cx="1971.9" cy="1577.3" r="2.5"/><circle cx="1971.8" cy="1525.2" r="2.5"/><circle cx="1971.1" cy="1569.7" r="2.5"/><circle cx="1974.6" cy="1585.8" r="2.5"/><circle cx="2012.4" cy="1575.2" r="2.5"/><circle cx="1966.6" cy="1539.6" r="2.5"/><circle cx="1994.7" cy="1596.7" r="2.5"/><circle cx="2010.3" cy="1517.6" r="2.5"/><circle cx="1990.2" cy="1561.3" r="2.5"/><circle cx="1983.2" cy="1574.3" r="2.5"/><circle cx="1985.2" cy="1556.2" r="2.5"/><circle cx="1972.3" cy="1543.2" r="2.5"/><circle cx="1982.5" cy="1518.8" r="2.5"/><circle cx="1984.2" cy="1527.3" r="2.5"/><circle cx="2007.4" cy="1538.8" r="2.5"/><circle cx="1968.4" cy="1557.9" r="2.5"/><circle cx="2008.2" cy="1558.1" r="2.5"/><circle cx="1978.1" cy="1547.4" r="2.5"/><circle cx="1978.2" cy="1520.5" r="2.5"/><circle cx="1995.4" cy="1559.3" r="2.5"/><circle cx="1969.1" cy="1568.1" r="2.5"/><circle cx="2009.3" cy="1562.9" r="2.5"/><circle cx="2007.3" cy="1547.8" r="2.5"/><circle cx="2000.8" cy="1531.6" r="2.5"/><circle cx="1969.5" cy="1526.8" r="2.5"/><circle cx="1988.9" cy="1557.3" r="2.5"/><circle cx="1986" cy="1472.9" r="2.5"/><circle cx="1995" cy="1511.2" r="2.5"/><circle cx="1980.3" cy="1550" r="2.5"/><circle cx="1981.1" cy="1534.7" r="2.5"/><circle cx="1993.3" cy="1505.5" r="2.5"/><circle cx="1982.1" cy="1567.9" r="2.5"/><circle cx="1988.2" cy="1568.2" r="2.5"/><circle cx="1969.8" cy="1488.1" r="2.5"/><circle cx="1965.6" cy="1558.3" r="2.5"/><circle cx="2010.8" cy="1583.3" r="2.5"/><circle cx="1990.5" cy="1551" r="2.5"/><circle cx="1981.3" cy="1563.8" r="2.5"/><circle cx="1992.5" cy="1502.7" r="2.5"/><circle cx="1976.4" cy="1560.5" r="2.5"/><circle cx="1981.1" cy="1520" r="2.5"/><circle cx="1991" cy="1573.6" r="2.5"/><circle cx="1976.7" cy="1522.1" r="2.5"/><circle cx="2003.7" cy="1593.2" r="2.5"/><circle cx="1968.5" cy="1524.6" r="2.5"/><circle cx="2000.7" cy="1533.1" r="2.5"/><circle cx="2012.1" cy="1547.5" r="2.5"/><circle cx="1988.1" cy="1509.2" r="2.5"/><circle cx="1977.4" cy="1565.3" r="2.5"/><circle cx="2008.2" cy="1565.8" r="2.5"/><circle cx="2000.2" cy="1571.3" r="2.5"/><circle cx="2010" cy="1578" r="2.5"/><circle cx="1977.2" cy="1575.9" r="2.5"/><circle cx="1995.8" cy="1394" r="2.5"/><circle cx="1995.7" cy="1564.8" r="2.5"/><circle cx="1970.4" cy="1543.3" r="2.5"/><circle cx="1969.8" cy="1567.5" r="2.5"/><circle cx="1997.7" cy="1506.5" r="2.5"/><circle cx="2002.1" cy="1565.7" r="2.5"/><circle cx="1968.9" cy="1551.7" r="2.5"/><circle cx="1973.2" cy="1580.6" r="2.5"/><circle cx="1970.1" cy="1520.8" r="2.5"/><circle cx="2011.7" cy="1534.1" r="2.5"/><circle cx="1966.1" cy="1487" r="2.5"/><circle cx="2000.6" cy="1561" r="2.5"/><circle cx="1965.9" cy="1555.9" r="2.5"/><circle cx="1977" cy="1441.9" r="2.5"/><circle cx="1967.7" cy="1558.6" r="2.5"/><circle cx="2005.2" cy="1560.3" r="2.5"/><circle cx="1995.8" cy="1544.4" r="2.5"/><circle cx="1991.5" cy="1545.1" r="2.5"/><circle cx="1998.7" cy="1542.4" r="2.5"/><circle cx="2010.8" cy="1573.1" r="2.5"/><circle cx="2006.3" cy="1577.5" r="2.5"/><circle cx="1996.2" cy="1562" r="2.5"/><circle cx="1982.1" cy="1526.2" r="2.5"/><circle cx="1980.4" cy="1562.4" r="2.5"/><circle cx="1976.8" cy="1573.3" r="2.5"/><circle cx="1974.5" cy="1573.5" r="2.5"/><circle cx="1997.3" cy="1567" r="2.5"/><circle cx="1993.9" cy="1576.7" r="2.5"/><circle cx="1979.8" cy="1585" r="2.5"/><circle cx="1989.8" cy="1517.2" r="2.5"/><circle cx="1981.3" cy="1555.7" r="2.5"/><circle cx="2000.7" cy="1548.1" r="2.5"/><circle cx="1978.3" cy="1574.9" r="2.5"/><circle cx="1983.6" cy="1551.1" r="2.5"/><circle cx="2010.7" cy="1549.2" r="2.5"/><circle cx="1966.2" cy="1571.3" r="2.5"/><circle cx="1998.8" cy="1538" r="2.5"/><circle cx="1989.2" cy="1563.5" r="2.5"/><circle cx="2001" cy="1530.7" r="2.5"/><circle cx="1999.6" cy="1537.9" r="2.5"/><circle cx="2008" cy="1565.9" r="2.5"/><circle cx="1979.3" cy="1531.2" r="2.5"/><circle cx="1989.9" cy="1552.4" r="2.5"/><circle cx="2004.5" cy="1535" r="2.5"/><circle cx="1977.1" cy="1537.4" r="2.5"/><circle cx="1970.9" cy="1551.7" r="2.5"/><circle cx="1980.5" cy="1579.7" r="2.5"/><circle cx="1966.6" cy="1542.3" r="2.5"/><circle cx="1997.8" cy="1489.8" r="2.5"/><circle cx="1986.8" cy="1419.3" r="2.5"/><circle cx="1987.7" cy="1544.2" r="2.5"/><circle cx="2008.8" cy="1525.9" r="2.5"/><circle cx="1967.6" cy="1582.5" r="2.5"/><circle cx="1970.1" cy="1540.6" r="2.5"/><circle cx="1964.6" cy="1548.8" r="2.5"/><circle cx="1964.8" cy="1541" r="2.5"/><circle cx="1979.8" cy="1510.5" r="2.5"/><circle cx="1989.7" cy="1569.5" r="2.5"/><circle cx="1987" cy="1550.6" r="2.5"/><circle cx="1978.1" cy="1547.1" r="2.5"/><circle cx="1970" cy="1523" r="2.5"/><circle cx="1977.6" cy="1556.7" r="2.5"/><circle cx="2005.4" cy="1527.6" r="2.5"/><circle cx="2002.1" cy="1478.5" r="2.5"/><circle cx="2002.6" cy="1569.4" r="2.5"/><circle cx="1968.3" cy="1578.7" r="2.5"/><circle cx="1989.7" cy="1570.3" r="2.5"/><circle cx="1983.6" cy="1533.6" r="2.5"/><circle cx="1979.9" cy="1529.6" r="2.5"/><circle cx="1979" cy="1564.2" r="2.5"/><circle cx="1991.1" cy="1537.2" r="2.5"/><circle cx="1983.7" cy="1512.9" r="2.5"/><circle cx="2010.7" cy="1405.2" r="2.5"/><circle cx="1993.6" cy="1519.8" r="2.5"/><circle cx="1966.8" cy="1562.5" r="2.5"/><circle cx="1966.5" cy="1530.8" r="2.5"/><circle cx="1989.6" cy="1528.6" r="2.5"/><circle cx="2002.6" cy="1570" r="2.5"/><circle cx="1968.8" cy="1552.2" r="2.5"/><circle cx="1998.8" cy="1555" r="2.5"/><circle cx="2011.4" cy="1531.5" r="2.5"/><circle cx="1974.3" cy="1545.9" r="2.5"/><circle cx="1989.6" cy="1509.8" r="2.5"/><circle cx="1971.4" cy="1497.3" r="2.5"/><circle cx="2006.4" cy="1572.1" r="2.5"/><circle cx="1977.6" cy="1545.3" r="2.5"/><circle cx="1971.9" cy="1554.9" r="2.5"/><circle cx="1985.1" cy="1559" r="2.5"/><circle cx="1977.7" cy="1521.5" r="2.5"/><circle cx="2008.9" cy="1535.7" r="2.5"/><circle cx="1967.2" cy="1554.4" r="2.5"/><circle cx="1993.4" cy="1530" r="2.5"/><circle cx="1975.6" cy="1561.9" r="2.5"/><circle cx="1995.8" cy="1581.5" r="2.5"/><circle cx="1995.1" cy="1555.2" r="2.5"/><circle cx="1994.5" cy="1554.5" r="2.5"/><circle cx="1986.8" cy="1563.3" r="2.5"/><circle cx="1979" cy="1562.1" r="2.5"/><circle cx="1965.8" cy="1540.3" r="2.5"/><circle cx="1981.1" cy="1502.2" r="2.5"/><circle cx="1996.3" cy="1545.5" r="2.5"/><circle cx="1973.5" cy="1563.9" r="2.5"/><circle cx="1974.3" cy="1559.4" r="2.5"/><circle cx="1980.1" cy="1553.4" r="2.5"/><circle cx="1981.3" cy="1576.2" r="2.5"/><circle cx="2001.4" cy="1560.6" r="2.5"/><circle cx="1998.2" cy="1570.9" r="2.5"/><circle cx="1994.8" cy="1563.7" r="2.5"/><circle cx="1979.8" cy="1568.5" r="2.5"/><circle cx="1984.5" cy="1530.3" r="2.5"/><circle cx="1992" cy="1541.1" r="2.5"/><circle cx="1972.4" cy="1557.1" r="2.5"/><circle cx="1999.5" cy="1581.4" r="2.5"/><circle cx="1985.5" cy="1529.8" r="2.5"/><circle cx="1970.3" cy="1553.7" r="2.5"/><circle cx="1987.9" cy="1535.3" r="2.5"/><circle cx="2007.6" cy="1561.4" r="2.5"/><circle cx="1975.3" cy="1555.2" r="2.5"/><circle cx="2005.4" cy="1542.8" r="2.5"/><circle cx="1970.4" cy="1450.3" r="2.5"/><circle cx="1990.6" cy="1563.6" r="2.5"/><circle cx="2010" cy="1584.1" r="2.5"/><circle cx="1997.2" cy="1550.7" r="2.5"/><circle cx="1968.2" cy="1563.1" r="2.5"/><circle cx="1992.2" cy="1587" r="2.5"/><circle cx="1984.3" cy="1539.2" r="2.5"/><circle cx="2004.1" cy="1577.6" r="2.5"/><circle cx="1979.9" cy="1538.6" r="2.5"/><circle cx="2011.1" cy="1551.3" r="2.5"/><circle cx="1973.8" cy="1568.9" r="2.5"/><circle cx="1993.6" cy="1527.7" r="2.5"/><circle cx="1993.2" cy="1549" r="2.5"/><circle cx="2002.9" cy="1538.3" r="2.5"/><circle cx="1973.1" cy="1532.3" r="2.5"/><circle cx="1972" cy="1433.4" r="2.5"/><circle cx="2009.9" cy="1536.3" r="2.5"/><circle cx="2001.6" cy="1541.4" r="2.5"/><circle cx="1967" cy="1553" r="2.5"/><circle cx="1973.5" cy="1567" r="2.5"/><circle cx="1971.4" cy="1548.4" r="2.5"/><circle cx="2003" cy="1567.3" r="2.5"/><circle cx="1994" cy="1575.7" r="2.5"/><circle cx="1981.8" cy="1530.5" r="2.5"/><circle cx="1969.5" cy="1549.3" r="2.5"/><circle cx="1989.1" cy="1402.4" r="2.5"/><circle cx="1971.1" cy="1543.5" r="2.5"/><circle cx="1997.4" cy="1522.7" r="2.5"/><circle cx="1990.9" cy="1519" r="2.5"/><circle cx="2004.5" cy="1484.1" r="2.5"/><circle cx="1976.5" cy="1575.4" r="2.5"/><circle cx="1999.6" cy="1553.2" r="2.5"/><circle cx="1969.1" cy="1571" r="2.5"/><circle cx="1995.9" cy="1576.8" r="2.5"/><circle cx="1973" cy="1558.2" r="2.5"/><circle cx="2001.4" cy="1558.7" r="2.5"/><circle cx="1969.1" cy="1573.1" r="2.5"/><circle cx="1999.5" cy="1554.1" r="2.5"/><circle cx="2005" cy="1549.8" r="2.5"/><circle cx="1971.6" cy="1536" r="2.5"/><circle cx="2003.2" cy="1540.3" r="2.5"/><circle cx="1988.2" cy="1552.6" r="2.5"/><circle cx="2007.7" cy="1559.7" r="2.5"/><circle cx="1979.6" cy="1543.7" r="2.5"/><circle cx="1983.6" cy="1566.5" r="2.5"/><circle cx="1977.5" cy="1548.6" r="2.5"/><circle cx="1972.4" cy="1536.7" r="2.5"/><circle cx="1965.4" cy="1542.6" r="2.5"/><circle cx="1999.7" cy="1539.9" r="2.5"/><circle cx="2011.9" cy="1572.7" r="2.5"/><circle cx="1981.1" cy="1560.7" r="2.5"/><circle cx="1988.8" cy="1539.7" r="2.5"/><circle cx="2006.1" cy="1567.8" r="2.5"/><circle cx="1994" cy="1468.4" r="2.5"/><circle cx="1966" cy="1569.3" r="2.5"/><circle cx="1964.9" cy="1564.6" r="2.5"/><circle cx="1976.3" cy="1458.8" r="2.5"/><circle cx="1983.8" cy="1555.4" r="2.5"/><circle cx="1985.6" cy="1555.6" r="2.5"/><circle cx="1992.3" cy="1541.5" r="2.5"/><circle cx="1991.9" cy="1582.2" r="2.5"/><circle cx="1974.1" cy="1515.2" r="2.5"/><circle cx="1995.5" cy="1533.4" r="2.5"/><circle cx="1976" cy="1542.1" r="2.5"/><circle cx="1996.3" cy="1551.9" r="2.5"/><circle cx="1995.4" cy="1546.3" r="2.5"/><circle cx="1983.4" cy="1533.4" r="2.5"/><circle cx="1989.4" cy="1589.3" r="2.5"/><circle cx="1987.7" cy="1556.8" r="2.5"/><circle cx="2010.5" cy="1565.3" r="2.5"/><circle cx="1968.2" cy="1515.8" r="2.5"/><circle cx="1976.2" cy="1519.4" r="2.5"/><circle cx="1976.4" cy="1530.9" r="2.5"/><circle cx="1992" cy="1543.9" r="2.5"/><circle cx="1968.8" cy="1588.7" r="2.5"/><circle cx="1967.6" cy="1539.4" r="2.5"/><circle cx="1986.6" cy="1587.9" r="2.5"/><circle cx="2008.8" cy="1574.9" r="2.5"/><circle cx="1976.9" cy="1507.2" r="2.5"/><circle cx="2009.6" cy="1563.3" r="2.5"/><circle cx="1982.4" cy="1537.1" r="2.5"/><circle cx="2007.6" cy="1531.9" r="2.5"/><circle cx="1969.4" cy="1582.8" r="2.5"/><circle cx="1981.3" cy="1572.4" r="2.5"/><circle cx="1980.3" cy="1534.4" r="2.5"/><circle cx="1994" cy="1478.5" r="2.5"/><circle cx="1997.6" cy="1567.7" r="2.5"/><circle cx="1968.3" cy="1580" r="2.5"/><circle cx="1999.8" cy="1541.8" r="2.5"/><circle cx="1993.2" cy="1554.7" r="2.5"/><circle cx="1999.1" cy="1554" r="2.5"/><circle cx="1985.6" cy="1546.7" r="2.5"/><circle cx="1999.2" cy="1581.7" r="2.5"/><circle cx="2004.9" cy="1580.4" r="2.5"/><circle cx="1983.7" cy="1572.7" r="2.5"/><circle cx="1990.4" cy="1579" r="2.5"/><circle cx="1988.3" cy="1560" r="2.5"/><circle cx="1966.8" cy="1538.6" r="2.5"/><circle cx="2009.1" cy="1557.4" r="2.5"/><circle cx="2002.3" cy="1548.9" r="2.5"/><circle cx="1991.3" cy="1546.7" r="2.5"/><circle cx="1971.2" cy="1569.8" r="2.5"/><circle cx="2011.1" cy="1558.9" r="2.5"/><circle cx="1989.9" cy="1557.2" r="2.5"/><circle cx="1984.4" cy="1556.6" r="2.5"/><circle cx="2002" cy="1565.6" r="2.5"/><circle cx="1973.7" cy="1590.5" r="2.5"/><circle cx="1968.6" cy="1561.8" r="2.5"/><circle cx="1974.8" cy="1474.6" r="2.5"/><circle cx="1996.2" cy="1543.1" r="2.5"/><circle cx="2002.7" cy="1585.2" r="2.5"/><circle cx="1983.4" cy="1532.1" r="2.5"/><circle cx="1985.1" cy="1425" r="2.5"/><circle cx="1969.4" cy="1544.4" r="2.5"/><circle cx="2008.5" cy="1523.6" r="2.5"/><circle cx="1968.6" cy="1529.3" r="2.5"/><circle cx="1972.2" cy="1568.7" r="2.5"/><circle cx="2011.3" cy="1566.6" r="2.5"/><circle cx="2011.8" cy="1546.8" r="2.5"/><circle cx="1968.3" cy="1556.4" r="2.5"/><circle cx="1972.9" cy="1544.8" r="2.5"/><circle cx="2009.8" cy="1464.4" r="2.5"/><circle cx="1968.5" cy="1467.2" r="2.5"/><circle cx="2009.7" cy="1577" r="2.5"/><circle cx="1992.3" cy="1559.5" r="2.5"/><circle cx="1971.7" cy="1533.8" r="2.5"/><circle cx="2009.7" cy="1528.4" r="2.5"/><circle cx="1987.7" cy="1564.3" r="2.5"/><circle cx="1973" cy="1566.8" r="2.5"/><circle cx="2011.8" cy="1578.6" r="2.5"/><circle cx="1965.1" cy="1574.6" r="2.5"/><circle cx="2002.7" cy="1543.9" r="2.5"/><circle cx="1971.1" cy="1545.4" r="2.5"/><circle cx="1978.8" cy="1564.5" r="2.5"/><circle cx="1974.3" cy="1555.9" r="2.5"/><circle cx="1988.2" cy="1527.8" r="2.5"/><circle cx="2010.7" cy="1540.7" r="2.5"/><circle cx="1974.7" cy="1595.5" r="2.5"/><circle cx="2001.7" cy="1544.6" r="2.5"/><circle cx="1972.3" cy="1569.1" r="2.5"/><circle cx="1990.3" cy="1541.8" r="2.5"/><circle cx="1974.2" cy="1552" r="2.5"/><circle cx="2009.1" cy="1540" r="2.5"/><circle cx="1976.3" cy="1553.2" r="2.5"/><circle cx="2006.1" cy="1574.2" r="2.5"/><circle cx="1995.2" cy="1540.7" r="2.5"/><circle cx="1994.9" cy="1581" r="2.5"/><circle cx="1977.5" cy="1492.6" r="2.5"/><circle cx="1978" cy="1561.6" r="2.5"/><circle cx="1991.9" cy="1559.9" r="2.5"/><circle cx="1994.3" cy="1566.7" r="2.5"/><circle cx="1992.4" cy="1550.3" r="2.5"/><circle cx="1983.2" cy="1568.4" r="2.5"/><circle cx="2011.8" cy="1578.1" r="2.5"/><circle cx="1973.4" cy="1571.9" r="2.5"/><circle cx="1996.6" cy="1549.6" r="2.5"/><circle cx="1993.9" cy="1557.6" r="2.5"/><circle cx="1978" cy="1567.4" r="2.5"/><circle cx="1996.5" cy="1520.1" r="2.5"/><circle cx="1966.2" cy="1575.5" r="2.5"/><circle cx="1967.4" cy="1535.5" r="2.5"/><circle cx="1985.4" cy="1525.7" r="2.5"/><circle cx="2004.6" cy="1458.8" r="2.5"/><circle cx="2005" cy="1579.2" r="2.5"/><circle cx="1976.2" cy="1514.5" r="2.5"/><circle cx="1964.9" cy="1523.8" r="2.5"/><circle cx="2010" cy="1528.8" r="2.5"/><circle cx="2010.2" cy="1529.1" r="2.5"/><circle cx="1976.8" cy="1475.7" r="2.5"/><circle cx="1990.6" cy="1516.7" r="2.5"/><circle cx="1982.3" cy="1518.2" r="2.5"/><circle cx="1994.9" cy="1363" r="2.5"/><circle cx="1976.7" cy="1559.8" r="2.5"/><circle cx="1973.1" cy="1499.8" r="2.5"/><circle cx="2011.7" cy="1504.1" r="2.5"/><circle cx="1977.4" cy="1546" r="2.5"/><circle cx="1973.5" cy="1547.2" r="2.5"/><circle cx="2000.3" cy="1588.5" r="2.5"/><circle cx="2009.6" cy="1532.8" r="2.5"/><circle cx="1998.9" cy="1529" r="2.5"/><circle cx="2001" cy="1554.2" r="2.5"/><circle cx="1980.1" cy="1550.1" r="2.5"/><circle cx="2007.7" cy="1533.2" r="2.5"/><circle cx="1998.6" cy="1562.3" r="2.5"/><circle cx="2004.9" cy="1539.2" r="2.5"/><circle cx="2003.2" cy="1522" r="2.5"/><circle cx="1993.4" cy="1576.4" r="2.5"/><circle cx="1977.1" cy="1562.7" r="2.5"/><circle cx="2008.2" cy="1552.8" r="2.5"/><circle cx="1970.8" cy="1580.2" r="2.5"/><circle cx="1968.5" cy="1542.9" r="2.5"/><circle cx="1982.7" cy="1504.5" r="2.5"/><circle cx="1971.3" cy="1574.7" r="2.5"/><circle cx="2004.9" cy="1558.5" r="2.5"/><circle cx="1985.8" cy="1531.3" r="2.5"/><circle cx="1992.8" cy="1558" r="2.5"/><circle cx="1997" cy="1559" r="2.5"/><circle cx="1998.1" cy="1556.3" r="2.5"/><circle cx="2001.4" cy="1572.1" r="2.5"/><circle cx="1980.4" cy="1565.5" r="2.5"/><circle cx="1994.6" cy="1453.1" r="2.5"/><circle cx="1967.5" cy="1552.4" r="2.5"/><circle cx="1998.3" cy="1572.9" r="2.5"/><circle cx="2009.9" cy="1564.7" r="2.5"/><circle cx="1975.6" cy="1571.1" r="2.5"/><circle cx="1983.6" cy="1574.5" r="2.5"/><circle cx="1969.3" cy="1553.6" r="2.5"/><circle cx="1995.1" cy="1561.1" r="2.5"/><circle cx="1964.7" cy="1481.3" r="2.5"/><circle cx="1979.1" cy="1481.3" r="2.5"/><circle cx="1996.7" cy="1508.2" r="2.5"/><circle cx="1974.6" cy="1518.5" r="2.5"/><circle cx="2011.2" cy="1537.7" r="2.5"/><circle cx="1975.7" cy="1538.2" r="2.5"/><circle cx="1986.7" cy="1549.4" r="2.5"/><circle cx="2002.6" cy="1556.1" r="2.5"/><circle cx="1991.4" cy="1566.1" r="2.5"/><circle cx="1981.8" cy="1536.5" r="2.5"/><circle cx="1982.8" cy="1536" r="2.5"/><circle cx="2008.6" cy="1537.6" r="2.5"/><circle cx="1999.8" cy="1491.5" r="2.5"/><circle cx="2005.4" cy="1561.6" r="2.5"/><circle cx="1989.6" cy="1563" r="2.5"/><circle cx="1965" cy="1559.1" r="2.5"/><circle cx="1970.9" cy="1564.9" r="2.5"/><circle cx="2000.9" cy="1555.5" r="2.5"/><circle cx="1982.6" cy="1570.6" r="2.5"/><circle cx="1999.7" cy="1517.4" r="2.5"/><circle cx="1969.1" cy="1524.3" r="2.5"/><circle cx="2005.1" cy="1548" r="2.5"/><circle cx="1974.3" cy="1470" r="2.5"/><circle cx="1985.8" cy="1528.2" r="2.5"/><circle cx="2011.6" cy="1550.4" r="2.5"/><circle cx="2007.2" cy="1573.7" r="2.5"/><circle cx="1994.9" cy="1528.1" r="2.5"/><circle cx="1969.7" cy="1574" r="2.5"/><circle cx="1970.3" cy="1484.1" r="2.5"/><circle cx="2007.9" cy="1565.1" r="2.5"/><circle cx="1993.6" cy="1560.4" r="2.5"/><circle cx="1979.7" cy="1541.3" r="2.5"/><circle cx="1998" cy="1566.1" r="2.5"/><circle cx="1969.3" cy="1512.2" r="2.5"/><circle cx="1978.5" cy="1444.7" r="2.5"/><circle cx="1983.2" cy="1456" r="2.5"/><circle cx="2008.2" cy="1570.4" r="2.5"/><circle cx="2006.7" cy="1562.6" r="2.5"/><circle cx="1994.6" cy="1578.3" r="2.5"/><circle cx="1999.3" cy="1592.3" r="2.5"/><circle cx="1992.4" cy="1570.7" r="2.5"/><circle cx="1997.8" cy="1582.4" r="2.5"/><circle cx="1970.7" cy="1487" r="2.5"/><circle cx="1991.1" cy="1567.2" r="2.5"/><circle cx="1982.2" cy="1570.1" r="2.5"/><circle cx="1971.5" cy="1532.2" r="2.5"/><circle cx="1986.7" cy="1591.8" r="2.5"/><circle cx="1964.6" cy="1544.9" r="2.5"/><circle cx="1979.8" cy="1571.6" r="2.5"/><circle cx="1965.3" cy="1564.1" r="2.5"/><circle cx="1971.1" cy="1574.1" r="2.5"/><circle cx="1965.6" cy="1461.6" r="2.5"/><circle cx="1996.9" cy="1572.5" r="2.5"/><circle cx="1995.2" cy="1529.6" r="2.5"/><circle cx="1987.7" cy="1547.6" r="2.5"/><circle cx="2008.3" cy="1551.5" r="2.5"/><circle cx="1982.6" cy="1566.3" r="2.5"/><circle cx="1969.6" cy="1539" r="2.5"/><circle cx="2011.8" cy="1591.4" r="2.5"/><circle cx="1986.2" cy="1534.4" r="2.5"/>
</g>
<g fill="#e2dc72" fill-opacity="0.5" stroke="#22220a" stroke-width="1.6" stroke-opacity="0.9">
<circle cx="2034.2" cy="1541.1" r="2.7"/><circle cx="2044.1" cy="1526.8" r="2.7"/><circle cx="2074.4" cy="1551.9" r="2.7"/><circle cx="2049.6" cy="1501.2" r="2.7"/><circle cx="2061.4" cy="1579.1" r="2.7"/><circle cx="2058" cy="1456.9" r="2.7"/><circle cx="2039.5" cy="1485" r="2.7"/><circle cx="2031.5" cy="1531.4" r="2.7"/><circle cx="2035.5" cy="1512" r="2.7"/><circle cx="2035.5" cy="1496.6" r="2.7"/><circle cx="2050.8" cy="1542.4" r="2.7"/><circle cx="2047.9" cy="1551" r="2.7"/><circle cx="2054" cy="1466.5" r="2.7"/><circle cx="2073.6" cy="1556.3" r="2.7"/><circle cx="2060.3" cy="1470.6" r="2.7"/><circle cx="2070.6" cy="1461.9" r="2.7"/><circle cx="2054.4" cy="1505.4" r="2.7"/><circle cx="2059.4" cy="1563.4" r="2.7"/><circle cx="2056.7" cy="1474.4" r="2.7"/><circle cx="2072.1" cy="1559.7" r="2.7"/><circle cx="2069.2" cy="1534.9" r="2.7"/><circle cx="2030" cy="1549.8" r="2.7"/><circle cx="2067.4" cy="1474" r="2.7"/><circle cx="2058.6" cy="1557.4" r="2.7"/><circle cx="2061.8" cy="1502" r="2.7"/><circle cx="2074.4" cy="1408.8" r="2.7"/><circle cx="2058.2" cy="1517.3" r="2.7"/><circle cx="2037.2" cy="1546.2" r="2.7"/><circle cx="2037.4" cy="1534" r="2.7"/><circle cx="2033.3" cy="1561.7" r="2.7"/><circle cx="2064.7" cy="1536.6" r="2.7"/><circle cx="2045.5" cy="1540" r="2.7"/><circle cx="2065.2" cy="1544.1" r="2.7"/><circle cx="2065.4" cy="1532.9" r="2.7"/><circle cx="2036.7" cy="1486.2" r="2.7"/><circle cx="2064.9" cy="1553.5" r="2.7"/><circle cx="2071.7" cy="1509.3" r="2.7"/><circle cx="2074.1" cy="1491.9" r="2.7"/><circle cx="2067.9" cy="1446.8" r="2.7"/><circle cx="2047.2" cy="1545.1" r="2.7"/><circle cx="2055.5" cy="1520.1" r="2.7"/><circle cx="2071.4" cy="1479.3" r="2.7"/><circle cx="2038.2" cy="1438.6" r="2.7"/><circle cx="2049" cy="1516.1" r="2.7"/><circle cx="2064.2" cy="1567.8" r="2.7"/><circle cx="2048.4" cy="1554.8" r="2.7"/><circle cx="2062.4" cy="1548.7" r="2.7"/><circle cx="2040.1" cy="1482" r="2.7"/><circle cx="2055.9" cy="1523.4" r="2.7"/><circle cx="2072.6" cy="1538.6" r="2.7"/><circle cx="2058.9" cy="1493.9" r="2.7"/><circle cx="2069.6" cy="1530.6" r="2.7"/>
</g>
<path d="M1988.8 1357.5V1356H2054.8V1357.5" stroke="#000" stroke-width="3.4" fill="none"/>
<text x="2021.8" y="1345.3" font-size="20.4" text-anchor="middle">p = 8.5e−07</text>
<text x="2025.8" y="1686" font-size="20.4" text-anchor="end" transform="rotate(-40 2025.8 1686)">Shared</text>
<path d="M1741.5 1667.2v2.5M1880.7 1667.2v2.5M2021.8 1667.2v2.5" stroke="#333" stroke-width="4" fill="none"/>
<text x="1895.4" y="1788.6" font-size="20.4" text-anchor="middle" font-weight="bold">Gene set</text>
<rect x="1945" y="1149.1" width="154.2" height="81.4" fill="#fff" stroke="#000" stroke-width="4"/>
<line x1="1964.8" y1="1162.6" x2="1964.8" y2="1187.2" stroke="#363636" stroke-width="4" stroke-linecap="round"/>
<rect x="1953.3" y="1166.9" width="23" height="16" fill="#E2E2E2" stroke="#363636" stroke-width="4.2" rx="1.5"/>
<line x1="1953.3" y1="1174.9" x2="1976.3" y2="1174.9" stroke="#363636" stroke-width="7"/>
<circle cx="1964.8" cy="1174.9" r="2.8" fill="#cfcfcf" stroke="#1a1a1a" stroke-width="1.5"/>
<text x="1990.6" y="1181.7" font-size="19.4">NSD1−wt</text>
<line x1="1964.8" y1="1193.3" x2="1964.8" y2="1217.9" stroke="#363636" stroke-width="4" stroke-linecap="round"/>
<rect x="1953.3" y="1197.6" width="23" height="16" fill="#F6F18C" stroke="#363636" stroke-width="4.2" rx="1.5"/>
<line x1="1953.3" y1="1205.6" x2="1976.3" y2="1205.6" stroke="#363636" stroke-width="7"/>
<circle cx="1964.8" cy="1205.6" r="2.8" fill="#e9e36f" stroke="#1a1a1a" stroke-width="1.5"/>
<text x="1990.6" y="1212.4" font-size="19.4">NSD1−mut</text>
<text x="10.8" y="1856" font-size="33" font-weight="bold">i</text>
<text x="351" y="1907.7" font-size="24.6" text-anchor="middle">Glutathione score distribution in KIRC</text>
<text x="25" y="2150.6" font-size="28.5" text-anchor="middle" transform="rotate(-90 25 2150.6)">Count</text>
<rect x="88" y="1925.4" width="526" height="451.6" fill="#fff"/>
<path d="M211.3 1925.4V2377M365.8 1925.4V2377M520.4 1925.4V2377M88 2294.9H614M88 2172.2H614M88 2049.4H614" stroke="#ededed" stroke-width="1.8" fill="none"/>
<path d="M134 1925.4V2377M288.6 1925.4V2377M443.1 1925.4V2377M597.6 1925.4V2377M88 2356.3H614M88 2233.5H614M88 2110.8H614M88 1988H614" stroke="#ebebeb" stroke-width="3.7" fill="none"/>
<g fill="#595959">
<rect x="97.4" y="2350.2" width="11.5" height="6.1" fill="#595959"/>
<rect x="112.8" y="2350.2" width="11.5" height="6.1" fill="#595959"/>
<rect x="143.7" y="2344" width="11.5" height="12.3" fill="#595959"/>
<rect x="159.2" y="2344" width="11.5" height="12.3" fill="#595959"/>
<rect x="174.6" y="2337.9" width="11.5" height="18.4" fill="#595959"/>
<rect x="190.1" y="2313.3" width="11.5" height="43" fill="#595959"/>
<rect x="205.5" y="2301.1" width="11.5" height="55.2" fill="#595959"/>
<rect x="221" y="2301.1" width="11.5" height="55.2" fill="#595959"/>
<rect x="236.4" y="2344" width="11.5" height="12.3" fill="#595959"/>
<rect x="251.9" y="2319.5" width="11.5" height="36.8" fill="#595959"/>
<rect x="267.4" y="2344" width="11.5" height="12.3" fill="#595959"/>
<rect x="282.8" y="2325.6" width="11.5" height="30.7" fill="#595959"/>
<rect x="298.3" y="2325.6" width="11.5" height="30.7" fill="#595959"/>
<rect x="313.7" y="2313.3" width="11.5" height="43" fill="#595959"/>
<rect x="329.2" y="2313.3" width="11.5" height="43" fill="#595959"/>
<rect x="344.6" y="2294.9" width="11.5" height="61.4" fill="#595959"/>
<rect x="360.1" y="2276.5" width="11.5" height="79.8" fill="#595959"/>
<rect x="375.5" y="2221.3" width="11.5" height="135" fill="#595959"/>
<rect x="391" y="2270.4" width="11.5" height="85.9" fill="#595959"/>
<rect x="406.4" y="2215.1" width="11.5" height="141.2" fill="#595959"/>
<rect x="421.9" y="2092.4" width="11.5" height="263.9" fill="#595959"/>
<rect x="437.4" y="2190.6" width="11.5" height="165.7" fill="#595959"/>
<rect x="452.8" y="2098.5" width="11.5" height="257.8" fill="#595959"/>
<rect x="468.3" y="2061.7" width="11.5" height="294.6" fill="#595959"/>
<rect x="483.7" y="2012.6" width="11.5" height="343.7" fill="#595959"/>
<rect x="499.2" y="1945.1" width="11.5" height="411.2" fill="#595959"/>
<rect x="514.6" y="2086.2" width="11.5" height="270.1" fill="#595959"/>
<rect x="530.1" y="2209" width="11.5" height="147.3" fill="#595959"/>
<rect x="545.5" y="2282.6" width="11.5" height="73.7" fill="#595959"/>
<rect x="561" y="2294.9" width="11.5" height="61.4" fill="#595959"/>
<rect x="576.4" y="2313.3" width="11.5" height="43" fill="#595959"/>
<rect x="591.9" y="2344" width="11.5" height="12.3" fill="#595959"/>
</g>
<line x1="366.2" y1="1937.4" x2="366.2" y2="2374.8" stroke="#E5141B" stroke-width="4.5" stroke-dasharray="17.3 17.9"/>
<rect x="88" y="1925.4" width="526" height="451.6" fill="none" stroke="#000" stroke-width="4.6"/>
<text x="69.4" y="2361.7" font-size="20.4" text-anchor="end">0</text>
<text x="69.4" y="2238.9" font-size="20.4" text-anchor="end">20</text>
<text x="69.4" y="2116.2" font-size="20.4" text-anchor="end">40</text>
<text x="69.4" y="1993.4" font-size="20.4" text-anchor="end">60</text>
<path d="M85.7 2356.3h-3.3M85.7 2233.5h-3.3M85.7 2110.8h-3.3M85.7 1988h-3.3" stroke="#333" stroke-width="4" fill="none"/>
<path d="M134 2379.3v3.3M288.6 2379.3v3.3M443.1 2379.3v3.3M597.6 2379.3v3.3" stroke="#333" stroke-width="4" fill="none"/>
<text x="134" y="2408.9" font-size="20.4" text-anchor="middle">−4</text>
<text x="288.6" y="2408.9" font-size="20.4" text-anchor="middle">−2</text>
<text x="443.1" y="2408.9" font-size="20.4" text-anchor="middle">0</text>
<text x="597.6" y="2408.9" font-size="20.4" text-anchor="middle">2</text>
<text x="351" y="2459" font-size="28.5" text-anchor="middle">Score</text>
<text x="668.3" y="1853.9" font-size="33" font-weight="bold">j</text>
<text x="883" y="1896.6" font-size="24.6" text-anchor="middle">Glutathione and genomic</text>
<text x="883" y="1921.5" font-size="24.6" text-anchor="middle">alterations in KIRC</text>
<text x="680.7" y="2139.3" font-size="28.5" text-anchor="middle" transform="rotate(-90 680.7 2139.3)">Percentage of tumours with alteration</text>
<rect x="754.9" y="1949.8" width="266.9" height="376.4" fill="#fff"/>
<path d="M754.9 2272.1H1021.8M754.9 2197.6H1021.8M754.9 2123.1H1021.8M754.9 2048.6H1021.8M754.9 1974.1H1021.8" stroke="#ededed" stroke-width="1.8" fill="none"/>
<path d="M804.8 1949.8V2326.2M888.3 1949.8V2326.2M971.5 1949.8V2326.2M754.9 2309.3H1021.8M754.9 2234.8H1021.8M754.9 2160.3H1021.8M754.9 2085.9H1021.8M754.9 2011.4H1021.8" stroke="#ebebeb" stroke-width="3.7" fill="none"/>
<rect x="777.3" y="2158.9" width="26.2" height="150.4" fill="#F8766D"/>
<rect x="806.1" y="2002.4" width="26.2" height="306.9" fill="#00BFC4"/>
<rect x="860.8" y="2167.8" width="26.2" height="141.5" fill="#F8766D"/>
<rect x="889.6" y="2038.9" width="26.2" height="270.4" fill="#00BFC4"/>
<rect x="944" y="2256" width="26.2" height="53.3" fill="#F8766D"/>
<rect x="972.8" y="2294.4" width="26.2" height="14.9" fill="#00BFC4"/>
<rect x="754.9" y="1949.8" width="266.9" height="376.4" fill="none" stroke="#000" stroke-width="4.6"/>
<text x="738.2" y="2314.7" font-size="20.4" text-anchor="end">0</text>
<text x="738.2" y="2240.2" font-size="20.4" text-anchor="end">10</text>
<text x="738.2" y="2165.7" font-size="20.4" text-anchor="end">20</text>
<text x="738.2" y="2091.3" font-size="20.4" text-anchor="end">30</text>
<text x="738.2" y="2016.8" font-size="20.4" text-anchor="end">40</text>
<path d="M752.6 2309.3h-3.3M752.6 2234.8h-3.3M752.6 2160.3h-3.3M752.6 2085.9h-3.3M752.6 2011.4h-3.3" stroke="#333" stroke-width="4" fill="none"/>
<path d="M804.8 2328.5v3.3M888.3 2328.5v3.3M971.5 2328.5v3.3" stroke="#333" stroke-width="4" fill="none"/>
<path d="M788.8 1977.3V1974.8H820.8V1977.3" stroke="#000" stroke-width="3.4" fill="none"/>
<text x="804.8" y="1974.3" font-size="24" text-anchor="middle">***</text>
<path d="M872.3 1977.3V1974.8H904.3V1977.3" stroke="#000" stroke-width="3.4" fill="none"/>
<text x="888.3" y="1974.3" font-size="24" text-anchor="middle">**</text>
<path d="M955.5 2201V2198.5H987.5V2201" stroke="#000" stroke-width="3.4" fill="none"/>
<text x="971.5" y="2198" font-size="24" text-anchor="middle">*</text>
<text x="806.1" y="2354" font-size="20.4" text-anchor="end" transform="rotate(-40 806.1 2354)">VHL mut/del</text>
<text x="889.6" y="2354" font-size="20.4" text-anchor="end" transform="rotate(-40 889.6 2354)">PBRM1 mut/del</text>
<text x="972.8" y="2354" font-size="20.4" text-anchor="end" transform="rotate(-40 972.8 2354)">CDKN2A del</text>
<text x="1057.3" y="1855.9" font-size="33" font-weight="bold">k</text>
<text x="1362.5" y="1919.3" font-size="24.6" text-anchor="middle">Glutathione and survival in KIRC</text>
<text x="1070" y="2137.3" font-size="28.5" text-anchor="middle" transform="rotate(-90 1070 2137.3)">Survival probability</text>
<rect x="1135.5" y="1937.6" width="454.1" height="400" fill="#fff"/>
<path d="M1156 1954.2H1163V1957.1H1170.1V1959.9H1177.1V1962.7H1184.1V1965.5H1192.1V1970.1H1200.1V1974.7H1208.1V1979.2H1214.9V1983.1H1221.8V1987H1228.6V1990.8H1235.5V1994.7H1242.3V1998.7H1249.2V2002.7H1256V2006.7H1262.9V2010.8H1269.7V2014.9H1276.6V2019H1283.4V2023.1H1290.3V2027.2H1297.1V2031H1304V2034.9H1310.8V2038.8H1317.7V2042.6H1327.9V2056.3H1334.1V2058H1340.3V2059.7H1346.4V2061.4H1352.6V2063.2H1358.8V2064.9H1366.8V2067.1H1374.7V2069.4H1382.7V2071.7H1390.7V2075.7H1398.7V2079.7H1406.7V2083.7H1415.3V2087.1H1423.8V2090.5H1432.4V2094H1441V2097.4H1447.8V2102.5H1519.7V2102.5H1530V2111.1H1581.4V2111.1L1581.4 2189.2V2189.2H1530V2176.2H1530V2172.7H1523.2V2157.3H1519.7V2157.3H1447.8V2143.6H1441V2141.1H1434.1V2138.5H1427.3V2132.8H1420.4V2127.1H1413.6V2121.4H1406.7V2115.7H1398.7V2110H1390.7V2104.2H1382.7V2100.8H1374.7V2097.4H1366.8V2094H1358.8V2092.3H1352.6V2090.5H1346.4V2088.8H1340.3V2087.1H1334.1V2085.4H1327.9V2064.9H1317.7V2061H1310.8V2057.2H1304V2053.3H1297.1V2049.5H1290.3V2044.7H1283.4V2040H1276.6V2035.3H1269.7V2030.6H1262.9V2025.9H1256V2021.2H1249.2V2016.5H1242.3V2011.8H1235.5V2007.1H1228.6V2002.4H1221.8V1997.7H1214.9V1992.9H1208.1V1987.8H1200.1V1982.7H1192.1V1977.5H1184.1V1971.7H1177.1V1965.9H1170.1V1960.1H1163V1954.2H1156Z" fill="#00BFC4" fill-opacity="0.3"/>
<path d="M1156 1954.2H1161.8V1967.3H1167V1981H1173.8V1983.5H1180.7V1986.1H1191V1987.8H1192.7V2001.5H1200.7V2002.1H1208.7V2002.6H1216.6V2003.2H1221.8V2011.8H1228.6V2022.1H1238.9V2032.3H1245.8V2042.6H1252.6V2052.9H1261.2V2054.6H1269.7V2056.3H1271.4V2071.7H1277.8V2072.7H1284.2V2073.7H1290.5V2074.6H1296.9V2075.6H1303.2V2076.6H1309.6V2077.6H1316V2078.6H1321.1V2100.8H1327.5V2101.7H1333.9V2102.5H1340.4V2103.4H1346.8V2104.2H1353.2V2105.1H1359.6V2106H1366V2106.8H1372.5V2107.7H1374.2V2126.5H1381V2128.2H1387.9V2129.9H1389.6V2138.5H1567.7V2138.5L1567.7 2253.2V2253.2H1387.9V2239.5H1386.2V2237.8H1374.2V2210.4H1372.5V2209.8H1366.2V2209.3H1359.9V2208.7H1353.6V2193.3H1351.9V2192.9H1344.6V2192.4H1337.4V2192H1330.1V2191.6H1322.8V2165.9H1316V2165.9H1300.5V2159H1295.4V2158.5H1288V2157.9H1280.6V2157.3H1273.2V2148.8H1262.9V2141.1H1256V2133.4H1249.2V2122.2H1242.3V2111.1H1235.5V2100.8H1228.6V2090.5H1221.8V2066.6H1214.9V2066H1206.9V2065.4H1198.9V2064.9H1191V2046H1191V2044.3H1180.7V2025.5H1172.1V2004.9H1163.6V1981H1160.1V1954.2H1156Z" fill="#F8766D" fill-opacity="0.3"/>
<path d="M1150.5 1954.2H1156V1954.2H1160.1V1970.7H1163.6V1982.7H1167V1994.7H1173.8V1996.4H1177.3V2016.9H1183.8V2017.4H1190.3V2017.9H1191V2034H1213.2V2034.7H1217.7V2046H1221.8V2056.3H1230.3V2071.7H1242.3V2073.4H1245.8V2085.4H1249.2V2094H1256V2095.7H1262.9V2097.4H1266.3V2112.8H1276.6V2119.7H1295.4V2119.7H1300.5V2124.8H1316V2124.8H1319.4V2136.8H1325.2V2152.2H1351.9V2152.9H1353.6V2165.9H1370.8V2166.6H1372.5V2179.6H1374.2V2191.6H1386.2V2195H1387.9V2209.4H1572.8V2209.4" stroke="#F8766D" stroke-width="4.2" fill="none" stroke-linejoin="miter"/>
<path d="M1150.5 1954.2H1156V1954.2H1161.5V1957.3H1167V1960.4H1172.7V1963.8H1178.4V1967.3H1184.1V1970.7H1191V1975.5H1197.8V1980.3H1202.9V1984H1208.1V1987.8H1214.9V1992.1H1221.8V1996.4H1228.6V1999.8H1235.5V2003.2H1241.2V2006.6H1246.9V2010.1H1252.6V2013.5H1258.3V2016.9H1264V2020.3H1269.7V2023.8H1274.9V2027.2H1280V2030.6H1285.1V2034H1290.3V2037.5H1297.1V2041.7H1304V2046H1310.8V2049.5H1317.7V2052.9H1322.8V2061.4H1327.9V2070H1334.8V2075.1H1341.6V2075.7H1348.5V2076.2H1353.6V2077.4H1358.8V2078.6H1365.6V2081.1H1372.5V2083.7H1377.6V2085.4H1382.7V2087.1H1391.3V2094H1399.9V2100.8H1406.7V2106H1413.6V2111.1H1420.4V2114.5H1427.3V2117.9H1432.4V2119.3H1437.5V2120.7H1441V2123.1H1447.8V2129.9H1521.4V2129.9H1523.2V2141.9H1530V2143.6H1531.7V2152.9H1586.5V2152.9" stroke="#00BFC4" stroke-width="5.2" fill="none" stroke-linejoin="miter"/>
<path d="M1156.6 1948.7v11M1152.1 1954.2h9M1158.6 1948.7v11M1154.1 1954.2h9M1161.9 1951.8v11M1157.4 1957.3h9M1163 1951.8v11M1158.5 1957.3h9M1166.3 1951.8v11M1161.8 1957.3h9M1168.2 1954.9v11M1163.7 1960.4h9M1169.9 1954.9v11M1165.4 1960.4h9M1173.1 1958.3v11M1168.6 1963.8h9M1174.5 1958.3v11M1170 1963.8h9M1177.6 1958.3v11M1173.1 1963.8h9M1179.1 1961.8v11M1174.6 1967.3h9M1181.5 1961.8v11M1177 1967.3h9M1184.4 1965.2v11M1179.9 1970.7h9M1187.6 1965.2v11M1183.1 1970.7h9M1188.4 1965.2v11M1183.9 1970.7h9M1190.9 1965.2v11M1186.4 1970.7h9M1194.1 1970v11M1189.6 1975.5h9M1197 1970v11M1192.5 1975.5h9M1198.6 1974.8v11M1194.1 1980.3h9M1200.5 1974.8v11M1196 1980.3h9M1204 1978.5v11M1199.5 1984h9M1204.4 1978.5v11M1199.9 1984h9M1208.3 1982.3v11M1203.8 1987.8h9M1209.5 1982.3v11M1205 1987.8h9M1211.5 1982.3v11M1207 1987.8h9M1213.7 1982.3v11M1209.2 1987.8h9M1216.4 1986.6v11M1211.9 1992.1h9M1219.7 1986.6v11M1215.2 1992.1h9M1220.8 1986.6v11M1216.3 1992.1h9M1223.9 1990.9v11M1219.4 1996.4h9M1226.3 1990.9v11M1221.8 1996.4h9M1228 1990.9v11M1223.5 1996.4h9M1230.7 1994.3v11M1226.2 1999.8h9M1232 1994.3v11M1227.5 1999.8h9M1234.3 1994.3v11M1229.8 1999.8h9M1236.9 1997.7v11M1232.4 2003.2h9M1240.2 1997.7v11M1235.7 2003.2h9M1242 2001.1v11M1237.5 2006.6h9M1244 2001.1v11M1239.5 2006.6h9M1246.9 2001.1v11M1242.4 2006.6h9M1248.9 2004.6v11M1244.4 2010.1h9M1250.9 2004.6v11M1246.4 2010.1h9M1254.2 2008v11M1249.7 2013.5h9M1256.3 2008v11M1251.8 2013.5h9M1257.7 2008v11M1253.2 2013.5h9M1260.6 2011.4v11M1256.1 2016.9h9M1262.9 2011.4v11M1258.4 2016.9h9M1265.9 2014.8v11M1261.4 2020.3h9M1267.9 2014.8v11M1263.4 2020.3h9M1269.3 2014.8v11M1264.8 2020.3h9M1273 2018.3v11M1268.5 2023.8h9M1273.5 2018.3v11M1269 2023.8h9M1276.4 2021.7v11M1271.9 2027.2h9M1279.4 2021.7v11M1274.9 2027.2h9M1280.5 2025.1v11M1276 2030.6h9M1283.5 2025.1v11M1279 2030.6h9M1284.9 2025.1v11M1280.4 2030.6h9M1288.4 2028.5v11M1283.9 2034h9M1290.9 2032v11M1286.4 2037.5h9M1292.8 2032v11M1288.3 2037.5h9M1295.8 2032v11M1291.3 2037.5h9M1296.9 2032v11M1292.4 2037.5h9M1300 2036.2v11M1295.5 2041.7h9M1302.1 2036.2v11M1297.6 2041.7h9M1304.4 2040.5v11M1299.9 2046h9M1306.4 2040.5v11M1301.9 2046h9M1309.5 2040.5v11M1305 2046h9M1312 2044v11M1307.5 2049.5h9M1313.3 2044v11M1308.8 2049.5h9M1316 2044v11M1311.5 2049.5h9M1317.1 2044v11M1312.6 2049.5h9M1320.7 2047.4v11M1316.2 2052.9h9M1322.9 2055.9v11M1318.4 2061.4h9M1325.9 2055.9v11M1321.4 2061.4h9M1327.8 2055.9v11M1323.3 2061.4h9M1329.1 2064.5v11M1324.6 2070h9M1331.6 2064.5v11M1327.1 2070h9M1334.4 2064.5v11M1329.9 2070h9M1335.4 2069.6v11M1330.9 2075.1h9M1338.6 2069.6v11M1334.1 2075.1h9M1340.3 2069.6v11M1335.8 2075.1h9M1342.5 2070.2v11M1338 2075.7h9M1344.7 2070.2v11M1340.2 2075.7h9M1348.4 2070.2v11M1343.9 2075.7h9M1349.5 2070.7v11M1345 2076.2h9M1352 2070.7v11M1347.5 2076.2h9M1354.6 2071.9v11M1350.1 2077.4h9M1357.8 2071.9v11M1353.3 2077.4h9M1358.6 2071.9v11M1354.1 2077.4h9M1361.6 2073.1v11M1357.1 2078.6h9M1364.1 2073.1v11M1359.6 2078.6h9M1367.1 2075.6v11M1362.6 2081.1h9M1369.2 2075.6v11M1364.7 2081.1h9M1371.6 2075.6v11M1367.1 2081.1h9M1372.8 2078.2v11M1368.3 2083.7h9M1375.3 2078.2v11M1370.8 2083.7h9M1377.5 2078.2v11M1373 2083.7h9M1380.9 2079.9v11M1376.4 2085.4h9M1383.3 2081.6v11M1378.8 2087.1h9M1384 2081.6v11M1379.5 2087.1h9M1386.4 2081.6v11M1381.9 2087.1h9M1388.8 2081.6v11M1384.3 2087.1h9M1391.1 2081.6v11M1386.6 2087.1h9M1393.9 2088.5v11M1389.4 2094h9M1396.4 2088.5v11M1391.9 2094h9M1398 2088.5v11M1393.5 2094h9M1399.8 2088.5v11M1395.3 2094h9M1402.9 2095.3v11M1398.4 2100.8h9M1405.1 2095.3v11M1400.6 2100.8h9M1407.8 2100.5v11M1403.3 2106h9M1410.9 2100.5v11M1406.4 2106h9M1412.7 2100.5v11M1408.2 2106h9M1414.6 2105.6v11M1410.1 2111.1h9M1417.1 2105.6v11M1412.6 2111.1h9M1419.6 2105.6v11M1415.1 2111.1h9M1420.6 2109v11M1416.1 2114.5h9M1424.6 2109v11M1420.1 2114.5h9M1426.7 2109v11M1422.2 2114.5h9M1429.1 2112.4v11M1424.6 2117.9h9M1431.3 2112.4v11M1426.8 2117.9h9M1432.8 2113.8v11M1428.3 2119.3h9M1435.1 2113.8v11M1430.6 2119.3h9M1436.8 2113.8v11M1432.3 2119.3h9M1440.2 2115.2v11M1435.7 2120.7h9M1441.3 2117.6v11M1436.8 2123.1h9M1447 2117.6v11M1442.5 2123.1h9M1452.2 2124.4v11M1447.7 2129.9h9M1457.4 2124.4v11M1452.9 2129.9h9M1462.6 2124.4v11M1458.1 2129.9h9M1467.8 2124.4v11M1463.3 2129.9h9M1473 2124.4v11M1468.5 2129.9h9M1478.2 2124.4v11M1473.7 2129.9h9M1483.4 2124.4v11M1478.9 2129.9h9M1488.6 2124.4v11M1484.1 2129.9h9M1493.8 2124.4v11M1489.3 2129.9h9M1499 2124.4v11M1494.5 2129.9h9M1504.2 2124.4v11M1499.7 2129.9h9M1509.4 2124.4v11M1504.9 2129.9h9M1514.6 2124.4v11M1510.1 2129.9h9M1530 2138.1v11M1525.5 2143.6h9M1537.5 2147.4v11M1533 2152.9h9M1545 2147.4v11M1540.5 2152.9h9M1552.5 2147.4v11M1548 2152.9h9M1560 2147.4v11M1555.5 2152.9h9M1567.5 2147.4v11M1563 2152.9h9M1575 2147.4v11M1570.5 2152.9h9M1582.5 2147.4v11M1578 2152.9h9" stroke="#00BFC4" stroke-width="1.8" fill="none"/>
<path d="M1160 1948.7v11M1155.5 1954.2h9M1175 1990.9v11M1170.5 1996.4h9M1196 2028.5v11M1191.5 2034h9M1205 2028.5v11M1200.5 2034h9M1210 2028.5v11M1205.5 2034h9M1222 2050.8v11M1217.5 2056.3h9M1240 2066.2v11M1235.5 2071.7h9M1258 2090.2v11M1253.5 2095.7h9M1283 2114.2v11M1278.5 2119.7h9M1292 2114.2v11M1287.5 2119.7h9M1299 2114.2v11M1294.5 2119.7h9M1305 2119.3v11M1300.5 2124.8h9M1312 2119.3v11M1307.5 2124.8h9M1340 2146.7v11M1335.5 2152.2h9M1350 2146.7v11M1345.5 2152.2h9M1363 2160.4v11M1358.5 2165.9h9M1398 2203.9v11M1393.5 2209.4h9M1418 2203.9v11M1413.5 2209.4h9M1452 2203.9v11M1447.5 2209.4h9M1508 2203.9v11M1503.5 2209.4h9M1524 2203.9v11M1519.5 2209.4h9M1568 2203.9v11M1563.5 2209.4h9" stroke="#F8766D" stroke-width="1.8" fill="none"/>
<rect x="1135.5" y="1937.6" width="454.1" height="400" fill="none" stroke="#000" stroke-width="4.4"/>
<text x="1122.5" y="1959.6" font-size="20.4" text-anchor="end">1.00</text>
<text x="1122.5" y="2051.1" font-size="20.4" text-anchor="end">0.75</text>
<text x="1122.5" y="2142.5" font-size="20.4" text-anchor="end">0.50</text>
<text x="1122.5" y="2234" font-size="20.4" text-anchor="end">0.25</text>
<text x="1122.5" y="2325.4" font-size="20.4" text-anchor="end">0.00</text>
<path d="M1133.3 1954.2h-3.3M1133.3 2045.7h-3.3M1133.3 2137.1h-3.3M1133.3 2228.6h-3.3M1133.3 2320h-3.3" stroke="#333" stroke-width="4" fill="none"/>
<path d="M1156 2339.8v3.3M1259.2 2339.8v3.3M1362.4 2339.8v3.3M1465.5 2339.8v3.3M1568.7 2339.8v3.3" stroke="#333" stroke-width="4" fill="none"/>
<text x="1156" y="2367.1" font-size="20.4" text-anchor="middle">0</text>
<text x="1259.2" y="2367.1" font-size="20.4" text-anchor="middle">1000</text>
<text x="1362.4" y="2367.1" font-size="20.4" text-anchor="middle">2000</text>
<text x="1465.5" y="2367.1" font-size="20.4" text-anchor="middle">3000</text>
<text x="1568.7" y="2367.1" font-size="20.4" text-anchor="middle">4000</text>
<text x="1310.8" y="2289.9" font-size="20.4">p = 9.3e−06</text>
<text x="1365" y="2410.6" font-size="20.4" text-anchor="middle">Time (days)</text>
<rect x="1144.3" y="2462" width="445.4" height="55" fill="#fff" stroke="#000" stroke-width="4.2"/>
<rect x="1162.4" y="2473.6" width="28.2" height="27.6" fill="#F8766D"/>
<rect x="1379.3" y="2473.6" width="28.6" height="27.6" fill="#00BFC4"/>
<text x="1202.3" y="2493" font-size="20.4">Glutathione−low</text>
<text x="1418.7" y="2493" font-size="20.4">Glutathione−high</text>
<text x="1650.8" y="1855.6" font-size="33" font-weight="bold">l</text>
<text x="1886" y="1903.9" font-size="24.6" text-anchor="middle">Glutathione and cell cycle in KIRC</text>
<text x="1662.5" y="2150.4" font-size="28.5" text-anchor="middle" transform="rotate(-90 1662.5 2150.4)">Average of G1/S and G2/M scores</text>
<rect x="1728.2" y="1921.4" width="325" height="491" fill="#fff" stroke="#000" stroke-width="4.6"/>
<text x="1714.8" y="1970.8" font-size="20.4" text-anchor="end">3</text>
<text x="1714.8" y="2078" font-size="20.4" text-anchor="end">2</text>
<text x="1714.8" y="2185.2" font-size="20.4" text-anchor="end">1</text>
<text x="1714.8" y="2292.4" font-size="20.4" text-anchor="end">0</text>
<text x="1714.8" y="2399.6" font-size="20.4" text-anchor="end">−1</text>
<path d="M1726 1965.4h-2.7M1726 2072.6h-2.7M1726 2179.8h-2.7M1726 2287h-2.7M1726 2394.2h-2.7" stroke="#333" stroke-width="4" fill="none"/>
<line x1="1822.8" y1="2093" x2="1822.8" y2="2206.2" stroke="#363636" stroke-width="4.5"/>
<line x1="1822.8" y1="2321" x2="1822.8" y2="2393.1" stroke="#363636" stroke-width="4.5"/>
<rect x="1763.1" y="2206.2" width="119.4" height="114.8" fill="#FBD7D4" stroke="#363636" stroke-width="4.5"/>
<line x1="1763.1" y1="2272.7" x2="1882.5" y2="2272.7" stroke="#363636" stroke-width="9"/>
<line x1="1956.1" y1="2196.2" x2="1956.1" y2="2270.1" stroke="#363636" stroke-width="4.5"/>
<line x1="1956.1" y1="2322.7" x2="1956.1" y2="2385.6" stroke="#363636" stroke-width="4.5"/>
<rect x="1896.4" y="2270.1" width="119.4" height="52.6" fill="#B8E9EC" stroke="#363636" stroke-width="4.5"/>
<line x1="1896.4" y1="2299.3" x2="2015.8" y2="2299.3" stroke="#363636" stroke-width="9"/>
<g fill="#e58b94" fill-opacity="0.85" stroke="#2e1014" stroke-width="1.5">
<circle cx="1813" cy="2366.7" r="3.3"/><circle cx="1829" cy="2321.3" r="3.3"/><circle cx="1853.8" cy="2300.1" r="3.3"/><circle cx="1826.1" cy="2201.2" r="3.3"/><circle cx="1779.4" cy="2326" r="3.3"/><circle cx="1806.8" cy="2355.1" r="3.3"/><circle cx="1863.5" cy="2329.9" r="3.3"/><circle cx="1803.5" cy="2269.7" r="3.3"/><circle cx="1818.8" cy="2372.7" r="3.3"/><circle cx="1832.7" cy="2231.6" r="3.3"/><circle cx="1844.8" cy="2349.3" r="3.3"/><circle cx="1859" cy="2089.8" r="3.3"/><circle cx="1828.2" cy="2225" r="3.3"/><circle cx="1809.1" cy="2220.3" r="3.3"/><circle cx="1861.8" cy="2154.4" r="3.3"/><circle cx="1783.8" cy="2326.8" r="3.3"/><circle cx="1821.9" cy="2263.2" r="3.3"/><circle cx="1823.7" cy="2278.4" r="3.3"/><circle cx="1855.2" cy="2232.2" r="3.3"/><circle cx="1799" cy="2159.7" r="3.3"/><circle cx="1848.7" cy="2209.4" r="3.3"/><circle cx="1793.8" cy="2194.6" r="3.3"/><circle cx="1851.9" cy="2305.9" r="3.3"/><circle cx="1861.1" cy="2140.2" r="3.3"/><circle cx="1859.2" cy="2310.8" r="3.3"/><circle cx="1864.5" cy="2170.3" r="3.3"/><circle cx="1844.4" cy="2338.4" r="3.3"/><circle cx="1777.3" cy="2164.4" r="3.3"/><circle cx="1826.1" cy="2283.9" r="3.3"/><circle cx="1844.7" cy="2314.3" r="3.3"/><circle cx="1854.3" cy="2241.6" r="3.3"/><circle cx="1869.4" cy="2303.9" r="3.3"/><circle cx="1848.6" cy="2203.9" r="3.3"/><circle cx="1821.2" cy="2275.5" r="3.3"/><circle cx="1789" cy="2013.6" r="3.3"/><circle cx="1853.6" cy="2191.7" r="3.3"/><circle cx="1826.9" cy="2266" r="3.3"/><circle cx="1815.6" cy="2282.2" r="3.3"/><circle cx="1822.2" cy="2215.9" r="3.3"/><circle cx="1781.4" cy="2353.7" r="3.3"/><circle cx="1819.4" cy="2297.1" r="3.3"/><circle cx="1814.4" cy="2335.3" r="3.3"/><circle cx="1828.1" cy="2245.2" r="3.3"/><circle cx="1780.6" cy="2250.5" r="3.3"/><circle cx="1804.1" cy="2387" r="3.3"/><circle cx="1783.6" cy="2289.5" r="3.3"/><circle cx="1794.6" cy="2317.6" r="3.3"/><circle cx="1790" cy="2343.2" r="3.3"/><circle cx="1782.4" cy="2333.3" r="3.3"/><circle cx="1855.8" cy="2153.4" r="3.3"/><circle cx="1795.1" cy="2254.3" r="3.3"/><circle cx="1847.8" cy="2130.8" r="3.3"/><circle cx="1817.7" cy="2336.9" r="3.3"/><circle cx="1797.4" cy="2222.6" r="3.3"/><circle cx="1852.2" cy="2287.6" r="3.3"/><circle cx="1855.2" cy="2322.9" r="3.3"/><circle cx="1798" cy="2320.9" r="3.3"/><circle cx="1839.3" cy="2238.7" r="3.3"/><circle cx="1821.6" cy="2177" r="3.3"/><circle cx="1827.5" cy="2309.8" r="3.3"/><circle cx="1792.1" cy="1986.8" r="3.3"/><circle cx="1812.3" cy="2331.4" r="3.3"/><circle cx="1828.1" cy="2180.4" r="3.3"/><circle cx="1786.8" cy="2197.2" r="3.3"/><circle cx="1860.5" cy="2261" r="3.3"/><circle cx="1828.9" cy="2188" r="3.3"/><circle cx="1856.3" cy="2252.5" r="3.3"/><circle cx="1845.2" cy="2344.7" r="3.3"/><circle cx="1820.6" cy="2294.8" r="3.3"/><circle cx="1777.8" cy="2183.1" r="3.3"/><circle cx="1794.2" cy="2185.2" r="3.3"/><circle cx="1807.4" cy="2293.7" r="3.3"/><circle cx="1863.8" cy="2273.2" r="3.3"/><circle cx="1804.3" cy="2109.3" r="3.3"/><circle cx="1791.4" cy="2211.9" r="3.3"/><circle cx="1857.8" cy="2022.2" r="3.3"/>
</g>
<g fill="#2a9a9f" fill-opacity="0.85" stroke="#05272a" stroke-width="1.5">
<circle cx="1947.1" cy="2329.1" r="3.3"/><circle cx="1930.7" cy="2332.5" r="3.3"/><circle cx="1988.5" cy="2288.7" r="3.3"/><circle cx="1949.5" cy="2372.6" r="3.3"/><circle cx="1911.3" cy="2318.8" r="3.3"/><circle cx="1983" cy="2335.3" r="3.3"/><circle cx="1992.7" cy="2204.5" r="3.3"/><circle cx="1993.4" cy="2316.9" r="3.3"/><circle cx="1961.5" cy="2321" r="3.3"/><circle cx="1967.6" cy="2343.8" r="3.3"/><circle cx="1974.1" cy="2314.3" r="3.3"/><circle cx="1967.1" cy="2355.5" r="3.3"/><circle cx="1950.5" cy="2287" r="3.3"/><circle cx="1935.5" cy="2360.4" r="3.3"/><circle cx="1928.4" cy="2281.2" r="3.3"/><circle cx="1981.6" cy="2310" r="3.3"/><circle cx="1927.7" cy="2350" r="3.3"/><circle cx="1996.9" cy="2309.9" r="3.3"/><circle cx="1969.7" cy="2310.7" r="3.3"/><circle cx="1916.4" cy="2311.4" r="3.3"/><circle cx="1973.4" cy="2253" r="3.3"/><circle cx="1987.6" cy="2260.1" r="3.3"/><circle cx="1949.3" cy="2342.2" r="3.3"/><circle cx="1973.2" cy="2334.3" r="3.3"/><circle cx="1994.6" cy="2288.7" r="3.3"/><circle cx="1972.8" cy="2316.4" r="3.3"/><circle cx="1955.6" cy="2303.4" r="3.3"/><circle cx="1986.2" cy="2339.5" r="3.3"/><circle cx="1916.3" cy="2284.7" r="3.3"/><circle cx="1976.5" cy="2335.5" r="3.3"/><circle cx="1997.6" cy="2366.1" r="3.3"/><circle cx="1997.5" cy="2352.1" r="3.3"/><circle cx="1940.4" cy="2317.5" r="3.3"/><circle cx="2001.2" cy="2254.7" r="3.3"/><circle cx="1915.3" cy="2338.6" r="3.3"/><circle cx="1964" cy="2205.7" r="3.3"/><circle cx="1952.8" cy="2328.4" r="3.3"/><circle cx="1986.9" cy="2325.6" r="3.3"/><circle cx="1983.9" cy="2244.5" r="3.3"/><circle cx="1997.3" cy="2252.7" r="3.3"/><circle cx="1958.1" cy="2288" r="3.3"/><circle cx="1994.4" cy="2302.4" r="3.3"/><circle cx="1961.9" cy="2294.2" r="3.3"/><circle cx="1932.8" cy="2283.5" r="3.3"/><circle cx="1938.3" cy="2324.6" r="3.3"/><circle cx="1937.3" cy="2298.1" r="3.3"/><circle cx="1936.8" cy="2313.2" r="3.3"/><circle cx="1972.1" cy="2346.7" r="3.3"/><circle cx="1933.5" cy="2233.6" r="3.3"/><circle cx="1939.6" cy="2268.6" r="3.3"/><circle cx="1994" cy="2321.2" r="3.3"/><circle cx="1984.4" cy="2347.3" r="3.3"/><circle cx="1982" cy="2252.2" r="3.3"/><circle cx="1934.6" cy="2299" r="3.3"/><circle cx="1999.7" cy="2299.7" r="3.3"/><circle cx="1914.7" cy="2299.2" r="3.3"/><circle cx="1991.8" cy="2280.3" r="3.3"/><circle cx="1924.7" cy="2278.1" r="3.3"/><circle cx="1956.2" cy="2314.1" r="3.3"/><circle cx="1958.1" cy="2327.8" r="3.3"/><circle cx="1924" cy="2290.5" r="3.3"/><circle cx="1941.8" cy="2316.7" r="3.3"/><circle cx="1968.4" cy="2302.7" r="3.3"/><circle cx="1926.4" cy="2305.7" r="3.3"/><circle cx="1911.5" cy="2287.2" r="3.3"/><circle cx="1971.8" cy="2257.6" r="3.3"/><circle cx="1960.3" cy="2219.9" r="3.3"/><circle cx="1972.4" cy="2330" r="3.3"/><circle cx="1977.2" cy="2340.5" r="3.3"/><circle cx="1914.6" cy="2311.6" r="3.3"/><circle cx="1990.1" cy="2269.7" r="3.3"/><circle cx="1991.2" cy="2266" r="3.3"/><circle cx="1957.7" cy="2362.1" r="3.3"/><circle cx="1918.8" cy="2354" r="3.3"/><circle cx="1965.3" cy="2269.6" r="3.3"/><circle cx="1993.9" cy="2277.5" r="3.3"/><circle cx="1912.3" cy="2309.3" r="3.3"/><circle cx="1966.3" cy="2335.8" r="3.3"/><circle cx="1979.8" cy="2222.6" r="3.3"/><circle cx="1938.5" cy="2320.8" r="3.3"/><circle cx="1967.8" cy="2254.1" r="3.3"/><circle cx="1911.2" cy="2340" r="3.3"/><circle cx="1918.6" cy="2264" r="3.3"/><circle cx="1969.6" cy="2310.5" r="3.3"/><circle cx="1913.5" cy="2317" r="3.3"/><circle cx="1940" cy="2312.5" r="3.3"/><circle cx="1930.3" cy="2312.7" r="3.3"/><circle cx="1911.6" cy="2266.6" r="3.3"/><circle cx="1975.9" cy="2271.5" r="3.3"/><circle cx="1973.5" cy="2271.2" r="3.3"/><circle cx="1962.9" cy="2327.4" r="3.3"/><circle cx="1987.5" cy="2286.7" r="3.3"/><circle cx="1982.5" cy="2341.7" r="3.3"/><circle cx="1920.6" cy="2274.7" r="3.3"/><circle cx="1952.8" cy="2294" r="3.3"/><circle cx="1946.6" cy="2318.3" r="3.3"/><circle cx="1974.4" cy="2245" r="3.3"/><circle cx="1989.9" cy="2256.5" r="3.3"/><circle cx="1958.6" cy="2273" r="3.3"/><circle cx="1964.2" cy="2318.7" r="3.3"/><circle cx="1999.5" cy="2349.7" r="3.3"/><circle cx="1977.4" cy="2262.8" r="3.3"/><circle cx="1936.6" cy="2276.3" r="3.3"/><circle cx="1983.4" cy="2277.2" r="3.3"/><circle cx="1938.9" cy="2304.9" r="3.3"/><circle cx="1951.4" cy="2239.5" r="3.3"/><circle cx="1915.9" cy="2309.5" r="3.3"/><circle cx="1983.9" cy="2273.4" r="3.3"/><circle cx="1922.5" cy="2336.1" r="3.3"/><circle cx="1963.2" cy="2329.5" r="3.3"/><circle cx="1989.5" cy="2319" r="3.3"/><circle cx="1977.3" cy="2256.3" r="3.3"/><circle cx="1959.5" cy="2304.7" r="3.3"/><circle cx="1969.6" cy="2346.1" r="3.3"/><circle cx="1978" cy="2282.8" r="3.3"/><circle cx="1977.4" cy="2316.1" r="3.3"/><circle cx="1978.2" cy="2333.2" r="3.3"/><circle cx="1981.4" cy="2282.2" r="3.3"/><circle cx="1925.4" cy="2302.5" r="3.3"/><circle cx="1961.4" cy="2279.8" r="3.3"/><circle cx="1919.8" cy="2296.2" r="3.3"/><circle cx="1912.6" cy="2274.3" r="3.3"/><circle cx="1932.4" cy="2263.5" r="3.3"/><circle cx="1917.4" cy="2272" r="3.3"/><circle cx="1984.8" cy="2269.1" r="3.3"/><circle cx="1935.1" cy="2275" r="3.3"/><circle cx="1921.4" cy="2256.8" r="3.3"/><circle cx="1935.5" cy="2234.8" r="3.3"/><circle cx="1995.5" cy="2218.1" r="3.3"/><circle cx="1976.4" cy="2284" r="3.3"/><circle cx="1941.7" cy="2247.2" r="3.3"/><circle cx="1993.6" cy="2271.6" r="3.3"/><circle cx="1956.2" cy="2321.3" r="3.3"/><circle cx="1916.1" cy="2237.7" r="3.3"/><circle cx="1962.5" cy="2330.9" r="3.3"/><circle cx="1948.8" cy="2265" r="3.3"/><circle cx="1957.7" cy="2381.6" r="3.3"/><circle cx="1951.4" cy="2294.6" r="3.3"/><circle cx="1945.7" cy="2319.8" r="3.3"/><circle cx="1986" cy="2284.5" r="3.3"/><circle cx="1992.8" cy="2238.2" r="3.3"/><circle cx="1929.5" cy="2306.1" r="3.3"/><circle cx="1925.8" cy="2307.9" r="3.3"/><circle cx="1965.5" cy="2323.3" r="3.3"/><circle cx="1968.1" cy="2253.4" r="3.3"/><circle cx="2000.7" cy="2308.4" r="3.3"/><circle cx="1946.3" cy="2211.7" r="3.3"/><circle cx="1957" cy="2252" r="3.3"/><circle cx="1944.2" cy="2322.2" r="3.3"/><circle cx="1992.8" cy="2310.9" r="3.3"/><circle cx="1999.4" cy="2312.3" r="3.3"/><circle cx="1936.4" cy="2282.6" r="3.3"/><circle cx="1928.2" cy="2262.3" r="3.3"/><circle cx="1937.3" cy="2303.6" r="3.3"/><circle cx="1947.9" cy="2270.9" r="3.3"/><circle cx="1997.4" cy="2348.8" r="3.3"/><circle cx="1978.2" cy="2291.4" r="3.3"/><circle cx="1911.7" cy="2300" r="3.3"/><circle cx="1951.1" cy="2285.2" r="3.3"/><circle cx="1914.6" cy="2253.6" r="3.3"/><circle cx="1914.5" cy="2288.2" r="3.3"/><circle cx="1929.6" cy="2315.1" r="3.3"/><circle cx="1986.7" cy="2338.1" r="3.3"/><circle cx="1977" cy="2327" r="3.3"/><circle cx="1936.4" cy="2286" r="3.3"/><circle cx="1958.3" cy="2299.5" r="3.3"/><circle cx="1971.2" cy="2320.5" r="3.3"/><circle cx="1975.2" cy="2258.8" r="3.3"/><circle cx="1964.9" cy="2332.2" r="3.3"/><circle cx="1938.1" cy="2313.7" r="3.3"/><circle cx="1982.5" cy="2243.9" r="3.3"/><circle cx="1958.5" cy="2302" r="3.3"/><circle cx="1951.3" cy="2248.7" r="3.3"/><circle cx="1965.7" cy="2304.5" r="3.3"/><circle cx="1970" cy="2341.2" r="3.3"/><circle cx="1910" cy="2287.7" r="3.3"/><circle cx="1951.5" cy="2248.3" r="3.3"/><circle cx="1936.7" cy="2328.8" r="3.3"/><circle cx="1934.8" cy="2322.9" r="3.3"/><circle cx="1971.4" cy="2301.9" r="3.3"/><circle cx="1924.4" cy="2283.8" r="3.3"/><circle cx="1982.3" cy="2272.6" r="3.3"/><circle cx="1963.5" cy="2265.5" r="3.3"/><circle cx="1950.1" cy="2337.2" r="3.3"/><circle cx="1967" cy="2262.5" r="3.3"/><circle cx="1985.4" cy="2324.1" r="3.3"/><circle cx="1994" cy="2371.6" r="3.3"/><circle cx="1944.2" cy="2322" r="3.3"/><circle cx="1998.3" cy="2309" r="3.3"/><circle cx="1937.1" cy="2285.9" r="3.3"/><circle cx="1950.9" cy="2322.4" r="3.3"/><circle cx="1961.4" cy="2353.8" r="3.3"/><circle cx="1976.6" cy="2300.8" r="3.3"/><circle cx="1936.3" cy="2295.6" r="3.3"/><circle cx="1919.9" cy="2275.2" r="3.3"/><circle cx="1968.6" cy="2293.5" r="3.3"/><circle cx="1919.4" cy="2298.5" r="3.3"/><circle cx="1946.1" cy="2246.4" r="3.3"/><circle cx="1990.3" cy="2344.7" r="3.3"/><circle cx="1986.2" cy="2275.9" r="3.3"/><circle cx="1917.8" cy="2334.7" r="3.3"/><circle cx="1995.1" cy="2345.3" r="3.3"/><circle cx="1988.8" cy="2249.2" r="3.3"/><circle cx="1981.4" cy="2303.2" r="3.3"/><circle cx="1993.2" cy="2349.4" r="3.3"/><circle cx="1925.6" cy="2195.9" r="3.3"/><circle cx="1945.4" cy="2289.4" r="3.3"/><circle cx="1929.2" cy="2281.4" r="3.3"/><circle cx="1927.5" cy="2321.6" r="3.3"/><circle cx="1917.8" cy="2306.9" r="3.3"/><circle cx="1985.1" cy="2220.8" r="3.3"/><circle cx="1939.5" cy="2331.2" r="3.3"/><circle cx="1930.6" cy="2320" r="3.3"/><circle cx="1966.7" cy="2213.9" r="3.3"/><circle cx="1926" cy="2293.2" r="3.3"/><circle cx="1967" cy="2315.6" r="3.3"/><circle cx="1921" cy="2322.8" r="3.3"/><circle cx="1924.1" cy="2268.3" r="3.3"/><circle cx="1997.1" cy="2273.7" r="3.3"/><circle cx="1966.1" cy="2290.6" r="3.3"/><circle cx="1938.7" cy="2301.1" r="3.3"/><circle cx="1921.3" cy="2260.3" r="3.3"/><circle cx="1921.3" cy="2346" r="3.3"/><circle cx="1923.2" cy="2279.4" r="3.3"/><circle cx="1977" cy="2319.5" r="3.3"/><circle cx="1921.9" cy="2304.3" r="3.3"/><circle cx="1981.8" cy="2351.7" r="3.3"/><circle cx="1986.7" cy="2362.7" r="3.3"/><circle cx="1942.2" cy="2267.7" r="3.3"/><circle cx="1924.4" cy="2336.6" r="3.3"/><circle cx="1979.5" cy="2228.6" r="3.3"/><circle cx="1911.4" cy="2329.8" r="3.3"/><circle cx="1929.2" cy="2308.2" r="3.3"/><circle cx="1964.2" cy="2330.3" r="3.3"/><circle cx="1956.9" cy="2295" r="3.3"/><circle cx="1942.4" cy="2251.2" r="3.3"/><circle cx="1941.8" cy="2224.6" r="3.3"/><circle cx="1970.4" cy="2301.1" r="3.3"/><circle cx="1987.2" cy="2260.8" r="3.3"/><circle cx="1977.8" cy="2281.8" r="3.3"/><circle cx="1981.3" cy="2286.4" r="3.3"/><circle cx="1922.3" cy="2364.3" r="3.3"/><circle cx="1941.5" cy="2276.5" r="3.3"/><circle cx="1975.6" cy="2291.4" r="3.3"/><circle cx="1910.3" cy="2270" r="3.3"/><circle cx="1944.3" cy="2339" r="3.3"/><circle cx="1924" cy="2331.8" r="3.3"/><circle cx="1999.3" cy="2280.9" r="3.3"/><circle cx="1986.1" cy="2314.7" r="3.3"/><circle cx="1925.6" cy="2311.1" r="3.3"/><circle cx="1962.4" cy="2264.8" r="3.3"/><circle cx="1975.6" cy="2258.1" r="3.3"/><circle cx="1950.8" cy="2333.5" r="3.3"/><circle cx="1931.9" cy="2325" r="3.3"/><circle cx="1941.8" cy="2282.1" r="3.3"/><circle cx="1978.5" cy="2164.8" r="3.3"/><circle cx="1936.6" cy="2242.1" r="3.3"/><circle cx="2001.7" cy="2285.6" r="3.3"/><circle cx="1918.4" cy="2189.4" r="3.3"/><circle cx="1991.2" cy="2267.5" r="3.3"/><circle cx="1988.9" cy="2293.7" r="3.3"/><circle cx="1927.5" cy="2332.8" r="3.3"/><circle cx="1937.4" cy="2215.7" r="3.3"/><circle cx="1949.5" cy="2378.3" r="3.3"/><circle cx="1987.8" cy="2297.4" r="3.3"/><circle cx="1988.5" cy="2343.4" r="3.3"/><circle cx="1940.4" cy="2292.8" r="3.3"/><circle cx="1999.4" cy="2315.7" r="3.3"/><circle cx="1929.1" cy="2250" r="3.3"/><circle cx="1952.7" cy="2267.2" r="3.3"/><circle cx="1964.9" cy="2335.2" r="3.3"/><circle cx="1915.2" cy="2235.6" r="3.3"/><circle cx="1985.4" cy="2317.7" r="3.3"/><circle cx="1963.5" cy="2238.8" r="3.3"/><circle cx="1944.8" cy="2240.8" r="3.3"/><circle cx="1979.6" cy="2373.4" r="3.3"/><circle cx="1911" cy="2366.8" r="3.3"/><circle cx="1913" cy="2315.9" r="3.3"/><circle cx="1998.2" cy="2301.4" r="3.3"/><circle cx="1964" cy="2347.9" r="3.3"/><circle cx="1942.7" cy="2208.5" r="3.3"/><circle cx="1975.7" cy="2312.1" r="3.3"/><circle cx="1933.6" cy="2251.5" r="3.3"/><circle cx="1996.2" cy="2278.6" r="3.3"/><circle cx="1951" cy="2292" r="3.3"/><circle cx="1933.5" cy="2337.9" r="3.3"/><circle cx="1999.6" cy="2313.3" r="3.3"/><circle cx="1973.5" cy="2289.1" r="3.3"/><circle cx="1968.8" cy="2293" r="3.3"/><circle cx="1912" cy="2200.3" r="3.3"/><circle cx="1975" cy="2284.9" r="3.3"/><circle cx="1938.9" cy="2356.8" r="3.3"/><circle cx="1972.8" cy="2306.7" r="3.3"/><circle cx="1931.7" cy="2247.3" r="3.3"/><circle cx="1944.3" cy="2275.4" r="3.3"/><circle cx="1995" cy="2383" r="3.3"/><circle cx="1921.5" cy="2331.5" r="3.3"/><circle cx="1916.6" cy="2299.9" r="3.3"/><circle cx="1938.3" cy="2279" r="3.3"/><circle cx="1918.9" cy="2300.6" r="3.3"/><circle cx="1926" cy="2233.3" r="3.3"/><circle cx="1971.5" cy="2326.8" r="3.3"/><circle cx="1999.5" cy="2325.9" r="3.3"/><circle cx="1937.8" cy="2342.7" r="3.3"/><circle cx="1969.7" cy="2333.5" r="3.3"/><circle cx="1986.9" cy="2337.5" r="3.3"/><circle cx="1966.5" cy="2308.6" r="3.3"/><circle cx="1989.2" cy="2277.6" r="3.3"/><circle cx="1991.5" cy="2323.6" r="3.3"/><circle cx="1982.9" cy="2278.7" r="3.3"/><circle cx="1938.8" cy="2311.9" r="3.3"/><circle cx="1948.9" cy="2188.4" r="3.3"/><circle cx="1984.9" cy="2270.3" r="3.3"/><circle cx="1945.5" cy="2157.3" r="3.3"/><circle cx="1932.8" cy="2352.4" r="3.3"/><circle cx="1983.8" cy="2253.7" r="3.3"/><circle cx="1981.3" cy="2301.6" r="3.3"/><circle cx="1970.9" cy="2305.9" r="3.3"/><circle cx="1957" cy="2232.1" r="3.3"/><circle cx="1937.6" cy="2302.9" r="3.3"/><circle cx="1935.4" cy="2198" r="3.3"/><circle cx="1929.1" cy="2309.7" r="3.3"/><circle cx="1994" cy="2306.6" r="3.3"/><circle cx="1967.6" cy="2284.3" r="3.3"/><circle cx="1962.3" cy="2344.5" r="3.3"/><circle cx="1985.6" cy="2257.3" r="3.3"/><circle cx="1998.9" cy="2263.1" r="3.3"/><circle cx="1938.3" cy="2250.4" r="3.3"/><circle cx="1970.5" cy="2225.1" r="3.3"/><circle cx="1993.9" cy="2266.3" r="3.3"/><circle cx="1961.4" cy="2297.9" r="3.3"/><circle cx="1924.3" cy="2280.7" r="3.3"/><circle cx="1934.1" cy="2243.3" r="3.3"/><circle cx="1928" cy="2234.4" r="3.3"/><circle cx="1927" cy="2297" r="3.3"/><circle cx="1925.5" cy="2296.6" r="3.3"/><circle cx="1996.8" cy="2255.3" r="3.3"/><circle cx="1972.9" cy="2323.7" r="3.3"/><circle cx="1970.2" cy="2259.3" r="3.3"/><circle cx="1973.8" cy="2300.3" r="3.3"/><circle cx="1962.1" cy="2359.3" r="3.3"/><circle cx="1942.7" cy="2240.1" r="3.3"/><circle cx="1958.9" cy="2341.1" r="3.3"/><circle cx="1924.1" cy="2327.9" r="3.3"/><circle cx="1973.5" cy="2264.3" r="3.3"/><circle cx="1910.5" cy="2305.3" r="3.3"/><circle cx="1948.5" cy="2241.1" r="3.3"/><circle cx="1947.7" cy="2327.1" r="3.3"/><circle cx="1969.2" cy="2255.7" r="3.3"/><circle cx="1925.1" cy="2306.3" r="3.3"/><circle cx="1923.6" cy="2297.5" r="3.3"/><circle cx="1982.5" cy="2304" r="3.3"/><circle cx="1968" cy="2305.5" r="3.3"/><circle cx="1987.4" cy="2283.1" r="3.3"/><circle cx="1957.9" cy="2318.1" r="3.3"/><circle cx="1936.4" cy="2287.4" r="3.3"/><circle cx="1967.2" cy="2332" r="3.3"/><circle cx="1937.1" cy="2272.3" r="3.3"/><circle cx="1962.4" cy="2272.8" r="3.3"/><circle cx="1935.6" cy="2265.9" r="3.3"/><circle cx="1931.9" cy="2270.6" r="3.3"/><circle cx="1980.5" cy="2314.8" r="3.3"/><circle cx="1921.9" cy="2276.8" r="3.3"/><circle cx="1950.9" cy="2289.8" r="3.3"/><circle cx="1968.7" cy="2259.6" r="3.3"/><circle cx="1974" cy="2292.4" r="3.3"/><circle cx="1977.9" cy="2307.2" r="3.3"/><circle cx="1967.1" cy="2263.8" r="3.3"/><circle cx="1955.2" cy="2289.6" r="3.3"/><circle cx="1957.6" cy="2254.6" r="3.3"/><circle cx="1953.6" cy="2150.9" r="3.3"/><circle cx="1923.3" cy="2292.1" r="3.3"/><circle cx="1929.1" cy="2273.8" r="3.3"/><circle cx="1919.9" cy="2317.3" r="3.3"/><circle cx="1991.8" cy="2261.8" r="3.3"/><circle cx="1917" cy="2348.5" r="3.3"/><circle cx="1965.3" cy="2310.3" r="3.3"/><circle cx="1927.8" cy="2351" r="3.3"/><circle cx="1913.3" cy="2298.3" r="3.3"/><circle cx="1958.6" cy="2236" r="3.3"/><circle cx="1918.5" cy="2274.2" r="3.3"/><circle cx="1911.1" cy="2337.6" r="3.3"/><circle cx="1988.6" cy="2257.8" r="3.3"/><circle cx="1926.8" cy="2295.5" r="3.3"/><circle cx="1979" cy="2336.5" r="3.3"/><circle cx="1947.4" cy="2319.1" r="3.3"/><circle cx="1958.9" cy="2324.4" r="3.3"/><circle cx="1916.7" cy="2333.9" r="3.3"/><circle cx="1989" cy="2315.2" r="3.3"/><circle cx="1976.4" cy="2278.1" r="3.3"/><circle cx="1937" cy="2307.8" r="3.3"/><circle cx="1962.4" cy="2325.7" r="3.3"/><circle cx="1915.7" cy="2350.4" r="3.3"/><circle cx="1935.8" cy="2334.6" r="3.3"/><circle cx="2001.4" cy="2358.5" r="3.3"/><circle cx="1946.9" cy="2321.9" r="3.3"/><circle cx="1955.8" cy="2290.3" r="3.3"/><circle cx="1971.2" cy="2258.4" r="3.3"/><circle cx="1987.9" cy="2312.9" r="3.3"/><circle cx="1977.3" cy="2237.5" r="3.3"/><circle cx="1924.6" cy="2276.1" r="3.3"/><circle cx="1984.7" cy="2227" r="3.3"/><circle cx="1977.5" cy="2325.4" r="3.3"/><circle cx="1992.1" cy="2295.9" r="3.3"/><circle cx="1995.5" cy="2268" r="3.3"/><circle cx="1937.7" cy="2209.6" r="3.3"/><circle cx="1949.7" cy="2243.1" r="3.3"/><circle cx="1965.2" cy="2369.3" r="3.3"/><circle cx="1961.4" cy="2241.9" r="3.3"/><circle cx="1930.2" cy="2307.5" r="3.3"/><circle cx="1985.5" cy="2294.9" r="3.3"/><circle cx="1910.2" cy="2368" r="3.3"/><circle cx="1928.1" cy="2245.7" r="3.3"/><circle cx="1927.3" cy="2215" r="3.3"/><circle cx="1953.7" cy="2259.7" r="3.3"/><circle cx="1914.3" cy="2261.3" r="3.3"/><circle cx="1955.5" cy="2328.7" r="3.3"/><circle cx="1971" cy="2308.7" r="3.3"/><circle cx="1970.4" cy="2305.1" r="3.3"/><circle cx="1981" cy="2303.9" r="3.3"/><circle cx="1911" cy="2317.9" r="3.3"/><circle cx="1916.8" cy="2314.4" r="3.3"/><circle cx="1987.2" cy="2279.7" r="3.3"/><circle cx="1968.6" cy="2255.6" r="3.3"/><circle cx="1983.4" cy="2330.7" r="3.3"/><circle cx="1938" cy="2375.6" r="3.3"/><circle cx="1989.7" cy="2313.5" r="3.3"/><circle cx="1936.3" cy="2319.7" r="3.3"/><circle cx="1916.6" cy="2229.8" r="3.3"/><circle cx="1936.5" cy="2280.2" r="3.3"/><circle cx="1949.9" cy="2326.3" r="3.3"/><circle cx="1978.7" cy="2236.6" r="3.3"/><circle cx="1996.3" cy="2353" r="3.3"/><circle cx="1987.2" cy="2291.1" r="3.3"/><circle cx="1952.8" cy="2296.7" r="3.3"/><circle cx="1980" cy="2261.1" r="3.3"/><circle cx="1938.3" cy="2320.4" r="3.3"/>
</g>
<path d="M1823 1975.5V1965.5H1956.2V1975.5" stroke="#000" stroke-width="3.6" fill="none"/>
<text x="1889" y="1954.8" font-size="20.4" text-anchor="middle">p = 3.4e−05</text>
</svg></body></html>
